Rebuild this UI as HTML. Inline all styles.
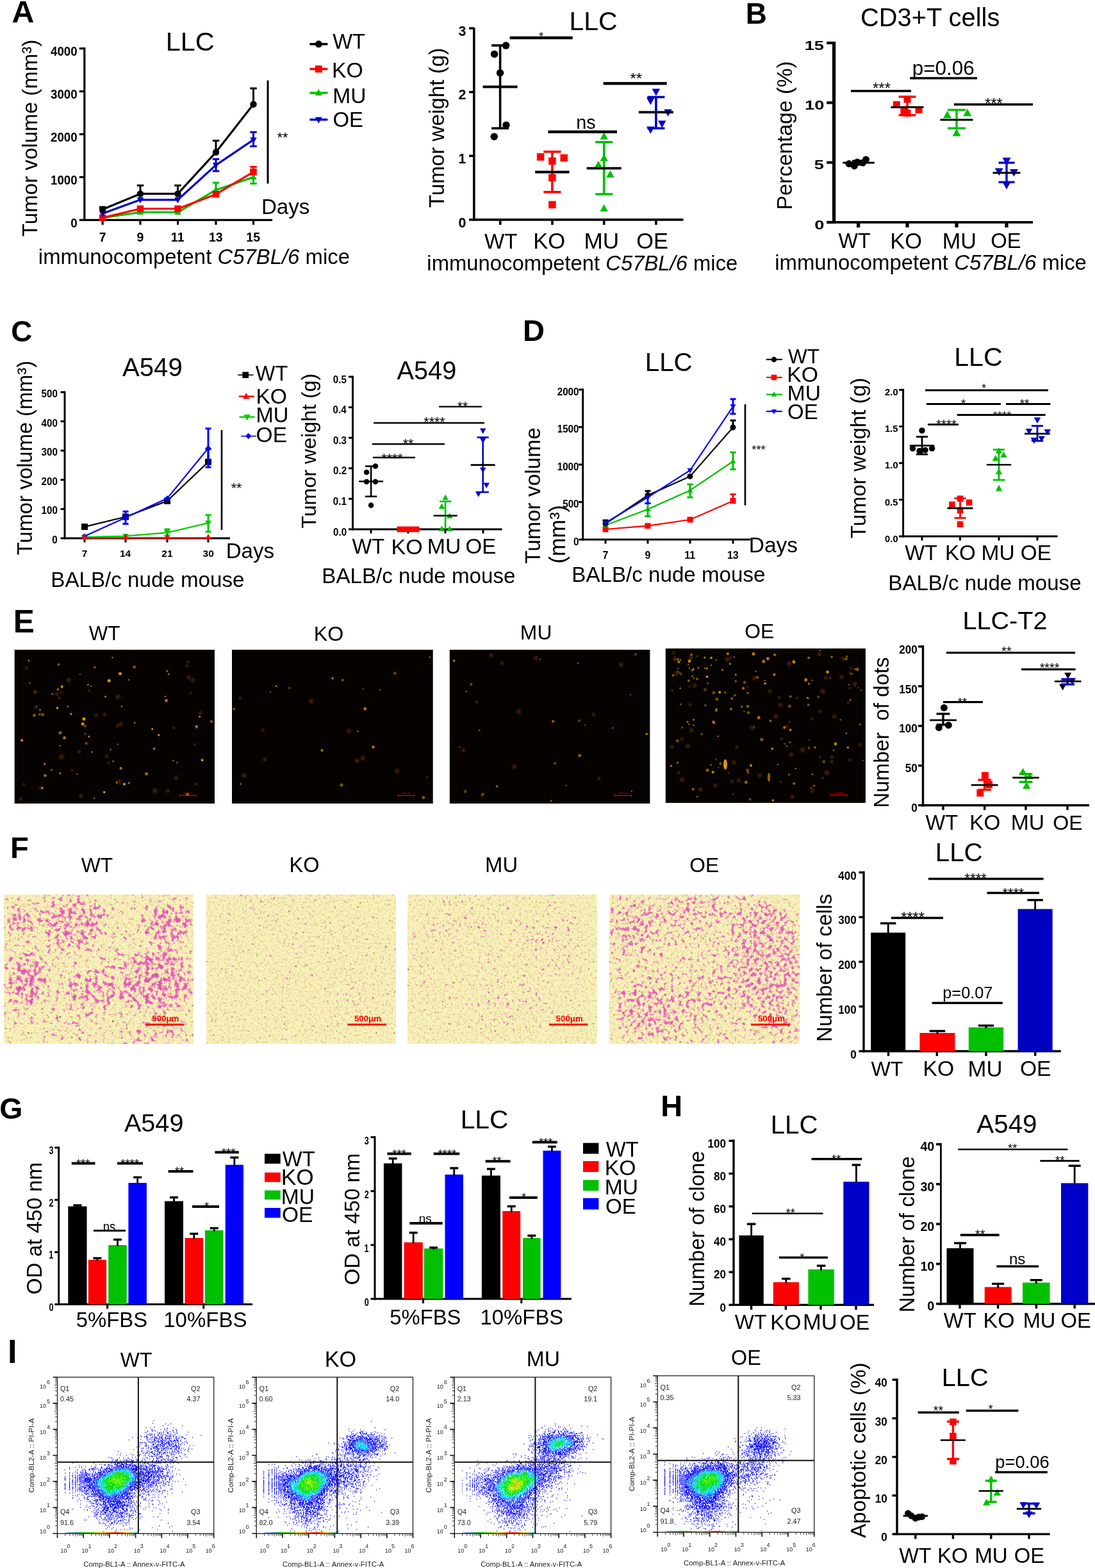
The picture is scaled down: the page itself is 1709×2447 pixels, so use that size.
<!DOCTYPE html>
<html><head><meta charset="utf-8"><title>Figure</title>
<style>html,body{margin:0;padding:0;background:#fff;}svg{display:block;}
text{font-family:"Liberation Sans",Arial,Helvetica,sans-serif;}</style></head>
<body><svg width="1709" height="2447" viewBox="0 0 1709 2447">
<rect width="1709" height="2447" fill="#fff"/>
<text transform="translate(18.39,34.58)" font-size="48.36" font-weight="bold">A</text>
<text transform="translate(258.69,79.03)" font-size="41.40">LLC</text>
<line x1="131.80" y1="74.10" x2="131.80" y2="344.90" stroke="#000" stroke-width="3.20"/>
<line x1="130.20" y1="343.30" x2="425.00" y2="343.30" stroke="#000" stroke-width="3.20"/>
<line x1="123.80" y1="343.30" x2="131.80" y2="343.30" stroke="#000" stroke-width="3.20"/>
<line x1="123.80" y1="276.40" x2="131.80" y2="276.40" stroke="#000" stroke-width="3.20"/>
<line x1="123.80" y1="209.50" x2="131.80" y2="209.50" stroke="#000" stroke-width="3.20"/>
<line x1="123.80" y1="142.60" x2="131.80" y2="142.60" stroke="#000" stroke-width="3.20"/>
<line x1="123.80" y1="75.70" x2="131.80" y2="75.70" stroke="#000" stroke-width="3.20"/>
<line x1="160.10" y1="343.30" x2="160.10" y2="350.80" stroke="#000" stroke-width="3.20"/>
<line x1="219.00" y1="343.30" x2="219.00" y2="350.80" stroke="#000" stroke-width="3.20"/>
<line x1="277.50" y1="343.30" x2="277.50" y2="350.80" stroke="#000" stroke-width="3.20"/>
<line x1="337.00" y1="343.30" x2="337.00" y2="350.80" stroke="#000" stroke-width="3.20"/>
<line x1="395.50" y1="343.30" x2="395.50" y2="350.80" stroke="#000" stroke-width="3.20"/>
<text transform="translate(110.26,354.53) scale(0.960,1)" font-size="19.50" font-weight="bold">0</text>
<text transform="translate(79.00,287.63) scale(0.960,1)" font-size="19.50" font-weight="bold">1000</text>
<text transform="translate(79.00,220.73) scale(0.960,1)" font-size="19.50" font-weight="bold">2000</text>
<text transform="translate(79.00,153.83) scale(0.960,1)" font-size="19.50" font-weight="bold">3000</text>
<text transform="translate(79.00,86.93) scale(0.960,1)" font-size="19.50" font-weight="bold">4000</text>
<text transform="translate(154.69,376.93)" font-size="19.50" font-weight="bold">7</text>
<text transform="translate(213.59,376.93)" font-size="19.50" font-weight="bold">9</text>
<text transform="translate(266.87,376.93)" font-size="19.50" font-weight="bold">11</text>
<text transform="translate(325.93,376.93)" font-size="19.50" font-weight="bold">13</text>
<text transform="translate(384.34,376.83)" font-size="19.50" font-weight="bold">15</text>
<polyline points="160.10,339.95 219.00,331.26 277.50,331.26 337.00,296.47 395.50,276.40" fill="none" stroke="#00c000" stroke-width="3.2" stroke-linejoin="round"/>
<path d="M160.10 334.28L165.35 343.73L154.85 343.73Z" fill="#00c000"/>
<path d="M219.00 325.59L224.25 335.04L213.75 335.04Z" fill="#00c000"/>
<path d="M277.50 325.59L282.75 335.04L272.25 335.04Z" fill="#00c000"/>
<line x1="337.00" y1="285.10" x2="337.00" y2="296.47" stroke="#00c000" stroke-width="3.00"/>
<line x1="331.70" y1="285.10" x2="342.30" y2="285.10" stroke="#00c000" stroke-width="3.00"/>
<path d="M337.00 290.80L342.25 300.25L331.75 300.25Z" fill="#00c000"/>
<line x1="395.50" y1="266.37" x2="395.50" y2="276.40" stroke="#00c000" stroke-width="3.00"/>
<line x1="390.20" y1="266.37" x2="400.80" y2="266.37" stroke="#00c000" stroke-width="3.00"/>
<line x1="395.50" y1="286.44" x2="395.50" y2="276.40" stroke="#00c000" stroke-width="3.00"/>
<line x1="390.20" y1="286.44" x2="400.80" y2="286.44" stroke="#00c000" stroke-width="3.00"/>
<path d="M395.50 270.73L400.75 280.18L390.25 280.18Z" fill="#00c000"/>
<polyline points="160.10,339.82 219.00,325.77 277.50,325.77 337.00,303.16 395.50,268.37" fill="none" stroke="#ff0000" stroke-width="3.2" stroke-linejoin="round"/>
<rect x="154.85" y="334.57" width="10.50" height="10.50" fill="#ff0000"/>
<rect x="213.75" y="320.52" width="10.50" height="10.50" fill="#ff0000"/>
<rect x="272.25" y="320.52" width="10.50" height="10.50" fill="#ff0000"/>
<rect x="331.75" y="297.91" width="10.50" height="10.50" fill="#ff0000"/>
<line x1="395.50" y1="260.34" x2="395.50" y2="268.37" stroke="#ff0000" stroke-width="3.00"/>
<line x1="390.20" y1="260.34" x2="400.80" y2="260.34" stroke="#ff0000" stroke-width="3.00"/>
<rect x="390.25" y="263.12" width="10.50" height="10.50" fill="#ff0000"/>
<polyline points="160.10,333.26 219.00,311.79 277.50,311.79 337.00,257.67 395.50,218.20" fill="none" stroke="#0000c8" stroke-width="3.2" stroke-linejoin="round"/>
<path d="M160.10 338.94L165.35 329.49L154.85 329.49Z" fill="#0000c8"/>
<path d="M219.00 317.46L224.25 308.01L213.75 308.01Z" fill="#0000c8"/>
<path d="M277.50 317.46L282.75 308.01L272.25 308.01Z" fill="#0000c8"/>
<line x1="337.00" y1="248.30" x2="337.00" y2="257.67" stroke="#0000c8" stroke-width="3.00"/>
<line x1="331.70" y1="248.30" x2="342.30" y2="248.30" stroke="#0000c8" stroke-width="3.00"/>
<line x1="337.00" y1="267.03" x2="337.00" y2="257.67" stroke="#0000c8" stroke-width="3.00"/>
<line x1="331.70" y1="267.03" x2="342.30" y2="267.03" stroke="#0000c8" stroke-width="3.00"/>
<path d="M337.00 263.34L342.25 253.89L331.75 253.89Z" fill="#0000c8"/>
<line x1="395.50" y1="206.16" x2="395.50" y2="218.20" stroke="#0000c8" stroke-width="3.00"/>
<line x1="390.20" y1="206.16" x2="400.80" y2="206.16" stroke="#0000c8" stroke-width="3.00"/>
<line x1="395.50" y1="228.23" x2="395.50" y2="218.20" stroke="#0000c8" stroke-width="3.00"/>
<line x1="390.20" y1="228.23" x2="400.80" y2="228.23" stroke="#0000c8" stroke-width="3.00"/>
<path d="M395.50 223.87L400.75 214.42L390.25 214.42Z" fill="#0000c8"/>
<polyline points="160.10,326.78 219.00,302.42 277.50,302.42 337.00,237.60 395.50,162.67" fill="none" stroke="#000000" stroke-width="3.2" stroke-linejoin="round"/>
<line x1="160.10" y1="323.23" x2="160.10" y2="326.78" stroke="#000000" stroke-width="3.00"/>
<line x1="154.80" y1="323.23" x2="165.40" y2="323.23" stroke="#000000" stroke-width="3.00"/>
<circle cx="160.10" cy="326.78" r="5.25" fill="#000000"/>
<line x1="219.00" y1="289.38" x2="219.00" y2="302.42" stroke="#000000" stroke-width="3.00"/>
<line x1="213.70" y1="289.38" x2="224.30" y2="289.38" stroke="#000000" stroke-width="3.00"/>
<circle cx="219.00" cy="302.42" r="5.25" fill="#000000"/>
<line x1="277.50" y1="289.38" x2="277.50" y2="302.42" stroke="#000000" stroke-width="3.00"/>
<line x1="272.20" y1="289.38" x2="282.80" y2="289.38" stroke="#000000" stroke-width="3.00"/>
<circle cx="277.50" cy="302.42" r="5.25" fill="#000000"/>
<line x1="337.00" y1="219.53" x2="337.00" y2="237.60" stroke="#000000" stroke-width="3.00"/>
<line x1="331.70" y1="219.53" x2="342.30" y2="219.53" stroke="#000000" stroke-width="3.00"/>
<circle cx="337.00" cy="237.60" r="5.25" fill="#000000"/>
<line x1="395.50" y1="137.92" x2="395.50" y2="162.67" stroke="#000000" stroke-width="3.00"/>
<line x1="390.20" y1="137.92" x2="400.80" y2="137.92" stroke="#000000" stroke-width="3.00"/>
<circle cx="395.50" cy="162.67" r="5.25" fill="#000000"/>
<line x1="483.40" y1="68.80" x2="511.30" y2="68.80" stroke="#000000" stroke-width="3.50"/>
<circle cx="497.30" cy="68.80" r="5.50" fill="#000000"/>
<text transform="translate(519.14,75.82)" font-size="32.68">WT</text>
<line x1="483.40" y1="107.70" x2="511.30" y2="107.70" stroke="#ff0000" stroke-width="3.50"/>
<rect x="491.80" y="102.20" width="11.00" height="11.00" fill="#ff0000"/>
<text transform="translate(517.90,120.70)" font-size="33.76">KO</text>
<line x1="483.40" y1="145.00" x2="511.30" y2="145.00" stroke="#00c000" stroke-width="3.50"/>
<path d="M497.30 139.06L502.80 148.96L491.80 148.96Z" fill="#00c000"/>
<text transform="translate(519.21,161.01)" font-size="33.57">MU</text>
<line x1="483.40" y1="186.70" x2="511.30" y2="186.70" stroke="#0000c8" stroke-width="3.50"/>
<path d="M497.30 192.64L502.80 182.74L491.80 182.74Z" fill="#0000c8"/>
<text transform="translate(519.42,198.19)" font-size="32.87">OE</text>
<line x1="418.00" y1="125.50" x2="418.00" y2="286.50" stroke="#000" stroke-width="3.00"/>
<text x="441.00" y="222.00" font-size="22.00" text-anchor="middle">**</text>
<text transform="translate(407.95,334.30)" font-size="33.12">Days</text>
<text transform="translate(59.86,412.47)" font-size="32.88"><tspan>immunocompetent </tspan><tspan font-style="italic">C57BL/6</tspan><tspan> mice</tspan></text>
<text transform="translate(57.52,369.16) rotate(-90)" font-size="33.09">Tumor volume (mm³)</text>
<line x1="739.80" y1="43.20" x2="739.80" y2="344.70" stroke="#000" stroke-width="3.60"/>
<line x1="738.00" y1="342.90" x2="1066.50" y2="342.90" stroke="#000" stroke-width="3.60"/>
<line x1="732.10" y1="342.90" x2="739.80" y2="342.90" stroke="#000" stroke-width="3.60"/>
<line x1="732.10" y1="243.30" x2="739.80" y2="243.30" stroke="#000" stroke-width="3.60"/>
<line x1="732.10" y1="143.70" x2="739.80" y2="143.70" stroke="#000" stroke-width="3.60"/>
<line x1="732.10" y1="44.10" x2="739.80" y2="44.10" stroke="#000" stroke-width="3.60"/>
<line x1="780.80" y1="342.90" x2="780.80" y2="350.90" stroke="#000" stroke-width="3.60"/>
<line x1="861.90" y1="342.90" x2="861.90" y2="350.90" stroke="#000" stroke-width="3.60"/>
<line x1="942.70" y1="342.90" x2="942.70" y2="350.90" stroke="#000" stroke-width="3.60"/>
<line x1="1023.90" y1="342.90" x2="1023.90" y2="350.90" stroke="#000" stroke-width="3.60"/>
<text transform="translate(715.53,354.52)" font-size="21.50" font-weight="bold">0</text>
<text transform="translate(715.21,254.92)" font-size="21.50" font-weight="bold">1</text>
<text transform="translate(715.53,155.43)" font-size="21.50" font-weight="bold">2</text>
<text transform="translate(715.42,55.72)" font-size="21.50" font-weight="bold">3</text>
<text transform="translate(888.52,46.89)" font-size="40.99">LLC</text>
<text transform="translate(693.30,324.26) rotate(-90)" font-size="33.19">Tumor weight (g)</text>
<text transform="translate(755.93,387.58)" font-size="33.14">WT</text>
<text transform="translate(832.23,388.11)" font-size="34.68">KO</text>
<text transform="translate(911.48,388.12)" font-size="35.21">MU</text>
<text transform="translate(993.15,388.02)" font-size="34.41">OE</text>
<text transform="translate(666.37,421.85)" font-size="32.81"><tspan>immunocompetent </tspan><tspan font-style="italic">C57BL/6</tspan><tspan> mice</tspan></text>
<line x1="780.60" y1="70.90" x2="780.60" y2="135.50" stroke="#000000" stroke-width="3.60"/><line x1="767.10" y1="70.90" x2="794.10" y2="70.90" stroke="#000000" stroke-width="3.60"/><line x1="780.60" y1="135.50" x2="780.60" y2="200.20" stroke="#000000" stroke-width="3.60"/><line x1="767.10" y1="200.20" x2="794.10" y2="200.20" stroke="#000000" stroke-width="3.60"/><circle cx="789.60" cy="71.10" r="5.75" fill="#000000"/><circle cx="771.60" cy="84.40" r="5.75" fill="#000000"/><circle cx="780.60" cy="113.80" r="5.75" fill="#000000"/><circle cx="790.00" cy="195.30" r="5.75" fill="#000000"/><circle cx="771.30" cy="213.20" r="5.75" fill="#000000"/><line x1="753.60" y1="135.50" x2="807.60" y2="135.50" stroke="#000" stroke-width="3.80"/>
<line x1="861.90" y1="236.80" x2="861.90" y2="268.50" stroke="#ff0000" stroke-width="3.60"/><line x1="848.40" y1="236.80" x2="875.40" y2="236.80" stroke="#ff0000" stroke-width="3.60"/><line x1="861.90" y1="268.50" x2="861.90" y2="299.70" stroke="#ff0000" stroke-width="3.60"/><line x1="848.40" y1="299.70" x2="875.40" y2="299.70" stroke="#ff0000" stroke-width="3.60"/><rect x="837.85" y="239.15" width="11.50" height="11.50" fill="#ff0000"/><rect x="856.15" y="245.65" width="11.50" height="11.50" fill="#ff0000"/><rect x="874.45" y="240.75" width="11.50" height="11.50" fill="#ff0000"/><rect x="856.15" y="271.75" width="11.50" height="11.50" fill="#ff0000"/><rect x="856.15" y="313.75" width="11.50" height="11.50" fill="#ff0000"/><line x1="835.20" y1="268.50" x2="888.60" y2="268.50" stroke="#000" stroke-width="3.80"/>
<line x1="942.70" y1="221.80" x2="942.70" y2="262.60" stroke="#00c000" stroke-width="3.60"/><line x1="929.20" y1="221.80" x2="956.20" y2="221.80" stroke="#00c000" stroke-width="3.60"/><line x1="942.70" y1="262.60" x2="942.70" y2="303.00" stroke="#00c000" stroke-width="3.60"/><line x1="929.20" y1="303.00" x2="956.20" y2="303.00" stroke="#00c000" stroke-width="3.60"/><path d="M942.70 206.45L948.95 217.70L936.45 217.70Z" fill="#00c000"/><path d="M934.00 250.65L940.25 261.90L927.75 261.90Z" fill="#00c000"/><path d="M942.70 240.15L948.95 251.40L936.45 251.40Z" fill="#00c000"/><path d="M952.40 265.65L958.65 276.90L946.15 276.90Z" fill="#00c000"/><path d="M942.70 318.75L948.95 330.00L936.45 330.00Z" fill="#00c000"/><line x1="915.70" y1="262.60" x2="969.70" y2="262.60" stroke="#000" stroke-width="3.80"/>
<line x1="1023.90" y1="151.50" x2="1023.90" y2="175.10" stroke="#0000c8" stroke-width="3.60"/><line x1="1010.40" y1="151.50" x2="1037.40" y2="151.50" stroke="#0000c8" stroke-width="3.60"/><line x1="1023.90" y1="175.10" x2="1023.90" y2="200.20" stroke="#0000c8" stroke-width="3.60"/><line x1="1010.40" y1="200.20" x2="1037.40" y2="200.20" stroke="#0000c8" stroke-width="3.60"/><path d="M1023.90 149.65L1030.15 138.40L1017.65 138.40Z" fill="#0000c8"/><path d="M1015.30 163.85L1021.55 152.60L1009.05 152.60Z" fill="#0000c8"/><path d="M1042.60 181.85L1048.85 170.60L1036.35 170.60Z" fill="#0000c8"/><path d="M1033.20 199.45L1039.45 188.20L1026.95 188.20Z" fill="#0000c8"/><path d="M1015.30 208.75L1021.55 197.50L1009.05 197.50Z" fill="#0000c8"/><line x1="996.90" y1="175.10" x2="1050.90" y2="175.10" stroke="#000" stroke-width="3.80"/>
<line x1="795.60" y1="59.10" x2="893.70" y2="59.10" stroke="#000" stroke-width="4.50"/>
<text transform="translate(840.98,63.31)" font-size="18.57">*</text>
<line x1="855.50" y1="205.80" x2="962.90" y2="205.80" stroke="#000" stroke-width="4.50"/>
<text transform="translate(899.23,200.53)" font-size="28.80">ns</text>
<line x1="941.60" y1="130.20" x2="1040.70" y2="130.20" stroke="#000" stroke-width="4.50"/>
<text transform="translate(983.44,131.11)" font-size="24.00">**</text>
<text transform="translate(1163.82,37.34)" font-size="45.90" font-weight="bold">B</text>
<text transform="translate(1343.01,41.25)" font-size="39.85">CD3+T cells</text>
<line x1="1301.60" y1="64.90" x2="1301.60" y2="348.85" stroke="#000" stroke-width="5.20"/>
<line x1="1299.00" y1="346.90" x2="1612.00" y2="346.90" stroke="#000" stroke-width="3.90"/>
<line x1="1290.20" y1="346.90" x2="1301.60" y2="346.90" stroke="#000" stroke-width="4.20"/>
<line x1="1290.20" y1="253.60" x2="1301.60" y2="253.60" stroke="#000" stroke-width="4.20"/>
<line x1="1290.20" y1="160.30" x2="1301.60" y2="160.30" stroke="#000" stroke-width="4.20"/>
<line x1="1290.20" y1="67.00" x2="1301.60" y2="67.00" stroke="#000" stroke-width="4.20"/>
<line x1="1339.60" y1="346.90" x2="1339.60" y2="354.90" stroke="#000" stroke-width="5.30"/>
<line x1="1416.00" y1="346.90" x2="1416.00" y2="354.90" stroke="#000" stroke-width="5.30"/>
<line x1="1493.00" y1="346.90" x2="1493.00" y2="354.90" stroke="#000" stroke-width="5.30"/>
<line x1="1571.00" y1="346.90" x2="1571.00" y2="354.90" stroke="#000" stroke-width="5.30"/>
<text transform="translate(1271.24,357.64) scale(1.300,1)" font-size="21.00" font-weight="bold">0</text>
<text transform="translate(1270.83,264.24) scale(1.300,1)" font-size="21.00" font-weight="bold">5</text>
<text transform="translate(1256.09,171.04) scale(1.300,1)" font-size="21.00" font-weight="bold">10</text>
<text transform="translate(1255.68,77.64) scale(1.300,1)" font-size="21.00" font-weight="bold">15</text>
<text transform="translate(1235.61,327.58) rotate(-90)" font-size="33.45">Percentage (%)</text>
<text transform="translate(1308.44,387.11)" font-size="32.35">WT</text>
<text transform="translate(1389.24,387.83)" font-size="34.45">KO</text>
<text transform="translate(1470.76,387.58)" font-size="34.21">MU</text>
<text transform="translate(1546.22,387.26)" font-size="32.79">OE</text>
<text transform="translate(1209.16,420.73)" font-size="32.93"><tspan>immunocompetent </tspan><tspan font-style="italic">C57BL/6</tspan><tspan> mice</tspan></text>
<line x1="1340.00" y1="251.00" x2="1340.00" y2="254.00" stroke="#000000" stroke-width="3.00"/><line x1="1330.00" y1="251.00" x2="1350.00" y2="251.00" stroke="#000000" stroke-width="3.00"/><line x1="1340.00" y1="254.00" x2="1340.00" y2="257.00" stroke="#000000" stroke-width="3.00"/><line x1="1330.00" y1="257.00" x2="1350.00" y2="257.00" stroke="#000000" stroke-width="3.00"/><circle cx="1325.10" cy="255.60" r="5.50" fill="#000000"/><circle cx="1333.40" cy="258.90" r="5.50" fill="#000000"/><circle cx="1346.60" cy="254.00" r="5.50" fill="#000000"/><circle cx="1351.50" cy="249.00" r="5.50" fill="#000000"/><circle cx="1338.00" cy="253.00" r="5.50" fill="#000000"/><line x1="1315.25" y1="254.00" x2="1364.75" y2="254.00" stroke="#000" stroke-width="3.00"/>
<line x1="1416.00" y1="151.00" x2="1416.00" y2="167.20" stroke="#ff0000" stroke-width="3.40"/><line x1="1402.50" y1="151.00" x2="1429.50" y2="151.00" stroke="#ff0000" stroke-width="3.40"/><line x1="1416.00" y1="167.20" x2="1416.00" y2="179.70" stroke="#ff0000" stroke-width="3.40"/><line x1="1402.50" y1="179.70" x2="1429.50" y2="179.70" stroke="#ff0000" stroke-width="3.40"/><rect x="1393.80" y="157.80" width="11.00" height="11.00" fill="#ff0000"/><rect x="1410.50" y="149.50" width="11.00" height="11.00" fill="#ff0000"/><rect x="1428.50" y="166.00" width="11.00" height="11.00" fill="#ff0000"/><rect x="1410.50" y="171.00" width="11.00" height="11.00" fill="#ff0000"/><rect x="1405.40" y="167.70" width="11.00" height="11.00" fill="#ff0000"/><line x1="1390.40" y1="167.20" x2="1441.60" y2="167.20" stroke="#000" stroke-width="3.00"/>
<line x1="1493.00" y1="171.50" x2="1493.00" y2="187.00" stroke="#00c000" stroke-width="3.40"/><line x1="1479.00" y1="171.50" x2="1507.00" y2="171.50" stroke="#00c000" stroke-width="3.40"/><line x1="1493.00" y1="187.00" x2="1493.00" y2="200.20" stroke="#00c000" stroke-width="3.40"/><line x1="1479.00" y1="200.20" x2="1507.00" y2="200.20" stroke="#00c000" stroke-width="3.40"/><path d="M1478.50 172.68L1485.00 184.38L1472.00 184.38Z" fill="#00c000"/><path d="M1509.80 169.48L1516.30 181.18L1503.30 181.18Z" fill="#00c000"/><path d="M1493.00 200.78L1499.50 212.48L1486.50 212.48Z" fill="#00c000"/><line x1="1467.45" y1="187.00" x2="1518.55" y2="187.00" stroke="#000" stroke-width="3.00"/>
<line x1="1571.00" y1="254.00" x2="1571.00" y2="269.80" stroke="#0000c8" stroke-width="3.40"/><line x1="1558.50" y1="254.00" x2="1583.50" y2="254.00" stroke="#0000c8" stroke-width="3.40"/><line x1="1571.00" y1="269.80" x2="1571.00" y2="284.30" stroke="#0000c8" stroke-width="3.40"/><line x1="1558.50" y1="284.30" x2="1583.50" y2="284.30" stroke="#0000c8" stroke-width="3.40"/><path d="M1571.00 257.72L1577.50 246.02L1564.50 246.02Z" fill="#0000c8"/><path d="M1559.30 274.22L1565.80 262.52L1552.80 262.52Z" fill="#0000c8"/><path d="M1582.40 275.82L1588.90 264.12L1575.90 264.12Z" fill="#0000c8"/><path d="M1571.00 295.62L1577.50 283.92L1564.50 283.92Z" fill="#0000c8"/><line x1="1549.55" y1="269.80" x2="1592.45" y2="269.80" stroke="#000" stroke-width="3.00"/>
<line x1="1328.00" y1="142.00" x2="1422.00" y2="142.00" stroke="#000" stroke-width="3.60"/>
<text transform="translate(1361.96,145.61)" font-size="24.00">***</text>
<line x1="1420.00" y1="122.00" x2="1525.00" y2="122.00" stroke="#000" stroke-width="3.60"/>
<text transform="translate(1423.65,117.16)" font-size="31.48">p=0.06</text>
<line x1="1489.00" y1="163.00" x2="1612.00" y2="163.00" stroke="#000" stroke-width="3.60"/>
<text transform="translate(1537.29,169.57)" font-size="23.43">***</text>
<text transform="translate(17.17,532.80)" font-size="45.80" font-weight="bold">C</text>
<text transform="translate(191.00,587.36)" font-size="40.17">A549</text>
<line x1="101.00" y1="610.50" x2="101.00" y2="841.50" stroke="#000" stroke-width="3.00"/>
<line x1="99.50" y1="840.00" x2="359.00" y2="840.00" stroke="#000" stroke-width="3.00"/>
<line x1="94.50" y1="840.00" x2="101.00" y2="840.00" stroke="#000" stroke-width="3.00"/>
<line x1="94.50" y1="794.40" x2="101.00" y2="794.40" stroke="#000" stroke-width="3.00"/>
<line x1="94.50" y1="748.80" x2="101.00" y2="748.80" stroke="#000" stroke-width="3.00"/>
<line x1="94.50" y1="703.20" x2="101.00" y2="703.20" stroke="#000" stroke-width="3.00"/>
<line x1="94.50" y1="657.60" x2="101.00" y2="657.60" stroke="#000" stroke-width="3.00"/>
<line x1="94.50" y1="612.00" x2="101.00" y2="612.00" stroke="#000" stroke-width="3.00"/>
<line x1="132.00" y1="840.00" x2="132.00" y2="846.50" stroke="#000" stroke-width="3.00"/>
<line x1="196.00" y1="840.00" x2="196.00" y2="846.50" stroke="#000" stroke-width="3.00"/>
<line x1="261.00" y1="840.00" x2="261.00" y2="846.50" stroke="#000" stroke-width="3.00"/>
<line x1="325.00" y1="840.00" x2="325.00" y2="846.50" stroke="#000" stroke-width="3.00"/>
<text transform="translate(81.37,848.02) scale(0.950,1)" font-size="16.00" font-weight="bold">0</text>
<text transform="translate(64.50,802.42) scale(0.950,1)" font-size="16.00" font-weight="bold">100</text>
<text transform="translate(64.50,756.82) scale(0.950,1)" font-size="16.00" font-weight="bold">200</text>
<text transform="translate(64.50,711.22) scale(0.950,1)" font-size="16.00" font-weight="bold">300</text>
<text transform="translate(64.50,665.62) scale(0.950,1)" font-size="16.00" font-weight="bold">400</text>
<text transform="translate(64.50,620.02) scale(0.950,1)" font-size="16.00" font-weight="bold">500</text>
<text transform="translate(127.70,869.15)" font-size="15.50" font-weight="bold">7</text>
<text transform="translate(186.97,869.15)" font-size="15.50" font-weight="bold">14</text>
<text transform="translate(252.32,869.22)" font-size="15.50" font-weight="bold">21</text>
<text transform="translate(316.51,869.15)" font-size="15.50" font-weight="bold">30</text>
<text transform="translate(352.65,871.30)" font-size="33.12">Days</text>
<text transform="translate(79.35,916.40)" font-size="33.15">BALB/c nude mouse</text>
<text transform="translate(50.20,866.15) rotate(-90)" font-size="32.61">Tumor volume (mm³)</text>
<polyline points="132,840 196,840 261,840 325,840" fill="none" stroke="#b00000" stroke-width="2.2"/>
<polyline points="132,838 196,836.7 261,831.2 325,816.1" fill="none" stroke="#00cc00" stroke-width="2.2"/>
<path d="M132.00 843.40L137.00 834.40L127.00 834.40Z" fill="#00cc00"/>
<path d="M196.00 842.10L201.00 833.10L191.00 833.10Z" fill="#00cc00"/>
<line x1="261.00" y1="826.00" x2="261.00" y2="831.20" stroke="#00cc00" stroke-width="3.00"/><line x1="256.50" y1="826.00" x2="265.50" y2="826.00" stroke="#00cc00" stroke-width="3.00"/>
<line x1="261.00" y1="831.20" x2="261.00" y2="836.00" stroke="#00cc00" stroke-width="3.00"/><line x1="256.50" y1="836.00" x2="265.50" y2="836.00" stroke="#00cc00" stroke-width="3.00"/>
<path d="M261.00 836.60L266.00 827.60L256.00 827.60Z" fill="#00cc00"/>
<line x1="325.00" y1="803.70" x2="325.00" y2="816.10" stroke="#00cc00" stroke-width="3.00"/><line x1="320.50" y1="803.70" x2="329.50" y2="803.70" stroke="#00cc00" stroke-width="3.00"/>
<line x1="325.00" y1="816.10" x2="325.00" y2="829.80" stroke="#00cc00" stroke-width="3.00"/><line x1="320.50" y1="829.80" x2="329.50" y2="829.80" stroke="#00cc00" stroke-width="3.00"/>
<path d="M325.00 821.50L330.00 812.50L320.00 812.50Z" fill="#00cc00"/>
<polyline points="132,822.1 196,806.5 261,781.8 325,720.9" fill="none" stroke="#000000" stroke-width="2.2"/>
<rect x="127.00" y="817.10" width="10.00" height="10.00" fill="#000000"/>
<rect x="191.00" y="801.50" width="10.00" height="10.00" fill="#000000"/>
<rect x="256.00" y="776.80" width="10.00" height="10.00" fill="#000000"/>
<line x1="325.00" y1="700.80" x2="325.00" y2="720.90" stroke="#000000" stroke-width="3.00"/><line x1="320.50" y1="700.80" x2="329.50" y2="700.80" stroke="#000000" stroke-width="3.00"/>
<rect x="320.00" y="715.90" width="10.00" height="10.00" fill="#000000"/>
<polyline points="132,836.7 196,807.8 261,777.7 325,699.5" fill="none" stroke="#0000ff" stroke-width="2.2"/>
<path d="M132.00 832.20L136.50 836.70L132.00 841.20L127.50 836.70Z" fill="#0000ff"/>
<line x1="196.00" y1="798.20" x2="196.00" y2="807.80" stroke="#0000ff" stroke-width="3.00"/><line x1="191.50" y1="798.20" x2="200.50" y2="798.20" stroke="#0000ff" stroke-width="3.00"/>
<line x1="196.00" y1="807.80" x2="196.00" y2="817.50" stroke="#0000ff" stroke-width="3.00"/><line x1="191.50" y1="817.50" x2="200.50" y2="817.50" stroke="#0000ff" stroke-width="3.00"/>
<path d="M196.00 803.30L200.50 807.80L196.00 812.30L191.50 807.80Z" fill="#0000ff"/>
<path d="M261.00 773.20L265.50 777.70L261.00 782.20L256.50 777.70Z" fill="#0000ff"/>
<line x1="325.00" y1="668.80" x2="325.00" y2="699.50" stroke="#0000ff" stroke-width="3.00"/><line x1="320.50" y1="668.80" x2="329.50" y2="668.80" stroke="#0000ff" stroke-width="3.00"/>
<line x1="325.00" y1="699.50" x2="325.00" y2="729.10" stroke="#0000ff" stroke-width="3.00"/><line x1="320.50" y1="729.10" x2="329.50" y2="729.10" stroke="#0000ff" stroke-width="3.00"/>
<path d="M325.00 695.00L329.50 699.50L325.00 704.00L320.50 699.50Z" fill="#0000ff"/>
<path d="M132.00 833.10L137.00 842.10L127.00 842.10Z" fill="#ff0000"/>
<path d="M196.00 833.10L201.00 842.10L191.00 842.10Z" fill="#ff0000"/>
<path d="M261.00 833.10L266.00 842.10L256.00 842.10Z" fill="#ff0000"/>
<path d="M325.00 833.10L330.00 842.10L320.00 842.10Z" fill="#ff0000"/>
<line x1="346.00" y1="671.00" x2="346.00" y2="827.00" stroke="#000" stroke-width="2.60"/>
<text transform="translate(360.64,769.29)" font-size="21.43">**</text>
<line x1="371.20" y1="585.20" x2="395.50" y2="585.20" stroke="#000000" stroke-width="1.60"/>
<rect x="378.35" y="580.35" width="9.70" height="9.70" fill="#000000"/>
<text transform="translate(398.84,594.28)" font-size="32.55">WT</text>
<line x1="372.80" y1="618.60" x2="396.80" y2="618.60" stroke="#ff0000" stroke-width="2.40"/>
<path d="M384.20 612.93L389.45 622.38L378.95 622.38Z" fill="#ff0000"/>
<text transform="translate(399.41,629.55)" font-size="33.61">KO</text>
<line x1="373.40" y1="650.70" x2="397.40" y2="650.70" stroke="#00cc00" stroke-width="2.40"/>
<path d="M385.70 656.37L390.95 646.92L380.45 646.92Z" fill="#00cc00"/>
<text transform="translate(399.48,659.07)" font-size="32.71">MU</text>
<line x1="375.90" y1="680.60" x2="399.90" y2="680.60" stroke="#0000ff" stroke-width="1.60"/>
<path d="M387.70 675.85L392.45 680.60L387.70 685.35L382.95 680.60Z" fill="#0000ff"/>
<text transform="translate(399.59,689.72)" font-size="33.53">OE</text>
<line x1="550.50" y1="586.50" x2="550.50" y2="827.50" stroke="#000" stroke-width="3.00"/>
<line x1="549.00" y1="826.00" x2="783.60" y2="826.00" stroke="#000" stroke-width="3.00"/>
<line x1="544.00" y1="826.00" x2="550.50" y2="826.00" stroke="#000" stroke-width="3.00"/>
<line x1="544.00" y1="778.40" x2="550.50" y2="778.40" stroke="#000" stroke-width="3.00"/>
<line x1="544.00" y1="730.80" x2="550.50" y2="730.80" stroke="#000" stroke-width="3.00"/>
<line x1="544.00" y1="683.20" x2="550.50" y2="683.20" stroke="#000" stroke-width="3.00"/>
<line x1="544.00" y1="635.60" x2="550.50" y2="635.60" stroke="#000" stroke-width="3.00"/>
<line x1="544.00" y1="588.00" x2="550.50" y2="588.00" stroke="#000" stroke-width="3.00"/>
<line x1="579.00" y1="826.00" x2="579.00" y2="832.50" stroke="#000" stroke-width="3.00"/>
<line x1="637.00" y1="826.00" x2="637.00" y2="832.50" stroke="#000" stroke-width="3.00"/>
<line x1="695.00" y1="826.00" x2="695.00" y2="832.50" stroke="#000" stroke-width="3.00"/>
<line x1="754.00" y1="826.00" x2="754.00" y2="832.50" stroke="#000" stroke-width="3.00"/>
<text transform="translate(520.09,835.60) scale(0.900,1)" font-size="16.80" font-weight="bold">0.0</text>
<text transform="translate(519.86,788.00) scale(0.900,1)" font-size="16.80" font-weight="bold">0.1</text>
<text transform="translate(520.09,740.40) scale(0.900,1)" font-size="16.80" font-weight="bold">0.2</text>
<text transform="translate(520.01,692.80) scale(0.900,1)" font-size="16.80" font-weight="bold">0.3</text>
<text transform="translate(519.56,645.20) scale(0.900,1)" font-size="16.80" font-weight="bold">0.4</text>
<text transform="translate(519.86,597.60) scale(0.900,1)" font-size="16.80" font-weight="bold">0.5</text>
<text transform="translate(619.50,591.71)" font-size="39.74">A549</text>
<text transform="translate(492.54,824.74) rotate(-90)" font-size="32.18">Tumor weight (g)</text>
<text transform="translate(549.54,864.05)" font-size="32.61">WT</text>
<text transform="translate(610.57,864.58)" font-size="34.14">KO</text>
<text transform="translate(666.69,864.31)" font-size="33.86">MU</text>
<text transform="translate(726.51,864.19)" font-size="33.01">OE</text>
<text transform="translate(502.35,909.55)" font-size="33.15">BALB/c nude mouse</text>
<line x1="579.10" y1="727.60" x2="579.10" y2="751.30" stroke="#000000" stroke-width="2.60"/><line x1="569.95" y1="727.60" x2="588.25" y2="727.60" stroke="#000000" stroke-width="2.60"/><line x1="579.10" y1="751.30" x2="579.10" y2="774.80" stroke="#000000" stroke-width="2.60"/><line x1="569.95" y1="774.80" x2="588.25" y2="774.80" stroke="#000000" stroke-width="2.60"/><circle cx="585.90" cy="727.60" r="4.25" fill="#000000"/><circle cx="572.10" cy="736.90" r="4.25" fill="#000000"/><circle cx="572.10" cy="751.80" r="4.25" fill="#000000"/><circle cx="585.90" cy="751.80" r="4.25" fill="#000000"/><circle cx="579.10" cy="788.50" r="4.25" fill="#000000"/><line x1="560.10" y1="751.30" x2="598.10" y2="751.30" stroke="#000" stroke-width="2.60"/>
<rect x="619.50" y="821.60" width="34.90" height="8.80" fill="#ff0000"/>
<line x1="695.10" y1="782.50" x2="695.10" y2="804.70" stroke="#00c000" stroke-width="2.60"/><line x1="686.10" y1="782.50" x2="704.10" y2="782.50" stroke="#00c000" stroke-width="2.60"/><path d="M695.10 771.67L699.85 780.22L690.35 780.22Z" fill="#00c000"/><path d="M689.40 785.37L694.15 793.92L684.65 793.92Z" fill="#00c000"/><path d="M701.80 800.27L706.55 808.82L697.05 808.82Z" fill="#00c000"/><path d="M689.40 820.47L694.15 829.02L684.65 829.02Z" fill="#00c000"/><path d="M701.80 820.47L706.55 829.02L697.05 829.02Z" fill="#00c000"/><line x1="676.60" y1="804.70" x2="713.60" y2="804.70" stroke="#000" stroke-width="2.60"/>
<line x1="695.10" y1="804.70" x2="695.10" y2="826.00" stroke="#00c000" stroke-width="2.60"/>
<line x1="753.70" y1="682.50" x2="753.70" y2="725.60" stroke="#0000c8" stroke-width="2.60"/><line x1="744.60" y1="682.50" x2="762.80" y2="682.50" stroke="#0000c8" stroke-width="2.60"/><line x1="753.70" y1="725.60" x2="753.70" y2="768.00" stroke="#0000c8" stroke-width="2.60"/><line x1="744.60" y1="768.00" x2="762.80" y2="768.00" stroke="#0000c8" stroke-width="2.60"/><path d="M753.70 677.13L758.45 668.58L748.95 668.58Z" fill="#0000c8"/><path d="M753.70 692.13L758.45 683.58L748.95 683.58Z" fill="#0000c8"/><path d="M753.70 738.23L758.45 729.68L748.95 729.68Z" fill="#0000c8"/><path d="M759.20 761.93L763.95 753.38L754.45 753.38Z" fill="#0000c8"/><path d="M746.70 775.63L751.45 767.08L741.95 767.08Z" fill="#0000c8"/><line x1="734.70" y1="725.60" x2="772.70" y2="725.60" stroke="#000" stroke-width="2.60"/>
<line x1="582.00" y1="714.00" x2="648.00" y2="714.00" stroke="#000" stroke-width="2.40"/>
<text transform="translate(595.34,722.99)" font-size="21.43">****</text>
<line x1="581.00" y1="693.00" x2="694.00" y2="693.00" stroke="#000" stroke-width="2.40"/>
<text transform="translate(628.64,700.49)" font-size="21.43">**</text>
<line x1="583.00" y1="660.00" x2="756.00" y2="660.00" stroke="#000" stroke-width="2.40"/>
<text transform="translate(661.34,665.59)" font-size="21.43">****</text>
<line x1="685.00" y1="634.60" x2="752.00" y2="634.60" stroke="#000" stroke-width="2.40"/>
<text transform="translate(713.64,641.89)" font-size="21.43">**</text>
<text transform="translate(815.93,531.77)" font-size="47.15" font-weight="bold">D</text>
<text transform="translate(1006.78,578.88)" font-size="40.23">LLC</text>
<line x1="909.70" y1="606.50" x2="909.70" y2="843.50" stroke="#000" stroke-width="3.00"/>
<line x1="908.20" y1="842.00" x2="1171.00" y2="842.00" stroke="#000" stroke-width="3.00"/>
<line x1="903.20" y1="842.00" x2="909.70" y2="842.00" stroke="#000" stroke-width="3.00"/>
<line x1="903.20" y1="783.50" x2="909.70" y2="783.50" stroke="#000" stroke-width="3.00"/>
<line x1="903.20" y1="725.00" x2="909.70" y2="725.00" stroke="#000" stroke-width="3.00"/>
<line x1="903.20" y1="666.50" x2="909.70" y2="666.50" stroke="#000" stroke-width="3.00"/>
<line x1="903.20" y1="608.00" x2="909.70" y2="608.00" stroke="#000" stroke-width="3.00"/>
<line x1="945.00" y1="842.00" x2="945.00" y2="848.50" stroke="#000" stroke-width="3.00"/>
<line x1="1011.00" y1="842.00" x2="1011.00" y2="848.50" stroke="#000" stroke-width="3.00"/>
<line x1="1077.00" y1="842.00" x2="1077.00" y2="848.50" stroke="#000" stroke-width="3.00"/>
<line x1="1144.00" y1="842.00" x2="1144.00" y2="848.50" stroke="#000" stroke-width="3.00"/>
<text transform="translate(895.08,850.69) scale(0.920,1)" font-size="16.50" font-weight="bold">0</text>
<text transform="translate(878.23,792.19) scale(0.920,1)" font-size="16.50" font-weight="bold">500</text>
<text transform="translate(869.73,733.69) scale(0.920,1)" font-size="16.50" font-weight="bold">1000</text>
<text transform="translate(869.73,675.19) scale(0.920,1)" font-size="16.50" font-weight="bold">1500</text>
<text transform="translate(869.73,616.69) scale(0.920,1)" font-size="16.50" font-weight="bold">2000</text>
<text transform="translate(940.56,871.72)" font-size="16.00" font-weight="bold">7</text>
<text transform="translate(1006.56,871.72)" font-size="16.00" font-weight="bold">9</text>
<text transform="translate(1068.28,871.72)" font-size="16.00" font-weight="bold">11</text>
<text transform="translate(1134.92,871.72)" font-size="16.00" font-weight="bold">13</text>
<text transform="translate(1168.82,862.09)" font-size="33.49">Days</text>
<text transform="translate(892.35,907.55)" font-size="33.15">BALB/c nude mouse</text>
<text transform="translate(843.16,879.67) rotate(-90)" font-size="33.45">Tumor volume</text>
<text transform="translate(882.09,879.46) rotate(-90)" font-size="34.33">(mm³)</text>
<polyline points="945,826 1011,820.7 1077,811 1144,781.7" fill="none" stroke="#ff0000" stroke-width="2.2"/>
<rect x="940.50" y="821.50" width="9.00" height="9.00" fill="#ff0000"/>
<rect x="1006.50" y="816.20" width="9.00" height="9.00" fill="#ff0000"/>
<rect x="1072.50" y="806.50" width="9.00" height="9.00" fill="#ff0000"/>
<line x1="1144.00" y1="771.50" x2="1144.00" y2="781.70" stroke="#ff0000" stroke-width="3.00"/><line x1="1139.50" y1="771.50" x2="1148.50" y2="771.50" stroke="#ff0000" stroke-width="3.00"/>
<rect x="1139.50" y="777.20" width="9.00" height="9.00" fill="#ff0000"/>
<polyline points="945,819.8 1011,794.8 1077,765.2 1144,720" fill="none" stroke="#00c000" stroke-width="2.2"/>
<path d="M945.00 814.94L949.50 823.04L940.50 823.04Z" fill="#00c000"/>
<line x1="1011.00" y1="785.50" x2="1011.00" y2="794.80" stroke="#00c000" stroke-width="3.00"/><line x1="1006.50" y1="785.50" x2="1015.50" y2="785.50" stroke="#00c000" stroke-width="3.00"/>
<line x1="1011.00" y1="794.80" x2="1011.00" y2="805.70" stroke="#00c000" stroke-width="3.00"/><line x1="1006.50" y1="805.70" x2="1015.50" y2="805.70" stroke="#00c000" stroke-width="3.00"/>
<path d="M1011.00 789.94L1015.50 798.04L1006.50 798.04Z" fill="#00c000"/>
<line x1="1077.00" y1="755.90" x2="1077.00" y2="765.20" stroke="#00c000" stroke-width="3.00"/><line x1="1072.50" y1="755.90" x2="1081.50" y2="755.90" stroke="#00c000" stroke-width="3.00"/>
<line x1="1077.00" y1="765.20" x2="1077.00" y2="776.10" stroke="#00c000" stroke-width="3.00"/><line x1="1072.50" y1="776.10" x2="1081.50" y2="776.10" stroke="#00c000" stroke-width="3.00"/>
<path d="M1077.00 760.34L1081.50 768.44L1072.50 768.44Z" fill="#00c000"/>
<line x1="1144.00" y1="706.00" x2="1144.00" y2="720.00" stroke="#00c000" stroke-width="3.00"/><line x1="1139.50" y1="706.00" x2="1148.50" y2="706.00" stroke="#00c000" stroke-width="3.00"/>
<line x1="1144.00" y1="720.00" x2="1144.00" y2="732.50" stroke="#00c000" stroke-width="3.00"/><line x1="1139.50" y1="732.50" x2="1148.50" y2="732.50" stroke="#00c000" stroke-width="3.00"/>
<path d="M1144.00 715.14L1148.50 723.24L1139.50 723.24Z" fill="#00c000"/>
<polyline points="945,817.3 1011,773 1077,743.4 1144,667" fill="none" stroke="#000000" stroke-width="2.2"/>
<line x1="945.00" y1="812.00" x2="945.00" y2="817.30" stroke="#000000" stroke-width="3.00"/><line x1="940.50" y1="812.00" x2="949.50" y2="812.00" stroke="#000000" stroke-width="3.00"/>
<circle cx="945.00" cy="817.30" r="4.50" fill="#000000"/>
<line x1="1011.00" y1="766.20" x2="1011.00" y2="773.00" stroke="#000000" stroke-width="3.00"/><line x1="1006.50" y1="766.20" x2="1015.50" y2="766.20" stroke="#000000" stroke-width="3.00"/>
<circle cx="1011.00" cy="773.00" r="4.50" fill="#000000"/>
<circle cx="1077.00" cy="743.40" r="4.50" fill="#000000"/>
<line x1="1144.00" y1="656.10" x2="1144.00" y2="667.00" stroke="#000000" stroke-width="3.00"/><line x1="1139.50" y1="656.10" x2="1148.50" y2="656.10" stroke="#000000" stroke-width="3.00"/>
<circle cx="1144.00" cy="667.00" r="4.50" fill="#000000"/>
<polyline points="945,816 1011,776.1 1077,734 1144,634.3" fill="none" stroke="#0000ff" stroke-width="2.2"/>
<path d="M945.00 820.86L949.50 812.76L940.50 812.76Z" fill="#0000ff"/>
<line x1="1011.00" y1="776.10" x2="1011.00" y2="785.50" stroke="#0000ff" stroke-width="3.00"/><line x1="1006.50" y1="785.50" x2="1015.50" y2="785.50" stroke="#0000ff" stroke-width="3.00"/>
<path d="M1011.00 780.96L1015.50 772.86L1006.50 772.86Z" fill="#0000ff"/>
<path d="M1077.00 738.86L1081.50 730.76L1072.50 730.76Z" fill="#0000ff"/>
<line x1="1144.00" y1="622.80" x2="1144.00" y2="634.30" stroke="#0000ff" stroke-width="3.00"/><line x1="1139.50" y1="622.80" x2="1148.50" y2="622.80" stroke="#0000ff" stroke-width="3.00"/>
<line x1="1144.00" y1="634.30" x2="1144.00" y2="645.80" stroke="#0000ff" stroke-width="3.00"/><line x1="1139.50" y1="645.80" x2="1148.50" y2="645.80" stroke="#0000ff" stroke-width="3.00"/>
<path d="M1144.00 639.16L1148.50 631.06L1139.50 631.06Z" fill="#0000ff"/>
<line x1="1163.00" y1="631.00" x2="1163.00" y2="788.60" stroke="#000" stroke-width="2.60"/>
<text transform="translate(1173.18,707.68)" font-size="18.50">***</text>
<line x1="1196.00" y1="561.00" x2="1221.00" y2="561.00" stroke="#000000" stroke-width="2.20"/>
<circle cx="1208.00" cy="561.00" r="4.25" fill="#000000"/>
<text transform="translate(1230.04,567.29)" font-size="31.57">WT</text>
<line x1="1196.00" y1="589.00" x2="1221.00" y2="589.00" stroke="#ff0000" stroke-width="2.20"/>
<rect x="1203.75" y="584.75" width="8.50" height="8.50" fill="#ff0000"/>
<text transform="translate(1228.30,596.40)" font-size="33.76">KO</text>
<line x1="1196.00" y1="615.60" x2="1221.00" y2="615.60" stroke="#00c000" stroke-width="2.20"/>
<path d="M1208.00 611.01L1212.25 618.66L1203.75 618.66Z" fill="#00c000"/>
<text transform="translate(1228.81,625.46)" font-size="33.57">MU</text>
<line x1="1196.00" y1="642.00" x2="1221.00" y2="642.00" stroke="#0000ff" stroke-width="2.20"/>
<path d="M1208.00 646.59L1212.25 638.94L1203.75 638.94Z" fill="#0000ff"/>
<text transform="translate(1229.12,654.26)" font-size="32.94">OE</text>
<line x1="1409.60" y1="606.90" x2="1409.60" y2="838.50" stroke="#000" stroke-width="3.00"/>
<line x1="1408.10" y1="837.00" x2="1650.50" y2="837.00" stroke="#000" stroke-width="3.00"/>
<line x1="1403.10" y1="837.00" x2="1409.60" y2="837.00" stroke="#000" stroke-width="3.00"/>
<line x1="1403.10" y1="779.85" x2="1409.60" y2="779.85" stroke="#000" stroke-width="3.00"/>
<line x1="1403.10" y1="722.70" x2="1409.60" y2="722.70" stroke="#000" stroke-width="3.00"/>
<line x1="1403.10" y1="665.55" x2="1409.60" y2="665.55" stroke="#000" stroke-width="3.00"/>
<line x1="1403.10" y1="608.40" x2="1409.60" y2="608.40" stroke="#000" stroke-width="3.00"/>
<line x1="1439.00" y1="837.00" x2="1439.00" y2="843.50" stroke="#000" stroke-width="3.00"/>
<line x1="1498.50" y1="837.00" x2="1498.50" y2="843.50" stroke="#000" stroke-width="3.00"/>
<line x1="1559.00" y1="837.00" x2="1559.00" y2="843.50" stroke="#000" stroke-width="3.00"/>
<line x1="1619.00" y1="837.00" x2="1619.00" y2="843.50" stroke="#000" stroke-width="3.00"/>
<text transform="translate(1381.12,845.65) scale(0.950,1)" font-size="15.50" font-weight="bold">0.0</text>
<text transform="translate(1380.90,788.50) scale(0.950,1)" font-size="15.50" font-weight="bold">0.5</text>
<text transform="translate(1381.12,731.35) scale(0.950,1)" font-size="15.50" font-weight="bold">1.0</text>
<text transform="translate(1380.90,674.12) scale(0.950,1)" font-size="15.50" font-weight="bold">1.5</text>
<text transform="translate(1381.12,617.05) scale(0.950,1)" font-size="15.50" font-weight="bold">2.0</text>
<text transform="translate(1489.21,570.68)" font-size="41.11">LLC</text>
<text transform="translate(1351.49,840.27) rotate(-90)" font-size="33.36">Tumor weight (g)</text>
<text transform="translate(1412.14,873.80)" font-size="32.75">WT</text>
<text transform="translate(1474.95,873.94)" font-size="33.16">KO</text>
<text transform="translate(1531.61,873.91)" font-size="33.57">MU</text>
<text transform="translate(1592.80,873.97)" font-size="33.24">OE</text>
<text transform="translate(1386.36,921.31)" font-size="33.04">BALB/c nude mouse</text>
<line x1="1439.00" y1="681.60" x2="1439.00" y2="695.40" stroke="#000000" stroke-width="2.80"/><line x1="1429.90" y1="681.60" x2="1448.10" y2="681.60" stroke="#000000" stroke-width="2.80"/><line x1="1439.00" y1="695.40" x2="1439.00" y2="709.00" stroke="#000000" stroke-width="2.80"/><line x1="1429.90" y1="709.00" x2="1448.10" y2="709.00" stroke="#000000" stroke-width="2.80"/><circle cx="1439.00" cy="671.90" r="4.75" fill="#000000"/><circle cx="1424.50" cy="699.80" r="4.75" fill="#000000"/><circle cx="1435.00" cy="703.80" r="4.75" fill="#000000"/><circle cx="1444.10" cy="702.50" r="4.75" fill="#000000"/><circle cx="1454.60" cy="699.80" r="4.75" fill="#000000"/><line x1="1419.80" y1="695.40" x2="1458.20" y2="695.40" stroke="#000" stroke-width="2.60"/>
<line x1="1498.50" y1="777.70" x2="1498.50" y2="793.10" stroke="#ff0000" stroke-width="2.80"/><line x1="1489.40" y1="777.70" x2="1507.60" y2="777.70" stroke="#ff0000" stroke-width="2.80"/><line x1="1498.50" y1="793.10" x2="1498.50" y2="808.30" stroke="#ff0000" stroke-width="2.80"/><line x1="1489.40" y1="808.30" x2="1507.60" y2="808.30" stroke="#ff0000" stroke-width="2.80"/><rect x="1481.15" y="782.65" width="9.50" height="9.50" fill="#ff0000"/><rect x="1493.75" y="773.45" width="9.50" height="9.50" fill="#ff0000"/><rect x="1507.85" y="779.45" width="9.50" height="9.50" fill="#ff0000"/><rect x="1493.75" y="791.75" width="9.50" height="9.50" fill="#ff0000"/><rect x="1493.75" y="813.45" width="9.50" height="9.50" fill="#ff0000"/><line x1="1478.50" y1="793.10" x2="1518.50" y2="793.10" stroke="#000" stroke-width="2.60"/>
<line x1="1559.00" y1="701.70" x2="1559.00" y2="725.20" stroke="#00c000" stroke-width="2.80"/><line x1="1549.90" y1="701.70" x2="1568.10" y2="701.70" stroke="#00c000" stroke-width="2.80"/><line x1="1559.00" y1="725.20" x2="1559.00" y2="749.00" stroke="#00c000" stroke-width="2.80"/><line x1="1549.90" y1="749.00" x2="1568.10" y2="749.00" stroke="#00c000" stroke-width="2.80"/><path d="M1559.00 698.13L1564.25 707.58L1553.75 707.58Z" fill="#00c000"/><path d="M1553.80 709.83L1559.05 719.28L1548.55 719.28Z" fill="#00c000"/><path d="M1566.40 704.63L1571.65 714.08L1561.15 714.08Z" fill="#00c000"/><path d="M1559.00 730.73L1564.25 740.18L1553.75 740.18Z" fill="#00c000"/><path d="M1559.00 756.83L1564.25 766.28L1553.75 766.28Z" fill="#00c000"/><line x1="1539.80" y1="725.20" x2="1578.20" y2="725.20" stroke="#000" stroke-width="2.60"/>
<line x1="1619.00" y1="664.60" x2="1619.00" y2="676.90" stroke="#0000c8" stroke-width="2.80"/><line x1="1609.90" y1="664.60" x2="1628.10" y2="664.60" stroke="#0000c8" stroke-width="2.80"/><line x1="1619.00" y1="676.90" x2="1619.00" y2="688.10" stroke="#0000c8" stroke-width="2.80"/><line x1="1609.90" y1="688.10" x2="1628.10" y2="688.10" stroke="#0000c8" stroke-width="2.80"/><path d="M1619.00 661.07L1624.25 651.62L1613.75 651.62Z" fill="#0000c8"/><path d="M1606.10 678.57L1611.35 669.12L1600.85 669.12Z" fill="#0000c8"/><path d="M1634.80 679.37L1640.05 669.92L1629.55 669.92Z" fill="#0000c8"/><path d="M1613.90 692.47L1619.15 683.02L1608.65 683.02Z" fill="#0000c8"/><path d="M1625.70 689.87L1630.95 680.42L1620.45 680.42Z" fill="#0000c8"/><line x1="1599.05" y1="676.90" x2="1638.95" y2="676.90" stroke="#000" stroke-width="2.60"/>
<line x1="1444.00" y1="609.00" x2="1636.00" y2="609.00" stroke="#000" stroke-width="3.00"/>
<text transform="translate(1531.99,612.33)" font-size="18.50">*</text>
<line x1="1446.00" y1="630.60" x2="1562.00" y2="630.60" stroke="#000" stroke-width="3.00"/>
<text transform="translate(1500.09,636.43)" font-size="18.50">*</text>
<line x1="1570.00" y1="630.60" x2="1639.50" y2="630.60" stroke="#000" stroke-width="3.00"/>
<text transform="translate(1591.79,636.43)" font-size="18.50">**</text>
<line x1="1493.80" y1="647.60" x2="1631.70" y2="647.60" stroke="#000" stroke-width="3.00"/>
<text transform="translate(1549.62,654.93)" font-size="18.50">****</text>
<line x1="1448.00" y1="662.50" x2="1496.00" y2="662.50" stroke="#000" stroke-width="3.00"/>
<text transform="translate(1461.23,668.90)" font-size="20.29">****</text>
<text transform="translate(20.78,987.10)" font-size="49.56" font-weight="bold">E</text>
<defs><radialGradient id="gdot"><stop offset="0" stop-color="#ffd000"/><stop offset="0.45" stop-color="#ffb000"/><stop offset="1" stop-color="#ff9000" stop-opacity="0"/></radialGradient><radialGradient id="gdim"><stop offset="0" stop-color="#a05000" stop-opacity="0.45"/><stop offset="1" stop-color="#a05000" stop-opacity="0"/></radialGradient></defs>
<text transform="translate(138.64,999.27)" font-size="31.37">WT</text>
<rect x="22.70" y="1014.00" width="312.30" height="240.00" fill="#050200"/><circle cx="124.9" cy="1052.3" r="1.6" fill="url(#gdot)" fill-opacity="0.44"/><circle cx="189.8" cy="1102.6" r="1.6" fill="url(#gdot)" fill-opacity="0.86"/><circle cx="91.5" cy="1037.1" r="2.8" fill="url(#gdot)" fill-opacity="0.44"/><circle cx="53.5" cy="1116.3" r="3.4" fill="url(#gdot)" fill-opacity="0.47"/><circle cx="94.1" cy="1163.8" r="1.6" fill="url(#gdot)" fill-opacity="0.69"/><circle cx="147.2" cy="1245.4" r="1.6" fill="url(#gdot)" fill-opacity="0.68"/><circle cx="66.5" cy="1115.1" r="3.4" fill="url(#gdot)" fill-opacity="0.46"/><circle cx="120.2" cy="1208.0" r="2.0" fill="url(#gdot)" fill-opacity="0.46"/><circle cx="200.7" cy="1061.0" r="1.6" fill="url(#gdot)" fill-opacity="0.68"/><circle cx="44.9" cy="1030.9" r="2.0" fill="url(#gdot)" fill-opacity="0.65"/><circle cx="188.6" cy="1198.9" r="2.8" fill="url(#gdot)" fill-opacity="0.69"/><circle cx="164.5" cy="1087.1" r="2.0" fill="url(#gdot)" fill-opacity="0.75"/><circle cx="100.5" cy="1151.4" r="3.4" fill="url(#gdot)" fill-opacity="0.65"/><circle cx="130.9" cy="1122.0" r="3.4" fill="url(#gdot)" fill-opacity="0.89"/><circle cx="61.9" cy="1114.8" r="2.4" fill="url(#gdot)" fill-opacity="0.48"/><circle cx="175.5" cy="1026.2" r="1.6" fill="url(#gdot)" fill-opacity="0.78"/><circle cx="201.2" cy="1221.9" r="2.4" fill="url(#gdot)" fill-opacity="0.57"/><circle cx="133.0" cy="1133.2" r="2.8" fill="url(#gdot)" fill-opacity="0.44"/><circle cx="54.4" cy="1080.2" r="1.6" fill="url(#gdot)" fill-opacity="0.44"/><circle cx="240.6" cy="1168.4" r="2.8" fill="url(#gdot)" fill-opacity="0.55"/><circle cx="143.9" cy="1173.5" r="1.6" fill="url(#gdot)" fill-opacity="0.87"/><circle cx="134.6" cy="1160.0" r="2.8" fill="url(#gdot)" fill-opacity="0.43"/><circle cx="261.0" cy="1047.3" r="2.0" fill="url(#gdot)" fill-opacity="0.60"/><circle cx="306.5" cy="1133.2" r="2.0" fill="url(#gdot)" fill-opacity="0.63"/><circle cx="194.0" cy="1223.7" r="2.8" fill="url(#gdot)" fill-opacity="0.83"/><circle cx="111.0" cy="1114.2" r="2.4" fill="url(#gdot)" fill-opacity="0.74"/><circle cx="142.2" cy="1071.0" r="1.6" fill="url(#gdot)" fill-opacity="0.49"/><circle cx="96.7" cy="1071.6" r="2.8" fill="url(#gdot)" fill-opacity="0.82"/><circle cx="81.6" cy="1083.0" r="2.0" fill="url(#gdot)" fill-opacity="0.61"/><circle cx="138.8" cy="1149.5" r="2.0" fill="url(#gdot)" fill-opacity="0.75"/><circle cx="183.6" cy="1161.5" r="1.6" fill="url(#gdot)" fill-opacity="0.63"/><circle cx="292.5" cy="1239.7" r="3.4" fill="url(#gdot)" fill-opacity="0.60"/><circle cx="147.9" cy="1041.2" r="2.8" fill="url(#gdot)" fill-opacity="0.44"/><circle cx="46.3" cy="1065.9" r="2.0" fill="url(#gdot)" fill-opacity="0.46"/><circle cx="209.7" cy="1041.0" r="3.4" fill="url(#gdot)" fill-opacity="0.48"/><circle cx="56.8" cy="1102.1" r="1.6" fill="url(#gdot)" fill-opacity="0.44"/><circle cx="89.4" cy="1105.0" r="2.4" fill="url(#gdot)" fill-opacity="0.88"/><circle cx="210.2" cy="1128.0" r="1.6" fill="url(#gdot)" fill-opacity="0.83"/><circle cx="329.9" cy="1126.0" r="2.8" fill="url(#gdot)" fill-opacity="0.56"/><circle cx="69.8" cy="1192.4" r="2.4" fill="url(#gdot)" fill-opacity="0.64"/><circle cx="237.7" cy="1137.8" r="2.0" fill="url(#gdot)" fill-opacity="0.88"/><circle cx="187.5" cy="1051.3" r="3.4" fill="url(#gdot)" fill-opacity="0.86"/><circle cx="257.9" cy="1086.8" r="1.6" fill="url(#gdot)" fill-opacity="0.75"/><circle cx="105.7" cy="1102.8" r="2.0" fill="url(#gdot)" fill-opacity="0.58"/><circle cx="93.9" cy="1143.7" r="3.4" fill="url(#gdot)" fill-opacity="0.57"/><circle cx="94.0" cy="1206.9" r="2.0" fill="url(#gdot)" fill-opacity="0.80"/><circle cx="276.4" cy="1190.1" r="2.0" fill="url(#gdot)" fill-opacity="0.50"/><circle cx="176.6" cy="1188.1" r="1.6" fill="url(#gdot)" fill-opacity="0.80"/><circle cx="170.3" cy="1062.3" r="3.4" fill="url(#gdot)" fill-opacity="0.88"/><circle cx="162.7" cy="1236.3" r="2.4" fill="url(#gdot)" fill-opacity="0.88"/><circle cx="137.4" cy="1068.6" r="2.0" fill="url(#gdot)" fill-opacity="0.64"/><circle cx="129.1" cy="1129.9" r="3.4" fill="url(#gdot)" fill-opacity="0.82"/><circle cx="172.6" cy="1169.8" r="1.6" fill="url(#gdot)" fill-opacity="0.82"/><circle cx="62.4" cy="1107.9" r="2.0" fill="url(#gdot)" fill-opacity="0.64"/><circle cx="80.4" cy="1201.7" r="2.4" fill="url(#gdot)" fill-opacity="0.45"/><circle cx="315.5" cy="1185.9" r="2.8" fill="url(#gdot)" fill-opacity="0.60"/><circle cx="315.7" cy="1186.6" r="2.0" fill="url(#gdot)" fill-opacity="0.90"/><circle cx="34.1" cy="1155.3" r="2.8" fill="url(#gdot)" fill-opacity="0.80"/><circle cx="70.5" cy="1210.4" r="2.8" fill="url(#gdot)" fill-opacity="0.73"/><circle cx="133.0" cy="1145.4" r="2.0" fill="url(#gdot)" fill-opacity="0.42"/><circle cx="270.5" cy="1187.0" r="1.6" fill="url(#gdot)" fill-opacity="0.67"/><circle cx="311.7" cy="1118.5" r="2.0" fill="url(#gdot)" fill-opacity="0.81"/><circle cx="90.3" cy="1075.9" r="2.4" fill="url(#gdot)" fill-opacity="0.65"/><circle cx="259.6" cy="1093.3" r="3.4" fill="url(#gdot)" fill-opacity="0.61"/><circle cx="65.8" cy="1229.9" r="2.4" fill="url(#gdot)" fill-opacity="0.85"/><circle cx="228.6" cy="1207.7" r="3.4" fill="url(#gdot)" fill-opacity="0.61"/><circle cx="306.8" cy="1134.4" r="3.4" fill="url(#gdot)" fill-opacity="0.48"/><circle cx="182.1" cy="1221.2" r="2.0" fill="url(#gdot)" fill-opacity="0.71"/><circle cx="263.4" cy="1052.1" r="2.0" fill="url(#gdot)" fill-opacity="0.64"/><circle cx="247.8" cy="1147.2" r="2.4" fill="url(#gdot)" fill-opacity="0.74"/><circle cx="188.1" cy="1130.0" r="5.3" fill="url(#gdim)"/><circle cx="293.9" cy="1033.0" r="3.6" fill="url(#gdim)"/><circle cx="41.4" cy="1042.3" r="4.4" fill="url(#gdim)"/><circle cx="37.1" cy="1223.8" r="3.2" fill="url(#gdim)"/><circle cx="126.5" cy="1241.9" r="4.8" fill="url(#gdim)"/><circle cx="88.6" cy="1083.2" r="4.5" fill="url(#gdim)"/><circle cx="271.2" cy="1135.8" r="3.7" fill="url(#gdim)"/><circle cx="185.8" cy="1219.7" r="5.8" fill="url(#gdim)"/><circle cx="305.8" cy="1223.5" r="3.6" fill="url(#gdim)"/><circle cx="163.1" cy="1115.0" r="4.2" fill="url(#gdim)"/><circle cx="123.6" cy="1173.0" r="4.3" fill="url(#gdim)"/><circle cx="92.6" cy="1089.0" r="3.4" fill="url(#gdim)"/><circle cx="262.0" cy="1234.2" r="4.9" fill="url(#gdim)"/><circle cx="138.7" cy="1077.7" r="3.4" fill="url(#gdim)"/><circle cx="169.2" cy="1190.2" r="3.3" fill="url(#gdim)"/><circle cx="294.4" cy="1057.1" r="5.0" fill="url(#gdim)"/><circle cx="95.9" cy="1181.0" r="6.0" fill="url(#gdim)"/><circle cx="150.0" cy="1116.1" r="4.1" fill="url(#gdim)"/><circle cx="56.4" cy="1103.4" r="4.0" fill="url(#gdim)"/><circle cx="166.4" cy="1180.3" r="4.2" fill="url(#gdim)"/><circle cx="184.1" cy="1087.4" r="5.9" fill="url(#gdim)"/><circle cx="62.6" cy="1229.4" r="3.7" fill="url(#gdim)"/><circle cx="291.9" cy="1039.2" r="3.8" fill="url(#gdim)"/><circle cx="300.7" cy="1061.4" r="5.3" fill="url(#gdim)"/><circle cx="274.9" cy="1213.7" r="5.0" fill="url(#gdim)"/><circle cx="312.8" cy="1112.6" r="4.6" fill="url(#gdim)"/><circle cx="183.3" cy="1132.8" r="4.0" fill="url(#gdim)"/><circle cx="112.5" cy="1202.3" r="3.6" fill="url(#gdim)"/><circle cx="297.6" cy="1081.3" r="3.1" fill="url(#gdim)"/><circle cx="55.3" cy="1079.4" r="4.8" fill="url(#gdim)"/><circle cx="95.5" cy="1080.3" r="3.4" fill="url(#gdim)"/><circle cx="32.2" cy="1246.7" r="4.3" fill="url(#gdim)"/><circle cx="303.6" cy="1161.7" r="3.1" fill="url(#gdim)"/><circle cx="241.8" cy="1233.9" r="5.9" fill="url(#gdim)"/><circle cx="107.3" cy="1061.3" r="5.8" fill="url(#gdim)"/><line x1="280.00" y1="1241.50" x2="306.00" y2="1241.50" stroke="#e00000" stroke-width="1.30"/><line x1="280.00" y1="1239.50" x2="280.00" y2="1243.50" stroke="#e00000" stroke-width="1.00"/><line x1="306.00" y1="1239.50" x2="306.00" y2="1243.50" stroke="#e00000" stroke-width="1.00"/><text x="293.0" y="1239.0" font-size="4" fill="#e00000" text-anchor="middle">100 μm</text>
<text transform="translate(489.83,999.55)" font-size="32.17">KO</text>
<rect x="362.00" y="1014.00" width="313.70" height="240.00" fill="#050200"/><circle cx="558.4" cy="1141.3" r="2.0" fill="url(#gdot)" fill-opacity="0.49"/><circle cx="518.9" cy="1058.6" r="2.4" fill="url(#gdot)" fill-opacity="0.71"/><circle cx="671.0" cy="1025.6" r="1.6" fill="url(#gdot)" fill-opacity="0.68"/><circle cx="534.6" cy="1061.3" r="2.8" fill="url(#gdot)" fill-opacity="0.47"/><circle cx="502.6" cy="1171.0" r="2.8" fill="url(#gdot)" fill-opacity="0.65"/><circle cx="533.0" cy="1225.0" r="3.4" fill="url(#gdot)" fill-opacity="0.50"/><circle cx="431.2" cy="1070.7" r="2.0" fill="url(#gdot)" fill-opacity="0.73"/><circle cx="582.5" cy="1165.8" r="2.8" fill="url(#gdot)" fill-opacity="0.80"/><circle cx="667.1" cy="1212.9" r="1.6" fill="url(#gdot)" fill-opacity="0.39"/><circle cx="593.0" cy="1076.8" r="2.0" fill="url(#gdot)" fill-opacity="0.38"/><circle cx="569.7" cy="1106.1" r="3.4" fill="url(#gdot)" fill-opacity="0.66"/><circle cx="451.8" cy="1073.7" r="2.4" fill="url(#gdot)" fill-opacity="0.38"/><circle cx="422.0" cy="1080.0" r="1.6" fill="url(#gdot)" fill-opacity="0.48"/><circle cx="660.9" cy="1244.6" r="3.4" fill="url(#gdot)" fill-opacity="0.50"/><circle cx="375.6" cy="1223.5" r="2.0" fill="url(#gdot)" fill-opacity="0.52"/><circle cx="365.3" cy="1106.3" r="2.8" fill="url(#gdot)" fill-opacity="0.48"/><circle cx="566.9" cy="1075.1" r="1.6" fill="url(#gdot)" fill-opacity="0.40"/><circle cx="616.4" cy="1050.7" r="3.4" fill="url(#gdot)" fill-opacity="0.38"/><circle cx="374.8" cy="1089.4" r="3.7" fill="url(#gdim)"/><circle cx="544.7" cy="1140.7" r="5.3" fill="url(#gdim)"/><circle cx="566.4" cy="1183.2" r="5.6" fill="url(#gdim)"/><circle cx="485.5" cy="1094.4" r="6.0" fill="url(#gdim)"/><circle cx="413.1" cy="1185.1" r="4.9" fill="url(#gdim)"/><circle cx="381.2" cy="1210.4" r="5.7" fill="url(#gdim)"/><circle cx="557.3" cy="1187.3" r="5.4" fill="url(#gdim)"/><circle cx="410.0" cy="1139.4" r="4.5" fill="url(#gdim)"/><circle cx="619.9" cy="1203.5" r="5.5" fill="url(#gdim)"/><line x1="620.70" y1="1241.50" x2="646.70" y2="1241.50" stroke="#e00000" stroke-width="1.30"/><line x1="620.70" y1="1239.50" x2="620.70" y2="1243.50" stroke="#e00000" stroke-width="1.00"/><line x1="646.70" y1="1239.50" x2="646.70" y2="1243.50" stroke="#e00000" stroke-width="1.00"/><text x="633.7" y="1239.0" font-size="4" fill="#e00000" text-anchor="middle">100 μm</text>
<text transform="translate(811.85,997.58)" font-size="31.86">MU</text>
<rect x="701.80" y="1014.00" width="312.60" height="240.00" fill="#050200"/><circle cx="883.9" cy="1225.9" r="2.0" fill="url(#gdot)" fill-opacity="0.35"/><circle cx="717.6" cy="1166.1" r="1.6" fill="url(#gdot)" fill-opacity="0.46"/><circle cx="843.2" cy="1028.9" r="1.6" fill="url(#gdot)" fill-opacity="0.56"/><circle cx="913.5" cy="1131.5" r="1.6" fill="url(#gdot)" fill-opacity="0.49"/><circle cx="726.3" cy="1235.2" r="3.4" fill="url(#gdot)" fill-opacity="0.35"/><circle cx="866.1" cy="1191.5" r="2.8" fill="url(#gdot)" fill-opacity="0.41"/><circle cx="727.6" cy="1079.1" r="2.0" fill="url(#gdot)" fill-opacity="0.40"/><circle cx="904.1" cy="1124.7" r="2.8" fill="url(#gdot)" fill-opacity="0.34"/><circle cx="983.9" cy="1084.2" r="1.6" fill="url(#gdot)" fill-opacity="0.55"/><circle cx="901.9" cy="1035.1" r="2.0" fill="url(#gdot)" fill-opacity="0.44"/><circle cx="904.6" cy="1179.1" r="3.4" fill="url(#gdot)" fill-opacity="0.53"/><circle cx="708.6" cy="1031.2" r="2.4" fill="url(#gdot)" fill-opacity="0.69"/><circle cx="735.3" cy="1067.9" r="2.8" fill="url(#gdot)" fill-opacity="0.43"/><circle cx="863.2" cy="1125.7" r="2.8" fill="url(#gdot)" fill-opacity="0.61"/><circle cx="1009.3" cy="1145.5" r="2.4" fill="url(#gdot)" fill-opacity="0.69"/><circle cx="991.9" cy="1021.1" r="2.8" fill="url(#gdot)" fill-opacity="0.34"/><circle cx="860.1" cy="1249.7" r="2.4" fill="url(#gdot)" fill-opacity="0.46"/><circle cx="985.8" cy="1234.7" r="1.6" fill="url(#gdot)" fill-opacity="0.54"/><circle cx="748.3" cy="1139.6" r="2.4" fill="url(#gdot)" fill-opacity="0.37"/><circle cx="956.3" cy="1136.0" r="1.6" fill="url(#gdot)" fill-opacity="0.59"/><circle cx="775.7" cy="1227.1" r="2.8" fill="url(#gdot)" fill-opacity="0.47"/><circle cx="753.6" cy="1239.3" r="2.8" fill="url(#gdot)" fill-opacity="0.47"/><circle cx="926.4" cy="1114.9" r="4.1" fill="url(#gdim)"/><circle cx="744.1" cy="1095.5" r="4.0" fill="url(#gdim)"/><circle cx="809.5" cy="1110.8" r="5.8" fill="url(#gdim)"/><circle cx="766.6" cy="1022.7" r="5.2" fill="url(#gdim)"/><circle cx="783.9" cy="1034.8" r="4.2" fill="url(#gdim)"/><circle cx="969.3" cy="1037.4" r="5.8" fill="url(#gdim)"/><circle cx="935.0" cy="1214.8" r="3.8" fill="url(#gdim)"/><circle cx="723.3" cy="1170.9" r="4.9" fill="url(#gdim)"/><circle cx="752.6" cy="1241.4" r="4.3" fill="url(#gdim)"/><circle cx="802.7" cy="1196.3" r="5.4" fill="url(#gdim)"/><circle cx="836.4" cy="1026.6" r="5.3" fill="url(#gdim)"/><line x1="959.40" y1="1241.50" x2="985.40" y2="1241.50" stroke="#e00000" stroke-width="1.30"/><line x1="959.40" y1="1239.50" x2="959.40" y2="1243.50" stroke="#e00000" stroke-width="1.00"/><line x1="985.40" y1="1239.50" x2="985.40" y2="1243.50" stroke="#e00000" stroke-width="1.00"/><text x="972.4" y="1239.0" font-size="4" fill="#e00000" text-anchor="middle">100 μm</text>
<text transform="translate(1162.17,995.78)" font-size="31.84">OE</text>
<rect x="1038.80" y="1012.00" width="312.10" height="241.00" fill="#050200"/><circle cx="1164.3" cy="1220.8" r="3.4" fill="url(#gdot)" fill-opacity="0.56"/><circle cx="1262.1" cy="1026.6" r="2.8" fill="url(#gdot)" fill-opacity="0.52"/><circle cx="1272.2" cy="1166.5" r="2.4" fill="url(#gdot)" fill-opacity="0.54"/><circle cx="1320.9" cy="1144.3" r="2.0" fill="url(#gdot)" fill-opacity="0.53"/><circle cx="1147.0" cy="1085.0" r="2.4" fill="url(#gdot)" fill-opacity="0.51"/><circle cx="1114.9" cy="1128.5" r="2.8" fill="url(#gdot)" fill-opacity="0.39"/><circle cx="1238.7" cy="1032.7" r="3.4" fill="url(#gdot)" fill-opacity="0.71"/><circle cx="1194.0" cy="1066.7" r="2.4" fill="url(#gdot)" fill-opacity="0.75"/><circle cx="1179.5" cy="1047.8" r="2.0" fill="url(#gdot)" fill-opacity="0.44"/><circle cx="1095.3" cy="1145.6" r="2.4" fill="url(#gdot)" fill-opacity="0.44"/><circle cx="1120.9" cy="1148.9" r="1.6" fill="url(#gdot)" fill-opacity="0.65"/><circle cx="1168.2" cy="1112.3" r="3.4" fill="url(#gdot)" fill-opacity="0.42"/><circle cx="1124.5" cy="1191.7" r="2.8" fill="url(#gdot)" fill-opacity="0.45"/><circle cx="1338.0" cy="1044.6" r="3.4" fill="url(#gdot)" fill-opacity="0.56"/><circle cx="1283.7" cy="1214.4" r="1.6" fill="url(#gdot)" fill-opacity="0.45"/><circle cx="1117.9" cy="1108.9" r="2.8" fill="url(#gdot)" fill-opacity="0.52"/><circle cx="1137.3" cy="1206.4" r="1.6" fill="url(#gdot)" fill-opacity="0.39"/><circle cx="1172.0" cy="1194.5" r="2.8" fill="url(#gdot)" fill-opacity="0.74"/><circle cx="1191.7" cy="1032.2" r="3.4" fill="url(#gdot)" fill-opacity="0.69"/><circle cx="1339.4" cy="1073.4" r="1.6" fill="url(#gdot)" fill-opacity="0.43"/><circle cx="1088.3" cy="1243.4" r="1.6" fill="url(#gdot)" fill-opacity="0.73"/><circle cx="1262.7" cy="1167.1" r="2.8" fill="url(#gdot)" fill-opacity="0.37"/><circle cx="1279.6" cy="1015.3" r="2.0" fill="url(#gdot)" fill-opacity="0.43"/><circle cx="1323.4" cy="1166.7" r="2.4" fill="url(#gdot)" fill-opacity="0.73"/><circle cx="1233.6" cy="1139.1" r="2.8" fill="url(#gdot)" fill-opacity="0.63"/><circle cx="1076.1" cy="1031.5" r="3.4" fill="url(#gdot)" fill-opacity="0.73"/><circle cx="1100.5" cy="1076.3" r="3.4" fill="url(#gdot)" fill-opacity="0.34"/><circle cx="1206.3" cy="1249.1" r="2.4" fill="url(#gdot)" fill-opacity="0.73"/><circle cx="1239.1" cy="1222.7" r="2.8" fill="url(#gdot)" fill-opacity="0.55"/><circle cx="1209.2" cy="1021.9" r="2.8" fill="url(#gdot)" fill-opacity="0.63"/><circle cx="1135.9" cy="1020.1" r="2.8" fill="url(#gdot)" fill-opacity="0.70"/><circle cx="1239.9" cy="1034.1" r="2.0" fill="url(#gdot)" fill-opacity="0.61"/><circle cx="1325.0" cy="1068.3" r="1.6" fill="url(#gdot)" fill-opacity="0.62"/><circle cx="1261.7" cy="1100.1" r="2.8" fill="url(#gdot)" fill-opacity="0.42"/><circle cx="1285.8" cy="1188.7" r="3.4" fill="url(#gdot)" fill-opacity="0.37"/><circle cx="1193.5" cy="1062.1" r="2.0" fill="url(#gdot)" fill-opacity="0.43"/><circle cx="1109.6" cy="1193.7" r="2.4" fill="url(#gdot)" fill-opacity="0.38"/><circle cx="1232.7" cy="1158.4" r="2.0" fill="url(#gdot)" fill-opacity="0.54"/><circle cx="1320.5" cy="1028.3" r="3.4" fill="url(#gdot)" fill-opacity="0.40"/><circle cx="1162.2" cy="1065.0" r="3.4" fill="url(#gdot)" fill-opacity="0.40"/><circle cx="1057.7" cy="1029.1" r="2.8" fill="url(#gdot)" fill-opacity="0.52"/><circle cx="1259.8" cy="1088.8" r="1.6" fill="url(#gdot)" fill-opacity="0.75"/><circle cx="1327.0" cy="1092.4" r="2.0" fill="url(#gdot)" fill-opacity="0.61"/><circle cx="1202.4" cy="1124.9" r="2.4" fill="url(#gdot)" fill-opacity="0.61"/><circle cx="1157.7" cy="1102.9" r="2.4" fill="url(#gdot)" fill-opacity="0.52"/><circle cx="1075.2" cy="1033.4" r="1.6" fill="url(#gdot)" fill-opacity="0.48"/><circle cx="1334.3" cy="1044.1" r="2.0" fill="url(#gdot)" fill-opacity="0.49"/><circle cx="1277.1" cy="1087.5" r="2.8" fill="url(#gdot)" fill-opacity="0.37"/><circle cx="1257.7" cy="1061.0" r="3.4" fill="url(#gdot)" fill-opacity="0.72"/><circle cx="1100.9" cy="1100.6" r="2.8" fill="url(#gdot)" fill-opacity="0.35"/><circle cx="1167.5" cy="1205.8" r="2.8" fill="url(#gdot)" fill-opacity="0.35"/><circle cx="1052.5" cy="1029.7" r="1.6" fill="url(#gdot)" fill-opacity="0.44"/><circle cx="1270.5" cy="1226.2" r="2.4" fill="url(#gdot)" fill-opacity="0.49"/><circle cx="1144.3" cy="1239.1" r="1.6" fill="url(#gdot)" fill-opacity="0.45"/><circle cx="1261.2" cy="1089.4" r="2.4" fill="url(#gdot)" fill-opacity="0.46"/><circle cx="1262.7" cy="1155.0" r="1.6" fill="url(#gdot)" fill-opacity="0.35"/><circle cx="1113.4" cy="1126.7" r="2.8" fill="url(#gdot)" fill-opacity="0.73"/><circle cx="1160.1" cy="1074.0" r="2.8" fill="url(#gdot)" fill-opacity="0.67"/><circle cx="1082.4" cy="1131.7" r="1.6" fill="url(#gdot)" fill-opacity="0.67"/><circle cx="1267.9" cy="1208.3" r="2.0" fill="url(#gdot)" fill-opacity="0.59"/><circle cx="1142.1" cy="1090.1" r="2.4" fill="url(#gdot)" fill-opacity="0.66"/><circle cx="1224.1" cy="1135.3" r="2.8" fill="url(#gdot)" fill-opacity="0.65"/><circle cx="1117.5" cy="1030.2" r="1.6" fill="url(#gdot)" fill-opacity="0.54"/><circle cx="1208.5" cy="1052.8" r="2.8" fill="url(#gdot)" fill-opacity="0.70"/><circle cx="1344.2" cy="1077.2" r="1.6" fill="url(#gdot)" fill-opacity="0.42"/><circle cx="1170.7" cy="1247.3" r="2.8" fill="url(#gdot)" fill-opacity="0.41"/><circle cx="1082.5" cy="1123.3" r="2.0" fill="url(#gdot)" fill-opacity="0.65"/><circle cx="1301.1" cy="1171.1" r="1.6" fill="url(#gdot)" fill-opacity="0.66"/><circle cx="1131.8" cy="1080.7" r="2.4" fill="url(#gdot)" fill-opacity="0.49"/><circle cx="1267.7" cy="1061.8" r="2.0" fill="url(#gdot)" fill-opacity="0.41"/><circle cx="1113.9" cy="1081.1" r="3.4" fill="url(#gdot)" fill-opacity="0.42"/><circle cx="1061.6" cy="1074.1" r="2.0" fill="url(#gdot)" fill-opacity="0.55"/><circle cx="1112.6" cy="1205.0" r="2.8" fill="url(#gdot)" fill-opacity="0.75"/><circle cx="1073.1" cy="1126.6" r="2.0" fill="url(#gdot)" fill-opacity="0.68"/><circle cx="1321.7" cy="1024.5" r="2.4" fill="url(#gdot)" fill-opacity="0.43"/><circle cx="1057.2" cy="1156.1" r="3.4" fill="url(#gdot)" fill-opacity="0.42"/><circle cx="1064.8" cy="1135.5" r="2.0" fill="url(#gdot)" fill-opacity="0.52"/><circle cx="1121.4" cy="1197.8" r="1.6" fill="url(#gdot)" fill-opacity="0.38"/><circle cx="1224.3" cy="1160.7" r="2.0" fill="url(#gdot)" fill-opacity="0.35"/><circle cx="1145.9" cy="1025.4" r="2.4" fill="url(#gdot)" fill-opacity="0.35"/><circle cx="1265.9" cy="1229.8" r="1.6" fill="url(#gdot)" fill-opacity="0.68"/><circle cx="1167.0" cy="1102.4" r="3.4" fill="url(#gdot)" fill-opacity="0.47"/><circle cx="1104.1" cy="1201.9" r="3.4" fill="url(#gdot)" fill-opacity="0.54"/><circle cx="1166.7" cy="1202.0" r="3.4" fill="url(#gdot)" fill-opacity="0.40"/><circle cx="1205.3" cy="1168.5" r="2.8" fill="url(#gdot)" fill-opacity="0.62"/><circle cx="1167.2" cy="1081.6" r="2.4" fill="url(#gdot)" fill-opacity="0.51"/><circle cx="1057.5" cy="1190.2" r="2.4" fill="url(#gdot)" fill-opacity="0.51"/><circle cx="1047.4" cy="1195.2" r="2.4" fill="url(#gdot)" fill-opacity="0.60"/><circle cx="1161.4" cy="1110.2" r="1.6" fill="url(#gdot)" fill-opacity="0.52"/><circle cx="1089.7" cy="1041.7" r="1.6" fill="url(#gdot)" fill-opacity="0.51"/><circle cx="1312.0" cy="1123.3" r="2.0" fill="url(#gdot)" fill-opacity="0.39"/><circle cx="1057.6" cy="1048.5" r="2.8" fill="url(#gdot)" fill-opacity="0.37"/><circle cx="1232.3" cy="1102.1" r="3.4" fill="url(#gdot)" fill-opacity="0.41"/><circle cx="1148.3" cy="1053.0" r="2.0" fill="url(#gdot)" fill-opacity="0.72"/><circle cx="1075.1" cy="1130.3" r="2.0" fill="url(#gdot)" fill-opacity="0.46"/><circle cx="1298.1" cy="1025.2" r="2.8" fill="url(#gdot)" fill-opacity="0.47"/><circle cx="1227.8" cy="1164.5" r="1.6" fill="url(#gdot)" fill-opacity="0.71"/><circle cx="1231.7" cy="1208.8" r="2.0" fill="url(#gdot)" fill-opacity="0.60"/><circle cx="1304.0" cy="1160.9" r="3.4" fill="url(#gdot)" fill-opacity="0.69"/><circle cx="1295.6" cy="1058.0" r="2.0" fill="url(#gdot)" fill-opacity="0.35"/><circle cx="1329.1" cy="1051.8" r="2.4" fill="url(#gdot)" fill-opacity="0.39"/><circle cx="1117.4" cy="1185.3" r="2.0" fill="url(#gdot)" fill-opacity="0.35"/><circle cx="1213.9" cy="1193.0" r="1.6" fill="url(#gdot)" fill-opacity="0.61"/><circle cx="1141.0" cy="1106.6" r="2.8" fill="url(#gdot)" fill-opacity="0.56"/><circle cx="1233.7" cy="1087.0" r="2.8" fill="url(#gdot)" fill-opacity="0.46"/><circle cx="1118.1" cy="1106.5" r="2.4" fill="url(#gdot)" fill-opacity="0.52"/><circle cx="1176.0" cy="1020.5" r="3.4" fill="url(#gdot)" fill-opacity="0.74"/><circle cx="1184.2" cy="1120.0" r="3.4" fill="url(#gdot)" fill-opacity="0.66"/><circle cx="1182.1" cy="1057.2" r="2.8" fill="url(#gdot)" fill-opacity="0.50"/><circle cx="1062.3" cy="1099.3" r="2.4" fill="url(#gdot)" fill-opacity="0.38"/><circle cx="1177.1" cy="1134.9" r="1.6" fill="url(#gdot)" fill-opacity="0.35"/><circle cx="1081.7" cy="1231.7" r="2.4" fill="url(#gdot)" fill-opacity="0.66"/><circle cx="1198.4" cy="1027.8" r="3.4" fill="url(#gdot)" fill-opacity="0.71"/><circle cx="1241.6" cy="1199.3" r="1.6" fill="url(#gdot)" fill-opacity="0.69"/><circle cx="1346.7" cy="1187.0" r="1.6" fill="url(#gdot)" fill-opacity="0.42"/><circle cx="1342.3" cy="1130.6" r="2.0" fill="url(#gdot)" fill-opacity="0.62"/><circle cx="1262.5" cy="1067.0" r="2.4" fill="url(#gdot)" fill-opacity="0.59"/><circle cx="1119.0" cy="1091.1" r="3.4" fill="url(#gdot)" fill-opacity="0.45"/><circle cx="1291.5" cy="1048.7" r="3.4" fill="url(#gdot)" fill-opacity="0.74"/><circle cx="1188.8" cy="1154.1" r="3.4" fill="url(#gdot)" fill-opacity="0.55"/><circle cx="1140.6" cy="1026.4" r="3.5" fill="url(#gdim)"/><circle cx="1093.2" cy="1232.4" r="5.0" fill="url(#gdim)"/><circle cx="1313.5" cy="1056.6" r="5.4" fill="url(#gdim)"/><circle cx="1079.3" cy="1139.5" r="4.9" fill="url(#gdim)"/><circle cx="1152.8" cy="1217.9" r="4.7" fill="url(#gdim)"/><circle cx="1218.9" cy="1220.1" r="3.3" fill="url(#gdim)"/><circle cx="1342.8" cy="1162.2" r="4.2" fill="url(#gdim)"/><circle cx="1284.2" cy="1078.6" r="6.0" fill="url(#gdim)"/><circle cx="1218.1" cy="1100.5" r="5.3" fill="url(#gdim)"/><circle cx="1177.5" cy="1058.5" r="5.2" fill="url(#gdim)"/><circle cx="1059.3" cy="1205.7" r="3.8" fill="url(#gdim)"/><circle cx="1236.6" cy="1243.3" r="4.8" fill="url(#gdim)"/><circle cx="1244.0" cy="1089.6" r="3.0" fill="url(#gdim)"/><circle cx="1054.9" cy="1052.2" r="4.8" fill="url(#gdim)"/><circle cx="1174.5" cy="1135.4" r="5.7" fill="url(#gdim)"/><circle cx="1084.4" cy="1070.0" r="5.0" fill="url(#gdim)"/><circle cx="1051.5" cy="1018.6" r="4.1" fill="url(#gdim)"/><circle cx="1076.7" cy="1099.8" r="3.7" fill="url(#gdim)"/><circle cx="1219.9" cy="1152.9" r="3.6" fill="url(#gdim)"/><circle cx="1232.0" cy="1126.8" r="3.4" fill="url(#gdim)"/><circle cx="1325.9" cy="1073.8" r="3.4" fill="url(#gdim)"/><circle cx="1073.6" cy="1164.2" r="5.6" fill="url(#gdim)"/><circle cx="1279.5" cy="1110.0" r="3.8" fill="url(#gdim)"/><circle cx="1048.2" cy="1165.7" r="4.7" fill="url(#gdim)"/><circle cx="1149.9" cy="1165.8" r="4.3" fill="url(#gdim)"/><circle cx="1326.0" cy="1186.0" r="3.7" fill="url(#gdim)"/><circle cx="1315.9" cy="1028.1" r="4.6" fill="url(#gdim)"/><circle cx="1166.6" cy="1072.4" r="3.2" fill="url(#gdim)"/><circle cx="1278.5" cy="1020.8" r="4.7" fill="url(#gdim)"/><circle cx="1327.2" cy="1050.6" r="3.6" fill="url(#gdim)"/><circle cx="1227.3" cy="1134.1" r="4.9" fill="url(#gdim)"/><circle cx="1288.9" cy="1058.0" r="3.9" fill="url(#gdim)"/><circle cx="1134.9" cy="1029.1" r="5.7" fill="url(#gdim)"/><circle cx="1279.8" cy="1181.8" r="3.0" fill="url(#gdim)"/><circle cx="1298.2" cy="1188.6" r="4.4" fill="url(#gdim)"/><circle cx="1267.4" cy="1121.6" r="3.7" fill="url(#gdim)"/><circle cx="1076.4" cy="1071.2" r="3.1" fill="url(#gdim)"/><circle cx="1145.5" cy="1189.7" r="5.1" fill="url(#gdim)"/><circle cx="1298.5" cy="1181.0" r="3.8" fill="url(#gdim)"/><circle cx="1211.0" cy="1117.9" r="5.4" fill="url(#gdim)"/><circle cx="1201.8" cy="1078.8" r="4.9" fill="url(#gdim)"/><circle cx="1334.4" cy="1067.7" r="5.6" fill="url(#gdim)"/><circle cx="1049.4" cy="1077.6" r="3.7" fill="url(#gdim)"/><circle cx="1268.0" cy="1234.3" r="5.2" fill="url(#gdim)"/><circle cx="1142.9" cy="1219.6" r="4.0" fill="url(#gdim)"/><circle cx="1116.6" cy="1225.8" r="4.9" fill="url(#gdim)"/><circle cx="1252.7" cy="1170.3" r="5.9" fill="url(#gdim)"/><circle cx="1185.7" cy="1210.3" r="5.1" fill="url(#gdim)"/><circle cx="1302.1" cy="1118.1" r="5.2" fill="url(#gdim)"/><circle cx="1216.0" cy="1088.5" r="3.6" fill="url(#gdim)"/><circle cx="1231.6" cy="1035.8" r="5.7" fill="url(#gdim)"/><circle cx="1088.2" cy="1024.2" r="3.3" fill="url(#gdim)"/><circle cx="1323.6" cy="1097.0" r="3.4" fill="url(#gdim)"/><circle cx="1053.4" cy="1027.5" r="5.1" fill="url(#gdim)"/><circle cx="1235.0" cy="1177.6" r="5.2" fill="url(#gdim)"/><circle cx="1064.5" cy="1153.2" r="4.1" fill="url(#gdim)"/><circle cx="1290.2" cy="1205.7" r="5.7" fill="url(#gdim)"/><circle cx="1064.6" cy="1216.7" r="5.7" fill="url(#gdim)"/><circle cx="1328.2" cy="1042.5" r="3.6" fill="url(#gdim)"/><circle cx="1078.4" cy="1025.9" r="5.5" fill="url(#gdim)"/><line x1="1295.90" y1="1240.50" x2="1321.90" y2="1240.50" stroke="#e00000" stroke-width="1.30"/><line x1="1295.90" y1="1238.50" x2="1295.90" y2="1242.50" stroke="#e00000" stroke-width="1.00"/><line x1="1321.90" y1="1238.50" x2="1321.90" y2="1242.50" stroke="#e00000" stroke-width="1.00"/><text x="1308.9" y="1238.0" font-size="4" fill="#e00000" text-anchor="middle">100 μm</text>
<ellipse cx="1132" cy="1193" rx="3" ry="8" fill="#ffb020" fill-opacity="0.85"/>
<ellipse cx="1200" cy="1213" rx="2.2" ry="7" fill="#ffa000" fill-opacity="0.6"/>
<circle cx="1110.1" cy="1026.6" r="2.6" fill="url(#gdot)" fill-opacity="0.72"/><circle cx="1080.2" cy="1046.1" r="2.6" fill="url(#gdot)" fill-opacity="0.50"/><circle cx="1082.6" cy="1058.3" r="1.6" fill="url(#gdot)" fill-opacity="0.58"/><circle cx="1103.0" cy="1043.1" r="2.0" fill="url(#gdot)" fill-opacity="0.86"/><circle cx="1099.6" cy="1026.1" r="2.0" fill="url(#gdot)" fill-opacity="0.83"/><circle cx="1089.8" cy="1042.6" r="2.0" fill="url(#gdot)" fill-opacity="0.42"/><circle cx="1082.3" cy="1044.3" r="2.0" fill="url(#gdot)" fill-opacity="0.75"/><circle cx="1076.0" cy="1042.7" r="1.6" fill="url(#gdot)" fill-opacity="0.69"/><circle cx="1088.1" cy="1059.6" r="2.6" fill="url(#gdot)" fill-opacity="0.50"/><circle cx="1127.5" cy="1045.4" r="2.0" fill="url(#gdot)" fill-opacity="0.75"/><circle cx="1058.4" cy="1043.3" r="1.6" fill="url(#gdot)" fill-opacity="0.54"/><circle cx="1104.5" cy="1066.2" r="2.0" fill="url(#gdot)" fill-opacity="0.48"/><circle cx="1139.3" cy="1036.0" r="2.0" fill="url(#gdot)" fill-opacity="0.79"/><circle cx="1079.0" cy="1021.7" r="2.6" fill="url(#gdot)" fill-opacity="0.56"/><circle cx="1148.2" cy="1063.1" r="2.6" fill="url(#gdot)" fill-opacity="0.44"/><circle cx="1099.8" cy="1043.0" r="1.6" fill="url(#gdot)" fill-opacity="0.55"/><circle cx="1063.4" cy="1052.7" r="1.6" fill="url(#gdot)" fill-opacity="0.59"/><circle cx="1110.2" cy="1038.2" r="2.0" fill="url(#gdot)" fill-opacity="0.46"/><circle cx="1059.5" cy="1033.1" r="2.6" fill="url(#gdot)" fill-opacity="0.72"/><circle cx="1080.6" cy="1055.1" r="1.6" fill="url(#gdot)" fill-opacity="0.83"/><circle cx="1061.2" cy="1050.5" r="2.0" fill="url(#gdot)" fill-opacity="0.48"/><circle cx="1050.3" cy="1054.1" r="2.6" fill="url(#gdot)" fill-opacity="0.52"/><circle cx="1074.8" cy="1062.3" r="2.6" fill="url(#gdot)" fill-opacity="0.52"/><circle cx="1103.5" cy="1056.1" r="2.6" fill="url(#gdot)" fill-opacity="0.81"/><circle cx="1061.8" cy="1029.9" r="1.6" fill="url(#gdot)" fill-opacity="0.76"/><circle cx="1074.3" cy="1037.2" r="1.6" fill="url(#gdot)" fill-opacity="0.56"/><circle cx="1123.3" cy="1080.3" r="2.6" fill="url(#gdot)" fill-opacity="0.90"/>
<line x1="1440.50" y1="1007.30" x2="1440.50" y2="1258.40" stroke="#000" stroke-width="3.40"/>
<line x1="1438.80" y1="1256.70" x2="1700.00" y2="1256.70" stroke="#000" stroke-width="3.40"/>
<line x1="1433.00" y1="1256.70" x2="1440.50" y2="1256.70" stroke="#000" stroke-width="3.40"/>
<line x1="1433.00" y1="1194.78" x2="1440.50" y2="1194.78" stroke="#000" stroke-width="3.40"/>
<line x1="1433.00" y1="1132.85" x2="1440.50" y2="1132.85" stroke="#000" stroke-width="3.40"/>
<line x1="1433.00" y1="1070.92" x2="1440.50" y2="1070.92" stroke="#000" stroke-width="3.40"/>
<line x1="1433.00" y1="1009.00" x2="1440.50" y2="1009.00" stroke="#000" stroke-width="3.40"/>
<line x1="1472.00" y1="1256.70" x2="1472.00" y2="1264.20" stroke="#000" stroke-width="3.40"/>
<line x1="1536.70" y1="1256.70" x2="1536.70" y2="1264.20" stroke="#000" stroke-width="3.40"/>
<line x1="1601.00" y1="1256.70" x2="1601.00" y2="1264.20" stroke="#000" stroke-width="3.40"/>
<line x1="1666.00" y1="1256.70" x2="1666.00" y2="1264.20" stroke="#000" stroke-width="3.40"/>
<text transform="translate(1422.19,1267.31) scale(0.950,1)" font-size="18.00" font-weight="bold">0</text>
<text transform="translate(1412.70,1205.39) scale(0.950,1)" font-size="18.00" font-weight="bold">50</text>
<text transform="translate(1403.21,1143.46) scale(0.950,1)" font-size="18.00" font-weight="bold">100</text>
<text transform="translate(1403.21,1081.54) scale(0.950,1)" font-size="18.00" font-weight="bold">150</text>
<text transform="translate(1403.21,1019.61) scale(0.950,1)" font-size="18.00" font-weight="bold">200</text>
<text transform="translate(1502.43,981.92)" font-size="39.63">LLC-T2</text>
<text transform="translate(1386.92,1260.64) rotate(-90)" font-size="33.06">Number  of dots</text>
<text transform="translate(1444.54,1294.95)" font-size="32.61">WT</text>
<text transform="translate(1513.34,1295.17)" font-size="33.23">KO</text>
<text transform="translate(1577.70,1295.16)" font-size="33.71">MU</text>
<text transform="translate(1643.35,1294.79)" font-size="32.13">OE</text>
<line x1="1472.00" y1="1114.00" x2="1472.00" y2="1123.90" stroke="#000000" stroke-width="3.40"/><line x1="1461.60" y1="1114.00" x2="1482.40" y2="1114.00" stroke="#000000" stroke-width="3.40"/><line x1="1472.00" y1="1123.90" x2="1472.00" y2="1131.00" stroke="#000000" stroke-width="3.40"/><line x1="1461.60" y1="1131.00" x2="1482.40" y2="1131.00" stroke="#000000" stroke-width="3.40"/><circle cx="1473.40" cy="1104.40" r="5.50" fill="#000000"/><circle cx="1465.40" cy="1135.40" r="5.50" fill="#000000"/><circle cx="1480.30" cy="1131.70" r="5.50" fill="#000000"/><line x1="1451.05" y1="1123.90" x2="1492.95" y2="1123.90" stroke="#000" stroke-width="2.60"/>
<line x1="1536.70" y1="1217.10" x2="1536.70" y2="1225.10" stroke="#ff0000" stroke-width="3.40"/><line x1="1526.35" y1="1217.10" x2="1547.05" y2="1217.10" stroke="#ff0000" stroke-width="3.40"/><line x1="1536.70" y1="1225.10" x2="1536.70" y2="1232.50" stroke="#ff0000" stroke-width="3.40"/><line x1="1526.35" y1="1232.50" x2="1547.05" y2="1232.50" stroke="#ff0000" stroke-width="3.40"/><rect x="1531.90" y="1204.70" width="11.00" height="11.00" fill="#ff0000"/><rect x="1538.10" y="1219.00" width="11.00" height="11.00" fill="#ff0000"/><rect x="1524.30" y="1232.10" width="11.00" height="11.00" fill="#ff0000"/><line x1="1515.75" y1="1225.10" x2="1557.65" y2="1225.10" stroke="#000" stroke-width="2.60"/>
<line x1="1601.00" y1="1207.90" x2="1601.00" y2="1213.60" stroke="#00c000" stroke-width="3.40"/><line x1="1590.65" y1="1207.90" x2="1611.35" y2="1207.90" stroke="#00c000" stroke-width="3.40"/><line x1="1601.00" y1="1213.60" x2="1601.00" y2="1220.30" stroke="#00c000" stroke-width="3.40"/><line x1="1590.65" y1="1220.30" x2="1611.35" y2="1220.30" stroke="#00c000" stroke-width="3.40"/><path d="M1596.50 1198.42L1602.50 1209.22L1590.50 1209.22Z" fill="#00c000"/><path d="M1606.90 1205.32L1612.90 1216.12L1600.90 1216.12Z" fill="#00c000"/><path d="M1602.20 1220.32L1608.20 1231.12L1596.20 1231.12Z" fill="#00c000"/><line x1="1580.25" y1="1213.60" x2="1621.75" y2="1213.60" stroke="#000" stroke-width="2.60"/>
<path d="M1666.70 1059.74L1672.20 1049.84L1661.20 1049.84Z" fill="#000000"/><path d="M1673.60 1068.24L1679.10 1058.34L1668.10 1058.34Z" fill="#000000"/><path d="M1658.60 1077.44L1664.10 1067.54L1653.10 1067.54Z" fill="#000000"/>
<line x1="1666.00" y1="1060.00" x2="1666.00" y2="1068.00" stroke="#0000c8" stroke-width="3.40"/><line x1="1656.30" y1="1060.00" x2="1677.00" y2="1060.00" stroke="#0000c8" stroke-width="3.40"/><line x1="1656.30" y1="1068.00" x2="1677.00" y2="1068.00" stroke="#0000c8" stroke-width="3.40"/>
<line x1="1646.00" y1="1063.40" x2="1687.40" y2="1063.40" stroke="#000" stroke-width="2.60"/>
<line x1="1477.00" y1="1018.60" x2="1678.00" y2="1018.60" stroke="#000" stroke-width="3.40"/>
<text transform="translate(1563.31,1023.00)" font-size="19.71">**</text>
<line x1="1594.00" y1="1044.60" x2="1678.60" y2="1044.60" stroke="#000" stroke-width="3.40"/>
<text transform="translate(1622.67,1049.40)" font-size="19.71">****</text>
<line x1="1472.00" y1="1095.60" x2="1534.00" y2="1095.60" stroke="#000" stroke-width="3.40"/>
<text transform="translate(1494.79,1102.08)" font-size="18.50">**</text>
<defs><filter id="fWT" filterUnits="userSpaceOnUse" x="6" y="1396.5" width="295.7" height="232.5" color-interpolation-filters="sRGB"><feGaussianBlur in="SourceGraphic" stdDeviation="10" result="dens"/><feTurbulence type="fractalNoise" baseFrequency="0.150" numOctaves="3" seed="3" result="h0"/><feColorMatrix in="h0" type="matrix" values="1 0 0 0 0 1 0 0 0 0 1 0 0 0 0 0 0 0 0 1" result="hf"/><feComposite in="hf" in2="dens" operator="arithmetic" k1="0" k2="1" k3="0.300" k4="0" result="sum"/><feColorMatrix in="sum" type="matrix" values="0 0 0 0 0.92 0 0 0 0 0.40 0 0 0 0 0.74 7.00 0 0 0 -4.900" result="pink"/><feColorMatrix in="sum" type="matrix" values="0 0 0 0 0.62 0 0 0 0 0.22 0 0 0 0 0.45 3.50 0 0 0 -3.150" result="dpink"/><feTurbulence type="fractalNoise" baseFrequency="0.28" numOctaves="2" seed="26" result="s0"/><feColorMatrix in="s0" type="matrix" values="0 0 0 0 0.82 0 0 0 0 0.74 0 0 0 0 0.40 2.0 0 0 0 -1.000" result="speck"/><feColorMatrix in="s0" type="matrix" values="0 0 0 0 0.45 0 0 0 0 0.33 0 0 0 0 0.10 12 0 0 0 -9.120" result="brown"/><feFlood flood-color="#f8f1bc" result="bg"/><feComposite in="speck" in2="bg" operator="over" result="b2"/><feComposite in="brown" in2="b2" operator="over" result="b3"/><feComposite in="pink" in2="b3" operator="over" result="b4"/><feComposite in="dpink" in2="b4" operator="over"/></filter><filter id="fKO" filterUnits="userSpaceOnUse" x="322" y="1396.5" width="295.3" height="232.5" color-interpolation-filters="sRGB"><feGaussianBlur in="SourceGraphic" stdDeviation="10" result="dens"/><feTurbulence type="fractalNoise" baseFrequency="0.200" numOctaves="3" seed="5" result="h0"/><feColorMatrix in="h0" type="matrix" values="1 0 0 0 0 1 0 0 0 0 1 0 0 0 0 0 0 0 0 1" result="hf"/><feComposite in="hf" in2="dens" operator="arithmetic" k1="0" k2="1" k3="0.300" k4="0" result="sum"/><feColorMatrix in="sum" type="matrix" values="0 0 0 0 0.92 0 0 0 0 0.40 0 0 0 0 0.74 7.00 0 0 0 -5.145" result="pink"/><feColorMatrix in="sum" type="matrix" values="0 0 0 0 0.62 0 0 0 0 0.22 0 0 0 0 0.45 3.50 0 0 0 -3.272" result="dpink"/><feTurbulence type="fractalNoise" baseFrequency="0.28" numOctaves="2" seed="28" result="s0"/><feColorMatrix in="s0" type="matrix" values="0 0 0 0 0.82 0 0 0 0 0.74 0 0 0 0 0.40 2.0 0 0 0 -1.000" result="speck"/><feColorMatrix in="s0" type="matrix" values="0 0 0 0 0.45 0 0 0 0 0.33 0 0 0 0 0.10 12 0 0 0 -9.600" result="brown"/><feFlood flood-color="#f8f1bc" result="bg"/><feComposite in="speck" in2="bg" operator="over" result="b2"/><feComposite in="brown" in2="b2" operator="over" result="b3"/><feComposite in="pink" in2="b3" operator="over" result="b4"/><feComposite in="dpink" in2="b4" operator="over"/></filter><filter id="fMU" filterUnits="userSpaceOnUse" x="636" y="1396.5" width="296" height="232.5" color-interpolation-filters="sRGB"><feGaussianBlur in="SourceGraphic" stdDeviation="10" result="dens"/><feTurbulence type="fractalNoise" baseFrequency="0.200" numOctaves="3" seed="7" result="h0"/><feColorMatrix in="h0" type="matrix" values="1 0 0 0 0 1 0 0 0 0 1 0 0 0 0 0 0 0 0 1" result="hf"/><feComposite in="hf" in2="dens" operator="arithmetic" k1="0" k2="1" k3="0.300" k4="0" result="sum"/><feColorMatrix in="sum" type="matrix" values="0 0 0 0 0.92 0 0 0 0 0.40 0 0 0 0 0.74 7.00 0 0 0 -5.040" result="pink"/><feColorMatrix in="sum" type="matrix" values="0 0 0 0 0.62 0 0 0 0 0.22 0 0 0 0 0.45 3.50 0 0 0 -3.220" result="dpink"/><feTurbulence type="fractalNoise" baseFrequency="0.28" numOctaves="2" seed="30" result="s0"/><feColorMatrix in="s0" type="matrix" values="0 0 0 0 0.82 0 0 0 0 0.74 0 0 0 0 0.40 2.0 0 0 0 -1.000" result="speck"/><feColorMatrix in="s0" type="matrix" values="0 0 0 0 0.45 0 0 0 0 0.33 0 0 0 0 0.10 12 0 0 0 -9.600" result="brown"/><feFlood flood-color="#f8f1bc" result="bg"/><feComposite in="speck" in2="bg" operator="over" result="b2"/><feComposite in="brown" in2="b2" operator="over" result="b3"/><feComposite in="pink" in2="b3" operator="over" result="b4"/><feComposite in="dpink" in2="b4" operator="over"/></filter><filter id="fOE" filterUnits="userSpaceOnUse" x="951" y="1396.5" width="296.3" height="232.5" color-interpolation-filters="sRGB"><feGaussianBlur in="SourceGraphic" stdDeviation="10" result="dens"/><feTurbulence type="fractalNoise" baseFrequency="0.170" numOctaves="3" seed="9" result="h0"/><feColorMatrix in="h0" type="matrix" values="1 0 0 0 0 1 0 0 0 0 1 0 0 0 0 0 0 0 0 1" result="hf"/><feComposite in="hf" in2="dens" operator="arithmetic" k1="0" k2="1" k3="0.280" k4="0" result="sum"/><feColorMatrix in="sum" type="matrix" values="0 0 0 0 0.92 0 0 0 0 0.40 0 0 0 0 0.74 7.00 0 0 0 -4.830" result="pink"/><feColorMatrix in="sum" type="matrix" values="0 0 0 0 0.62 0 0 0 0 0.22 0 0 0 0 0.45 3.50 0 0 0 -3.115" result="dpink"/><feTurbulence type="fractalNoise" baseFrequency="0.28" numOctaves="2" seed="32" result="s0"/><feColorMatrix in="s0" type="matrix" values="0 0 0 0 0.82 0 0 0 0 0.74 0 0 0 0 0.40 2.0 0 0 0 -1.000" result="speck"/><feColorMatrix in="s0" type="matrix" values="0 0 0 0 0.45 0 0 0 0 0.33 0 0 0 0 0.10 12 0 0 0 -9.360" result="brown"/><feFlood flood-color="#f8f1bc" result="bg"/><feComposite in="speck" in2="bg" operator="over" result="b2"/><feComposite in="brown" in2="b2" operator="over" result="b3"/><feComposite in="pink" in2="b3" operator="over" result="b4"/><feComposite in="dpink" in2="b4" operator="over"/></filter></defs>
<text transform="translate(15.94,1339.24)" font-size="47.06" font-weight="bold">F</text>
<text transform="translate(126.74,1361.23)" font-size="31.83">WT</text>
<g filter="url(#fWT)"><rect x="6.0" y="1396.5" width="295.7" height="232.5" fill="#000"/><ellipse cx="150" cy="1512" rx="170" ry="140" fill="#fff" fill-opacity="0.2"/><ellipse cx="30" cy="1435" rx="25" ry="22" fill="#fff" fill-opacity="0.8"/><ellipse cx="115" cy="1440" rx="50" ry="40" fill="#fff" fill-opacity="0.7"/><ellipse cx="265" cy="1440" rx="38" ry="32" fill="#fff" fill-opacity="0.8"/><ellipse cx="42" cy="1530" rx="30" ry="45" fill="#fff" fill-opacity="0.8"/><ellipse cx="145" cy="1545" rx="50" ry="30" fill="#fff" fill-opacity="0.65"/><ellipse cx="245" cy="1530" rx="55" ry="50" fill="#fff" fill-opacity="0.8"/><ellipse cx="255" cy="1615" rx="45" ry="15" fill="#fff" fill-opacity="0.6"/><ellipse cx="48" cy="1520" rx="12" ry="10" fill="#fff" fill-opacity="1"/><ellipse cx="110" cy="1600" rx="40" ry="15" fill="#fff" fill-opacity="0.3"/><ellipse cx="175" cy="1490" rx="25" ry="20" fill="#fff" fill-opacity="0.3"/></g>
<line x1="226.70" y1="1599.00" x2="287.20" y2="1599.00" stroke="#ff0000" stroke-width="3.20"/>
<text transform="translate(237.30,1594.04)" font-size="13.31" font-weight="bold" fill="#ff0000">500μm</text>
<text transform="translate(451.50,1361.45)" font-size="32.47">KO</text>
<g filter="url(#fKO)"><rect x="322.0" y="1396.5" width="295.3" height="232.5" fill="#000"/><ellipse cx="470" cy="1500" rx="150" ry="120" fill="#fff" fill-opacity="0.12"/><ellipse cx="390" cy="1420" rx="50" ry="25" fill="#fff" fill-opacity="0.15"/><ellipse cx="560" cy="1560" rx="40" ry="40" fill="#fff" fill-opacity="0.15"/></g>
<line x1="542.30" y1="1599.00" x2="602.80" y2="1599.00" stroke="#ff0000" stroke-width="3.20"/>
<text transform="translate(552.90,1594.04)" font-size="13.31" font-weight="bold" fill="#ff0000">500μm</text>
<text transform="translate(757.08,1361.40)" font-size="32.79">MU</text>
<g filter="url(#fMU)"><rect x="636.0" y="1396.5" width="296.0" height="232.5" fill="#000"/><ellipse cx="780" cy="1500" rx="150" ry="120" fill="#fff" fill-opacity="0.16"/><ellipse cx="700" cy="1440" rx="60" ry="20" fill="#fff" fill-opacity="0.2"/><ellipse cx="860" cy="1470" rx="50" ry="50" fill="#fff" fill-opacity="0.2"/><ellipse cx="800" cy="1560" rx="60" ry="40" fill="#fff" fill-opacity="0.2"/></g>
<line x1="857.00" y1="1599.00" x2="917.50" y2="1599.00" stroke="#ff0000" stroke-width="3.20"/>
<text transform="translate(867.60,1594.04)" font-size="13.31" font-weight="bold" fill="#ff0000">500μm</text>
<text transform="translate(1076.27,1361.18)" font-size="31.69">OE</text>
<g filter="url(#fOE)"><rect x="951.0" y="1396.5" width="296.3" height="232.5" fill="#000"/><ellipse cx="1100" cy="1512" rx="160" ry="130" fill="#fff" fill-opacity="0.35"/><ellipse cx="985" cy="1440" rx="40" ry="40" fill="#fff" fill-opacity="0.55"/><ellipse cx="1080" cy="1420" rx="60" ry="25" fill="#fff" fill-opacity="0.4"/><ellipse cx="1195" cy="1490" rx="55" ry="90" fill="#fff" fill-opacity="0.6"/><ellipse cx="1010" cy="1580" rx="55" ry="45" fill="#fff" fill-opacity="0.55"/><ellipse cx="1100" cy="1550" rx="40" ry="30" fill="#fff" fill-opacity="0.35"/><ellipse cx="1230" cy="1600" rx="25" ry="30" fill="#fff" fill-opacity="0.5"/></g>
<line x1="1172.30" y1="1599.00" x2="1232.80" y2="1599.00" stroke="#ff0000" stroke-width="3.20"/>
<text transform="translate(1182.90,1594.04)" font-size="13.31" font-weight="bold" fill="#ff0000">500μm</text>
<line x1="1348.00" y1="1359.80" x2="1348.00" y2="1642.20" stroke="#000" stroke-width="3.40"/>
<line x1="1346.30" y1="1640.50" x2="1655.80" y2="1640.50" stroke="#000" stroke-width="3.40"/>
<line x1="1340.50" y1="1640.50" x2="1348.00" y2="1640.50" stroke="#000" stroke-width="3.40"/>
<line x1="1340.50" y1="1570.75" x2="1348.00" y2="1570.75" stroke="#000" stroke-width="3.40"/>
<line x1="1340.50" y1="1501.00" x2="1348.00" y2="1501.00" stroke="#000" stroke-width="3.40"/>
<line x1="1340.50" y1="1431.25" x2="1348.00" y2="1431.25" stroke="#000" stroke-width="3.40"/>
<line x1="1340.50" y1="1361.50" x2="1348.00" y2="1361.50" stroke="#000" stroke-width="3.40"/>
<line x1="1386.50" y1="1640.50" x2="1386.50" y2="1648.00" stroke="#000" stroke-width="3.40"/>
<line x1="1462.30" y1="1640.50" x2="1462.30" y2="1648.00" stroke="#000" stroke-width="3.40"/>
<line x1="1539.00" y1="1640.50" x2="1539.00" y2="1648.00" stroke="#000" stroke-width="3.40"/>
<line x1="1615.70" y1="1640.50" x2="1615.70" y2="1648.00" stroke="#000" stroke-width="3.40"/>
<text transform="translate(1327.19,1651.71) scale(0.950,1)" font-size="18.00" font-weight="bold">0</text>
<text transform="translate(1308.21,1581.96) scale(0.950,1)" font-size="18.00" font-weight="bold">100</text>
<text transform="translate(1308.21,1512.21) scale(0.950,1)" font-size="18.00" font-weight="bold">200</text>
<text transform="translate(1308.21,1442.46) scale(0.950,1)" font-size="18.00" font-weight="bold">300</text>
<text transform="translate(1308.21,1372.71) scale(0.950,1)" font-size="18.00" font-weight="bold">400</text>
<text transform="translate(1459.78,1344.38)" font-size="40.23">LLC</text>
<text transform="translate(1298.05,1626.06) rotate(-90)" font-size="33.29">Number of cells</text>
<text transform="translate(1359.44,1678.84)" font-size="32.16">WT</text>
<text transform="translate(1440.50,1679.37)" font-size="33.69">KO</text>
<text transform="translate(1510.52,1679.55)" font-size="34.71">MU</text>
<text transform="translate(1591.88,1679.37)" font-size="33.68">OE</text>
<rect x="1359.20" y="1455.50" width="54.00" height="185.00" fill="#000000"/><line x1="1386.20" y1="1440.90" x2="1386.20" y2="1457.00" stroke="#000" stroke-width="2.80"/><line x1="1374.00" y1="1440.90" x2="1398.40" y2="1440.90" stroke="#000" stroke-width="3.40"/><rect x="1435.40" y="1612.00" width="55.00" height="28.50" fill="#ff0000"/><line x1="1462.90" y1="1609.00" x2="1462.90" y2="1613.50" stroke="#000" stroke-width="2.80"/><line x1="1450.70" y1="1609.00" x2="1475.10" y2="1609.00" stroke="#000" stroke-width="3.40"/><rect x="1511.80" y="1603.30" width="54.40" height="37.20" fill="#00c000"/><line x1="1539.00" y1="1600.50" x2="1539.00" y2="1604.80" stroke="#000" stroke-width="2.80"/><line x1="1526.80" y1="1600.50" x2="1551.20" y2="1600.50" stroke="#000" stroke-width="3.40"/><rect x="1588.60" y="1418.60" width="54.10" height="221.90" fill="#0000c0"/><line x1="1615.65" y1="1404.60" x2="1615.65" y2="1420.10" stroke="#000" stroke-width="2.80"/><line x1="1603.45" y1="1404.60" x2="1627.85" y2="1404.60" stroke="#000" stroke-width="3.40"/>
<line x1="1448.90" y1="1371.50" x2="1628.60" y2="1371.50" stroke="#000" stroke-width="3.50"/>
<text transform="translate(1505.60,1378.48)" font-size="22.00">****</text>
<line x1="1540.40" y1="1393.60" x2="1622.00" y2="1393.60" stroke="#000" stroke-width="3.50"/>
<text transform="translate(1564.52,1400.98)" font-size="21.71">****</text>
<line x1="1390.80" y1="1432.60" x2="1472.00" y2="1432.60" stroke="#000" stroke-width="3.50"/>
<text transform="translate(1406.16,1440.06)" font-size="23.71">****</text>
<line x1="1454.60" y1="1565.30" x2="1564.80" y2="1565.30" stroke="#000" stroke-width="3.50"/>
<text transform="translate(1471.32,1557.69)" font-size="25.27">p=0.07</text>
<text transform="translate(-0.86,1746.30)" font-size="46.52" font-weight="bold">G</text>
<line x1="91.70" y1="1789.50" x2="91.70" y2="2037.10" stroke="#000" stroke-width="3.00"/>
<line x1="90.20" y1="2035.60" x2="394.00" y2="2035.60" stroke="#000" stroke-width="3.00"/>
<line x1="85.20" y1="2035.60" x2="91.70" y2="2035.60" stroke="#000" stroke-width="3.00"/>
<line x1="85.20" y1="1954.07" x2="91.70" y2="1954.07" stroke="#000" stroke-width="3.00"/>
<line x1="85.20" y1="1872.53" x2="91.70" y2="1872.53" stroke="#000" stroke-width="3.00"/>
<line x1="85.20" y1="1791.00" x2="91.70" y2="1791.00" stroke="#000" stroke-width="3.00"/>
<line x1="167.60" y1="2035.60" x2="167.60" y2="2042.60" stroke="#000" stroke-width="3.00"/>
<line x1="317.70" y1="2035.60" x2="317.70" y2="2042.60" stroke="#000" stroke-width="3.00"/>
<text transform="translate(76.51,2046.00) scale(0.750,1)" font-size="16.80" font-weight="bold">0</text>
<text transform="translate(76.32,1964.46) scale(0.750,1)" font-size="16.80" font-weight="bold">1</text>
<text transform="translate(76.51,1883.01) scale(0.750,1)" font-size="16.80" font-weight="bold">2</text>
<text transform="translate(76.45,1801.40) scale(0.750,1)" font-size="16.80" font-weight="bold">3</text>
<text transform="translate(193.90,1765.66)" font-size="39.61">A549</text>
<text transform="translate(64.94,2020.29) rotate(-90)" font-size="33.16">OD at 450 nm</text>
<text transform="translate(118.69,2070.69)" font-size="32.86">5%FBS</text>
<text transform="translate(255.22,2070.74)" font-size="33.02">10%FBS</text>
<rect x="106.30" y="1882.60" width="29.20" height="153.00" fill="#000000"/><line x1="120.90" y1="1881.00" x2="120.90" y2="1884.10" stroke="#000" stroke-width="2.80"/><line x1="114.40" y1="1881.00" x2="127.40" y2="1881.00" stroke="#000" stroke-width="3.40"/><rect x="137.80" y="1966.00" width="28.20" height="69.60" fill="#ff0000"/><line x1="151.90" y1="1963.50" x2="151.90" y2="1967.50" stroke="#000" stroke-width="2.80"/><line x1="145.40" y1="1963.50" x2="158.40" y2="1963.50" stroke="#000" stroke-width="3.40"/><rect x="169.20" y="1943.00" width="28.60" height="92.60" fill="#00c000"/><line x1="183.50" y1="1934.50" x2="183.50" y2="1944.50" stroke="#000" stroke-width="2.80"/><line x1="177.00" y1="1934.50" x2="190.00" y2="1934.50" stroke="#000" stroke-width="3.40"/><rect x="200.40" y="1846.00" width="28.50" height="189.60" fill="#0000ff"/><line x1="214.65" y1="1837.30" x2="214.65" y2="1847.50" stroke="#000" stroke-width="2.80"/><line x1="208.15" y1="1837.30" x2="221.15" y2="1837.30" stroke="#000" stroke-width="3.40"/><rect x="257.00" y="1874.50" width="29.00" height="161.10" fill="#000000"/><line x1="271.50" y1="1868.70" x2="271.50" y2="1876.00" stroke="#000" stroke-width="2.80"/><line x1="265.00" y1="1868.70" x2="278.00" y2="1868.70" stroke="#000" stroke-width="3.40"/><rect x="288.50" y="1932.00" width="28.50" height="103.60" fill="#ff0000"/><line x1="302.75" y1="1925.40" x2="302.75" y2="1933.50" stroke="#000" stroke-width="2.80"/><line x1="296.25" y1="1925.40" x2="309.25" y2="1925.40" stroke="#000" stroke-width="3.40"/><rect x="320.00" y="1920.00" width="28.50" height="115.60" fill="#00c000"/><line x1="334.25" y1="1916.70" x2="334.25" y2="1921.50" stroke="#000" stroke-width="2.80"/><line x1="327.75" y1="1916.70" x2="340.75" y2="1916.70" stroke="#000" stroke-width="3.40"/><rect x="351.70" y="1817.80" width="28.30" height="217.80" fill="#0000ff"/><line x1="365.85" y1="1806.40" x2="365.85" y2="1819.30" stroke="#000" stroke-width="2.80"/><line x1="359.35" y1="1806.40" x2="372.35" y2="1806.40" stroke="#000" stroke-width="3.40"/>
<rect x="413.00" y="1800.60" width="24.70" height="15.40" fill="#000000"/>
<text transform="translate(440.84,1820.12)" font-size="32.68">WT</text>
<rect x="413.00" y="1829.80" width="24.70" height="14.90" fill="#ff0000"/>
<text transform="translate(438.67,1849.45)" font-size="35.36">KO</text>
<rect x="413.00" y="1857.70" width="24.70" height="14.30" fill="#00c000"/>
<text transform="translate(438.81,1878.66)" font-size="33.57">MU</text>
<rect x="413.00" y="1885.00" width="24.70" height="15.50" fill="#0000ff"/>
<text transform="translate(439.99,1907.14)" font-size="33.46">OE</text>
<line x1="111.80" y1="1815.50" x2="148.50" y2="1815.50" stroke="#000" stroke-width="4.00"/>
<text transform="translate(118.88,1821.78)" font-size="18.50">***</text>
<line x1="183.00" y1="1815.50" x2="223.00" y2="1815.50" stroke="#000" stroke-width="4.00"/>
<text transform="translate(188.22,1821.78)" font-size="18.50">****</text>
<line x1="146.00" y1="1920.50" x2="196.00" y2="1920.50" stroke="#000" stroke-width="3.00"/>
<text transform="translate(160.70,1922.49) scale(0.871,1)" font-size="21.27">ns</text>
<line x1="262.60" y1="1828.00" x2="301.50" y2="1828.00" stroke="#000" stroke-width="4.00"/>
<text transform="translate(272.79,1834.03)" font-size="18.50">**</text>
<line x1="300.00" y1="1883.00" x2="342.00" y2="1883.00" stroke="#000" stroke-width="4.00"/>
<text transform="translate(318.99,1889.03)" font-size="18.50">*</text>
<line x1="335.50" y1="1798.30" x2="372.80" y2="1798.30" stroke="#000" stroke-width="4.00"/>
<text transform="translate(345.78,1804.53)" font-size="18.50">***</text>
<line x1="585.00" y1="1773.20" x2="585.00" y2="2028.50" stroke="#000" stroke-width="3.00"/>
<line x1="583.50" y1="2027.00" x2="892.00" y2="2027.00" stroke="#000" stroke-width="3.00"/>
<line x1="578.50" y1="2027.00" x2="585.00" y2="2027.00" stroke="#000" stroke-width="3.00"/>
<line x1="578.50" y1="1942.90" x2="585.00" y2="1942.90" stroke="#000" stroke-width="3.00"/>
<line x1="578.50" y1="1858.80" x2="585.00" y2="1858.80" stroke="#000" stroke-width="3.00"/>
<line x1="578.50" y1="1774.70" x2="585.00" y2="1774.70" stroke="#000" stroke-width="3.00"/>
<line x1="660.50" y1="2027.00" x2="660.50" y2="2034.00" stroke="#000" stroke-width="3.00"/>
<line x1="813.80" y1="2027.00" x2="813.80" y2="2034.00" stroke="#000" stroke-width="3.00"/>
<text transform="translate(568.71,2037.80) scale(0.750,1)" font-size="16.80" font-weight="bold">0</text>
<text transform="translate(568.52,1953.70) scale(0.750,1)" font-size="16.80" font-weight="bold">1</text>
<text transform="translate(568.71,1869.68) scale(0.750,1)" font-size="16.80" font-weight="bold">2</text>
<text transform="translate(568.65,1785.50) scale(0.750,1)" font-size="16.80" font-weight="bold">3</text>
<text transform="translate(718.74,1761.29)" font-size="40.70">LLC</text>
<text transform="translate(560.87,2005.49) rotate(-90)" font-size="33.10">OD at 450 nm</text>
<text transform="translate(608.29,2067.36)" font-size="32.77">5%FBS</text>
<text transform="translate(749.54,2067.39)" font-size="32.86">10%FBS</text>
<rect x="598.90" y="1815.50" width="28.50" height="211.50" fill="#000000"/><line x1="613.15" y1="1808.00" x2="613.15" y2="1817.00" stroke="#000" stroke-width="2.80"/><line x1="606.65" y1="1808.00" x2="619.65" y2="1808.00" stroke="#000" stroke-width="3.40"/><rect x="630.60" y="1938.70" width="29.20" height="88.30" fill="#ff0000"/><line x1="645.20" y1="1923.80" x2="645.20" y2="1940.20" stroke="#000" stroke-width="2.80"/><line x1="638.70" y1="1923.80" x2="651.70" y2="1923.80" stroke="#000" stroke-width="3.40"/><rect x="662.00" y="1948.40" width="29.30" height="78.60" fill="#00c000"/><line x1="676.65" y1="1947.00" x2="676.65" y2="1949.90" stroke="#000" stroke-width="2.80"/><line x1="670.15" y1="1947.00" x2="683.15" y2="1947.00" stroke="#000" stroke-width="3.40"/><rect x="694.50" y="1833.00" width="28.50" height="194.00" fill="#0000ff"/><line x1="708.75" y1="1823.00" x2="708.75" y2="1834.50" stroke="#000" stroke-width="2.80"/><line x1="702.25" y1="1823.00" x2="715.25" y2="1823.00" stroke="#000" stroke-width="3.40"/><rect x="751.90" y="1834.60" width="29.10" height="192.40" fill="#000000"/><line x1="766.45" y1="1824.30" x2="766.45" y2="1836.10" stroke="#000" stroke-width="2.80"/><line x1="759.95" y1="1824.30" x2="772.95" y2="1824.30" stroke="#000" stroke-width="3.40"/><rect x="784.30" y="1890.00" width="27.90" height="137.00" fill="#ff0000"/><line x1="798.25" y1="1882.60" x2="798.25" y2="1891.50" stroke="#000" stroke-width="2.80"/><line x1="791.75" y1="1882.60" x2="804.75" y2="1882.60" stroke="#000" stroke-width="3.40"/><rect x="816.00" y="1932.00" width="27.60" height="95.00" fill="#00c000"/><line x1="829.80" y1="1928.30" x2="829.80" y2="1933.50" stroke="#000" stroke-width="2.80"/><line x1="823.30" y1="1928.30" x2="836.30" y2="1928.30" stroke="#000" stroke-width="3.40"/><rect x="847.50" y="1795.70" width="27.90" height="231.30" fill="#0000ff"/><line x1="861.45" y1="1789.50" x2="861.45" y2="1797.20" stroke="#000" stroke-width="2.80"/><line x1="854.95" y1="1789.50" x2="867.95" y2="1789.50" stroke="#000" stroke-width="3.40"/>
<rect x="910.00" y="1783.70" width="24.40" height="16.90" fill="#000000"/>
<text transform="translate(945.64,1805.22)" font-size="32.81">WT</text>
<rect x="910.00" y="1812.00" width="24.40" height="17.00" fill="#ff0000"/>
<text transform="translate(943.79,1834.37)" font-size="33.84">KO</text>
<rect x="910.00" y="1841.40" width="24.40" height="16.90" fill="#00c000"/>
<text transform="translate(943.81,1864.01)" font-size="33.57">MU</text>
<rect x="910.00" y="1869.70" width="24.40" height="17.80" fill="#0000ff"/>
<text transform="translate(945.01,1894.07)" font-size="33.09">OE</text>
<line x1="604.40" y1="1800.60" x2="641.70" y2="1800.60" stroke="#000" stroke-width="4.00"/>
<text transform="translate(612.18,1806.78)" font-size="18.50">***</text>
<line x1="676.70" y1="1800.60" x2="717.20" y2="1800.60" stroke="#000" stroke-width="4.00"/>
<text transform="translate(683.42,1806.78)" font-size="18.50">****</text>
<line x1="639.40" y1="1908.90" x2="690.60" y2="1908.90" stroke="#000" stroke-width="4.00"/>
<text transform="translate(653.77,1907.99)" font-size="18.85">ns</text>
<line x1="757.70" y1="1812.30" x2="796.60" y2="1812.30" stroke="#000" stroke-width="4.00"/>
<text transform="translate(768.38,1818.28)" font-size="18.50">**</text>
<line x1="795.00" y1="1869.00" x2="838.80" y2="1869.00" stroke="#000" stroke-width="4.00"/>
<text transform="translate(814.09,1875.03)" font-size="18.50">*</text>
<line x1="830.70" y1="1782.40" x2="869.60" y2="1782.40" stroke="#000" stroke-width="4.00"/>
<text transform="translate(840.88,1788.78)" font-size="18.50">***</text>
<text transform="translate(1031.15,1741.50)" font-size="46.95" font-weight="bold">H</text>
<line x1="1145.00" y1="1778.60" x2="1145.00" y2="2038.10" stroke="#000" stroke-width="3.40"/>
<line x1="1143.30" y1="2036.40" x2="1364.00" y2="2036.40" stroke="#000" stroke-width="3.40"/>
<line x1="1137.50" y1="2036.40" x2="1145.00" y2="2036.40" stroke="#000" stroke-width="3.40"/>
<line x1="1137.50" y1="1985.18" x2="1145.00" y2="1985.18" stroke="#000" stroke-width="3.40"/>
<line x1="1137.50" y1="1933.96" x2="1145.00" y2="1933.96" stroke="#000" stroke-width="3.40"/>
<line x1="1137.50" y1="1882.74" x2="1145.00" y2="1882.74" stroke="#000" stroke-width="3.40"/>
<line x1="1137.50" y1="1831.52" x2="1145.00" y2="1831.52" stroke="#000" stroke-width="3.40"/>
<line x1="1137.50" y1="1780.30" x2="1145.00" y2="1780.30" stroke="#000" stroke-width="3.40"/>
<line x1="1172.60" y1="2036.40" x2="1172.60" y2="2043.90" stroke="#000" stroke-width="3.40"/>
<line x1="1226.40" y1="2036.40" x2="1226.40" y2="2043.90" stroke="#000" stroke-width="3.40"/>
<line x1="1281.00" y1="2036.40" x2="1281.00" y2="2043.90" stroke="#000" stroke-width="3.40"/>
<line x1="1336.00" y1="2036.40" x2="1336.00" y2="2043.90" stroke="#000" stroke-width="3.40"/>
<text transform="translate(1123.49,2046.61) scale(0.950,1)" font-size="18.00" font-weight="bold">0</text>
<text transform="translate(1114.00,1995.39) scale(0.950,1)" font-size="18.00" font-weight="bold">20</text>
<text transform="translate(1114.00,1944.17) scale(0.950,1)" font-size="18.00" font-weight="bold">40</text>
<text transform="translate(1114.00,1892.95) scale(0.950,1)" font-size="18.00" font-weight="bold">60</text>
<text transform="translate(1114.00,1841.73) scale(0.950,1)" font-size="18.00" font-weight="bold">80</text>
<text transform="translate(1104.51,1790.51) scale(0.950,1)" font-size="18.00" font-weight="bold">100</text>
<text transform="translate(1202.79,1768.74)" font-size="40.12">LLC</text>
<text transform="translate(1098.54,2039.05) rotate(-90)" font-size="33.12">Number of clone</text>
<text transform="translate(1146.84,2074.38)" font-size="31.83">WT</text>
<text transform="translate(1202.34,2074.89)" font-size="33.31">KO</text>
<text transform="translate(1252.94,2075.13)" font-size="34.50">MU</text>
<text transform="translate(1310.54,2074.56)" font-size="32.35">OE</text>
<rect x="1153.50" y="1928.00" width="38.30" height="108.40" fill="#000000"/><line x1="1172.65" y1="1910.20" x2="1172.65" y2="1929.50" stroke="#000" stroke-width="2.80"/><line x1="1165.90" y1="1910.20" x2="1179.40" y2="1910.20" stroke="#000" stroke-width="3.40"/><rect x="1206.80" y="2001.00" width="40.10" height="35.40" fill="#ff0000"/><line x1="1226.85" y1="1995.60" x2="1226.85" y2="2002.50" stroke="#000" stroke-width="2.80"/><line x1="1220.10" y1="1995.60" x2="1233.60" y2="1995.60" stroke="#000" stroke-width="3.40"/><rect x="1261.40" y="1981.00" width="40.40" height="55.40" fill="#00c000"/><line x1="1281.60" y1="1975.30" x2="1281.60" y2="1982.50" stroke="#000" stroke-width="2.80"/><line x1="1274.85" y1="1975.30" x2="1288.35" y2="1975.30" stroke="#000" stroke-width="3.40"/><rect x="1316.30" y="1844.20" width="40.20" height="192.20" fill="#0000c8"/><line x1="1336.40" y1="1818.00" x2="1336.40" y2="1845.70" stroke="#000" stroke-width="2.80"/><line x1="1329.65" y1="1818.00" x2="1343.15" y2="1818.00" stroke="#000" stroke-width="3.40"/>
<line x1="1266.50" y1="1808.70" x2="1345.20" y2="1808.70" stroke="#000" stroke-width="3.50"/>
<text transform="translate(1298.09,1814.53)" font-size="18.50">**</text>
<line x1="1173.80" y1="1893.80" x2="1284.50" y2="1893.80" stroke="#000" stroke-width="2.60"/>
<text transform="translate(1226.59,1899.03)" font-size="18.50">**</text>
<line x1="1216.00" y1="1962.60" x2="1291.90" y2="1962.60" stroke="#000" stroke-width="3.50"/>
<text transform="translate(1248.19,1968.53)" font-size="18.50">*</text>
<line x1="1468.40" y1="1783.85" x2="1468.40" y2="2036.40" stroke="#000" stroke-width="2.80"/>
<line x1="1467.00" y1="2034.70" x2="1709.00" y2="2034.70" stroke="#000" stroke-width="3.40"/>
<line x1="1461.10" y1="2034.70" x2="1468.40" y2="2034.70" stroke="#000" stroke-width="3.70"/>
<line x1="1461.10" y1="1972.45" x2="1468.40" y2="1972.45" stroke="#000" stroke-width="3.70"/>
<line x1="1461.10" y1="1910.20" x2="1468.40" y2="1910.20" stroke="#000" stroke-width="3.70"/>
<line x1="1461.10" y1="1847.95" x2="1468.40" y2="1847.95" stroke="#000" stroke-width="3.70"/>
<line x1="1461.10" y1="1785.70" x2="1468.40" y2="1785.70" stroke="#000" stroke-width="3.70"/>
<line x1="1498.00" y1="2034.70" x2="1498.00" y2="2042.20" stroke="#000" stroke-width="3.40"/>
<line x1="1557.60" y1="2034.70" x2="1557.60" y2="2042.20" stroke="#000" stroke-width="3.40"/>
<line x1="1617.40" y1="2034.70" x2="1617.40" y2="2042.20" stroke="#000" stroke-width="3.40"/>
<line x1="1677.20" y1="2034.70" x2="1677.20" y2="2042.20" stroke="#000" stroke-width="3.40"/>
<text transform="translate(1447.35,2045.40)" font-size="19.70" font-weight="bold">0</text>
<text transform="translate(1436.42,1983.15)" font-size="19.70" font-weight="bold">10</text>
<text transform="translate(1436.42,1920.90)" font-size="19.70" font-weight="bold">20</text>
<text transform="translate(1436.42,1858.65)" font-size="19.70" font-weight="bold">30</text>
<text transform="translate(1436.42,1796.40)" font-size="19.70" font-weight="bold">40</text>
<text transform="translate(1524.30,1767.82)" font-size="40.35">A549</text>
<text transform="translate(1426.83,2048.16) rotate(-90)" font-size="33.22">Number of clone</text>
<text transform="translate(1472.84,2072.02)" font-size="32.68">WT</text>
<text transform="translate(1534.59,2072.45)" font-size="33.92">KO</text>
<text transform="translate(1596.69,2071.85)" font-size="32.64">MU</text>
<text transform="translate(1655.52,2072.06)" font-size="32.79">OE</text>
<rect x="1477.50" y="1948.00" width="42.00" height="86.70" fill="#000000"/><line x1="1498.50" y1="1940.00" x2="1498.50" y2="1949.50" stroke="#000" stroke-width="2.80"/><line x1="1489.00" y1="1940.00" x2="1508.00" y2="1940.00" stroke="#000" stroke-width="3.40"/><rect x="1536.70" y="2008.50" width="42.00" height="26.20" fill="#ff0000"/><line x1="1557.70" y1="2003.50" x2="1557.70" y2="2010.00" stroke="#000" stroke-width="2.80"/><line x1="1548.20" y1="2003.50" x2="1567.20" y2="2003.50" stroke="#000" stroke-width="3.40"/><rect x="1596.00" y="2001.60" width="42.50" height="33.10" fill="#00c000"/><line x1="1617.25" y1="1997.70" x2="1617.25" y2="2003.10" stroke="#000" stroke-width="2.80"/><line x1="1607.75" y1="1997.70" x2="1626.75" y2="1997.70" stroke="#000" stroke-width="3.40"/><rect x="1656.00" y="1846.40" width="42.30" height="188.30" fill="#0000c8"/><line x1="1677.15" y1="1819.30" x2="1677.15" y2="1847.90" stroke="#000" stroke-width="2.80"/><line x1="1667.65" y1="1819.30" x2="1686.65" y2="1819.30" stroke="#000" stroke-width="3.40"/>
<line x1="1495.30" y1="1793.80" x2="1666.40" y2="1793.80" stroke="#000" stroke-width="2.60"/>
<text transform="translate(1572.96,1798.31)" font-size="18.57">**</text>
<line x1="1623.30" y1="1811.60" x2="1684.60" y2="1811.60" stroke="#000" stroke-width="2.60"/>
<text transform="translate(1646.96,1816.81)" font-size="18.57">**</text>
<line x1="1498.80" y1="1927.40" x2="1559.70" y2="1927.40" stroke="#000" stroke-width="3.60"/>
<text transform="translate(1521.90,1933.30)" font-size="20.00">**</text>
<line x1="1555.40" y1="1976.30" x2="1621.10" y2="1976.30" stroke="#000" stroke-width="3.60"/>
<text transform="translate(1574.93,1973.38)" font-size="24.08">ns</text>
<text transform="translate(11.89,2126.68)" font-size="52.41" font-weight="bold">I</text>
<text transform="translate(187.84,2132.75)" font-size="31.90">WT</text>
<path d="M239 2217.0h1.2m-2.2 4h1.2m18.8 1h1.2m6.8 0h1.2m-5.2 2h1.2m-9.2 1h1.2m28.8 0h1.2m-45.2 2h1.2m-14.2 1h1.2m5.8 0h1.2m34.8 0h1.2m-11.2 1h1.2m-0.2 0h1.2m-6.2 1h1.2m16.8 0h1.2m-39.2 1h1.2m-0.2 0h1.2m11.8 0h1.2m5.8 0h1.2m-18.2 1h1.2m18.8 0h1.2m7.8 0h1.2m-0.2 0h1.2m3.8 0h1.2m-46.2 1h1.2m5.8 0h1.2m-0.2 0h1.2m2.8 0h1.2m31.8 0h1.2m-47.2 1h1.2m24.8 0h1.2m2.8 0h1.2m4.8 0h1.2m3.8 0h1.2m-45.2 1h1.2m17.8 0h1.2m4.8 0h1.2m1.8 0h1.2m5.8 0h1.2m13.8 0h1.2m15.8 0h1.2m-66.2 1h1.2m18.8 0h1.2m-0.2 0h1.2m10.8 0h1.2m-0.2 0h1.2m7.8 0h1.2m1.8 0h1.2m-42.2 1h1.2m13.8 0h1.2m2.8 0h1.2m1.8 0h1.2m3.8 0h1.2m4.8 0h1.2m8.8 0h1.2m-41.2 1h1.2m-0.2 0h1.2m2.8 0h1.2m3.8 0h1.2m2.8 0h1.2m11.8 0h1.2m-35.2 1h1.2m0.8 0h1.2m0.8 0h1.2m0.8 0h1.2m9.8 0h1.2m7.8 0h1.2m1.8 0h1.2m5.8 0h1.2m1.8 0h1.2m3.8 0h1.2m16.8 0h1.2m-58.2 1h1.2m4.8 0h1.2m5.8 0h1.2m3.8 0h1.2m-0.2 0h1.2m4.8 0h1.2m10.8 0h1.2m40.8 0h1.2m-95.2 1h1.2m7.8 0h1.2m10.8 0h1.2m3.8 0h1.2m3.8 0h1.2m8.8 0h1.2m-0.2 0h1.2m0.8 0h1.2m0.8 0h1.2m-0.2 0h1.2m2.8 0h1.2m7.8 0h1.2m-60.2 1h1.2m3.8 0h1.2m-0.2 0h1.2m0.8 0h1.2m-0.2 0h1.2m6.8 0h1.2m9.8 0h1.2m2.8 0h1.2m4.8 0h1.2m4.8 0h1.2m-0.2 0h1.2m3.8 0h1.2m2.8 0h1.2m-0.2 0h1.2m5.8 0h1.2m0.8 0h1.2m-79.2 1h1.2m22.8 0h1.2m6.8 0h1.2m1.8 0h1.2m-0.2 0h1.2m-0.2 0h1.2m3.8 0h1.2m1.8 0h1.2m-0.2 0h1.2m4.8 0h1.2m14.8 0h1.2m8.8 0h1.2m-0.2 0h1.2m13.8 0h1.2m-87.2 1h1.2m13.8 0h1.2m3.8 0h1.2m0.8 0h1.2m4.8 0h1.2m-0.2 0h1.2m0.8 0h1.2m2.8 0h1.2m0.8 0h1.2m0.8 0h1.2m2.8 0h1.2m-0.2 0h1.2m1.8 0h1.2m-0.2 0h1.2m0.8 0h1.2m11.8 0h1.2m0.8 0h1.2m-52.2 1h1.2m11.8 0h1.2m1.8 0h1.2m1.8 0h1.2m3.8 0h1.2m5.8 0h1.2m0.8 0h1.2m0.8 0h1.2m0.8 0h1.2m0.8 0h1.2m2.8 0h1.2m1.8 0h1.2m-0.2 0h1.2m2.8 0h1.2m1.8 0h1.2m3.8 0h1.2m-0.2 0h1.2m-0.2 0h1.2m-71.2 1h1.2m9.8 0h1.2m1.8 0h1.2m2.8 0h1.2m1.8 0h1.2m-0.2 0h1.2m5.8 0h1.2m3.8 0h1.2m3.8 0h1.2m15.8 0h1.2m-75.2 1h1.2m27.8 0h1.2m3.8 0h1.2m3.8 0h1.2m3.8 0h1.2m0.8 0h1.2m1.8 0h1.2m1.8 0h1.2m-0.2 0h1.2m0.8 0h1.2m2.8 0h1.2m1.8 0h1.2m-0.2 0h1.2m6.8 0h1.2m2.8 0h1.2m-0.2 0h1.2m-38.2 1h1.2m-0.2 0h1.2m-0.2 0h1.2m7.8 0h1.2m-0.2 0h1.2m1.8 0h1.2m1.8 0h1.2m5.8 0h1.2m-0.2 0h1.2m0.8 0h1.2m1.8 0h1.2m-0.2 0h1.2m-0.2 0h1.2m0.8 0h1.2m-0.2 0h1.2m3.8 0h1.2m-52.2 1h1.2m5.8 0h1.2m5.8 0h1.2m0.8 0h1.2m-0.2 0h1.2m1.8 0h1.2m1.8 0h1.2m2.8 0h1.2m3.8 0h1.2m2.8 0h1.2m2.8 0h1.2m1.8 0h1.2m2.8 0h1.2m-0.2 0h1.2m2.8 0h1.2m6.8 0h1.2m-59.2 1h1.2m0.8 0h1.2m1.8 0h1.2m0.8 0h1.2m-0.2 0h1.2m2.8 0h1.2m2.8 0h1.2m-0.2 0h1.2m1.8 0h1.2m-0.2 0h1.2m-0.2 0h1.2m3.8 0h1.2m0.8 0h1.2m0.8 0h1.2m-0.2 0h1.2m1.8 0h1.2m-0.2 0h1.2m0.8 0h1.2m15.8 0h1.2m-72.2 1h1.2m0.8 0h1.2m-0.2 0h1.2m1.8 0h1.2m1.8 0h1.2m-0.2 0h1.2m4.8 0h1.2m1.8 0h1.2m2.8 0h1.2m1.8 0h1.2m2.8 0h1.2m-0.2 0h1.2m2.8 0h1.2m1.8 0h1.2m0.8 0h1.2m1.8 0h1.2m0.8 0h1.2m0.8 0h1.2m7.8 0h1.2m0.8 0h1.2m1.8 0h1.2m5.8 0h1.2m5.8 0h1.2m-71.2 1h1.2m14.8 0h1.2m13.8 0h1.2m-0.2 0h1.2m4.8 0h1.2m0.8 0h1.2m-0.2 0h1.2m-0.2 0h1.2m3.8 0h1.2m4.8 0h1.2m2.8 0h1.2m12.8 0h1.2m-66.2 1h1.2m-0.2 0h1.2m10.8 0h1.2m0.8 0h1.2m7.8 0h1.2m0.8 0h1.2m1.8 0h1.2m-0.2 0h1.2m-0.2 0h1.2m3.8 0h1.2m-0.2 0h1.2m-0.2 0h1.2m1.8 0h1.2m0.8 0h1.2m6.8 0h1.2m3.8 0h1.2m-66.2 1h1.2m18.8 0h1.2m-0.2 0h1.2m4.8 0h1.2m0.8 0h1.2m-0.2 0h1.2m0.8 0h1.2m-0.2 0h1.2m1.8 0h1.2m0.8 0h1.2m1.8 0h1.2m2.8 0h1.2m1.8 0h1.2m0.8 0h1.2m0.8 0h1.2m1.8 0h1.2m6.8 0h1.2m4.8 0h1.2m-61.2 1h1.2m-0.2 0h1.2m8.8 0h1.2m-0.2 0h1.2m4.8 0h1.2m-0.2 0h1.2m2.8 0h1.2m1.8 0h1.2m0.8 0h1.2m-0.2 0h1.2m4.8 0h1.2m0.8 0h1.2m1.8 0h1.2m4.8 0h1.2m-0.2 0h1.2m-0.2 0h1.2m1.8 0h1.2m1.8 0h1.2m-55.2 1h1.2m2.8 0h1.2m10.8 0h1.2m-0.2 0h1.2m6.8 0h1.2m10.8 0h1.2m-0.2 0h1.2m5.8 0h1.2m0.8 0h1.2m20.8 0h1.2m3.8 0h1.2m-87.2 1h1.2m0.8 0h1.2m7.8 0h1.2m0.8 0h1.2m6.8 0h1.2m2.8 0h1.2m0.8 0h1.2m0.8 0h1.2m1.8 0h1.2m0.8 0h1.2m-0.2 0h1.2m1.8 0h1.2m-0.2 0h1.2m-0.2 0h1.2m-0.2 0h1.2m2.8 0h1.2m-0.2 0h1.2m3.8 0h1.2m1.8 0h1.2m-0.2 0h1.2m-0.2 0h1.2m-0.2 0h1.2m1.8 0h1.2m-0.2 0h1.2m0.8 0h1.2m-0.2 0h1.2m-67.2 1h1.2m16.8 0h1.2m5.8 0h1.2m3.8 0h1.2m-0.2 0h1.2m-0.2 0h1.2m7.8 0h1.2m7.8 0h1.2m2.8 0h1.2m0.8 0h1.2m-0.2 0h1.2m3.8 0h1.2m2.8 0h1.2m-48.2 1h1.2m5.8 0h1.2m0.8 0h1.2m-0.2 0h1.2m0.8 0h1.2m5.8 0h1.2m5.8 0h1.2m-0.2 0h1.2m0.8 0h1.2m10.8 0h1.2m0.8 0h1.2m-0.2 0h1.2m1.8 0h1.2m13.8 0h1.2m-75.2 1h1.2m0.8 0h1.2m-0.2 0h1.2m3.8 0h1.2m6.8 0h1.2m1.8 0h1.2m-0.2 0h1.2m-0.2 0h1.2m2.8 0h1.2m0.8 0h1.2m2.8 0h1.2m1.8 0h1.2m0.8 0h1.2m-0.2 0h1.2m1.8 0h1.2m0.8 0h1.2m2.8 0h1.2m10.8 0h1.2m-0.2 0h1.2m2.8 0h1.2m1.8 0h1.2m-56.2 1h1.2m1.8 0h1.2m-0.2 0h1.2m6.8 0h1.2m1.8 0h1.2m0.8 0h1.2m2.8 0h1.2m0.8 0h1.2m0.8 0h1.2m5.8 0h1.2m0.8 0h1.2m-0.2 0h1.2m-0.2 0h1.2m-0.2 0h1.2m2.8 0h1.2m-0.2 0h1.2m-0.2 0h1.2m-0.2 0h1.2m2.8 0h1.2m13.8 0h1.2m3.8 0h1.2m-92.2 1h1.2m26.8 0h1.2m6.8 0h1.2m-0.2 0h1.2m0.8 0h1.2m6.8 0h1.2m2.8 0h1.2m28.8 0h1.2m2.8 0h1.2m-73.2 1h1.2m18.8 0h1.2m3.8 0h1.2m3.8 0h1.2m-0.2 0h1.2m1.8 0h1.2m1.8 0h1.2m1.8 0h1.2m9.8 0h1.2m1.8 0h1.2m1.8 0h1.2m1.8 0h1.2m0.8 0h1.2m2.8 0h1.2m-59.2 1h1.2m1.8 0h1.2m8.8 0h1.2m2.8 0h1.2m5.8 0h1.2m12.8 0h1.2m0.8 0h1.2m1.8 0h1.2m2.8 0h1.2m14.8 0h1.2m-109.2 1h1.2m34.8 0h1.2m-0.2 0h1.2m9.8 0h1.2m3.8 0h1.2m5.8 0h1.2m-0.2 0h1.2m0.8 0h1.2m0.8 0h1.2m0.8 0h1.2m5.8 0h1.2m9.8 0h1.2m6.8 0h1.2m-0.2 0h1.2m14.8 0h1.2m-81.2 1h1.2m8.8 0h1.2m3.8 0h1.2m4.8 0h1.2m-0.2 0h1.2m-0.2 0h1.2m2.8 0h1.2m6.8 0h1.2m5.8 0h1.2m2.8 0h1.2m2.8 0h1.2m3.8 0h1.2m1.8 0h1.2m-0.2 0h1.2m4.8 0h1.2m-64.2 1h1.2m10.8 0h1.2m0.8 0h1.2m1.8 0h1.2m0.8 0h1.2m9.8 0h1.2m0.8 0h1.2m-0.2 0h1.2m0.8 0h1.2m1.8 0h1.2m0.8 0h1.2m-0.2 0h1.2m2.8 0h1.2m1.8 0h1.2m1.8 0h1.2m6.8 0h1.2m5.8 0h1.2m-0.2 0h1.2m-96.2 1h1.2m33.8 0h1.2m2.8 0h1.2m8.8 0h1.2m-0.2 0h1.2m5.8 0h1.2m1.8 0h1.2m4.8 0h1.2m1.8 0h1.2m11.8 0h1.2m6.8 0h1.2m-0.2 0h1.2m-76.2 1h1.2m20.8 0h1.2m4.8 0h1.2m5.8 0h1.2m0.8 0h1.2m-0.2 0h1.2m4.8 0h1.2m2.8 0h1.2m1.8 0h1.2m8.8 0h1.2m0.8 0h1.2m-0.2 0h1.2m18.8 0h1.2m-107.2 1h1.2m24.8 0h1.2m7.8 0h1.2m0.8 0h1.2m19.8 0h1.2m2.8 0h1.2m-0.2 0h1.2m-0.2 0h1.2m4.8 0h1.2m7.8 0h1.2m7.8 0h1.2m0.8 0h1.2m15.8 0h1.2m-103.2 1h1.2m8.8 0h1.2m15.8 0h1.2m1.8 0h1.2m7.8 0h1.2m3.8 0h1.2m8.8 0h1.2m17.8 0h1.2m5.8 0h1.2m-62.2 1h1.2m16.8 0h1.2m7.8 0h1.2m1.8 0h1.2m5.8 0h1.2m0.8 0h1.2m1.8 0h1.2m1.8 0h1.2m6.8 0h1.2m-0.2 0h1.2m0.8 0h1.2m-0.2 0h1.2m15.8 0h1.2m5.8 0h1.2m-72.2 1h1.2m15.8 0h1.2m1.8 0h1.2m-0.2 0h1.2m-0.2 0h1.2m1.8 0h1.2m6.8 0h1.2m-0.2 0h1.2m-0.2 0h1.2m0.8 0h1.2m15.8 0h1.2m9.8 0h1.2m-113.2 1h1.2m40.8 0h1.2m14.8 0h1.2m15.8 0h1.2m4.8 0h1.2m10.8 0h1.2m4.8 0h1.2m4.8 0h1.2m15.8 0h1.2m-120.2 1h1.2m0.8 0h1.2m10.8 0h1.2m4.8 0h1.2m5.8 0h1.2m5.8 0h1.2m21.8 0h1.2m13.8 0h1.2m1.8 0h1.2m-0.2 0h1.2m2.8 0h1.2m-0.2 0h1.2m19.8 0h1.2m-0.2 0h1.2m-0.2 0h1.2m-77.2 1h1.2m20.8 0h1.2m6.8 0h1.2m7.8 0h1.2m3.8 0h1.2m0.8 0h1.2m11.8 0h1.2m1.8 0h1.2m6.8 0h1.2m11.8 0h1.2m-108.2 1h1.2m5.8 0h1.2m27.8 0h1.2m11.8 0h1.2m6.8 0h1.2m10.8 0h1.2m8.8 0h1.2m13.8 0h1.2m-90.2 1h1.2m0.8 0h1.2m7.8 0h1.2m2.8 0h1.2m-0.2 0h1.2m3.8 0h1.2m0.8 0h1.2m8.8 0h1.2m23.8 0h1.2m10.8 0h1.2m0.8 0h1.2m1.8 0h1.2m-0.2 0h1.2m2.8 0h1.2m0.8 0h1.2m0.8 0h1.2m-0.2 0h1.2m0.8 0h1.2m6.8 0h1.2m-102.2 1h1.2m3.8 0h1.2m1.8 0h1.2m2.8 0h1.2m5.8 0h1.2m2.8 0h1.2m5.8 0h1.2m0.8 0h1.2m-0.2 0h1.2m3.8 0h1.2m-0.2 0h1.2m4.8 0h1.2m0.8 0h1.2m2.8 0h1.2m10.8 0h1.2m4.8 0h1.2m0.8 0h1.2m3.8 0h1.2m-0.2 0h1.2m8.8 0h1.2m4.8 0h1.2m-0.2 0h1.2m-91.2 1h1.2m1.8 0h1.2m9.8 0h1.2m2.8 0h1.2m-0.2 0h1.2m0.8 0h1.2m-0.2 0h1.2m2.8 0h1.2m-0.2 0h1.2m29.8 0h1.2m4.8 0h1.2m2.8 0h1.2m9.8 0h1.2m5.8 0h1.2m0.8 0h1.2m2.8 0h1.2m0.8 0h1.2m-127.2 1h1.2m5.8 0h1.2m5.8 0h1.2m5.8 0h1.2m4.8 0h1.2m6.8 0h1.2m4.8 0h1.2m-0.2 0h1.2m12.8 0h1.2m-0.2 0h1.2m0.8 0h1.2m-0.2 0h1.2m3.8 0h1.2m5.8 0h1.2m4.8 0h1.2m10.8 0h1.2m4.8 0h1.2m-0.2 0h1.2m2.8 0h1.2m0.8 0h1.2m6.8 0h1.2m0.8 0h1.2m4.8 0h1.2m-150.2 1h1.2m50.8 0h1.2m2.8 0h1.2m3.8 0h1.2m6.8 0h1.2m0.8 0h1.2m-0.2 0h1.2m-0.2 0h1.2m-0.2 0h1.2m-0.2 0h1.2m4.8 0h1.2m1.8 0h1.2m2.8 0h1.2m1.8 0h1.2m0.8 0h1.2m0.8 0h1.2m11.8 0h1.2m1.8 0h1.2m0.8 0h1.2m4.8 0h1.2m5.8 0h1.2m6.8 0h1.2m-0.2 0h1.2m2.8 0h1.2m6.8 0h1.2m-0.2 0h1.2m2.8 0h1.2m4.8 0h1.2m-163.2 1h1.2m31.8 0h1.2m28.8 0h1.2m2.8 0h1.2m1.8 0h1.2m-0.2 0h1.2m-0.2 0h1.2m2.8 0h1.2m3.8 0h1.2m0.8 0h1.2m5.8 0h1.2m1.8 0h1.2m-0.2 0h1.2m9.8 0h1.2m4.8 0h1.2m-0.2 0h1.2m3.8 0h1.2m6.8 0h1.2m1.8 0h1.2m2.8 0h1.2m0.8 0h1.2m-0.2 0h1.2m7.8 0h1.2m11.8 0h1.2m-98.2 1h1.2m4.8 0h1.2m-0.2 0h1.2m1.8 0h1.2m-0.2 0h1.2m0.8 0h1.2m-0.2 0h1.2m0.8 0h1.2m0.8 0h1.2m1.8 0h1.2m0.8 0h1.2m-0.2 0h1.2m6.8 0h1.2m15.8 0h1.2m2.8 0h1.2m1.8 0h1.2m1.8 0h1.2m9.8 0h1.2m5.8 0h1.2m13.8 0h1.2m11.8 0h1.2m-124.2 1h1.2m1.8 0h1.2m8.8 0h1.2m0.8 0h1.2m6.8 0h1.2m2.8 0h1.2m5.8 0h1.2m-0.2 0h1.2m-0.2 0h1.2m-0.2 0h1.2m0.8 0h1.2m0.8 0h1.2m-0.2 0h1.2m2.8 0h1.2m1.8 0h1.2m0.8 0h1.2m4.8 0h1.2m2.8 0h1.2m1.8 0h1.2m5.8 0h1.2m3.8 0h1.2m1.8 0h1.2m1.8 0h1.2m21.8 0h1.2m-112.2 1h1.2m11.8 0h1.2m-0.2 0h1.2m-0.2 0h1.2m3.8 0h1.2m8.8 0h1.2m-0.2 0h1.2m-0.2 0h1.2m-0.2 0h1.2m-0.2 0h1.2m2.8 0h1.2m0.8 0h1.2m0.8 0h1.2m-0.2 0h1.2m3.8 0h1.2m-0.2 0h1.2m-0.2 0h1.2m-0.2 0h1.2m0.8 0h1.2m-0.2 0h1.2m-0.2 0h1.2m2.8 0h1.2m-0.2 0h1.2m-0.2 0h1.2m7.8 0h1.2m2.8 0h1.2m11.8 0h1.2m0.8 0h1.2m1.8 0h1.2m18.8 0h1.2m-139.2 1h1.2m46.8 0h1.2m0.8 0h1.2m-0.2 0h1.2m7.8 0h1.2m-0.2 0h1.2m0.8 0h1.2m-0.2 0h1.2m-0.2 0h1.2m2.8 0h1.2m-0.2 0h1.2m1.8 0h1.2m4.8 0h1.2m-0.2 0h1.2m1.8 0h1.2m-0.2 0h1.2m0.8 0h1.2m-0.2 0h1.2m-0.2 0h1.2m2.8 0h1.2m3.8 0h1.2m1.8 0h1.2m1.8 0h1.2m5.8 0h1.2m-0.2 0h1.2m0.8 0h1.2m1.8 0h1.2m-0.2 0h1.2m-0.2 0h1.2m-0.2 0h1.2m0.8 0h1.2m15.8 0h1.2m-120.2 1h1.2m24.8 0h1.2m-0.2 0h1.2m4.8 0h1.2m5.8 0h1.2m0.8 0h1.2m0.8 0h1.2m-0.2 0h1.2m-0.2 0h1.2m-0.2 0h1.2m1.8 0h1.2m-0.2 0h1.2m0.8 0h1.2m-0.2 0h1.2m3.8 0h1.2m0.8 0h1.2m0.8 0h1.2m-0.2 0h1.2m-0.2 0h1.2m1.8 0h1.2m0.8 0h1.2m-0.2 0h1.2m1.8 0h1.2m0.8 0h1.2m0.8 0h1.2m-0.2 0h1.2m-0.2 0h1.2m1.8 0h1.2m0.8 0h1.2m-0.2 0h1.2m3.8 0h1.2m1.8 0h1.2m0.8 0h1.2m0.8 0h1.2m-0.2 0h1.2m3.8 0h1.2m10.8 0h1.2m8.8 0h1.2m-142.2 1h1.2m4.8 0h1.2m14.8 0h1.2m7.8 0h1.2m11.8 0h1.2m1.8 0h1.2m1.8 0h1.2m0.8 0h1.2m0.8 0h1.2m-0.2 0h1.2m-0.2 0h1.2m0.8 0h1.2m2.8 0h1.2m-0.2 0h1.2m0.8 0h1.2m-0.2 0h1.2m0.8 0h1.2m-0.2 0h1.2m-0.2 0h1.2m0.8 0h1.2m-0.2 0h1.2m-0.2 0h1.2m5.8 0h1.2m0.8 0h1.2m-0.2 0h1.2m-0.2 0h1.2m-0.2 0h1.2m2.8 0h1.2m0.8 0h1.2m8.8 0h1.2m-0.2 0h1.2m5.8 0h1.2m1.8 0h1.2m5.8 0h1.2m3.8 0h1.2m5.8 0h1.2m1.8 0h1.2m-155.2 1h1.2m7.8 0h1.2m4.8 0h1.2m22.8 0h1.2m-0.2 0h1.2m8.8 0h1.2m7.8 0h1.2m1.8 0h1.2m2.8 0h1.2m1.8 0h1.2m0.8 0h1.2m2.8 0h1.2m1.8 0h1.2m0.8 0h1.2m1.8 0h1.2m0.8 0h1.2m1.8 0h1.2m-0.2 0h1.2m-0.2 0h1.2m0.8 0h1.2m2.8 0h1.2m0.8 0h1.2m0.8 0h1.2m2.8 0h1.2m-0.2 0h1.2m-0.2 0h1.2m-0.2 0h1.2m2.8 0h1.2m3.8 0h1.2m1.8 0h1.2m-0.2 0h1.2m1.8 0h1.2m1.8 0h1.2m2.8 0h1.2m6.8 0h1.2m1.8 0h1.2m9.8 0h1.2m4.8 0h1.2m1.8 0h1.2m-162.2 1h1.2m17.8 0h1.2m16.8 0h1.2m11.8 0h1.2m-0.2 0h1.2m4.8 0h1.2m-0.2 0h1.2m-0.2 0h1.2m-0.2 0h1.2m0.8 0h1.2m2.8 0h1.2m1.8 0h1.2m0.8 0h1.2m0.8 0h1.2m-0.2 0h1.2m1.8 0h1.2m2.8 0h1.2m1.8 0h1.2m6.8 0h1.2m1.8 0h1.2m0.8 0h1.2m-0.2 0h1.2m0.8 0h1.2m1.8 0h1.2m-0.2 0h1.2m2.8 0h1.2m0.8 0h1.2m0.8 0h1.2m-0.2 0h1.2m0.8 0h1.2m3.8 0h1.2m-0.2 0h1.2m1.8 0h1.2m3.8 0h1.2m2.8 0h1.2m-0.2 0h1.2m1.8 0h1.2m-0.2 0h1.2m0.8 0h1.2m-0.2 0h1.2m0.8 0h1.2m1.8 0h1.2m-115.2 1h1.2m0.8 0h1.2m-0.2 0h1.2m-0.2 0h1.2m-0.2 0h1.2m1.8 0h1.2m0.8 0h1.2m0.8 0h1.2m2.8 0h1.2m4.8 0h1.2m2.8 0h1.2m1.8 0h1.2m0.8 0h1.2m-0.2 0h1.2m2.8 0h1.2m1.8 0h1.2m18.8 0h1.2m0.8 0h1.2m-0.2 0h1.2m0.8 0h1.2m0.8 0h1.2m0.8 0h1.2m-0.2 0h1.2m-0.2 0h1.2m-0.2 0h1.2m-0.2 0h1.2m-0.2 0h1.2m1.8 0h1.2m-0.2 0h1.2m-0.2 0h1.2m0.8 0h1.2m1.8 0h1.2m-0.2 0h1.2m-0.2 0h1.2m-0.2 0h1.2m1.8 0h1.2m2.8 0h1.2m-0.2 0h1.2m0.8 0h1.2m-0.2 0h1.2m1.8 0h1.2m5.8 0h1.2m3.8 0h1.2m0.8 0h1.2m2.8 0h1.2m-0.2 0h1.2m12.8 0h1.2m-166.2 1h1.2m10.8 0h1.2m9.8 0h1.2m6.8 0h1.2m3.8 0h1.2m0.8 0h1.2m-0.2 0h1.2m7.8 0h1.2m5.8 0h1.2m-0.2 0h1.2m-0.2 0h1.2m0.8 0h1.2m0.8 0h1.2m0.8 0h1.2m-0.2 0h1.2m-0.2 0h1.2m-0.2 0h1.2m-0.2 0h1.2m2.8 0h1.2m-0.2 0h1.2m17.8 0h1.2m0.8 0h1.2m2.8 0h1.2m-0.2 0h1.2m-0.2 0h1.2m-0.2 0h1.2m-0.2 0h1.2m-0.2 0h1.2m-0.2 0h1.2m-0.2 0h1.2m-0.2 0h1.2m-0.2 0h1.2m-0.2 0h1.2m2.8 0h1.2m0.8 0h1.2m0.8 0h1.2m0.8 0h1.2m0.8 0h1.2m0.8 0h1.2m2.8 0h1.2m0.8 0h1.2m0.8 0h1.2m2.8 0h1.2m3.8 0h1.2m0.8 0h1.2m-0.2 0h1.2m2.8 0h1.2m0.8 0h1.2m-0.2 0h1.2m5.8 0h1.2m-163.2 1h1.2m26.8 0h1.2m1.8 0h1.2m4.8 0h1.2m-0.2 0h1.2m2.8 0h1.2m8.8 0h1.2m2.8 0h1.2m1.8 0h1.2m0.8 0h1.2m0.8 0h1.2m0.8 0h1.2m3.8 0h1.2m0.8 0h1.2m-0.2 0h1.2m0.8 0h1.2m25.8 0h1.2m0.8 0h1.2m0.8 0h1.2m-0.2 0h1.2m0.8 0h1.2m0.8 0h1.2m-0.2 0h1.2m0.8 0h1.2m1.8 0h1.2m0.8 0h1.2m1.8 0h1.2m0.8 0h1.2m-0.2 0h1.2m-0.2 0h1.2m-0.2 0h1.2m-0.2 0h1.2m1.8 0h1.2m-0.2 0h1.2m-0.2 0h1.2m6.8 0h1.2m2.8 0h1.2m-0.2 0h1.2m1.8 0h1.2m7.8 0h1.2m2.8 0h1.2m14.8 0h1.2m-160.2 1h1.2m5.8 0h1.2m4.8 0h1.2m11.8 0h1.2m6.8 0h1.2m0.8 0h1.2m2.8 0h1.2m3.8 0h1.2m2.8 0h1.2m1.8 0h1.2m0.8 0h1.2m30.8 0h1.2m3.8 0h1.2m-0.2 0h1.2m-0.2 0h1.2m0.8 0h1.2m3.8 0h1.2m8.8 0h1.2m4.8 0h1.2m0.8 0h1.2m1.8 0h1.2m0.8 0h1.2m1.8 0h1.2m0.8 0h1.2m1.8 0h1.2m0.8 0h1.2m14.8 0h1.2m-141.2 1h1.2m2.8 0h1.2m10.8 0h1.2m11.8 0h1.2m1.8 0h1.2m-0.2 0h1.2m-0.2 0h1.2m0.8 0h1.2m-0.2 0h1.2m0.8 0h1.2m-0.2 0h1.2m-0.2 0h1.2m-0.2 0h1.2m35.8 0h1.2m-0.2 0h1.2m-0.2 0h1.2m-0.2 0h1.2m2.8 0h1.2m1.8 0h1.2m-0.2 0h1.2m0.8 0h1.2m-0.2 0h1.2m-0.2 0h1.2m2.8 0h1.2m-0.2 0h1.2m0.8 0h1.2m-0.2 0h1.2m-0.2 0h1.2m0.8 0h1.2m-0.2 0h1.2m0.8 0h1.2m-0.2 0h1.2m-0.2 0h1.2m0.8 0h1.2m-0.2 0h1.2m0.8 0h1.2m0.8 0h1.2m2.8 0h1.2m-0.2 0h1.2m-0.2 0h1.2m-0.2 0h1.2m-0.2 0h1.2m8.8 0h1.2m-148.2 1h1.2m6.8 0h1.2m6.8 0h1.2m5.8 0h1.2m6.8 0h1.2m3.8 0h1.2m1.8 0h1.2m-0.2 0h1.2m-0.2 0h1.2m0.8 0h1.2m0.8 0h1.2m3.8 0h1.2m1.8 0h1.2m35.8 0h1.2m-0.2 0h1.2m0.8 0h1.2m-0.2 0h1.2m2.8 0h1.2m1.8 0h1.2m-0.2 0h1.2m-0.2 0h1.2m5.8 0h1.2m-0.2 0h1.2m0.8 0h1.2m0.8 0h1.2m0.8 0h1.2m0.8 0h1.2m0.8 0h1.2m1.8 0h1.2m1.8 0h1.2m-0.2 0h1.2m-0.2 0h1.2m-0.2 0h1.2m0.8 0h1.2m1.8 0h1.2m7.8 0h1.2m5.8 0h1.2m-161.2 1h1.2m10.8 0h1.2m3.8 0h1.2m0.8 0h1.2m0.8 0h1.2m1.8 0h1.2m-0.2 0h1.2m0.8 0h1.2m8.8 0h1.2m2.8 0h1.2m2.8 0h1.2m-0.2 0h1.2m-0.2 0h1.2m-0.2 0h1.2m-0.2 0h1.2m2.8 0h1.2m-0.2 0h1.2m-0.2 0h1.2m-0.2 0h1.2m0.8 0h1.2m-0.2 0h1.2m38.8 0h1.2m3.8 0h1.2m2.8 0h1.2m-0.2 0h1.2m-0.2 0h1.2m1.8 0h1.2m-0.2 0h1.2m-0.2 0h1.2m-0.2 0h1.2m1.8 0h1.2m-0.2 0h1.2m0.8 0h1.2m-0.2 0h1.2m-0.2 0h1.2m-0.2 0h1.2m-0.2 0h1.2m0.8 0h1.2m0.8 0h1.2m-0.2 0h1.2m-0.2 0h1.2m-0.2 0h1.2m0.8 0h1.2m-0.2 0h1.2m4.8 0h1.2m8.8 0h1.2m-0.2 0h1.2m0.8 0h1.2m-163.2 1h1.2m5.8 0h1.2m3.8 0h1.2m5.8 0h1.2m5.8 0h1.2m0.8 0h1.2m2.8 0h1.2m13.8 0h1.2m2.8 0h1.2m0.8 0h1.2m0.8 0h1.2m2.8 0h1.2m49.8 0h1.2m0.8 0h1.2m-0.2 0h1.2m-0.2 0h1.2m-0.2 0h1.2m1.8 0h1.2m0.8 0h1.2m-0.2 0h1.2m0.8 0h1.2m0.8 0h1.2m1.8 0h1.2m0.8 0h1.2m0.8 0h1.2m3.8 0h1.2m2.8 0h1.2m2.8 0h1.2m4.8 0h1.2m0.8 0h1.2m-126.2 1h1.2m1.8 0h1.2m0.8 0h1.2m-0.2 0h1.2m-0.2 0h1.2m-0.2 0h1.2m0.8 0h1.2m-0.2 0h1.2m1.8 0h1.2m-0.2 0h1.2m4.8 0h1.2m-0.2 0h1.2m2.8 0h1.2m0.8 0h1.2m-0.2 0h1.2m-0.2 0h1.2m3.8 0h1.2m47.8 0h1.2m-0.2 0h1.2m-0.2 0h1.2m-0.2 0h1.2m-0.2 0h1.2m-0.2 0h1.2m-0.2 0h1.2m-0.2 0h1.2m1.8 0h1.2m-0.2 0h1.2m1.8 0h1.2m1.8 0h1.2m-0.2 0h1.2m-0.2 0h1.2m1.8 0h1.2m0.8 0h1.2m0.8 0h1.2m2.8 0h1.2m-0.2 0h1.2m3.8 0h1.2m2.8 0h1.2m6.8 0h1.2m3.8 0h1.2m7.8 0h1.2m-153.2 1h1.2m0.8 0h1.2m0.8 0h1.2m2.8 0h1.2m1.8 0h1.2m2.8 0h1.2m4.8 0h1.2m1.8 0h1.2m-0.2 0h1.2m1.8 0h1.2m-0.2 0h1.2m0.8 0h1.2m-0.2 0h1.2m-0.2 0h1.2m-0.2 0h1.2m-0.2 0h1.2m-0.2 0h1.2m-0.2 0h1.2m1.8 0h1.2m46.8 0h1.2m0.8 0h1.2m1.8 0h1.2m-0.2 0h1.2m-0.2 0h1.2m0.8 0h1.2m0.8 0h1.2m-0.2 0h1.2m0.8 0h1.2m0.8 0h1.2m3.8 0h1.2m1.8 0h1.2m0.8 0h1.2m0.8 0h1.2m1.8 0h1.2m3.8 0h1.2m-0.2 0h1.2m3.8 0h1.2m5.8 0h1.2m18.8 0h1.2m-173.2 1h1.2m3.8 0h1.2m2.8 0h1.2m1.8 0h1.2m1.8 0h1.2m0.8 0h1.2m0.8 0h1.2m0.8 0h1.2m0.8 0h1.2m0.8 0h1.2m-0.2 0h1.2m-0.2 0h1.2m1.8 0h1.2m3.8 0h1.2m1.8 0h1.2m-0.2 0h1.2m0.8 0h1.2m4.8 0h1.2m-0.2 0h1.2m2.8 0h1.2m49.8 0h1.2m2.8 0h1.2m2.8 0h1.2m-0.2 0h1.2m0.8 0h1.2m0.8 0h1.2m-0.2 0h1.2m0.8 0h1.2m-0.2 0h1.2m0.8 0h1.2m-0.2 0h1.2m2.8 0h1.2m-0.2 0h1.2m-0.2 0h1.2m1.8 0h1.2m1.8 0h1.2m0.8 0h1.2m1.8 0h1.2m0.8 0h1.2m4.8 0h1.2m2.8 0h1.2m7.8 0h1.2m-162.2 1h1.2m3.8 0h1.2m8.8 0h1.2m2.8 0h1.2m0.8 0h1.2m0.8 0h1.2m0.8 0h1.2m0.8 0h1.2m2.8 0h1.2m2.8 0h1.2m1.8 0h1.2m4.8 0h1.2m-0.2 0h1.2m0.8 0h1.2m-0.2 0h1.2m0.8 0h1.2m53.8 0h1.2m0.8 0h1.2m-0.2 0h1.2m-0.2 0h1.2m-0.2 0h1.2m1.8 0h1.2m2.8 0h1.2m-0.2 0h1.2m0.8 0h1.2m-0.2 0h1.2m0.8 0h1.2m1.8 0h1.2m-0.2 0h1.2m-0.2 0h1.2m-0.2 0h1.2m1.8 0h1.2m0.8 0h1.2m1.8 0h1.2m-0.2 0h1.2m1.8 0h1.2m-0.2 0h1.2m2.8 0h1.2m2.8 0h1.2m0.8 0h1.2m1.8 0h1.2m-163.2 1h1.2m10.8 0h1.2m2.8 0h1.2m1.8 0h1.2m3.8 0h1.2m0.8 0h1.2m2.8 0h1.2m2.8 0h1.2m-0.2 0h1.2m2.8 0h1.2m1.8 0h1.2m-0.2 0h1.2m0.8 0h1.2m2.8 0h1.2m-0.2 0h1.2m-0.2 0h1.2m1.8 0h1.2m1.8 0h1.2m52.8 0h1.2m1.8 0h1.2m0.8 0h1.2m-0.2 0h1.2m-0.2 0h1.2m2.8 0h1.2m-0.2 0h1.2m1.8 0h1.2m-0.2 0h1.2m-0.2 0h1.2m0.8 0h1.2m-0.2 0h1.2m0.8 0h1.2m0.8 0h1.2m1.8 0h1.2m-0.2 0h1.2m1.8 0h1.2m1.8 0h1.2m-0.2 0h1.2m2.8 0h1.2m-0.2 0h1.2m1.8 0h1.2m-0.2 0h1.2m1.8 0h1.2m0.8 0h1.2m-0.2 0h1.2m2.8 0h1.2m1.8 0h1.2m-153.2 1h1.2m4.8 0h1.2m0.8 0h1.2m0.8 0h1.2m0.8 0h1.2m0.8 0h1.2m4.8 0h1.2m1.8 0h1.2m2.8 0h1.2m1.8 0h1.2m2.8 0h1.2m-0.2 0h1.2m1.8 0h1.2m-0.2 0h1.2m54.8 0h1.2m-0.2 0h1.2m1.8 0h1.2m1.8 0h1.2m0.8 0h1.2m1.8 0h1.2m-0.2 0h1.2m2.8 0h1.2m1.8 0h1.2m-0.2 0h1.2m-0.2 0h1.2m0.8 0h1.2m1.8 0h1.2m-0.2 0h1.2m-0.2 0h1.2m1.8 0h1.2m0.8 0h1.2m1.8 0h1.2m1.8 0h1.2m1.8 0h1.2m11.8 0h1.2m-0.2 0h1.2m-169.2 1h1.2m5.8 0h1.2m3.8 0h1.2m2.8 0h1.2m1.8 0h1.2m1.8 0h1.2m0.8 0h1.2m0.8 0h1.2m0.8 0h1.2m0.8 0h1.2m0.8 0h1.2m0.8 0h1.2m0.8 0h1.2m-0.2 0h1.2m0.8 0h1.2m4.8 0h1.2m-0.2 0h1.2m-0.2 0h1.2m-0.2 0h1.2m-0.2 0h1.2m0.8 0h1.2m-0.2 0h1.2m0.8 0h1.2m59.8 0h1.2m0.8 0h1.2m1.8 0h1.2m0.8 0h1.2m-0.2 0h1.2m-0.2 0h1.2m4.8 0h1.2m-0.2 0h1.2m-0.2 0h1.2m2.8 0h1.2m1.8 0h1.2m5.8 0h1.2m-0.2 0h1.2m1.8 0h1.2m4.8 0h1.2m-0.2 0h1.2m4.8 0h1.2m0.8 0h1.2m-166.2 1h1.2m14.8 0h1.2m1.8 0h1.2m1.8 0h1.2m0.8 0h1.2m0.8 0h1.2m0.8 0h1.2m0.8 0h1.2m0.8 0h1.2m-0.2 0h1.2m-0.2 0h1.2m-0.2 0h1.2m0.8 0h1.2m0.8 0h1.2m-0.2 0h1.2m0.8 0h1.2m1.8 0h1.2m-0.2 0h1.2m5.8 0h1.2m58.8 0h1.2m-0.2 0h1.2m3.8 0h1.2m-0.2 0h1.2m0.8 0h1.2m1.8 0h1.2m0.8 0h1.2m0.8 0h1.2m-0.2 0h1.2m2.8 0h1.2m2.8 0h1.2m6.8 0h1.2m3.8 0h1.2m-0.2 0h1.2m-0.2 0h1.2m2.8 0h1.2m-158.2 1h1.2m5.8 0h1.2m10.8 0h1.2m1.8 0h1.2m0.8 0h1.2m5.8 0h1.2m-0.2 0h1.2m-0.2 0h1.2m0.8 0h1.2m-0.2 0h1.2m-0.2 0h1.2m-0.2 0h1.2m-0.2 0h1.2m-0.2 0h1.2m-0.2 0h1.2m1.8 0h1.2m0.8 0h1.2m-0.2 0h1.2m0.8 0h1.2m0.8 0h1.2m58.8 0h1.2m0.8 0h1.2m0.8 0h1.2m-0.2 0h1.2m-0.2 0h1.2m0.8 0h1.2m-0.2 0h1.2m1.8 0h1.2m0.8 0h1.2m2.8 0h1.2m-0.2 0h1.2m-0.2 0h1.2m1.8 0h1.2m2.8 0h1.2m0.8 0h1.2m1.8 0h1.2m2.8 0h1.2m14.8 0h1.2m-0.2 0h1.2m0.8 0h1.2m17.8 0h1.2m-186.2 1h1.2m5.8 0h1.2m3.8 0h1.2m2.8 0h1.2m1.8 0h1.2m1.8 0h1.2m0.8 0h1.2m0.8 0h1.2m2.8 0h1.2m-0.2 0h1.2m-0.2 0h1.2m0.8 0h1.2m-0.2 0h1.2m-0.2 0h1.2m-0.2 0h1.2m0.8 0h1.2m0.8 0h1.2m-0.2 0h1.2m2.8 0h1.2m0.8 0h1.2m0.8 0h1.2m58.8 0h1.2m2.8 0h1.2m1.8 0h1.2m-0.2 0h1.2m0.8 0h1.2m0.8 0h1.2m2.8 0h1.2m-0.2 0h1.2m-0.2 0h1.2m-0.2 0h1.2m1.8 0h1.2m0.8 0h1.2m1.8 0h1.2m2.8 0h1.2m1.8 0h1.2m-0.2 0h1.2m0.8 0h1.2m7.8 0h1.2m-0.2 0h1.2m4.8 0h1.2m-164.2 1h1.2m10.8 0h1.2m5.8 0h1.2m3.8 0h1.2m0.8 0h1.2m0.8 0h1.2m1.8 0h1.2m-0.2 0h1.2m-0.2 0h1.2m0.8 0h1.2m1.8 0h1.2m-0.2 0h1.2m-0.2 0h1.2m-0.2 0h1.2m1.8 0h1.2m0.8 0h1.2m62.8 0h1.2m1.8 0h1.2m0.8 0h1.2m-0.2 0h1.2m3.8 0h1.2m-0.2 0h1.2m-0.2 0h1.2m-0.2 0h1.2m0.8 0h1.2m0.8 0h1.2m0.8 0h1.2m-0.2 0h1.2m-0.2 0h1.2m-0.2 0h1.2m4.8 0h1.2m3.8 0h1.2m0.8 0h1.2m4.8 0h1.2m9.8 0h1.2m-157.2 1h1.2m3.8 0h1.2m2.8 0h1.2m1.8 0h1.2m1.8 0h1.2m0.8 0h1.2m2.8 0h1.2m0.8 0h1.2m-0.2 0h1.2m0.8 0h1.2m-0.2 0h1.2m-0.2 0h1.2m-0.2 0h1.2m-0.2 0h1.2m-0.2 0h1.2m-0.2 0h1.2m0.8 0h1.2m0.8 0h1.2m0.8 0h1.2m0.8 0h1.2m-0.2 0h1.2m65.8 0h1.2m0.8 0h1.2m0.8 0h1.2m-0.2 0h1.2m-0.2 0h1.2m-0.2 0h1.2m-0.2 0h1.2m0.8 0h1.2m-0.2 0h1.2m-0.2 0h1.2m0.8 0h1.2m6.8 0h1.2m0.8 0h1.2m0.8 0h1.2m0.8 0h1.2m-0.2 0h1.2m0.8 0h1.2m6.8 0h1.2m12.8 0h1.2m-162.2 1h1.2m3.8 0h1.2m2.8 0h1.2m1.8 0h1.2m3.8 0h1.2m0.8 0h1.2m0.8 0h1.2m0.8 0h1.2m0.8 0h1.2m-0.2 0h1.2m2.8 0h1.2m-0.2 0h1.2m-0.2 0h1.2m3.8 0h1.2m-0.2 0h1.2m1.8 0h1.2m58.8 0h1.2m-0.2 0h1.2m-0.2 0h1.2m-0.2 0h1.2m-0.2 0h1.2m2.8 0h1.2m-0.2 0h1.2m-0.2 0h1.2m3.8 0h1.2m0.8 0h1.2m-0.2 0h1.2m-0.2 0h1.2m0.8 0h1.2m-0.2 0h1.2m-0.2 0h1.2m4.8 0h1.2m3.8 0h1.2m4.8 0h1.2m3.8 0h1.2m4.8 0h1.2m-0.2 0h1.2m1.8 0h1.2m7.8 0h1.2m3.8 0h1.2m-166.2 1h1.2m2.8 0h1.2m1.8 0h1.2m1.8 0h1.2m0.8 0h1.2m0.8 0h1.2m0.8 0h1.2m0.8 0h1.2m0.8 0h1.2m-0.2 0h1.2m-0.2 0h1.2m-0.2 0h1.2m-0.2 0h1.2m-0.2 0h1.2m1.8 0h1.2m0.8 0h1.2m1.8 0h1.2m58.8 0h1.2m1.8 0h1.2m-0.2 0h1.2m1.8 0h1.2m-0.2 0h1.2m-0.2 0h1.2m-0.2 0h1.2m-0.2 0h1.2m-0.2 0h1.2m-0.2 0h1.2m-0.2 0h1.2m1.8 0h1.2m1.8 0h1.2m3.8 0h1.2m-0.2 0h1.2m-0.2 0h1.2m0.8 0h1.2m-0.2 0h1.2m-0.2 0h1.2m0.8 0h1.2m-0.2 0h1.2m1.8 0h1.2m0.8 0h1.2m4.8 0h1.2m-0.2 0h1.2m9.8 0h1.2m-156.2 1h1.2m3.8 0h1.2m2.8 0h1.2m8.8 0h1.2m0.8 0h1.2m0.8 0h1.2m3.8 0h1.2m0.8 0h1.2m-0.2 0h1.2m1.8 0h1.2m1.8 0h1.2m-0.2 0h1.2m0.8 0h1.2m56.8 0h1.2m3.8 0h1.2m-0.2 0h1.2m-0.2 0h1.2m-0.2 0h1.2m0.8 0h1.2m0.8 0h1.2m0.8 0h1.2m-0.2 0h1.2m3.8 0h1.2m0.8 0h1.2m-0.2 0h1.2m7.8 0h1.2m0.8 0h1.2m-0.2 0h1.2m4.8 0h1.2m6.8 0h1.2m1.8 0h1.2m3.8 0h1.2m-163.2 1h1.2m5.8 0h1.2m7.8 0h1.2m6.8 0h1.2m4.8 0h1.2m0.8 0h1.2m4.8 0h1.2m-0.2 0h1.2m-0.2 0h1.2m0.8 0h1.2m1.8 0h1.2m-0.2 0h1.2m58.8 0h1.2m2.8 0h1.2m4.8 0h1.2m3.8 0h1.2m-0.2 0h1.2m-0.2 0h1.2m-0.2 0h1.2m3.8 0h1.2m1.8 0h1.2m1.8 0h1.2m0.8 0h1.2m-0.2 0h1.2m3.8 0h1.2m1.8 0h1.2m-0.2 0h1.2m0.8 0h1.2m4.8 0h1.2m-156.2 1h1.2m5.8 0h1.2m3.8 0h1.2m2.8 0h1.2m1.8 0h1.2m1.8 0h1.2m0.8 0h1.2m0.8 0h1.2m0.8 0h1.2m4.8 0h1.2m6.8 0h1.2m5.8 0h1.2m-0.2 0h1.2m55.8 0h1.2m-0.2 0h1.2m-0.2 0h1.2m-0.2 0h1.2m-0.2 0h1.2m1.8 0h1.2m0.8 0h1.2m-0.2 0h1.2m1.8 0h1.2m2.8 0h1.2m1.8 0h1.2m5.8 0h1.2m0.8 0h1.2m1.8 0h1.2m1.8 0h1.2m9.8 0h1.2m2.8 0h1.2m7.8 0h1.2m-167.2 1h1.2m5.8 0h1.2m3.8 0h1.2m2.8 0h1.2m1.8 0h1.2m1.8 0h1.2m6.8 0h1.2m1.8 0h1.2m0.8 0h1.2m-0.2 0h1.2m0.8 0h1.2m-0.2 0h1.2m-0.2 0h1.2m-0.2 0h1.2m-0.2 0h1.2m-0.2 0h1.2m57.8 0h1.2m-0.2 0h1.2m0.8 0h1.2m1.8 0h1.2m0.8 0h1.2m-0.2 0h1.2m0.8 0h1.2m-0.2 0h1.2m-0.2 0h1.2m0.8 0h1.2m-0.2 0h1.2m1.8 0h1.2m7.8 0h1.2m-0.2 0h1.2m0.8 0h1.2m-0.2 0h1.2m6.8 0h1.2m12.8 0h1.2m3.8 0h1.2m25.8 0h1.2m-189.2 1h1.2m5.8 0h1.2m7.8 0h1.2m4.8 0h1.2m0.8 0h1.2m4.8 0h1.2m0.8 0h1.2m2.8 0h1.2m-0.2 0h1.2m0.8 0h1.2m-0.2 0h1.2m-0.2 0h1.2m4.8 0h1.2m1.8 0h1.2m54.8 0h1.2m1.8 0h1.2m0.8 0h1.2m-0.2 0h1.2m2.8 0h1.2m-0.2 0h1.2m0.8 0h1.2m-0.2 0h1.2m0.8 0h1.2m3.8 0h1.2m0.8 0h1.2m0.8 0h1.2m0.8 0h1.2m0.8 0h1.2m-0.2 0h1.2m0.8 0h1.2m2.8 0h1.2m-0.2 0h1.2m8.8 0h1.2m7.8 0h1.2m-163.2 1h1.2m5.8 0h1.2m17.8 0h1.2m0.8 0h1.2m3.8 0h1.2m-0.2 0h1.2m-0.2 0h1.2m-0.2 0h1.2m0.8 0h1.2m3.8 0h1.2m-0.2 0h1.2m-0.2 0h1.2m-0.2 0h1.2m1.8 0h1.2m51.8 0h1.2m-0.2 0h1.2m-0.2 0h1.2m-0.2 0h1.2m0.8 0h1.2m-0.2 0h1.2m-0.2 0h1.2m1.8 0h1.2m0.8 0h1.2m5.8 0h1.2m-0.2 0h1.2m0.8 0h1.2m7.8 0h1.2m6.8 0h1.2m5.8 0h1.2m-0.2 0h1.2m4.8 0h1.2m10.8 0h1.2m-161.2 1h1.2m3.8 0h1.2m2.8 0h1.2m1.8 0h1.2m3.8 0h1.2m0.8 0h1.2m0.8 0h1.2m0.8 0h1.2m0.8 0h1.2m2.8 0h1.2m0.8 0h1.2m-0.2 0h1.2m-0.2 0h1.2m0.8 0h1.2m0.8 0h1.2m1.8 0h1.2m51.8 0h1.2m-0.2 0h1.2m0.8 0h1.2m-0.2 0h1.2m-0.2 0h1.2m0.8 0h1.2m-0.2 0h1.2m0.8 0h1.2m1.8 0h1.2m2.8 0h1.2m-0.2 0h1.2m2.8 0h1.2m3.8 0h1.2m1.8 0h1.2m-0.2 0h1.2m1.8 0h1.2m0.8 0h1.2m0.8 0h1.2m4.8 0h1.2m-145.2 1h1.2m5.8 0h1.2m3.8 0h1.2m2.8 0h1.2m4.8 0h1.2m0.8 0h1.2m2.8 0h1.2m0.8 0h1.2m0.8 0h1.2m3.8 0h1.2m-0.2 0h1.2m-0.2 0h1.2m-0.2 0h1.2m1.8 0h1.2m-0.2 0h1.2m-0.2 0h1.2m0.8 0h1.2m52.8 0h1.2m-0.2 0h1.2m-0.2 0h1.2m3.8 0h1.2m0.8 0h1.2m-0.2 0h1.2m1.8 0h1.2m0.8 0h1.2m-0.2 0h1.2m-0.2 0h1.2m1.8 0h1.2m3.8 0h1.2m1.8 0h1.2m3.8 0h1.2m-135.2 1h1.2m5.8 0h1.2m3.8 0h1.2m8.8 0h1.2m2.8 0h1.2m2.8 0h1.2m-0.2 0h1.2m-0.2 0h1.2m-0.2 0h1.2m0.8 0h1.2m1.8 0h1.2m-0.2 0h1.2m0.8 0h1.2m0.8 0h1.2m1.8 0h1.2m-0.2 0h1.2m3.8 0h1.2m43.8 0h1.2m-0.2 0h1.2m-0.2 0h1.2m0.8 0h1.2m-0.2 0h1.2m-0.2 0h1.2m0.8 0h1.2m1.8 0h1.2m-0.2 0h1.2m-0.2 0h1.2m-0.2 0h1.2m-0.2 0h1.2m-0.2 0h1.2m-0.2 0h1.2m-0.2 0h1.2m6.8 0h1.2m-0.2 0h1.2m5.8 0h1.2m7.8 0h1.2m2.8 0h1.2m3.8 0h1.2m-0.2 0h1.2m-151.2 1h1.2m10.8 0h1.2m2.8 0h1.2m1.8 0h1.2m1.8 0h1.2m0.8 0h1.2m0.8 0h1.2m2.8 0h1.2m-0.2 0h1.2m3.8 0h1.2m0.8 0h1.2m0.8 0h1.2m-0.2 0h1.2m-0.2 0h1.2m0.8 0h1.2m-0.2 0h1.2m-0.2 0h1.2m2.8 0h1.2m44.8 0h1.2m2.8 0h1.2m-0.2 0h1.2m2.8 0h1.2m1.8 0h1.2m3.8 0h1.2m-0.2 0h1.2m0.8 0h1.2m5.8 0h1.2m5.8 0h1.2m34.8 0h1.2m-167.2 1h1.2m5.8 0h1.2m3.8 0h1.2m8.8 0h1.2m0.8 0h1.2m10.8 0h1.2m-0.2 0h1.2m4.8 0h1.2m0.8 0h1.2m0.8 0h1.2m-0.2 0h1.2m0.8 0h1.2m48.8 0h1.2m-0.2 0h1.2m0.8 0h1.2m0.8 0h1.2m-0.2 0h1.2m-0.2 0h1.2m-0.2 0h1.2m2.8 0h1.2m-0.2 0h1.2m-0.2 0h1.2m2.8 0h1.2m2.8 0h1.2m-0.2 0h1.2m2.8 0h1.2m-0.2 0h1.2m8.8 0h1.2m3.8 0h1.2m19.8 0h1.2m1.8 0h1.2m-161.2 1h1.2m10.8 0h1.2m1.8 0h1.2m0.8 0h1.2m0.8 0h1.2m0.8 0h1.2m3.8 0h1.2m-0.2 0h1.2m2.8 0h1.2m2.8 0h1.2m-0.2 0h1.2m1.8 0h1.2m1.8 0h1.2m0.8 0h1.2m3.8 0h1.2m37.8 0h1.2m0.8 0h1.2m0.8 0h1.2m1.8 0h1.2m-0.2 0h1.2m-0.2 0h1.2m-0.2 0h1.2m2.8 0h1.2m-0.2 0h1.2m2.8 0h1.2m1.8 0h1.2m2.8 0h1.2m-0.2 0h1.2m0.8 0h1.2m7.8 0h1.2m2.8 0h1.2m4.8 0h1.2m-128.2 1h1.2m1.8 0h1.2m3.8 0h1.2m4.8 0h1.2m-0.2 0h1.2m0.8 0h1.2m0.8 0h1.2m-0.2 0h1.2m2.8 0h1.2m1.8 0h1.2m-0.2 0h1.2m0.8 0h1.2m-0.2 0h1.2m1.8 0h1.2m-0.2 0h1.2m2.8 0h1.2m37.8 0h1.2m1.8 0h1.2m0.8 0h1.2m2.8 0h1.2m-0.2 0h1.2m-0.2 0h1.2m8.8 0h1.2m2.8 0h1.2m-0.2 0h1.2m3.8 0h1.2m4.8 0h1.2m11.8 0h1.2m2.8 0h1.2m4.8 0h1.2m-0.2 0h1.2m-0.2 0h1.2m-145.2 1h1.2m12.8 0h1.2m0.8 0h1.2m1.8 0h1.2m1.8 0h1.2m4.8 0h1.2m0.8 0h1.2m-0.2 0h1.2m-0.2 0h1.2m1.8 0h1.2m-0.2 0h1.2m-0.2 0h1.2m0.8 0h1.2m-0.2 0h1.2m-0.2 0h1.2m36.8 0h1.2m2.8 0h1.2m2.8 0h1.2m1.8 0h1.2m7.8 0h1.2m3.8 0h1.2m1.8 0h1.2m2.8 0h1.2m0.8 0h1.2m0.8 0h1.2m0.8 0h1.2m4.8 0h1.2m0.8 0h1.2m0.8 0h1.2m7.8 0h1.2m2.8 0h1.2m6.8 0h1.2m-145.2 1h1.2m4.8 0h1.2m2.8 0h1.2m0.8 0h1.2m3.8 0h1.2m-0.2 0h1.2m1.8 0h1.2m5.8 0h1.2m-0.2 0h1.2m1.8 0h1.2m1.8 0h1.2m-0.2 0h1.2m-0.2 0h1.2m36.8 0h1.2m2.8 0h1.2m-0.2 0h1.2m-0.2 0h1.2m-0.2 0h1.2m16.8 0h1.2m12.8 0h1.2m-0.2 0h1.2m2.8 0h1.2m9.8 0h1.2m-0.2 0h1.2m34.8 0h1.2m-184.2 1h1.2m28.8 0h1.2m7.8 0h1.2m0.8 0h1.2m1.8 0h1.2m2.8 0h1.2m1.8 0h1.2m1.8 0h1.2m2.8 0h1.2m32.8 0h1.2m-0.2 0h1.2m-0.2 0h1.2m-0.2 0h1.2m3.8 0h1.2m-0.2 0h1.2m1.8 0h1.2m0.8 0h1.2m7.8 0h1.2m9.8 0h1.2m1.8 0h1.2m11.8 0h1.2m8.8 0h1.2m-146.2 1h1.2m3.8 0h1.2m17.8 0h1.2m-0.2 0h1.2m-0.2 0h1.2m1.8 0h1.2m6.8 0h1.2m0.8 0h1.2m0.8 0h1.2m-0.2 0h1.2m1.8 0h1.2m-0.2 0h1.2m-0.2 0h1.2m-0.2 0h1.2m0.8 0h1.2m1.8 0h1.2m24.8 0h1.2m2.8 0h1.2m0.8 0h1.2m-0.2 0h1.2m0.8 0h1.2m-0.2 0h1.2m-0.2 0h1.2m-0.2 0h1.2m-0.2 0h1.2m0.8 0h1.2m0.8 0h1.2m3.8 0h1.2m-0.2 0h1.2m9.8 0h1.2m0.8 0h1.2m43.8 0h1.2m-133.2 1h1.2m-0.2 0h1.2m3.8 0h1.2m0.8 0h1.2m0.8 0h1.2m0.8 0h1.2m-0.2 0h1.2m0.8 0h1.2m-0.2 0h1.2m0.8 0h1.2m-0.2 0h1.2m0.8 0h1.2m0.8 0h1.2m0.8 0h1.2m28.8 0h1.2m-0.2 0h1.2m1.8 0h1.2m1.8 0h1.2m1.8 0h1.2m-0.2 0h1.2m-0.2 0h1.2m1.8 0h1.2m2.8 0h1.2m3.8 0h1.2m1.8 0h1.2m5.8 0h1.2m4.8 0h1.2m19.8 0h1.2m7.8 0h1.2m-139.2 1h1.2m8.8 0h1.2m-0.2 0h1.2m-0.2 0h1.2m1.8 0h1.2m2.8 0h1.2m-0.2 0h1.2m-0.2 0h1.2m0.8 0h1.2m-0.2 0h1.2m0.8 0h1.2m-0.2 0h1.2m0.8 0h1.2m2.8 0h1.2m-0.2 0h1.2m0.8 0h1.2m18.8 0h1.2m2.8 0h1.2m-0.2 0h1.2m-0.2 0h1.2m2.8 0h1.2m-0.2 0h1.2m-0.2 0h1.2m0.8 0h1.2m-0.2 0h1.2m0.8 0h1.2m-0.2 0h1.2m-0.2 0h1.2m-0.2 0h1.2m-0.2 0h1.2m0.8 0h1.2m4.8 0h1.2m6.8 0h1.2m5.8 0h1.2m6.8 0h1.2m5.8 0h1.2m-119.2 1h1.2m5.8 0h1.2m0.8 0h1.2m15.8 0h1.2m1.8 0h1.2m0.8 0h1.2m2.8 0h1.2m-0.2 0h1.2m0.8 0h1.2m-0.2 0h1.2m-0.2 0h1.2m-0.2 0h1.2m19.8 0h1.2m3.8 0h1.2m0.8 0h1.2m0.8 0h1.2m1.8 0h1.2m0.8 0h1.2m0.8 0h1.2m2.8 0h1.2m14.8 0h1.2m-0.2 0h1.2m7.8 0h1.2m1.8 0h1.2m0.8 0h1.2m6.8 0h1.2m4.8 0h1.2m-135.2 1h1.2m2.8 0h1.2m21.8 0h1.2m2.8 0h1.2m1.8 0h1.2m-0.2 0h1.2m2.8 0h1.2m-0.2 0h1.2m-0.2 0h1.2m1.8 0h1.2m-0.2 0h1.2m-0.2 0h1.2m5.8 0h1.2m7.8 0h1.2m0.8 0h1.2m-0.2 0h1.2m1.8 0h1.2m-0.2 0h1.2m0.8 0h1.2m-0.2 0h1.2m2.8 0h1.2m-0.2 0h1.2m-0.2 0h1.2m2.8 0h1.2m0.8 0h1.2m0.8 0h1.2m4.8 0h1.2m-0.2 0h1.2m3.8 0h1.2m4.8 0h1.2m-98.2 1h1.2m16.8 0h1.2m0.8 0h1.2m0.8 0h1.2m1.8 0h1.2m-0.2 0h1.2m-0.2 0h1.2m1.8 0h1.2m0.8 0h1.2m0.8 0h1.2m-0.2 0h1.2m-0.2 0h1.2m2.8 0h1.2m-0.2 0h1.2m-0.2 0h1.2m3.8 0h1.2m7.8 0h1.2m1.8 0h1.2m-0.2 0h1.2m-0.2 0h1.2m-0.2 0h1.2m1.8 0h1.2m0.8 0h1.2m-0.2 0h1.2m1.8 0h1.2m0.8 0h1.2m1.8 0h1.2m-0.2 0h1.2m0.8 0h1.2m0.8 0h1.2m0.8 0h1.2m-0.2 0h1.2m-0.2 0h1.2m1.8 0h1.2m12.8 0h1.2m-92.2 1h1.2m3.8 0h1.2m-0.2 0h1.2m4.8 0h1.2m4.8 0h1.2m4.8 0h1.2m-0.2 0h1.2m-0.2 0h1.2m0.8 0h1.2m-0.2 0h1.2m-0.2 0h1.2m0.8 0h1.2m-0.2 0h1.2m-0.2 0h1.2m-0.2 0h1.2m3.8 0h1.2m3.8 0h1.2m0.8 0h1.2m-0.2 0h1.2m-0.2 0h1.2m2.8 0h1.2m2.8 0h1.2m0.8 0h1.2m-0.2 0h1.2m-0.2 0h1.2m-0.2 0h1.2m-0.2 0h1.2m2.8 0h1.2m-0.2 0h1.2m-0.2 0h1.2m3.8 0h1.2m-0.2 0h1.2m2.8 0h1.2m1.8 0h1.2m6.8 0h1.2m-0.2 0h1.2m17.8 0h1.2m4.8 0h1.2m8.8 0h1.2m-0.2 0h1.2m-146.2 1h1.2m16.8 0h1.2m3.8 0h1.2m15.8 0h1.2m-0.2 0h1.2m0.8 0h1.2m-0.2 0h1.2m2.8 0h1.2m0.8 0h1.2m0.8 0h1.2m0.8 0h1.2m2.8 0h1.2m2.8 0h1.2m0.8 0h1.2m0.8 0h1.2m1.8 0h1.2m0.8 0h1.2m-0.2 0h1.2m-0.2 0h1.2m-0.2 0h1.2m0.8 0h1.2m-0.2 0h1.2m1.8 0h1.2m3.8 0h1.2m-0.2 0h1.2m-0.2 0h1.2m0.8 0h1.2m16.8 0h1.2m5.8 0h1.2m8.8 0h1.2m-125.2 1h1.2m32.8 0h1.2m6.8 0h1.2m0.8 0h1.2m-0.2 0h1.2m0.8 0h1.2m-0.2 0h1.2m-0.2 0h1.2m1.8 0h1.2m3.8 0h1.2m-0.2 0h1.2m-0.2 0h1.2m0.8 0h1.2m3.8 0h1.2m-0.2 0h1.2m-0.2 0h1.2m0.8 0h1.2m-0.2 0h1.2m1.8 0h1.2m2.8 0h1.2m-0.2 0h1.2m2.8 0h1.2m0.8 0h1.2m-0.2 0h1.2m-0.2 0h1.2m0.8 0h1.2m-0.2 0h1.2m1.8 0h1.2m-0.2 0h1.2m-85.2 1h1.2m6.8 0h1.2m1.8 0h1.2m0.8 0h1.2m21.8 0h1.2m-0.2 0h1.2m-0.2 0h1.2m3.8 0h1.2m-0.2 0h1.2m-0.2 0h1.2m-0.2 0h1.2m-0.2 0h1.2m-0.2 0h1.2m1.8 0h1.2m0.8 0h1.2m0.8 0h1.2m-0.2 0h1.2m0.8 0h1.2m3.8 0h1.2m0.8 0h1.2m-0.2 0h1.2m0.8 0h1.2m0.8 0h1.2m-0.2 0h1.2m-0.2 0h1.2m-0.2 0h1.2m-0.2 0h1.2m-0.2 0h1.2m2.8 0h1.2m-0.2 0h1.2m-0.2 0h1.2m17.8 0h1.2m1.8 0h1.2m5.8 0h1.2m-98.2 1h1.2m-0.2 0h1.2m-0.2 0h1.2m4.8 0h1.2m2.8 0h1.2m0.8 0h1.2m-0.2 0h1.2m-0.2 0h1.2m0.8 0h1.2m-0.2 0h1.2m-0.2 0h1.2m-0.2 0h1.2m0.8 0h1.2m-0.2 0h1.2m-0.2 0h1.2m0.8 0h1.2m-0.2 0h1.2m-0.2 0h1.2m-0.2 0h1.2m1.8 0h1.2m2.8 0h1.2m-0.2 0h1.2m0.8 0h1.2m0.8 0h1.2m-0.2 0h1.2m0.8 0h1.2m0.8 0h1.2m-0.2 0h1.2m0.8 0h1.2m2.8 0h1.2m1.8 0h1.2m1.8 0h1.2m2.8 0h1.2m0.8 0h1.2m21.8 0h1.2m0.8 0h1.2m-79.2 1h1.2m-0.2 0h1.2m0.8 0h1.2m1.8 0h1.2m-0.2 0h1.2m3.8 0h1.2m2.8 0h1.2m2.8 0h1.2m-0.2 0h1.2m-0.2 0h1.2m-0.2 0h1.2m3.8 0h1.2m1.8 0h1.2m-0.2 0h1.2m-0.2 0h1.2m0.8 0h1.2m0.8 0h1.2m1.8 0h1.2m9.8 0h1.2m-0.2 0h1.2m21.8 0h1.2m12.8 0h1.2m6.8 0h1.2m-127.2 1h1.2m3.8 0h1.2m13.8 0h1.2m4.8 0h1.2m-0.2 0h1.2m-0.2 0h1.2m2.8 0h1.2m3.8 0h1.2m-0.2 0h1.2m2.8 0h1.2m0.8 0h1.2m1.8 0h1.2m-0.2 0h1.2m-0.2 0h1.2m1.8 0h1.2m-0.2 0h1.2m0.8 0h1.2m-0.2 0h1.2m1.8 0h1.2m-0.2 0h1.2m1.8 0h1.2m-0.2 0h1.2m0.8 0h1.2m-0.2 0h1.2m6.8 0h1.2m0.8 0h1.2m1.8 0h1.2m2.8 0h1.2m-0.2 0h1.2m1.8 0h1.2m17.8 0h1.2m2.8 0h1.2m2.8 0h1.2m0.8 0h1.2m-103.2 1h1.2m1.8 0h1.2m1.8 0h1.2m7.8 0h1.2m-0.2 0h1.2m4.8 0h1.2m1.8 0h1.2m-0.2 0h1.2m-0.2 0h1.2m-0.2 0h1.2m3.8 0h1.2m0.8 0h1.2m0.8 0h1.2m-0.2 0h1.2m-0.2 0h1.2m-0.2 0h1.2m-0.2 0h1.2m-0.2 0h1.2m-0.2 0h1.2m-0.2 0h1.2m-0.2 0h1.2m0.8 0h1.2m-0.2 0h1.2m0.8 0h1.2m-0.2 0h1.2m-0.2 0h1.2m1.8 0h1.2m-0.2 0h1.2m-0.2 0h1.2m-0.2 0h1.2m1.8 0h1.2m5.8 0h1.2m0.8 0h1.2m6.8 0h1.2m0.8 0h1.2m31.8 0h1.2m-100.2 1h1.2m-0.2 0h1.2m2.8 0h1.2m4.8 0h1.2m1.8 0h1.2m-0.2 0h1.2m-0.2 0h1.2m0.8 0h1.2m-0.2 0h1.2m-0.2 0h1.2m1.8 0h1.2m2.8 0h1.2m0.8 0h1.2m1.8 0h1.2m-0.2 0h1.2m-0.2 0h1.2m-0.2 0h1.2m-0.2 0h1.2m0.8 0h1.2m-0.2 0h1.2m2.8 0h1.2m5.8 0h1.2m0.8 0h1.2m4.8 0h1.2m3.8 0h1.2m45.8 0h1.2m-120.2 1h1.2m1.8 0h1.2m16.8 0h1.2m-0.2 0h1.2m1.8 0h1.2m1.8 0h1.2m0.8 0h1.2m-0.2 0h1.2m0.8 0h1.2m4.8 0h1.2m0.8 0h1.2m0.8 0h1.2m-0.2 0h1.2m0.8 0h1.2m-0.2 0h1.2m-0.2 0h1.2m0.8 0h1.2m-0.2 0h1.2m0.8 0h1.2m-0.2 0h1.2m-0.2 0h1.2m0.8 0h1.2m1.8 0h1.2m-0.2 0h1.2m1.8 0h1.2m-0.2 0h1.2m2.8 0h1.2m8.8 0h1.2m-78.2 1h1.2m1.8 0h1.2m-0.2 0h1.2m1.8 0h1.2m2.8 0h1.2m6.8 0h1.2m1.8 0h1.2m-0.2 0h1.2m2.8 0h1.2m2.8 0h1.2m1.8 0h1.2m3.8 0h1.2m-0.2 0h1.2m-0.2 0h1.2m1.8 0h1.2m-0.2 0h1.2m-0.2 0h1.2m-0.2 0h1.2m-0.2 0h1.2m11.8 0h1.2m0.8 0h1.2m12.8 0h1.2m11.8 0h1.2m15.8 0h1.2m-125.2 1h1.2m17.8 0h1.2m3.8 0h1.2m0.8 0h1.2m-0.2 0h1.2m1.8 0h1.2m-0.2 0h1.2m2.8 0h1.2m-0.2 0h1.2m0.8 0h1.2m-0.2 0h1.2m4.8 0h1.2m-0.2 0h1.2m0.8 0h1.2m-0.2 0h1.2m-0.2 0h1.2m-0.2 0h1.2m0.8 0h1.2m0.8 0h1.2m-0.2 0h1.2m0.8 0h1.2m-0.2 0h1.2m-0.2 0h1.2m-0.2 0h1.2m-0.2 0h1.2m5.8 0h1.2m3.8 0h1.2m1.8 0h1.2m6.8 0h1.2m25.8 0h1.2m14.8 0h1.2m-103.2 1h1.2m4.8 0h1.2m1.8 0h1.2m0.8 0h1.2m0.8 0h1.2m0.8 0h1.2m0.8 0h1.2m1.8 0h1.2m-0.2 0h1.2m0.8 0h1.2m-0.2 0h1.2m-0.2 0h1.2m-0.2 0h1.2m0.8 0h1.2m0.8 0h1.2m0.8 0h1.2m4.8 0h1.2m-0.2 0h1.2m0.8 0h1.2m-0.2 0h1.2m-0.2 0h1.2m1.8 0h1.2m8.8 0h1.2m29.8 0h1.2m7.8 0h1.2m-113.2 1h1.2m5.8 0h1.2m8.8 0h1.2m1.8 0h1.2m0.8 0h1.2m-0.2 0h1.2m2.8 0h1.2m0.8 0h1.2m4.8 0h1.2m0.8 0h1.2m1.8 0h1.2m-0.2 0h1.2m-0.2 0h1.2m-0.2 0h1.2m0.8 0h1.2m1.8 0h1.2m-0.2 0h1.2m0.8 0h1.2m-0.2 0h1.2m-0.2 0h1.2m-0.2 0h1.2m0.8 0h1.2m0.8 0h1.2m-0.2 0h1.2m-0.2 0h1.2m-0.2 0h1.2m0.8 0h1.2m-0.2 0h1.2m-0.2 0h1.2m-0.2 0h1.2m0.8 0h1.2m6.8 0h1.2m4.8 0h1.2m13.8 0h1.2m-88.2 1h1.2m0.8 0h1.2m15.8 0h1.2m-0.2 0h1.2m-0.2 0h1.2m-0.2 0h1.2m2.8 0h1.2m-0.2 0h1.2m2.8 0h1.2m1.8 0h1.2m1.8 0h1.2m-0.2 0h1.2m-0.2 0h1.2m-0.2 0h1.2m1.8 0h1.2m0.8 0h1.2m0.8 0h1.2m-0.2 0h1.2m1.8 0h1.2m0.8 0h1.2m3.8 0h1.2m1.8 0h1.2m5.8 0h1.2m-74.2 1h1.2m3.8 0h1.2m4.8 0h1.2m7.8 0h1.2m0.8 0h1.2m0.8 0h1.2m-0.2 0h1.2m0.8 0h1.2m3.8 0h1.2m-0.2 0h1.2m-0.2 0h1.2m-0.2 0h1.2m2.8 0h1.2m-0.2 0h1.2m-0.2 0h1.2m1.8 0h1.2m-0.2 0h1.2m0.8 0h1.2m1.8 0h1.2m-0.2 0h1.2m4.8 0h1.2m-0.2 0h1.2m-0.2 0h1.2m6.8 0h1.2m6.8 0h1.2m2.8 0h1.2m-95.2 1h1.2m7.8 0h1.2m1.8 0h1.2m11.8 0h1.2m3.8 0h1.2m1.8 0h1.2m0.8 0h1.2m0.8 0h1.2m0.8 0h1.2m1.8 0h1.2m0.8 0h1.2m0.8 0h1.2m-0.2 0h1.2m1.8 0h1.2m1.8 0h1.2m-0.2 0h1.2m-0.2 0h1.2m0.8 0h1.2m1.8 0h1.2m0.8 0h1.2m-0.2 0h1.2m0.8 0h1.2m0.8 0h1.2m7.8 0h1.2m0.8 0h1.2m0.8 0h1.2m7.8 0h1.2m11.8 0h1.2m3.8 0h1.2m22.8 0h1.2m-108.2 1h1.2m11.8 0h1.2m-0.2 0h1.2m-0.2 0h1.2m0.8 0h1.2m-0.2 0h1.2m-0.2 0h1.2m-0.2 0h1.2m2.8 0h1.2m2.8 0h1.2m-0.2 0h1.2m-0.2 0h1.2m-0.2 0h1.2m-0.2 0h1.2m0.8 0h1.2m0.8 0h1.2m0.8 0h1.2m1.8 0h1.2m0.8 0h1.2m0.8 0h1.2m13.8 0h1.2m28.8 0h1.2m2.8 0h1.2m-104.2 1h1.2m5.8 0h1.2m4.8 0h1.2m2.8 0h1.2m1.8 0h1.2m0.8 0h1.2m0.8 0h1.2m0.8 0h1.2m-0.2 0h1.2m-0.2 0h1.2m-0.2 0h1.2m4.8 0h1.2m-0.2 0h1.2m0.8 0h1.2m-0.2 0h1.2m0.8 0h1.2m-0.2 0h1.2m-0.2 0h1.2m0.8 0h1.2m2.8 0h1.2m-0.2 0h1.2m-0.2 0h1.2m-0.2 0h1.2m3.8 0h1.2m4.8 0h1.2m-91.2 1h1.2m46.8 0h1.2m-0.2 0h1.2m-0.2 0h1.2m2.8 0h1.2m-0.2 0h1.2m2.8 0h1.2m3.8 0h1.2m-0.2 0h1.2m11.8 0h1.2m-0.2 0h1.2m2.8 0h1.2m-0.2 0h1.2m-0.2 0h1.2m5.8 0h1.2m2.8 0h1.2m2.8 0h1.2m8.8 0h1.2m1.8 0h1.2m21.8 0h1.2m12.8 0h1.2m-133.2 1h1.2m3.8 0h1.2m13.8 0h1.2m0.8 0h1.2m6.8 0h1.2m0.8 0h1.2m1.8 0h1.2m1.8 0h1.2m4.8 0h1.2m-0.2 0h1.2m-0.2 0h1.2m5.8 0h1.2m5.8 0h1.2m-0.2 0h1.2m4.8 0h1.2m-63.2 1h1.2m8.8 0h1.2m1.8 0h1.2m3.8 0h1.2m3.8 0h1.2m-0.2 0h1.2m-0.2 0h1.2m1.8 0h1.2m-0.2 0h1.2m-0.2 0h1.2m-0.2 0h1.2m-0.2 0h1.2m3.8 0h1.2m-0.2 0h1.2m0.8 0h1.2m-0.2 0h1.2m0.8 0h1.2m0.8 0h1.2m2.8 0h1.2m0.8 0h1.2m4.8 0h1.2m-0.2 0h1.2m1.8 0h1.2m-0.2 0h1.2m4.8 0h1.2m-0.2 0h1.2m0.8 0h1.2m1.8 0h1.2m39.8 0h1.2m9.8 0h1.2m-113.2 1h1.2m5.8 0h1.2m0.8 0h1.2m-0.2 0h1.2m-0.2 0h1.2m2.8 0h1.2m-0.2 0h1.2m-0.2 0h1.2m1.8 0h1.2m4.8 0h1.2m-0.2 0h1.2m-0.2 0h1.2m0.8 0h1.2m6.8 0h1.2m4.8 0h1.2m-0.2 0h1.2m-0.2 0h1.2m0.8 0h1.2m2.8 0h1.2m7.8 0h1.2m24.8 0h1.2m-95.2 1h1.2m12.8 0h1.2m4.8 0h1.2m5.8 0h1.2m-0.2 0h1.2m-0.2 0h1.2m3.8 0h1.2m-0.2 0h1.2m-0.2 0h1.2m0.8 0h1.2m0.8 0h1.2m6.8 0h1.2m1.8 0h1.2m8.8 0h1.2m1.8 0h1.2m2.8 0h1.2m-66.2 1h1.2m0.8 0h1.2m0.8 0h1.2m0.8 0h1.2m-0.2 0h1.2m2.8 0h1.2m3.8 0h1.2m-0.2 0h1.2m-0.2 0h1.2m0.8 0h1.2m4.8 0h1.2m2.8 0h1.2m3.8 0h1.2m-0.2 0h1.2m-0.2 0h1.2m-0.2 0h1.2m1.8 0h1.2m0.8 0h1.2m1.8 0h1.2m2.8 0h1.2m14.8 0h1.2m-55.2 1h1.2m0.8 0h1.2m1.8 0h1.2m-0.2 0h1.2m-0.2 0h1.2m1.8 0h1.2m1.8 0h1.2m1.8 0h1.2m-0.2 0h1.2m-0.2 0h1.2m1.8 0h1.2m0.8 0h1.2m4.8 0h1.2m-0.2 0h1.2m-0.2 0h1.2m-0.2 0h1.2m-0.2 0h1.2m0.8 0h1.2m4.8 0h1.2m6.8 0h1.2m53.8 0h1.2m-116.2 1h1.2m3.8 0h1.2m2.8 0h1.2m6.8 0h1.2m5.8 0h1.2m1.8 0h1.2m9.8 0h1.2m-0.2 0h1.2m2.8 0h1.2m2.8 0h1.2m0.8 0h1.2m0.8 0h1.2m7.8 0h1.2m8.8 0h1.2m0.8 0h1.2m28.8 0h1.2m-103.2 1h1.2m0.8 0h1.2m-0.2 0h1.2m-0.2 0h1.2m3.8 0h1.2m2.8 0h1.2m-0.2 0h1.2m-0.2 0h1.2m4.8 0h1.2m3.8 0h1.2m6.8 0h1.2m0.8 0h1.2m2.8 0h1.2m0.8 0h1.2m-0.2 0h1.2m5.8 0h1.2m2.8 0h1.2m-0.2 0h1.2m12.8 0h1.2m0.8 0h1.2m-67.2 1h1.2m4.8 0h1.2m4.8 0h1.2m0.8 0h1.2m1.8 0h1.2m-0.2 0h1.2m0.8 0h1.2m-0.2 0h1.2m1.8 0h1.2m1.8 0h1.2m4.8 0h1.2m1.8 0h1.2m3.8 0h1.2m10.8 0h1.2m4.8 0h1.2m-63.2 1h1.2m5.8 0h1.2m8.8 0h1.2m-0.2 0h1.2m5.8 0h1.2m0.8 0h1.2m4.8 0h1.2m-0.2 0h1.2m4.8 0h1.2m7.8 0h1.2m0.8 0h1.2m0.8 0h1.2m0.8 0h1.2m0.8 0h1.2m0.8 0h1.2m-63.2 1h1.2m0.8 0h1.2m0.8 0h1.2m14.8 0h1.2m1.8 0h1.2m1.8 0h1.2m2.8 0h1.2m2.8 0h1.2m2.8 0h1.2m2.8 0h1.2m-0.2 0h1.2m0.8 0h1.2m0.8 0h1.2m7.8 0h1.2m-0.2 0h1.2m-66.2 1h1.2m15.8 0h1.2m-0.2 0h1.2m10.8 0h1.2m1.8 0h1.2m7.8 0h1.2m0.8 0h1.2m1.8 0h1.2m-0.2 0h1.2m1.8 0h1.2m-0.2 0h1.2m-0.2 0h1.2m4.8 0h1.2m2.8 0h1.2m15.8 0h1.2m1.8 0h1.2m16.8 0h1.2m5.8 0h1.2m-84.2 1h1.2m-0.2 0h1.2m2.8 0h1.2m3.8 0h1.2m0.8 0h1.2m8.8 0h1.2m2.8 0h1.2m3.8 0h1.2m5.8 0h1.2m3.8 0h1.2m5.8 0h1.2m-64.2 1h1.2m6.8 0h1.2m3.8 0h1.2m5.8 0h1.2m-0.2 0h1.2m4.8 0h1.2m-0.2 0h1.2m3.8 0h1.2m2.8 0h1.2m3.8 0h1.2m11.8 0h1.2m-55.2 1h1.2m14.8 0h1.2m0.8 0h1.2m3.8 0h1.2m5.8 0h1.2m0.8 0h1.2m6.8 0h1.2m8.8 0h1.2m8.8 0h1.2m5.8 0h1.2m-58.2 1h1.2m0.8 0h1.2m0.8 0h1.2m2.8 0h1.2m0.8 0h1.2m0.8 0h1.2m-0.2 0h1.2m1.8 0h1.2m15.8 0h1.2m12.8 0h1.2m-78.2 1h1.2m1.8 0h1.2m18.8 0h1.2m4.8 0h1.2m1.8 0h1.2m1.8 0h1.2m3.8 0h1.2m8.8 0h1.2m5.8 0h1.2m1.8 0h1.2m0.8 0h1.2m1.8 0h1.2m2.8 0h1.2m-0.2 0h1.2m48.8 0h1.2m-86.2 1h1.2m10.8 0h1.2m-0.2 0h1.2m4.8 0h1.2m0.8 0h1.2m0.8 0h1.2m-22.2 1h1.2m-0.2 0h1.2m1.8 0h1.2m10.8 0h1.2m-0.2 0h1.2m1.8 0h1.2m1.8 0h1.2m8.8 0h1.2m-47.2 1h1.2m10.8 0h1.2m8.8 0h1.2m0.8 0h1.2m19.8 0h1.2m-40.2 1h1.2m11.8 0h1.2m-0.2 0h1.2m1.8 0h1.2m3.8 0h1.2m8.8 0h1.2m3.8 0h1.2m-45.2 1h1.2m0.8 0h1.2m15.8 0h1.2m-0.2 0h1.2m-0.2 0h1.2m5.8 0h1.2m6.8 0h1.2m4.8 0h1.2m64.8 0h1.2m-103.2 1h1.2m1.8 0h1.2m5.8 0h1.2m1.8 0h1.2m6.8 0h1.2m4.8 0h1.2m6.8 0h1.2m4.8 0h1.2m-38.2 1h1.2m11.8 0h1.2m-6.2 1h1.2m18.8 0h1.2m3.8 0h1.2m-33.2 1h1.2m1.8 0h1.2m78.8 0h1.2m-57.2 1h1.2m74.8 0h1.2m-99.2 1h1.2m92.8 0h1.2m-98.2 1h1.2m7.8 0h1.2m24.8 0h1.2m33.8 0h1.2m-32.2 1h1.2m-42.2 1h1.2m7.8 0h1.2m27.8 0h1.2m-23.2 1h1.2m5.8 0h1.2m4.8 0h1.2m3.8 0h1.2m17.8 0h1.2m25.8 0h1.2m-66.2 2h1.2m-20.2 1h1.2m106.8 0h1.2m-124.2 1h1.2m31.8 0h1.2" stroke="#0000ff" stroke-width="1.25"/>
<path d="M185 2290.0h1.2m2.8 0h1.2m-0.2 0h1.2m-7.2 1h1.2m1.8 0h1.2m1.8 0h1.2m-0.2 0h1.2m1.8 0h1.2m2.8 0h1.2m-19.2 1h1.2m0.8 0h1.2m0.8 0h1.2m0.8 0h1.2m-0.2 0h1.2m-0.2 0h1.2m-0.2 0h1.2m-0.2 0h1.2m-0.2 0h1.2m-0.2 0h1.2m0.8 0h1.2m-0.2 0h1.2m-0.2 0h1.2m-0.2 0h1.2m-17.2 1h1.2m0.8 0h1.2m-0.2 0h1.2m0.8 0h1.2m-0.2 0h1.2m1.8 0h1.2m0.8 0h1.2m-0.2 0h1.2m0.8 0h1.2m-0.2 0h1.2m0.8 0h1.2m-21.2 1h1.2m-0.2 0h1.2m-0.2 0h1.2m-0.2 0h1.2m2.8 0h1.2m-0.2 0h1.2m8.8 0h1.2m3.8 0h1.2m-0.2 0h1.2m0.8 0h1.2m-30.2 1h1.2m4.8 0h1.2m0.8 0h1.2m0.8 0h1.2m-0.2 0h1.2m-0.2 0h1.2m4.8 0h1.2m4.8 0h1.2m0.8 0h1.2m1.8 0h1.2m-32.2 1h1.2m0.8 0h1.2m-0.2 0h1.2m0.8 0h1.2m2.8 0h1.2m18.8 0h1.2m1.8 0h1.2m-0.2 0h1.2m-39.2 1h1.2m-0.2 0h1.2m1.8 0h1.2m-0.2 0h1.2m-0.2 0h1.2m27.8 0h1.2m0.8 0h1.2m-0.2 0h1.2m-36.2 1h1.2m2.8 0h1.2m26.8 0h1.2m0.8 0h1.2m1.8 0h1.2m-0.2 0h1.2m-0.2 0h1.2m-0.2 0h1.2m-44.2 1h1.2m-0.2 0h1.2m5.8 0h1.2m26.8 0h1.2m0.8 0h1.2m-0.2 0h1.2m0.8 0h1.2m-0.2 0h1.2m0.8 0h1.2m-48.2 1h1.2m-0.2 0h1.2m2.8 0h1.2m-0.2 0h1.2m35.8 0h1.2m-0.2 0h1.2m1.8 0h1.2m-51.2 1h1.2m1.8 0h1.2m1.8 0h1.2m-0.2 0h1.2m0.8 0h1.2m30.8 0h1.2m0.8 0h1.2m1.8 0h1.2m-0.2 0h1.2m-52.2 1h1.2m1.8 0h1.2m-0.2 0h1.2m-0.2 0h1.2m-0.2 0h1.2m-0.2 0h1.2m1.8 0h1.2m33.8 0h1.2m2.8 0h1.2m-0.2 0h1.2m-0.2 0h1.2m-0.2 0h1.2m0.8 0h1.2m-0.2 0h1.2m-52.2 1h1.2m-0.2 0h1.2m-0.2 0h1.2m38.8 0h1.2m4.8 0h1.2m-0.2 0h1.2m-53.2 1h1.2m-0.2 0h1.2m-0.2 0h1.2m0.8 0h1.2m-0.2 0h1.2m44.8 0h1.2m2.8 0h1.2m-58.2 1h1.2m-0.2 0h1.2m1.8 0h1.2m0.8 0h1.2m42.8 0h1.2m-0.2 0h1.2m0.8 0h1.2m-0.2 0h1.2m1.8 0h1.2m-56.2 1h1.2m-0.2 0h1.2m-0.2 0h1.2m40.8 0h1.2m1.8 0h1.2m2.8 0h1.2m-0.2 0h1.2m-0.2 0h1.2m0.8 0h1.2m-63.2 1h1.2m-0.2 0h1.2m1.8 0h1.2m1.8 0h1.2m45.8 0h1.2m0.8 0h1.2m-0.2 0h1.2m-0.2 0h1.2m-0.2 0h1.2m-0.2 0h1.2m-60.2 1h1.2m-0.2 0h1.2m47.8 0h1.2m-0.2 0h1.2m-0.2 0h1.2m-0.2 0h1.2m0.8 0h1.2m1.8 0h1.2m-62.2 1h1.2m1.8 0h1.2m2.8 0h1.2m48.8 0h1.2m-0.2 0h1.2m0.8 0h1.2m-61.2 1h1.2m-0.2 0h1.2m-0.2 0h1.2m-0.2 0h1.2m-0.2 0h1.2m49.8 0h1.2m0.8 0h1.2m1.8 0h1.2m-61.2 1h1.2m3.8 0h1.2m48.8 0h1.2m0.8 0h1.2m-0.2 0h1.2m-0.2 0h1.2m0.8 0h1.2m-68.2 1h1.2m4.8 0h1.2m-0.2 0h1.2m-0.2 0h1.2m49.8 0h1.2m1.8 0h1.2m0.8 0h1.2m-62.2 1h1.2m1.8 0h1.2m-0.2 0h1.2m0.8 0h1.2m47.8 0h1.2m0.8 0h1.2m1.8 0h1.2m-0.2 0h1.2m1.8 0h1.2m-69.2 1h1.2m2.8 0h1.2m1.8 0h1.2m-0.2 0h1.2m-0.2 0h1.2m45.8 0h1.2m0.8 0h1.2m-0.2 0h1.2m-0.2 0h1.2m-0.2 0h1.2m1.8 0h1.2m-0.2 0h1.2m-0.2 0h1.2m-66.2 1h1.2m3.8 0h1.2m-0.2 0h1.2m-0.2 0h1.2m-0.2 0h1.2m1.8 0h1.2m45.8 0h1.2m-0.2 0h1.2m-0.2 0h1.2m-0.2 0h1.2m-0.2 0h1.2m-65.2 1h1.2m3.8 0h1.2m-0.2 0h1.2m5.8 0h1.2m44.8 0h1.2m-0.2 0h1.2m-0.2 0h1.2m1.8 0h1.2m-60.2 1h1.2m0.8 0h1.2m-0.2 0h1.2m45.8 0h1.2m0.8 0h1.2m-0.2 0h1.2m3.8 0h1.2m0.8 0h1.2m-63.2 1h1.2m-0.2 0h1.2m-0.2 0h1.2m3.8 0h1.2m0.8 0h1.2m1.8 0h1.2m38.8 0h1.2m3.8 0h1.2m-0.2 0h1.2m-0.2 0h1.2m0.8 0h1.2m-64.2 1h1.2m4.8 0h1.2m0.8 0h1.2m-0.2 0h1.2m-0.2 0h1.2m0.8 0h1.2m41.8 0h1.2m-0.2 0h1.2m-56.2 1h1.2m0.8 0h1.2m-0.2 0h1.2m1.8 0h1.2m-0.2 0h1.2m1.8 0h1.2m-0.2 0h1.2m39.8 0h1.2m-0.2 0h1.2m-0.2 0h1.2m-0.2 0h1.2m-0.2 0h1.2m1.8 0h1.2m-54.2 1h1.2m-0.2 0h1.2m-0.2 0h1.2m-0.2 0h1.2m-0.2 0h1.2m-0.2 0h1.2m0.8 0h1.2m42.8 0h1.2m-53.2 1h1.2m0.8 0h1.2m1.8 0h1.2m1.8 0h1.2m0.8 0h1.2m36.8 0h1.2m-40.2 1h1.2m31.8 0h1.2m2.8 0h1.2m-0.2 0h1.2m0.8 0h1.2m-49.2 1h1.2m1.8 0h1.2m-0.2 0h1.2m-0.2 0h1.2m36.8 0h1.2m-0.2 0h1.2m-0.2 0h1.2m-0.2 0h1.2m1.8 0h1.2m-47.2 1h1.2m-0.2 0h1.2m-0.2 0h1.2m-0.2 0h1.2m0.8 0h1.2m29.8 0h1.2m0.8 0h1.2m-0.2 0h1.2m-0.2 0h1.2m4.8 0h1.2m-47.2 1h1.2m-0.2 0h1.2m1.8 0h1.2m-0.2 0h1.2m-0.2 0h1.2m-0.2 0h1.2m-0.2 0h1.2m24.8 0h1.2m3.8 0h1.2m0.8 0h1.2m1.8 0h1.2m-43.2 1h1.2m-0.2 0h1.2m0.8 0h1.2m-0.2 0h1.2m-0.2 0h1.2m-0.2 0h1.2m14.8 0h1.2m2.8 0h1.2m4.8 0h1.2m2.8 0h1.2m0.8 0h1.2m-37.2 1h1.2m0.8 0h1.2m-0.2 0h1.2m1.8 0h1.2m-0.2 0h1.2m10.8 0h1.2m1.8 0h1.2m0.8 0h1.2m1.8 0h1.2m1.8 0h1.2m-0.2 0h1.2m-0.2 0h1.2m2.8 0h1.2m-0.2 0h1.2m-0.2 0h1.2m-35.2 1h1.2m0.8 0h1.2m-0.2 0h1.2m12.8 0h1.2m2.8 0h1.2m1.8 0h1.2m1.8 0h1.2m-0.2 0h1.2m-0.2 0h1.2m-0.2 0h1.2m-35.2 1h1.2m0.8 0h1.2m-0.2 0h1.2m0.8 0h1.2m0.8 0h1.2m10.8 0h1.2m0.8 0h1.2m-0.2 0h1.2m-0.2 0h1.2m-0.2 0h1.2m1.8 0h1.2m-0.2 0h1.2m1.8 0h1.2m-27.2 1h1.2m-0.2 0h1.2m-0.2 0h1.2m-0.2 0h1.2m6.8 0h1.2m0.8 0h1.2m0.8 0h1.2m-0.2 0h1.2m-0.2 0h1.2m2.8 0h1.2m1.8 0h1.2m0.8 0h1.2m-0.2 0h1.2m-25.2 1h1.2m0.8 0h1.2m0.8 0h1.2m3.8 0h1.2m-0.2 0h1.2m0.8 0h1.2m1.8 0h1.2m-0.2 0h1.2m-0.2 0h1.2m3.8 0h1.2m-25.2 1h1.2m0.8 0h1.2m1.8 0h1.2m0.8 0h1.2m0.8 0h1.2m-0.2 0h1.2m0.8 0h1.2m-0.2 0h1.2m-0.2 0h1.2m0.8 0h1.2m0.8 0h1.2m3.8 0h1.2m2.8 0h1.2m-29.2 1h1.2m1.8 0h1.2m1.8 0h1.2m3.8 0h1.2m-0.2 0h1.2m3.8 0h1.2m-0.2 0h1.2m4.8 0h1.2m-24.2 1h1.2m-0.2 0h1.2m2.8 0h1.2m-0.2 0h1.2m-0.2 0h1.2m-0.2 0h1.2m-0.2 0h1.2m1.8 0h1.2m7.8 0h1.2m-18.2 1h1.2m-0.2 0h1.2m-0.2 0h1.2m-0.2 0h1.2m0.8 0h1.2m-0.2 0h1.2m-8.2 1h1.2m0.8 0h1.2m3.8 0h1.2m-0.2 0h1.2m0.8 0h1.2m0.8 0h1.2m-12.2 1h1.2m-0.2 0h1.2m-0.2 0h1.2m4.8 1h1.2m0.8 1h1.2m-0.2 2h1.2m-2.2 2h1.2m-0.2 1h1.2" stroke="#2060ff" stroke-width="1.25"/>
<path d="M185 2293.0h1.2m1.8 0h1.2m-0.2 0h1.2m0.8 0h1.2m1.8 0h1.2m-13.2 1h1.2m-0.2 0h1.2m-0.2 0h1.2m2.8 0h1.2m-0.2 0h1.2m-0.2 0h1.2m-0.2 0h1.2m-0.2 0h1.2m-0.2 0h1.2m0.8 0h1.2m0.8 0h1.2m0.8 0h1.2m-20.2 1h1.2m0.8 0h1.2m0.8 0h1.2m2.8 0h1.2m-0.2 0h1.2m0.8 0h1.2m-0.2 0h1.2m0.8 0h1.2m-0.2 0h1.2m-0.2 0h1.2m-0.2 0h1.2m1.8 0h1.2m0.8 0h1.2m-24.2 1h1.2m0.8 0h1.2m0.8 0h1.2m0.8 0h1.2m0.8 0h1.2m-0.2 0h1.2m-0.2 0h1.2m0.8 0h1.2m-0.2 0h1.2m-0.2 0h1.2m-0.2 0h1.2m0.8 0h1.2m0.8 0h1.2m-0.2 0h1.2m2.8 0h1.2m-29.2 1h1.2m-0.2 0h1.2m-0.2 0h1.2m0.8 0h1.2m-0.2 0h1.2m2.8 0h1.2m3.8 0h1.2m2.8 0h1.2m1.8 0h1.2m-0.2 0h1.2m1.8 0h1.2m-0.2 0h1.2m-0.2 0h1.2m-30.2 1h1.2m2.8 0h1.2m0.8 0h1.2m0.8 0h1.2m0.8 0h1.2m0.8 0h1.2m2.8 0h1.2m0.8 0h1.2m0.8 0h1.2m1.8 0h1.2m-0.2 0h1.2m1.8 0h1.2m-0.2 0h1.2m-0.2 0h1.2m-32.2 1h1.2m-0.2 0h1.2m-0.2 0h1.2m-0.2 0h1.2m2.8 0h1.2m11.8 0h1.2m0.8 0h1.2m2.8 0h1.2m2.8 0h1.2m0.8 0h1.2m-36.2 1h1.2m2.8 0h1.2m-0.2 0h1.2m0.8 0h1.2m-0.2 0h1.2m-0.2 0h1.2m2.8 0h1.2m15.8 0h1.2m1.8 0h1.2m0.8 0h1.2m-0.2 0h1.2m1.8 0h1.2m-41.2 1h1.2m3.8 0h1.2m1.8 0h1.2m-0.2 0h1.2m2.8 0h1.2m10.8 0h1.2m1.8 0h1.2m-0.2 0h1.2m-0.2 0h1.2m2.8 0h1.2m-0.2 0h1.2m3.8 0h1.2m-41.2 1h1.2m0.8 0h1.2m-0.2 0h1.2m-0.2 0h1.2m-0.2 0h1.2m1.8 0h1.2m-0.2 0h1.2m-0.2 0h1.2m14.8 0h1.2m3.8 0h1.2m0.8 0h1.2m0.8 0h1.2m1.8 0h1.2m-40.2 1h1.2m-0.2 0h1.2m-0.2 0h1.2m1.8 0h1.2m1.8 0h1.2m23.8 0h1.2m2.8 0h1.2m-42.2 1h1.2m1.8 0h1.2m-0.2 0h1.2m-0.2 0h1.2m-0.2 0h1.2m-0.2 0h1.2m30.8 0h1.2m1.8 0h1.2m-0.2 0h1.2m-0.2 0h1.2m-0.2 0h1.2m-0.2 0h1.2m-0.2 0h1.2m-51.2 1h1.2m1.8 0h1.2m1.8 0h1.2m1.8 0h1.2m0.8 0h1.2m1.8 0h1.2m24.8 0h1.2m0.8 0h1.2m-0.2 0h1.2m0.8 0h1.2m0.8 0h1.2m-45.2 1h1.2m-0.2 0h1.2m1.8 0h1.2m-0.2 0h1.2m29.8 0h1.2m1.8 0h1.2m-0.2 0h1.2m1.8 0h1.2m0.8 0h1.2m-0.2 0h1.2m-0.2 0h1.2m-53.2 1h1.2m-0.2 0h1.2m0.8 0h1.2m-0.2 0h1.2m-0.2 0h1.2m38.8 0h1.2m-0.2 0h1.2m0.8 0h1.2m0.8 0h1.2m-53.2 1h1.2m-0.2 0h1.2m-0.2 0h1.2m-0.2 0h1.2m2.8 0h1.2m-0.2 0h1.2m-0.2 0h1.2m41.8 0h1.2m-54.2 1h1.2m0.8 0h1.2m1.8 0h1.2m-0.2 0h1.2m0.8 0h1.2m0.8 0h1.2m38.8 0h1.2m-0.2 0h1.2m-0.2 0h1.2m-51.2 1h1.2m-0.2 0h1.2m0.8 0h1.2m-0.2 0h1.2m0.8 0h1.2m31.8 0h1.2m4.8 0h1.2m-0.2 0h1.2m-0.2 0h1.2m-0.2 0h1.2m0.8 0h1.2m0.8 0h1.2m-57.2 1h1.2m-0.2 0h1.2m-0.2 0h1.2m0.8 0h1.2m-0.2 0h1.2m1.8 0h1.2m38.8 0h1.2m-0.2 0h1.2m-0.2 0h1.2m-0.2 0h1.2m-50.2 1h1.2m0.8 0h1.2m0.8 0h1.2m-0.2 0h1.2m-0.2 0h1.2m1.8 0h1.2m-0.2 0h1.2m29.8 0h1.2m4.8 0h1.2m-0.2 0h1.2m1.8 0h1.2m0.8 0h1.2m-54.2 1h1.2m-0.2 0h1.2m-0.2 0h1.2m-0.2 0h1.2m-0.2 0h1.2m1.8 0h1.2m-0.2 0h1.2m-0.2 0h1.2m31.8 0h1.2m-0.2 0h1.2m-0.2 0h1.2m-0.2 0h1.2m-0.2 0h1.2m-0.2 0h1.2m-47.2 1h1.2m-0.2 0h1.2m-0.2 0h1.2m-0.2 0h1.2m0.8 0h1.2m-0.2 0h1.2m2.8 0h1.2m28.8 0h1.2m0.8 0h1.2m-45.2 1h1.2m2.8 0h1.2m0.8 0h1.2m-0.2 0h1.2m-0.2 0h1.2m0.8 0h1.2m-0.2 0h1.2m-0.2 0h1.2m0.8 0h1.2m27.8 0h1.2m-0.2 0h1.2m-0.2 0h1.2m-0.2 0h1.2m-42.2 1h1.2m-0.2 0h1.2m0.8 0h1.2m0.8 0h1.2m31.8 0h1.2m-0.2 0h1.2m-0.2 0h1.2m-46.2 1h1.2m-0.2 0h1.2m1.8 0h1.2m0.8 0h1.2m-0.2 0h1.2m1.8 0h1.2m-0.2 0h1.2m-0.2 0h1.2m-0.2 0h1.2m4.8 0h1.2m18.8 0h1.2m-38.2 1h1.2m-0.2 0h1.2m0.8 0h1.2m-0.2 0h1.2m-0.2 0h1.2m1.8 0h1.2m26.8 0h1.2m3.8 0h1.2m0.8 0h1.2m-0.2 0h1.2m-0.2 0h1.2m-47.2 1h1.2m0.8 0h1.2m0.8 0h1.2m1.8 0h1.2m-0.2 0h1.2m-0.2 0h1.2m2.8 0h1.2m-0.2 0h1.2m5.8 0h1.2m12.8 0h1.2m2.8 0h1.2m-0.2 0h1.2m-0.2 0h1.2m-0.2 0h1.2m-41.2 1h1.2m-0.2 0h1.2m-0.2 0h1.2m-0.2 0h1.2m-0.2 0h1.2m0.8 0h1.2m-0.2 0h1.2m0.8 0h1.2m24.8 0h1.2m1.8 0h1.2m-0.2 0h1.2m-38.2 1h1.2m-0.2 0h1.2m-0.2 0h1.2m2.8 0h1.2m7.8 0h1.2m2.8 0h1.2m-0.2 0h1.2m9.8 0h1.2m0.8 0h1.2m-0.2 0h1.2m-0.2 0h1.2m-0.2 0h1.2m-0.2 0h1.2m-0.2 0h1.2m-42.2 1h1.2m3.8 0h1.2m-0.2 0h1.2m-0.2 0h1.2m-0.2 0h1.2m0.8 0h1.2m5.8 0h1.2m3.8 0h1.2m-0.2 0h1.2m-0.2 0h1.2m-0.2 0h1.2m2.8 0h1.2m-0.2 0h1.2m0.8 0h1.2m1.8 0h1.2m-0.2 0h1.2m-0.2 0h1.2m0.8 0h1.2m-0.2 0h1.2m-39.2 1h1.2m2.8 0h1.2m-0.2 0h1.2m-0.2 0h1.2m1.8 0h1.2m-0.2 0h1.2m7.8 0h1.2m-0.2 0h1.2m4.8 0h1.2m1.8 0h1.2m0.8 0h1.2m3.8 0h1.2m-38.2 1h1.2m1.8 0h1.2m-0.2 0h1.2m-0.2 0h1.2m0.8 0h1.2m0.8 0h1.2m1.8 0h1.2m9.8 0h1.2m-0.2 0h1.2m-0.2 0h1.2m5.8 0h1.2m0.8 0h1.2m-32.2 1h1.2m-0.2 0h1.2m-0.2 0h1.2m-0.2 0h1.2m-0.2 0h1.2m-0.2 0h1.2m1.8 0h1.2m-0.2 0h1.2m0.8 0h1.2m4.8 0h1.2m0.8 0h1.2m-0.2 0h1.2m-0.2 0h1.2m-0.2 0h1.2m2.8 0h1.2m-0.2 0h1.2m-0.2 0h1.2m-26.2 1h1.2m-0.2 0h1.2m-0.2 0h1.2m-0.2 0h1.2m1.8 0h1.2m2.8 0h1.2m-0.2 0h1.2m0.8 0h1.2m0.8 0h1.2m-0.2 0h1.2m-0.2 0h1.2m0.8 0h1.2m-0.2 0h1.2m-0.2 0h1.2m-0.2 0h1.2m-0.2 0h1.2m-0.2 0h1.2m0.8 0h1.2m-0.2 0h1.2m-24.2 1h1.2m-0.2 0h1.2m-0.2 0h1.2m-0.2 0h1.2m0.8 0h1.2m0.8 0h1.2m3.8 0h1.2m-0.2 0h1.2m-0.2 0h1.2m0.8 0h1.2m-0.2 0h1.2m0.8 0h1.2m-0.2 0h1.2m0.8 0h1.2m-0.2 0h1.2m-0.2 0h1.2m-29.2 1h1.2m1.8 0h1.2m-0.2 0h1.2m1.8 0h1.2m0.8 0h1.2m-0.2 0h1.2m-0.2 0h1.2m-0.2 0h1.2m1.8 0h1.2m3.8 0h1.2m-0.2 0h1.2m0.8 0h1.2m-20.2 1h1.2m-0.2 0h1.2m-0.2 0h1.2m4.8 0h1.2m-0.2 0h1.2m0.8 0h1.2m0.8 0h1.2m0.8 0h1.2m1.8 0h1.2m0.8 0h1.2m-22.2 1h1.2m-0.2 0h1.2m0.8 0h1.2m-0.2 0h1.2m-0.2 0h1.2m0.8 0h1.2m-0.2 0h1.2m-0.2 0h1.2m-0.2 0h1.2m5.8 0h1.2m-16.2 1h1.2m0.8 0h1.2m-0.2 0h1.2m2.8 0h1.2m-9.2 1h1.2m0.8 0h1.2m0.8 0h1.2m-0.2 0h1.2m-0.2 0h1.2m2.8 0h1.2m-6.2 1h1.2m1.8 0h1.2m-8.2 1h1.2m1.8 0h1.2m0.8 0h1.2" stroke="#00e0ff" stroke-width="1.25"/>
<path d="M186 2296.0h1.2m7.8 0h1.2m-15.2 1h1.2m-0.2 0h1.2m3.8 0h1.2m1.8 0h1.2m0.8 0h1.2m0.8 0h1.2m2.8 0h1.2m-21.2 1h1.2m2.8 0h1.2m0.8 0h1.2m0.8 0h1.2m-0.2 0h1.2m1.8 0h1.2m0.8 0h1.2m1.8 0h1.2m1.8 0h1.2m-0.2 0h1.2m-23.2 1h1.2m0.8 0h1.2m-0.2 0h1.2m-0.2 0h1.2m-0.2 0h1.2m-0.2 0h1.2m-0.2 0h1.2m-0.2 0h1.2m-0.2 0h1.2m-0.2 0h1.2m-0.2 0h1.2m-0.2 0h1.2m-0.2 0h1.2m0.8 0h1.2m0.8 0h1.2m0.8 0h1.2m0.8 0h1.2m0.8 0h1.2m-27.2 1h1.2m3.8 0h1.2m-0.2 0h1.2m0.8 0h1.2m-0.2 0h1.2m-0.2 0h1.2m-0.2 0h1.2m-0.2 0h1.2m-0.2 0h1.2m-0.2 0h1.2m-0.2 0h1.2m-0.2 0h1.2m-0.2 0h1.2m-0.2 0h1.2m-0.2 0h1.2m-0.2 0h1.2m0.8 0h1.2m-0.2 0h1.2m0.8 0h1.2m-23.2 1h1.2m-0.2 0h1.2m-0.2 0h1.2m2.8 0h1.2m0.8 0h1.2m0.8 0h1.2m0.8 0h1.2m-0.2 0h1.2m-0.2 0h1.2m1.8 0h1.2m3.8 0h1.2m-0.2 0h1.2m-28.2 1h1.2m3.8 0h1.2m-0.2 0h1.2m-0.2 0h1.2m-0.2 0h1.2m-0.2 0h1.2m-0.2 0h1.2m1.8 0h1.2m-0.2 0h1.2m1.8 0h1.2m-0.2 0h1.2m1.8 0h1.2m-0.2 0h1.2m-0.2 0h1.2m-0.2 0h1.2m0.8 0h1.2m0.8 0h1.2m-30.2 1h1.2m-0.2 0h1.2m0.8 0h1.2m1.8 0h1.2m0.8 0h1.2m-0.2 0h1.2m-0.2 0h1.2m-0.2 0h1.2m-0.2 0h1.2m-0.2 0h1.2m-0.2 0h1.2m-0.2 0h1.2m-0.2 0h1.2m-0.2 0h1.2m-0.2 0h1.2m-0.2 0h1.2m-0.2 0h1.2m-0.2 0h1.2m-0.2 0h1.2m-0.2 0h1.2m-0.2 0h1.2m-0.2 0h1.2m-0.2 0h1.2m-29.2 1h1.2m0.8 0h1.2m-0.2 0h1.2m-0.2 0h1.2m-0.2 0h1.2m0.8 0h1.2m-0.2 0h1.2m-0.2 0h1.2m1.8 0h1.2m-0.2 0h1.2m0.8 0h1.2m-0.2 0h1.2m-0.2 0h1.2m0.8 0h1.2m0.8 0h1.2m-0.2 0h1.2m-0.2 0h1.2m0.8 0h1.2m-0.2 0h1.2m0.8 0h1.2m-0.2 0h1.2m-0.2 0h1.2m-35.2 1h1.2m1.8 0h1.2m0.8 0h1.2m-0.2 0h1.2m0.8 0h1.2m-0.2 0h1.2m2.8 0h1.2m0.8 0h1.2m0.8 0h1.2m-0.2 0h1.2m0.8 0h1.2m-0.2 0h1.2m2.8 0h1.2m-0.2 0h1.2m-0.2 0h1.2m-0.2 0h1.2m-0.2 0h1.2m-0.2 0h1.2m-0.2 0h1.2m-0.2 0h1.2m0.8 0h1.2m-33.2 1h1.2m-0.2 0h1.2m-0.2 0h1.2m0.8 0h1.2m-0.2 0h1.2m0.8 0h1.2m-0.2 0h1.2m1.8 0h1.2m-0.2 0h1.2m-0.2 0h1.2m-0.2 0h1.2m1.8 0h1.2m-0.2 0h1.2m-0.2 0h1.2m2.8 0h1.2m-0.2 0h1.2m1.8 0h1.2m-0.2 0h1.2m-0.2 0h1.2m0.8 0h1.2m-0.2 0h1.2m-38.2 1h1.2m0.8 0h1.2m-0.2 0h1.2m-0.2 0h1.2m-0.2 0h1.2m-0.2 0h1.2m-0.2 0h1.2m0.8 0h1.2m-0.2 0h1.2m-0.2 0h1.2m3.8 0h1.2m-0.2 0h1.2m-0.2 0h1.2m-0.2 0h1.2m0.8 0h1.2m0.8 0h1.2m-0.2 0h1.2m-0.2 0h1.2m-0.2 0h1.2m0.8 0h1.2m1.8 0h1.2m-0.2 0h1.2m0.8 0h1.2m-0.2 0h1.2m-0.2 0h1.2m-0.2 0h1.2m-0.2 0h1.2m-41.2 1h1.2m2.8 0h1.2m-0.2 0h1.2m-0.2 0h1.2m-0.2 0h1.2m-0.2 0h1.2m0.8 0h1.2m-0.2 0h1.2m-0.2 0h1.2m0.8 0h1.2m1.8 0h1.2m4.8 0h1.2m-0.2 0h1.2m-0.2 0h1.2m2.8 0h1.2m-0.2 0h1.2m-0.2 0h1.2m-0.2 0h1.2m0.8 0h1.2m0.8 0h1.2m-0.2 0h1.2m-0.2 0h1.2m-0.2 0h1.2m-0.2 0h1.2m-0.2 0h1.2m-42.2 1h1.2m2.8 0h1.2m-0.2 0h1.2m-0.2 0h1.2m-0.2 0h1.2m-0.2 0h1.2m-0.2 0h1.2m-0.2 0h1.2m-0.2 0h1.2m-0.2 0h1.2m5.8 0h1.2m-0.2 0h1.2m-0.2 0h1.2m-0.2 0h1.2m-0.2 0h1.2m1.8 0h1.2m1.8 0h1.2m-0.2 0h1.2m-0.2 0h1.2m-0.2 0h1.2m-0.2 0h1.2m-0.2 0h1.2m-0.2 0h1.2m-0.2 0h1.2m-0.2 0h1.2m0.8 0h1.2m-0.2 0h1.2m-41.2 1h1.2m0.8 0h1.2m-0.2 0h1.2m-0.2 0h1.2m-0.2 0h1.2m-0.2 0h1.2m-0.2 0h1.2m1.8 0h1.2m-0.2 0h1.2m1.8 0h1.2m-0.2 0h1.2m3.8 0h1.2m2.8 0h1.2m1.8 0h1.2m1.8 0h1.2m0.8 0h1.2m-0.2 0h1.2m1.8 0h1.2m-0.2 0h1.2m-0.2 0h1.2m-0.2 0h1.2m-42.2 1h1.2m1.8 0h1.2m-0.2 0h1.2m-0.2 0h1.2m-0.2 0h1.2m0.8 0h1.2m0.8 0h1.2m-0.2 0h1.2m-0.2 0h1.2m1.8 0h1.2m1.8 0h1.2m1.8 0h1.2m0.8 0h1.2m4.8 0h1.2m3.8 0h1.2m-0.2 0h1.2m0.8 0h1.2m-0.2 0h1.2m-0.2 0h1.2m-0.2 0h1.2m-39.2 1h1.2m-0.2 0h1.2m1.8 0h1.2m0.8 0h1.2m0.8 0h1.2m-0.2 0h1.2m1.8 0h1.2m-0.2 0h1.2m1.8 0h1.2m0.8 0h1.2m2.8 0h1.2m-0.2 0h1.2m-0.2 0h1.2m-0.2 0h1.2m-0.2 0h1.2m0.8 0h1.2m-0.2 0h1.2m6.8 0h1.2m-0.2 0h1.2m-41.2 1h1.2m-0.2 0h1.2m2.8 0h1.2m-0.2 0h1.2m-0.2 0h1.2m-0.2 0h1.2m-0.2 0h1.2m2.8 0h1.2m-0.2 0h1.2m-0.2 0h1.2m0.8 0h1.2m2.8 0h1.2m0.8 0h1.2m-0.2 0h1.2m-0.2 0h1.2m1.8 0h1.2m-0.2 0h1.2m1.8 0h1.2m0.8 0h1.2m-0.2 0h1.2m-0.2 0h1.2m-34.2 1h1.2m-0.2 0h1.2m-0.2 0h1.2m0.8 0h1.2m-0.2 0h1.2m-0.2 0h1.2m-0.2 0h1.2m-0.2 0h1.2m-0.2 0h1.2m-0.2 0h1.2m-0.2 0h1.2m-0.2 0h1.2m-0.2 0h1.2m0.8 0h1.2m-0.2 0h1.2m2.8 0h1.2m0.8 0h1.2m-0.2 0h1.2m2.8 0h1.2m-0.2 0h1.2m-0.2 0h1.2m-0.2 0h1.2m0.8 0h1.2m0.8 0h1.2m0.8 0h1.2m-41.2 1h1.2m6.8 0h1.2m0.8 0h1.2m0.8 0h1.2m-0.2 0h1.2m-0.2 0h1.2m-0.2 0h1.2m-0.2 0h1.2m-0.2 0h1.2m-0.2 0h1.2m-0.2 0h1.2m1.8 0h1.2m1.8 0h1.2m0.8 0h1.2m0.8 0h1.2m-0.2 0h1.2m-0.2 0h1.2m-0.2 0h1.2m-0.2 0h1.2m-0.2 0h1.2m-0.2 0h1.2m-0.2 0h1.2m-0.2 0h1.2m-36.2 1h1.2m3.8 0h1.2m-0.2 0h1.2m-0.2 0h1.2m1.8 0h1.2m-0.2 0h1.2m0.8 0h1.2m0.8 0h1.2m-0.2 0h1.2m-0.2 0h1.2m-0.2 0h1.2m-0.2 0h1.2m0.8 0h1.2m1.8 0h1.2m-0.2 0h1.2m-0.2 0h1.2m1.8 0h1.2m2.8 0h1.2m-0.2 0h1.2m-37.2 1h1.2m1.8 0h1.2m-0.2 0h1.2m3.8 0h1.2m-0.2 0h1.2m0.8 0h1.2m-0.2 0h1.2m1.8 0h1.2m-0.2 0h1.2m-0.2 0h1.2m-0.2 0h1.2m-0.2 0h1.2m-0.2 0h1.2m0.8 0h1.2m-0.2 0h1.2m-0.2 0h1.2m0.8 0h1.2m1.8 0h1.2m-0.2 0h1.2m0.8 0h1.2m2.8 0h1.2m-34.2 1h1.2m1.8 0h1.2m-0.2 0h1.2m0.8 0h1.2m-0.2 0h1.2m-0.2 0h1.2m-0.2 0h1.2m-0.2 0h1.2m0.8 0h1.2m-0.2 0h1.2m-0.2 0h1.2m-0.2 0h1.2m-0.2 0h1.2m-0.2 0h1.2m-0.2 0h1.2m-0.2 0h1.2m-0.2 0h1.2m0.8 0h1.2m3.8 0h1.2m-0.2 0h1.2m0.8 0h1.2m-0.2 0h1.2m-0.2 0h1.2m-0.2 0h1.2m-36.2 1h1.2m3.8 0h1.2m-0.2 0h1.2m1.8 0h1.2m-0.2 0h1.2m-0.2 0h1.2m-0.2 0h1.2m-0.2 0h1.2m-0.2 0h1.2m0.8 0h1.2m-0.2 0h1.2m-0.2 0h1.2m-0.2 0h1.2m3.8 0h1.2m-0.2 0h1.2m-0.2 0h1.2m-0.2 0h1.2m-0.2 0h1.2m0.8 0h1.2m-0.2 0h1.2m-0.2 0h1.2m-32.2 1h1.2m1.8 0h1.2m0.8 0h1.2m-0.2 0h1.2m-0.2 0h1.2m-0.2 0h1.2m-0.2 0h1.2m-0.2 0h1.2m-0.2 0h1.2m-0.2 0h1.2m-0.2 0h1.2m-0.2 0h1.2m-0.2 0h1.2m3.8 0h1.2m-0.2 0h1.2m-0.2 0h1.2m-0.2 0h1.2m-0.2 0h1.2m-0.2 0h1.2m-0.2 0h1.2m-0.2 0h1.2m-0.2 0h1.2m-0.2 0h1.2m0.8 0h1.2m-0.2 0h1.2m-32.2 1h1.2m-0.2 0h1.2m0.8 0h1.2m-0.2 0h1.2m-0.2 0h1.2m-0.2 0h1.2m-0.2 0h1.2m-0.2 0h1.2m0.8 0h1.2m0.8 0h1.2m-0.2 0h1.2m-0.2 0h1.2m1.8 0h1.2m-0.2 0h1.2m-0.2 0h1.2m-0.2 0h1.2m-0.2 0h1.2m0.8 0h1.2m-0.2 0h1.2m-0.2 0h1.2m-0.2 0h1.2m0.8 0h1.2m-27.2 1h1.2m0.8 0h1.2m-0.2 0h1.2m-0.2 0h1.2m0.8 0h1.2m-0.2 0h1.2m0.8 0h1.2m-0.2 0h1.2m-0.2 0h1.2m-0.2 0h1.2m3.8 0h1.2m-0.2 0h1.2m-0.2 0h1.2m1.8 0h1.2m-22.2 1h1.2m1.8 0h1.2m-0.2 0h1.2m-0.2 0h1.2m-0.2 0h1.2m-0.2 0h1.2m-0.2 0h1.2m-0.2 0h1.2m-0.2 0h1.2m1.8 0h1.2m0.8 0h1.2m0.8 0h1.2m0.8 0h1.2m-0.2 0h1.2m0.8 0h1.2m0.8 0h1.2m-26.2 1h1.2m0.8 0h1.2m-0.2 0h1.2m0.8 0h1.2m0.8 0h1.2m-0.2 0h1.2m-0.2 0h1.2m0.8 0h1.2m-0.2 0h1.2m-0.2 0h1.2m-0.2 0h1.2m2.8 0h1.2m-0.2 0h1.2m-0.2 0h1.2m-0.2 0h1.2m-0.2 0h1.2m-0.2 0h1.2m-22.2 1h1.2m1.8 0h1.2m0.8 0h1.2m-0.2 0h1.2m-0.2 0h1.2m-0.2 0h1.2m-0.2 0h1.2m5.8 0h1.2m-17.2 1h1.2m-0.2 0h1.2m0.8 0h1.2m-0.2 0h1.2m-0.2 0h1.2m3.8 0h1.2m-7.2 1h1.2m3.8 0h1.2m-0.2 0h1.2m-10.2 1h1.2m-0.2 0h1.2m0.8 0h1.2m3.8 0h1.2m-7.2 1h1.2m-0.2 0h1.2m-0.2 0h1.2m0.8 0h1.2m-3.2 1h1.2" stroke="#00e000" stroke-width="1.25"/>
<path d="M181 2301.0h1.2m-0.2 0h1.2m0.8 0h1.2m0.8 0h1.2m0.8 0h1.2m-5.2 1h1.2m-0.2 0h1.2m1.8 0h1.2m-13.2 1h1.2m-1.2 1h1.2m2.8 0h1.2m-0.2 0h1.2m1.8 0h1.2m2.8 0h1.2m4.8 0h1.2m-19.2 1h1.2m-0.2 0h1.2m1.8 0h1.2m0.8 0h1.2m1.8 0h1.2m1.8 0h1.2m-15.2 1h1.2m1.8 0h1.2m-0.2 0h1.2m3.8 0h1.2m-0.2 0h1.2m2.8 0h1.2m-0.2 0h1.2m-0.2 0h1.2m2.8 0h1.2m-20.2 1h1.2m-0.2 0h1.2m-0.2 0h1.2m-0.2 0h1.2m5.8 0h1.2m5.8 0h1.2m2.8 0h1.2m-27.2 1h1.2m2.8 0h1.2m0.8 0h1.2m1.8 0h1.2m0.8 0h1.2m-0.2 0h1.2m-0.2 0h1.2m2.8 0h1.2m-0.2 0h1.2m-0.2 0h1.2m-16.2 1h1.2m-0.2 0h1.2m-0.2 0h1.2m-0.2 0h1.2m6.8 0h1.2m1.8 0h1.2m-0.2 0h1.2m-21.2 1h1.2m-0.2 0h1.2m1.8 0h1.2m-0.2 0h1.2m1.8 0h1.2m-0.2 0h1.2m-0.2 0h1.2m-0.2 0h1.2m0.8 0h1.2m-0.2 0h1.2m-0.2 0h1.2m0.8 0h1.2m-0.2 0h1.2m0.8 0h1.2m-0.2 0h1.2m4.8 0h1.2m-29.2 1h1.2m2.8 0h1.2m1.8 0h1.2m-0.2 0h1.2m0.8 0h1.2m-0.2 0h1.2m3.8 0h1.2m-0.2 0h1.2m-0.2 0h1.2m-0.2 0h1.2m0.8 0h1.2m-0.2 0h1.2m-0.2 0h1.2m-0.2 0h1.2m1.8 0h1.2m-30.2 1h1.2m3.8 0h1.2m-0.2 0h1.2m1.8 0h1.2m-0.2 0h1.2m0.8 0h1.2m0.8 0h1.2m-0.2 0h1.2m5.8 0h1.2m1.8 0h1.2m-0.2 0h1.2m-0.2 0h1.2m-25.2 1h1.2m-0.2 0h1.2m-0.2 0h1.2m2.8 0h1.2m0.8 0h1.2m-0.2 0h1.2m1.8 0h1.2m3.8 0h1.2m1.8 0h1.2m-0.2 0h1.2m0.8 0h1.2m-17.2 1h1.2m1.8 0h1.2m-0.2 0h1.2m-0.2 0h1.2m0.8 0h1.2m2.8 0h1.2m-0.2 0h1.2m-20.2 1h1.2m7.8 0h1.2m-0.2 0h1.2m0.8 0h1.2m-0.2 0h1.2m2.8 0h1.2m-18.2 1h1.2m1.8 0h1.2m6.8 0h1.2m0.8 0h1.2m-0.2 0h1.2m3.8 0h1.2m1.8 0h1.2m-23.2 1h1.2m9.8 0h1.2m4.8 0h1.2m-0.2 0h1.2m1.8 0h1.2m-6.2 1h1.2m-0.2 0h1.2m-0.2 0h1.2m-0.2 0h1.2m-9.2 1h1.2m-0.2 0h1.2m-0.2 0h1.2m-0.2 0h1.2m-5.2 1h1.2m-0.2 0h1.2" stroke="#60f000" stroke-width="1.25"/>
<path d="M180 2308.0h1.2m-2.2 1h1.2m2.8 2h1.2m-2.2 1h1.2m-4.2 1h1.2m4.8 0h1.2m-0.2 1h1.2m-3.2 1h1.2" stroke="#f0f000" stroke-width="1.25"/>
<defs><linearGradient id="bl1" x1="0" x2="1"><stop offset="0" stop-color="#0000ff" stop-opacity="0.3"/><stop offset="0.25" stop-color="#00d000"/><stop offset="0.5" stop-color="#ffd000"/><stop offset="0.7" stop-color="#ff2000"/><stop offset="0.85" stop-color="#ffd000"/><stop offset="1" stop-color="#00c0ff"/></linearGradient></defs>
<rect x="101.7" y="2391.1" width="114.8" height="2" fill="url(#bl1)"/>
<rect x="89.50" y="2149.20" width="244.20" height="244.10" fill="none" stroke="#222" stroke-width="1.3"/>
<line x1="215.90" y1="2149.20" x2="215.90" y2="2393.30" stroke="#111" stroke-width="2.00"/>
<line x1="89.50" y1="2281.70" x2="333.70" y2="2281.70" stroke="#111" stroke-width="2.00"/>
<path d="M89.5 2393.3h-7M89.5 2393.3v7M89.5 2352.6h-7M130.2 2393.3v7M89.5 2311.9h-7M170.9 2393.3v7M89.5 2271.2h-7M211.6 2393.3v7M89.5 2230.6h-7M252.3 2393.3v7M89.5 2189.9h-7M293.0 2393.3v7M89.5 2149.2h-7M333.7 2393.3v7" stroke="#111" stroke-width="1.6" fill="none"/>
<path d="M89.5 2381.1h-3.5M101.8 2393.3v3.5M89.5 2373.9h-3.5M108.9 2393.3v3.5M89.5 2368.8h-3.5M114.0 2393.3v3.5M89.5 2364.9h-4.5M117.9 2393.3v4.5M89.5 2361.6h-3.5M121.2 2393.3v3.5M89.5 2358.9h-3.5M123.9 2393.3v3.5M89.5 2356.6h-3.5M126.3 2393.3v3.5M89.5 2354.5h-3.5M128.3 2393.3v3.5M89.5 2340.4h-3.5M142.5 2393.3v3.5M89.5 2333.2h-3.5M149.6 2393.3v3.5M89.5 2328.1h-3.5M154.7 2393.3v3.5M89.5 2324.2h-4.5M158.6 2393.3v4.5M89.5 2321.0h-3.5M161.9 2393.3v3.5M89.5 2318.2h-3.5M164.6 2393.3v3.5M89.5 2315.9h-3.5M167.0 2393.3v3.5M89.5 2313.8h-3.5M169.0 2393.3v3.5M89.5 2299.7h-3.5M183.2 2393.3v3.5M89.5 2292.5h-3.5M190.3 2393.3v3.5M89.5 2287.4h-3.5M195.4 2393.3v3.5M89.5 2283.5h-4.5M199.3 2393.3v4.5M89.5 2280.3h-3.5M202.6 2393.3v3.5M89.5 2277.6h-3.5M205.3 2393.3v3.5M89.5 2275.2h-3.5M207.7 2393.3v3.5M89.5 2273.1h-3.5M209.7 2393.3v3.5M89.5 2259.0h-3.5M223.9 2393.3v3.5M89.5 2251.8h-3.5M231.0 2393.3v3.5M89.5 2246.8h-3.5M236.1 2393.3v3.5M89.5 2242.8h-4.5M240.0 2393.3v4.5M89.5 2239.6h-3.5M243.3 2393.3v3.5M89.5 2236.9h-3.5M246.0 2393.3v3.5M89.5 2234.5h-3.5M248.4 2393.3v3.5M89.5 2232.4h-3.5M250.4 2393.3v3.5M89.5 2218.3h-3.5M264.6 2393.3v3.5M89.5 2211.2h-3.5M271.7 2393.3v3.5M89.5 2206.1h-3.5M276.8 2393.3v3.5M89.5 2202.1h-4.5M280.7 2393.3v4.5M89.5 2198.9h-3.5M284.0 2393.3v3.5M89.5 2196.2h-3.5M286.7 2393.3v3.5M89.5 2193.8h-3.5M289.1 2393.3v3.5M89.5 2191.7h-3.5M291.1 2393.3v3.5M89.5 2177.6h-3.5M305.3 2393.3v3.5M89.5 2170.5h-3.5M312.4 2393.3v3.5M89.5 2165.4h-3.5M317.5 2393.3v3.5M89.5 2161.4h-4.5M321.4 2393.3v4.5M89.5 2158.2h-3.5M324.7 2393.3v3.5M89.5 2155.5h-3.5M327.4 2393.3v3.5M89.5 2153.1h-3.5M329.8 2393.3v3.5M89.5 2151.1h-3.5M331.8 2393.3v3.5" stroke="#333" stroke-width="1" fill="none"/>
<text x="62.00" y="2393.30" font-size="9.00" fill="#222">10</text>
<text x="72.90" y="2385.80" font-size="9.00" fill="#222">0</text>
<text x="94.50" y="2423.30" font-size="9.00" fill="#222">10</text>
<text x="104.50" y="2415.80" font-size="9.00" fill="#222">0</text>
<text x="62.00" y="2359.82" font-size="9.00" fill="#222">10</text>
<text x="72.90" y="2352.32" font-size="9.00" fill="#222">1</text>
<text x="127.40" y="2423.30" font-size="9.00" fill="#222">10</text>
<text x="137.40" y="2415.80" font-size="9.00" fill="#222">1</text>
<text x="62.00" y="2319.13" font-size="9.00" fill="#222">10</text>
<text x="72.90" y="2311.63" font-size="9.00" fill="#222">2</text>
<text x="168.10" y="2423.30" font-size="9.00" fill="#222">10</text>
<text x="178.10" y="2415.80" font-size="9.00" fill="#222">2</text>
<text x="62.00" y="2278.45" font-size="9.00" fill="#222">10</text>
<text x="72.90" y="2270.95" font-size="9.00" fill="#222">3</text>
<text x="208.80" y="2423.30" font-size="9.00" fill="#222">10</text>
<text x="218.80" y="2415.80" font-size="9.00" fill="#222">3</text>
<text x="62.00" y="2237.77" font-size="9.00" fill="#222">10</text>
<text x="72.90" y="2230.27" font-size="9.00" fill="#222">4</text>
<text x="249.50" y="2423.30" font-size="9.00" fill="#222">10</text>
<text x="259.50" y="2415.80" font-size="9.00" fill="#222">4</text>
<text x="62.00" y="2197.08" font-size="9.00" fill="#222">10</text>
<text x="72.90" y="2189.58" font-size="9.00" fill="#222">5</text>
<text x="290.20" y="2423.30" font-size="9.00" fill="#222">10</text>
<text x="300.20" y="2415.80" font-size="9.00" fill="#222">5</text>
<text x="62.00" y="2167.20" font-size="9.00" fill="#222">10</text>
<text x="72.90" y="2159.70" font-size="9.00" fill="#222">6</text>
<text x="320.70" y="2423.30" font-size="9.00" fill="#222">10</text>
<text x="330.70" y="2415.80" font-size="9.00" fill="#222">6</text>
<text transform="translate(52.83,2329.38) rotate(-90)" font-size="11.55" fill="#222">Comp-BL2-A :: PI-PI-A</text>
<text transform="translate(130.34,2444.62)" font-size="11.30" fill="#222">Comp-BL1-A :: Annex-v-FITC-A</text>
<text x="93.90" y="2170.70" font-size="10.80" fill="#222">Q1</text>
<text x="93.90" y="2187.00" font-size="10.80" fill="#222">0.45</text>
<text x="312.40" y="2170.70" font-size="10.80" text-anchor="end" fill="#222">Q2</text>
<text x="312.40" y="2187.00" font-size="10.80" text-anchor="end" fill="#222">4.37</text>
<text x="93.90" y="2363.30" font-size="10.80" fill="#222">Q4</text>
<text x="93.90" y="2380.30" font-size="10.80" fill="#222">91.6</text>
<text x="312.40" y="2363.30" font-size="10.80" text-anchor="end" fill="#222">Q3</text>
<text x="312.40" y="2380.30" font-size="10.80" text-anchor="end" fill="#222">3.54</text>
<text transform="translate(506.76,2132.81)" font-size="34.22">KO</text>
<path d="M579 2218.0h1.2m4.8 10h1.2m-42.2 2h1.2m16.8 1h1.2m36.8 0h1.2m-49.2 1h1.2m13.8 1h1.2m-23.2 1h1.2m2.8 0h1.2m12.8 0h1.2m-0.2 0h1.2m-0.2 0h1.2m17.8 0h1.2m-24.2 1h1.2m-0.2 0h1.2m7.8 0h1.2m13.8 0h1.2m-39.2 1h1.2m7.8 0h1.2m2.8 0h1.2m2.8 0h1.2m-0.2 0h1.2m10.8 0h1.2m0.8 0h1.2m7.8 0h1.2m-39.2 1h1.2m9.8 0h1.2m-0.2 0h1.2m3.8 0h1.2m1.8 0h1.2m-0.2 0h1.2m20.8 0h1.2m-46.2 1h1.2m4.8 0h1.2m6.8 0h1.2m1.8 0h1.2m-0.2 0h1.2m0.8 0h1.2m-0.2 0h1.2m-0.2 0h1.2m6.8 0h1.2m2.8 0h1.2m-0.2 0h1.2m13.8 0h1.2m-52.2 1h1.2m2.8 0h1.2m0.8 0h1.2m18.8 0h1.2m0.8 0h1.2m0.8 0h1.2m-0.2 0h1.2m0.8 0h1.2m-40.2 1h1.2m2.8 0h1.2m4.8 0h1.2m-0.2 0h1.2m9.8 0h1.2m-0.2 0h1.2m6.8 0h1.2m7.8 0h1.2m7.8 0h1.2m-0.2 0h1.2m-53.2 1h1.2m-0.2 0h1.2m0.8 0h1.2m1.8 0h1.2m1.8 0h1.2m0.8 0h1.2m1.8 0h1.2m1.8 0h1.2m-0.2 0h1.2m-0.2 0h1.2m1.8 0h1.2m0.8 0h1.2m-0.2 0h1.2m7.8 0h1.2m-0.2 0h1.2m3.8 0h1.2m1.8 0h1.2m3.8 0h1.2m5.8 0h1.2m-0.2 0h1.2m-52.2 1h1.2m-0.2 0h1.2m1.8 0h1.2m-0.2 0h1.2m0.8 0h1.2m6.8 0h1.2m-0.2 0h1.2m3.8 0h1.2m0.8 0h1.2m1.8 0h1.2m2.8 0h1.2m0.8 0h1.2m-0.2 0h1.2m0.8 0h1.2m4.8 0h1.2m-0.2 0h1.2m2.8 0h1.2m7.8 0h1.2m-60.2 1h1.2m-0.2 0h1.2m2.8 0h1.2m-0.2 0h1.2m0.8 0h1.2m6.8 0h1.2m0.8 0h1.2m0.8 0h1.2m-0.2 0h1.2m-0.2 0h1.2m-0.2 0h1.2m-0.2 0h1.2m-0.2 0h1.2m-0.2 0h1.2m1.8 0h1.2m-0.2 0h1.2m11.8 0h1.2m0.8 0h1.2m0.8 0h1.2m2.8 0h1.2m3.8 0h1.2m2.8 0h1.2m-72.2 1h1.2m3.8 0h1.2m3.8 0h1.2m5.8 0h1.2m2.8 0h1.2m-0.2 0h1.2m1.8 0h1.2m-0.2 0h1.2m0.8 0h1.2m3.8 0h1.2m3.8 0h1.2m1.8 0h1.2m-0.2 0h1.2m2.8 0h1.2m-0.2 0h1.2m-0.2 0h1.2m0.8 0h1.2m-0.2 0h1.2m0.8 0h1.2m15.8 0h1.2m9.8 0h1.2m-78.2 1h1.2m12.8 0h1.2m-0.2 0h1.2m-0.2 0h1.2m-0.2 0h1.2m6.8 0h1.2m0.8 0h1.2m-0.2 0h1.2m-0.2 0h1.2m0.8 0h1.2m-0.2 0h1.2m0.8 0h1.2m-0.2 0h1.2m-0.2 0h1.2m-0.2 0h1.2m-0.2 0h1.2m-0.2 0h1.2m1.8 0h1.2m0.8 0h1.2m0.8 0h1.2m4.8 0h1.2m-0.2 0h1.2m0.8 0h1.2m-0.2 0h1.2m-0.2 0h1.2m2.8 0h1.2m5.8 0h1.2m-67.2 1h1.2m4.8 0h1.2m-0.2 0h1.2m-0.2 0h1.2m3.8 0h1.2m4.8 0h1.2m-0.2 0h1.2m-0.2 0h1.2m1.8 0h1.2m-0.2 0h1.2m-0.2 0h1.2m7.8 0h1.2m-0.2 0h1.2m0.8 0h1.2m-0.2 0h1.2m-0.2 0h1.2m-0.2 0h1.2m-0.2 0h1.2m-0.2 0h1.2m-0.2 0h1.2m1.8 0h1.2m-0.2 0h1.2m-0.2 0h1.2m-0.2 0h1.2m-0.2 0h1.2m0.8 0h1.2m6.8 0h1.2m0.8 0h1.2m-57.2 1h1.2m-0.2 0h1.2m-0.2 0h1.2m-0.2 0h1.2m-0.2 0h1.2m3.8 0h1.2m-0.2 0h1.2m1.8 0h1.2m-0.2 0h1.2m-0.2 0h1.2m3.8 0h1.2m4.8 0h1.2m2.8 0h1.2m-0.2 0h1.2m1.8 0h1.2m-0.2 0h1.2m1.8 0h1.2m2.8 0h1.2m1.8 0h1.2m2.8 0h1.2m-48.2 1h1.2m-0.2 0h1.2m-0.2 0h1.2m-0.2 0h1.2m0.8 0h1.2m-0.2 0h1.2m-0.2 0h1.2m-0.2 0h1.2m-0.2 0h1.2m-0.2 0h1.2m0.8 0h1.2m11.8 0h1.2m0.8 0h1.2m-0.2 0h1.2m5.8 0h1.2m-0.2 0h1.2m1.8 0h1.2m2.8 0h1.2m0.8 0h1.2m-0.2 0h1.2m2.8 0h1.2m-0.2 0h1.2m2.8 0h1.2m-59.2 1h1.2m2.8 0h1.2m1.8 0h1.2m-0.2 0h1.2m-0.2 0h1.2m-0.2 0h1.2m-0.2 0h1.2m0.8 0h1.2m9.8 0h1.2m1.8 0h1.2m2.8 0h1.2m2.8 0h1.2m1.8 0h1.2m-0.2 0h1.2m0.8 0h1.2m0.8 0h1.2m1.8 0h1.2m-0.2 0h1.2m0.8 0h1.2m4.8 0h1.2m4.8 0h1.2m-69.2 1h1.2m-0.2 0h1.2m1.8 0h1.2m1.8 0h1.2m0.8 0h1.2m-0.2 0h1.2m4.8 0h1.2m1.8 0h1.2m18.8 0h1.2m0.8 0h1.2m0.8 0h1.2m0.8 0h1.2m0.8 0h1.2m1.8 0h1.2m0.8 0h1.2m-0.2 0h1.2m2.8 0h1.2m1.8 0h1.2m2.8 0h1.2m1.8 0h1.2m-66.2 1h1.2m6.8 0h1.2m0.8 0h1.2m0.8 0h1.2m-0.2 0h1.2m0.8 0h1.2m19.8 0h1.2m-0.2 0h1.2m-0.2 0h1.2m0.8 0h1.2m-0.2 0h1.2m-0.2 0h1.2m1.8 0h1.2m-0.2 0h1.2m1.8 0h1.2m4.8 0h1.2m-0.2 0h1.2m-0.2 0h1.2m3.8 0h1.2m-88.2 1h1.2m7.8 0h1.2m19.8 0h1.2m0.8 0h1.2m-0.2 0h1.2m0.8 0h1.2m-0.2 0h1.2m-0.2 0h1.2m-0.2 0h1.2m0.8 0h1.2m-0.2 0h1.2m15.8 0h1.2m-0.2 0h1.2m0.8 0h1.2m0.8 0h1.2m1.8 0h1.2m2.8 0h1.2m0.8 0h1.2m-0.2 0h1.2m0.8 0h1.2m3.8 0h1.2m8.8 0h1.2m-82.2 1h1.2m10.8 0h1.2m3.8 0h1.2m-0.2 0h1.2m-0.2 0h1.2m3.8 0h1.2m1.8 0h1.2m1.8 0h1.2m23.8 0h1.2m0.8 0h1.2m-0.2 0h1.2m-0.2 0h1.2m0.8 0h1.2m-0.2 0h1.2m-0.2 0h1.2m-0.2 0h1.2m-0.2 0h1.2m2.8 0h1.2m1.8 0h1.2m1.8 0h1.2m1.8 0h1.2m0.8 0h1.2m-74.2 1h1.2m7.8 0h1.2m-0.2 0h1.2m3.8 0h1.2m0.8 0h1.2m0.8 0h1.2m-0.2 0h1.2m-0.2 0h1.2m-0.2 0h1.2m-0.2 0h1.2m20.8 0h1.2m-0.2 0h1.2m2.8 0h1.2m-0.2 0h1.2m2.8 0h1.2m-0.2 0h1.2m0.8 0h1.2m0.8 0h1.2m-0.2 0h1.2m-0.2 0h1.2m0.8 0h1.2m0.8 0h1.2m1.8 0h1.2m-0.2 0h1.2m2.8 0h1.2m-63.2 1h1.2m2.8 0h1.2m-0.2 0h1.2m-0.2 0h1.2m-0.2 0h1.2m-0.2 0h1.2m0.8 0h1.2m23.8 0h1.2m2.8 0h1.2m-0.2 0h1.2m-0.2 0h1.2m-0.2 0h1.2m0.8 0h1.2m0.8 0h1.2m7.8 0h1.2m0.8 0h1.2m0.8 0h1.2m7.8 0h1.2m-72.2 1h1.2m-0.2 0h1.2m1.8 0h1.2m2.8 0h1.2m1.8 0h1.2m0.8 0h1.2m-0.2 0h1.2m21.8 0h1.2m1.8 0h1.2m5.8 0h1.2m-0.2 0h1.2m-0.2 0h1.2m4.8 0h1.2m0.8 0h1.2m-0.2 0h1.2m4.8 0h1.2m-73.2 1h1.2m3.8 0h1.2m1.8 0h1.2m2.8 0h1.2m1.8 0h1.2m0.8 0h1.2m-0.2 0h1.2m1.8 0h1.2m-0.2 0h1.2m25.8 0h1.2m0.8 0h1.2m-0.2 0h1.2m-0.2 0h1.2m3.8 0h1.2m-0.2 0h1.2m-0.2 0h1.2m1.8 0h1.2m-0.2 0h1.2m-0.2 0h1.2m0.8 0h1.2m-0.2 0h1.2m-0.2 0h1.2m3.8 0h1.2m-0.2 0h1.2m-73.2 1h1.2m0.8 0h1.2m3.8 0h1.2m-0.2 0h1.2m3.8 0h1.2m4.8 0h1.2m-0.2 0h1.2m20.8 0h1.2m4.8 0h1.2m2.8 0h1.2m-0.2 0h1.2m0.8 0h1.2m6.8 0h1.2m5.8 0h1.2m0.8 0h1.2m-71.2 1h1.2m-0.2 0h1.2m3.8 0h1.2m1.8 0h1.2m-0.2 0h1.2m-0.2 0h1.2m-0.2 0h1.2m-0.2 0h1.2m-0.2 0h1.2m0.8 0h1.2m-0.2 0h1.2m0.8 0h1.2m23.8 0h1.2m1.8 0h1.2m-0.2 0h1.2m-0.2 0h1.2m0.8 0h1.2m-0.2 0h1.2m1.8 0h1.2m-0.2 0h1.2m-0.2 0h1.2m-0.2 0h1.2m-0.2 0h1.2m1.8 0h1.2m-60.2 1h1.2m1.8 0h1.2m1.8 0h1.2m0.8 0h1.2m-0.2 0h1.2m-0.2 0h1.2m-0.2 0h1.2m-0.2 0h1.2m1.8 0h1.2m-0.2 0h1.2m21.8 0h1.2m1.8 0h1.2m-0.2 0h1.2m0.8 0h1.2m1.8 0h1.2m-0.2 0h1.2m1.8 0h1.2m6.8 0h1.2m0.8 0h1.2m-0.2 0h1.2m2.8 0h1.2m-77.2 1h1.2m9.8 0h1.2m-0.2 0h1.2m-0.2 0h1.2m3.8 0h1.2m-0.2 0h1.2m-0.2 0h1.2m31.8 0h1.2m-0.2 0h1.2m-0.2 0h1.2m-0.2 0h1.2m0.8 0h1.2m5.8 0h1.2m6.8 0h1.2m-78.2 1h1.2m0.8 0h1.2m0.8 0h1.2m3.8 0h1.2m4.8 0h1.2m-0.2 0h1.2m0.8 0h1.2m0.8 0h1.2m0.8 0h1.2m1.8 0h1.2m2.8 0h1.2m-0.2 0h1.2m5.8 0h1.2m1.8 0h1.2m9.8 0h1.2m1.8 0h1.2m-0.2 0h1.2m2.8 0h1.2m-0.2 0h1.2m1.8 0h1.2m-0.2 0h1.2m0.8 0h1.2m8.8 0h1.2m0.8 0h1.2m-75.2 1h1.2m6.8 0h1.2m3.8 0h1.2m1.8 0h1.2m0.8 0h1.2m1.8 0h1.2m-0.2 0h1.2m1.8 0h1.2m-0.2 0h1.2m0.8 0h1.2m1.8 0h1.2m3.8 0h1.2m-0.2 0h1.2m0.8 0h1.2m4.8 0h1.2m2.8 0h1.2m0.8 0h1.2m0.8 0h1.2m3.8 0h1.2m-0.2 0h1.2m1.8 0h1.2m7.8 0h1.2m-67.2 1h1.2m5.8 0h1.2m7.8 0h1.2m-0.2 0h1.2m0.8 0h1.2m0.8 0h1.2m0.8 0h1.2m0.8 0h1.2m-0.2 0h1.2m2.8 0h1.2m0.8 0h1.2m-0.2 0h1.2m-0.2 0h1.2m-0.2 0h1.2m8.8 0h1.2m-0.2 0h1.2m0.8 0h1.2m-0.2 0h1.2m0.8 0h1.2m-0.2 0h1.2m-0.2 0h1.2m12.8 0h1.2m-78.2 1h1.2m20.8 0h1.2m2.8 0h1.2m1.8 0h1.2m1.8 0h1.2m-0.2 0h1.2m2.8 0h1.2m3.8 0h1.2m3.8 0h1.2m-0.2 0h1.2m0.8 0h1.2m-0.2 0h1.2m-0.2 0h1.2m1.8 0h1.2m-0.2 0h1.2m0.8 0h1.2m9.8 0h1.2m2.8 0h1.2m-62.2 1h1.2m2.8 0h1.2m3.8 0h1.2m1.8 0h1.2m1.8 0h1.2m-0.2 0h1.2m1.8 0h1.2m0.8 0h1.2m0.8 0h1.2m-0.2 0h1.2m-0.2 0h1.2m0.8 0h1.2m-0.2 0h1.2m3.8 0h1.2m-0.2 0h1.2m1.8 0h1.2m0.8 0h1.2m0.8 0h1.2m3.8 0h1.2m-0.2 0h1.2m0.8 0h1.2m-67.2 1h1.2m19.8 0h1.2m1.8 0h1.2m-0.2 0h1.2m4.8 0h1.2m8.8 0h1.2m-0.2 0h1.2m1.8 0h1.2m0.8 0h1.2m0.8 0h1.2m1.8 0h1.2m1.8 0h1.2m-0.2 0h1.2m6.8 0h1.2m32.8 0h1.2m-98.2 1h1.2m18.8 0h1.2m1.8 0h1.2m-0.2 0h1.2m0.8 0h1.2m4.8 0h1.2m3.8 0h1.2m-0.2 0h1.2m-0.2 0h1.2m1.8 0h1.2m0.8 0h1.2m7.8 0h1.2m0.8 0h1.2m1.8 0h1.2m5.8 0h1.2m4.8 0h1.2m9.8 0h1.2m-108.2 1h1.2m33.8 0h1.2m10.8 0h1.2m2.8 0h1.2m-0.2 0h1.2m0.8 0h1.2m0.8 0h1.2m-0.2 0h1.2m5.8 0h1.2m4.8 0h1.2m0.8 0h1.2m-0.2 0h1.2m2.8 0h1.2m2.8 0h1.2m-0.2 0h1.2m6.8 0h1.2m0.8 0h1.2m0.8 0h1.2m-0.2 0h1.2m5.8 0h1.2m2.8 0h1.2m-107.2 1h1.2m35.8 0h1.2m3.8 0h1.2m0.8 0h1.2m-0.2 0h1.2m2.8 0h1.2m7.8 0h1.2m3.8 0h1.2m0.8 0h1.2m0.8 0h1.2m1.8 0h1.2m2.8 0h1.2m-0.2 0h1.2m-0.2 0h1.2m7.8 0h1.2m0.8 0h1.2m1.8 0h1.2m1.8 0h1.2m-0.2 0h1.2m-61.2 1h1.2m2.8 0h1.2m17.8 0h1.2m8.8 0h1.2m-0.2 0h1.2m2.8 0h1.2m-0.2 0h1.2m-0.2 0h1.2m4.8 0h1.2m1.8 0h1.2m0.8 0h1.2m8.8 0h1.2m-103.2 1h1.2m45.8 0h1.2m1.8 0h1.2m-0.2 0h1.2m9.8 0h1.2m0.8 0h1.2m7.8 0h1.2m0.8 0h1.2m4.8 0h1.2m0.8 0h1.2m0.8 0h1.2m0.8 0h1.2m18.8 0h1.2m-133.2 1h1.2m45.8 0h1.2m27.8 0h1.2m16.8 0h1.2m2.8 0h1.2m4.8 0h1.2m-0.2 0h1.2m9.8 0h1.2m-67.2 1h1.2m4.8 0h1.2m-0.2 0h1.2m25.8 0h1.2m3.8 0h1.2m1.8 0h1.2m2.8 0h1.2m1.8 0h1.2m14.8 0h1.2m2.8 0h1.2m3.8 0h1.2m-90.2 1h1.2m23.8 0h1.2m6.8 0h1.2m5.8 0h1.2m2.8 0h1.2m8.8 0h1.2m0.8 0h1.2m-0.2 0h1.2m2.8 0h1.2m-0.2 0h1.2m-0.2 0h1.2m9.8 0h1.2m7.8 0h1.2m-90.2 1h1.2m33.8 0h1.2m0.8 0h1.2m0.8 0h1.2m5.8 0h1.2m3.8 0h1.2m2.8 0h1.2m0.8 0h1.2m5.8 0h1.2m0.8 0h1.2m9.8 0h1.2m-0.2 0h1.2m1.8 0h1.2m-66.2 1h1.2m0.8 0h1.2m6.8 0h1.2m2.8 0h1.2m1.8 0h1.2m1.8 0h1.2m11.8 0h1.2m6.8 0h1.2m12.8 0h1.2m3.8 0h1.2m4.8 0h1.2m17.8 0h1.2m-126.2 1h1.2m11.8 0h1.2m2.8 0h1.2m11.8 0h1.2m10.8 0h1.2m7.8 0h1.2m2.8 0h1.2m6.8 0h1.2m2.8 0h1.2m6.8 0h1.2m6.8 0h1.2m-0.2 0h1.2m7.8 0h1.2m-0.2 0h1.2m3.8 0h1.2m-0.2 0h1.2m-0.2 0h1.2m0.8 0h1.2m-101.2 1h1.2m5.8 0h1.2m3.8 0h1.2m16.8 0h1.2m22.8 0h1.2m-0.2 0h1.2m3.8 0h1.2m6.8 0h1.2m1.8 0h1.2m0.8 0h1.2m15.8 0h1.2m0.8 0h1.2m1.8 0h1.2m0.8 0h1.2m5.8 0h1.2m0.8 0h1.2m-88.2 1h1.2m-0.2 0h1.2m7.8 0h1.2m0.8 0h1.2m1.8 0h1.2m25.8 0h1.2m1.8 0h1.2m12.8 0h1.2m0.8 0h1.2m1.8 0h1.2m0.8 0h1.2m-73.2 1h1.2m1.8 0h1.2m4.8 0h1.2m5.8 0h1.2m1.8 0h1.2m4.8 0h1.2m15.8 0h1.2m4.8 0h1.2m-0.2 0h1.2m9.8 0h1.2m0.8 0h1.2m3.8 0h1.2m1.8 0h1.2m1.8 0h1.2m3.8 0h1.2m-0.2 0h1.2m0.8 0h1.2m5.8 0h1.2m-88.2 1h1.2m9.8 0h1.2m0.8 0h1.2m5.8 0h1.2m15.8 0h1.2m-0.2 0h1.2m8.8 0h1.2m14.8 0h1.2m8.8 0h1.2m0.8 0h1.2m8.8 0h1.2m-100.2 1h1.2m0.8 0h1.2m2.8 0h1.2m5.8 0h1.2m2.8 0h1.2m11.8 0h1.2m0.8 0h1.2m0.8 0h1.2m8.8 0h1.2m2.8 0h1.2m2.8 0h1.2m-0.2 0h1.2m4.8 0h1.2m11.8 0h1.2m17.8 0h1.2m-0.2 0h1.2m6.8 0h1.2m3.8 0h1.2m6.8 0h1.2m-127.2 1h1.2m24.8 0h1.2m-0.2 0h1.2m2.8 0h1.2m9.8 0h1.2m7.8 0h1.2m7.8 0h1.2m3.8 0h1.2m0.8 0h1.2m-0.2 0h1.2m4.8 0h1.2m1.8 0h1.2m7.8 0h1.2m4.8 0h1.2m4.8 0h1.2m12.8 0h1.2m-152.2 1h1.2m3.8 0h1.2m2.8 0h1.2m36.8 0h1.2m8.8 0h1.2m2.8 0h1.2m1.8 0h1.2m13.8 0h1.2m3.8 0h1.2m7.8 0h1.2m-0.2 0h1.2m9.8 0h1.2m0.8 0h1.2m4.8 0h1.2m-0.2 0h1.2m5.8 0h1.2m-0.2 0h1.2m5.8 0h1.2m1.8 0h1.2m-0.2 0h1.2m1.8 0h1.2m3.8 0h1.2m0.8 0h1.2m4.8 0h1.2m1.8 0h1.2m-111.2 1h1.2m4.8 0h1.2m16.8 0h1.2m9.8 0h1.2m1.8 0h1.2m0.8 0h1.2m2.8 0h1.2m0.8 0h1.2m6.8 0h1.2m2.8 0h1.2m0.8 0h1.2m4.8 0h1.2m1.8 0h1.2m1.8 0h1.2m1.8 0h1.2m4.8 0h1.2m-0.2 0h1.2m1.8 0h1.2m14.8 0h1.2m-118.2 1h1.2m7.8 0h1.2m14.8 0h1.2m3.8 0h1.2m3.8 0h1.2m1.8 0h1.2m0.8 0h1.2m4.8 0h1.2m0.8 0h1.2m-0.2 0h1.2m-0.2 0h1.2m1.8 0h1.2m-0.2 0h1.2m10.8 0h1.2m-0.2 0h1.2m2.8 0h1.2m1.8 0h1.2m6.8 0h1.2m1.8 0h1.2m-0.2 0h1.2m-0.2 0h1.2m2.8 0h1.2m4.8 0h1.2m3.8 0h1.2m0.8 0h1.2m2.8 0h1.2m0.8 0h1.2m0.8 0h1.2m2.8 0h1.2m0.8 0h1.2m17.8 0h1.2m-149.2 1h1.2m20.8 0h1.2m7.8 0h1.2m0.8 0h1.2m7.8 0h1.2m0.8 0h1.2m2.8 0h1.2m-0.2 0h1.2m-0.2 0h1.2m3.8 0h1.2m-0.2 0h1.2m-0.2 0h1.2m-0.2 0h1.2m0.8 0h1.2m-0.2 0h1.2m0.8 0h1.2m0.8 0h1.2m1.8 0h1.2m4.8 0h1.2m4.8 0h1.2m-0.2 0h1.2m1.8 0h1.2m0.8 0h1.2m0.8 0h1.2m4.8 0h1.2m1.8 0h1.2m0.8 0h1.2m1.8 0h1.2m3.8 0h1.2m0.8 0h1.2m-0.2 0h1.2m0.8 0h1.2m-0.2 0h1.2m0.8 0h1.2m2.8 0h1.2m0.8 0h1.2m2.8 0h1.2m1.8 0h1.2m0.8 0h1.2m4.8 0h1.2m-0.2 0h1.2m4.8 0h1.2m-98.2 1h1.2m0.8 0h1.2m-0.2 0h1.2m-0.2 0h1.2m-0.2 0h1.2m-0.2 0h1.2m3.8 0h1.2m-0.2 0h1.2m0.8 0h1.2m1.8 0h1.2m-0.2 0h1.2m6.8 0h1.2m-0.2 0h1.2m-0.2 0h1.2m5.8 0h1.2m5.8 0h1.2m0.8 0h1.2m6.8 0h1.2m3.8 0h1.2m5.8 0h1.2m8.8 0h1.2m-0.2 0h1.2m4.8 0h1.2m-0.2 0h1.2m1.8 0h1.2m0.8 0h1.2m0.8 0h1.2m4.8 0h1.2m12.8 0h1.2m-162.2 1h1.2m4.8 0h1.2m12.8 0h1.2m21.8 0h1.2m-0.2 0h1.2m-0.2 0h1.2m6.8 0h1.2m-0.2 0h1.2m-0.2 0h1.2m0.8 0h1.2m1.8 0h1.2m-0.2 0h1.2m-0.2 0h1.2m0.8 0h1.2m-0.2 0h1.2m1.8 0h1.2m-0.2 0h1.2m2.8 0h1.2m-0.2 0h1.2m2.8 0h1.2m0.8 0h1.2m5.8 0h1.2m0.8 0h1.2m1.8 0h1.2m4.8 0h1.2m3.8 0h1.2m2.8 0h1.2m-0.2 0h1.2m-0.2 0h1.2m-0.2 0h1.2m-0.2 0h1.2m15.8 0h1.2m0.8 0h1.2m3.8 0h1.2m1.8 0h1.2m7.8 0h1.2m-145.2 1h1.2m14.8 0h1.2m-0.2 0h1.2m11.8 0h1.2m4.8 0h1.2m4.8 0h1.2m2.8 0h1.2m-0.2 0h1.2m5.8 0h1.2m-0.2 0h1.2m-0.2 0h1.2m-0.2 0h1.2m-0.2 0h1.2m-0.2 0h1.2m-0.2 0h1.2m0.8 0h1.2m-0.2 0h1.2m4.8 0h1.2m0.8 0h1.2m-0.2 0h1.2m0.8 0h1.2m4.8 0h1.2m2.8 0h1.2m0.8 0h1.2m-0.2 0h1.2m-0.2 0h1.2m3.8 0h1.2m-0.2 0h1.2m1.8 0h1.2m5.8 0h1.2m-0.2 0h1.2m3.8 0h1.2m8.8 0h1.2m14.8 0h1.2m0.8 0h1.2m6.8 0h1.2m12.8 0h1.2m-150.2 1h1.2m14.8 0h1.2m5.8 0h1.2m-0.2 0h1.2m-0.2 0h1.2m3.8 0h1.2m2.8 0h1.2m-0.2 0h1.2m2.8 0h1.2m-0.2 0h1.2m-0.2 0h1.2m-0.2 0h1.2m-0.2 0h1.2m1.8 0h1.2m0.8 0h1.2m0.8 0h1.2m-0.2 0h1.2m-0.2 0h1.2m-0.2 0h1.2m-0.2 0h1.2m0.8 0h1.2m1.8 0h1.2m-0.2 0h1.2m3.8 0h1.2m0.8 0h1.2m-0.2 0h1.2m0.8 0h1.2m0.8 0h1.2m-0.2 0h1.2m0.8 0h1.2m0.8 0h1.2m0.8 0h1.2m-0.2 0h1.2m-0.2 0h1.2m2.8 0h1.2m10.8 0h1.2m6.8 0h1.2m-0.2 0h1.2m3.8 0h1.2m-0.2 0h1.2m-0.2 0h1.2m-0.2 0h1.2m1.8 0h1.2m7.8 0h1.2m-145.2 1h1.2m2.8 0h1.2m1.8 0h1.2m25.8 0h1.2m2.8 0h1.2m1.8 0h1.2m2.8 0h1.2m-0.2 0h1.2m0.8 0h1.2m0.8 0h1.2m0.8 0h1.2m1.8 0h1.2m0.8 0h1.2m-0.2 0h1.2m6.8 0h1.2m-0.2 0h1.2m-0.2 0h1.2m2.8 0h1.2m-0.2 0h1.2m-0.2 0h1.2m2.8 0h1.2m0.8 0h1.2m-0.2 0h1.2m-0.2 0h1.2m-0.2 0h1.2m-0.2 0h1.2m4.8 0h1.2m-0.2 0h1.2m-0.2 0h1.2m0.8 0h1.2m0.8 0h1.2m1.8 0h1.2m1.8 0h1.2m-0.2 0h1.2m-0.2 0h1.2m1.8 0h1.2m1.8 0h1.2m-0.2 0h1.2m0.8 0h1.2m-0.2 0h1.2m2.8 0h1.2m0.8 0h1.2m4.8 0h1.2m0.8 0h1.2m0.8 0h1.2m-0.2 0h1.2m1.8 0h1.2m7.8 0h1.2m5.8 0h1.2m10.8 0h1.2m-168.2 1h1.2m3.8 0h1.2m26.8 0h1.2m-0.2 0h1.2m6.8 0h1.2m1.8 0h1.2m0.8 0h1.2m0.8 0h1.2m-0.2 0h1.2m3.8 0h1.2m-0.2 0h1.2m-0.2 0h1.2m0.8 0h1.2m0.8 0h1.2m5.8 0h1.2m-0.2 0h1.2m0.8 0h1.2m4.8 0h1.2m-0.2 0h1.2m-0.2 0h1.2m1.8 0h1.2m2.8 0h1.2m1.8 0h1.2m-0.2 0h1.2m0.8 0h1.2m-0.2 0h1.2m-0.2 0h1.2m2.8 0h1.2m-0.2 0h1.2m6.8 0h1.2m-0.2 0h1.2m-0.2 0h1.2m1.8 0h1.2m-0.2 0h1.2m9.8 0h1.2m3.8 0h1.2m-0.2 0h1.2m3.8 0h1.2m-0.2 0h1.2m-0.2 0h1.2m-0.2 0h1.2m-0.2 0h1.2m8.8 0h1.2m4.8 0h1.2m12.8 0h1.2m-170.2 1h1.2m7.8 0h1.2m1.8 0h1.2m3.8 0h1.2m12.8 0h1.2m3.8 0h1.2m1.8 0h1.2m3.8 0h1.2m7.8 0h1.2m0.8 0h1.2m0.8 0h1.2m0.8 0h1.2m-0.2 0h1.2m0.8 0h1.2m0.8 0h1.2m3.8 0h1.2m-0.2 0h1.2m-0.2 0h1.2m5.8 0h1.2m0.8 0h1.2m0.8 0h1.2m-0.2 0h1.2m0.8 0h1.2m1.8 0h1.2m-0.2 0h1.2m-0.2 0h1.2m0.8 0h1.2m-0.2 0h1.2m-0.2 0h1.2m-0.2 0h1.2m-0.2 0h1.2m0.8 0h1.2m1.8 0h1.2m2.8 0h1.2m1.8 0h1.2m-0.2 0h1.2m1.8 0h1.2m4.8 0h1.2m-0.2 0h1.2m6.8 0h1.2m6.8 0h1.2m0.8 0h1.2m0.8 0h1.2m4.8 0h1.2m14.8 0h1.2m4.8 0h1.2m-176.2 1h1.2m11.8 0h1.2m20.8 0h1.2m2.8 0h1.2m2.8 0h1.2m7.8 0h1.2m0.8 0h1.2m0.8 0h1.2m0.8 0h1.2m-0.2 0h1.2m0.8 0h1.2m1.8 0h1.2m-0.2 0h1.2m23.8 0h1.2m-0.2 0h1.2m0.8 0h1.2m1.8 0h1.2m1.8 0h1.2m0.8 0h1.2m2.8 0h1.2m4.8 0h1.2m1.8 0h1.2m0.8 0h1.2m1.8 0h1.2m4.8 0h1.2m-0.2 0h1.2m-0.2 0h1.2m3.8 0h1.2m-0.2 0h1.2m1.8 0h1.2m3.8 0h1.2m1.8 0h1.2m-0.2 0h1.2m-0.2 0h1.2m-0.2 0h1.2m9.8 0h1.2m-0.2 0h1.2m0.8 0h1.2m-145.2 1h1.2m1.8 0h1.2m5.8 0h1.2m0.8 0h1.2m8.8 0h1.2m5.8 0h1.2m-0.2 0h1.2m3.8 0h1.2m1.8 0h1.2m0.8 0h1.2m-0.2 0h1.2m0.8 0h1.2m-0.2 0h1.2m0.8 0h1.2m-0.2 0h1.2m1.8 0h1.2m19.8 0h1.2m-0.2 0h1.2m2.8 0h1.2m-0.2 0h1.2m4.8 0h1.2m4.8 0h1.2m0.8 0h1.2m0.8 0h1.2m-0.2 0h1.2m-0.2 0h1.2m0.8 0h1.2m-0.2 0h1.2m1.8 0h1.2m13.8 0h1.2m4.8 0h1.2m4.8 0h1.2m0.8 0h1.2m0.8 0h1.2m0.8 0h1.2m-0.2 0h1.2m2.8 0h1.2m5.8 0h1.2m2.8 0h1.2m-168.2 1h1.2m6.8 0h1.2m3.8 0h1.2m10.8 0h1.2m5.8 0h1.2m0.8 0h1.2m7.8 0h1.2m3.8 0h1.2m1.8 0h1.2m4.8 0h1.2m-0.2 0h1.2m1.8 0h1.2m27.8 0h1.2m12.8 0h1.2m-0.2 0h1.2m-0.2 0h1.2m2.8 0h1.2m3.8 0h1.2m0.8 0h1.2m-0.2 0h1.2m1.8 0h1.2m0.8 0h1.2m-0.2 0h1.2m-0.2 0h1.2m0.8 0h1.2m-0.2 0h1.2m-0.2 0h1.2m-0.2 0h1.2m-0.2 0h1.2m-0.2 0h1.2m5.8 0h1.2m0.8 0h1.2m4.8 0h1.2m6.8 0h1.2m-143.2 1h1.2m2.8 0h1.2m1.8 0h1.2m1.8 0h1.2m7.8 0h1.2m1.8 0h1.2m4.8 0h1.2m1.8 0h1.2m11.8 0h1.2m0.8 0h1.2m-0.2 0h1.2m36.8 0h1.2m2.8 0h1.2m1.8 0h1.2m6.8 0h1.2m-0.2 0h1.2m-0.2 0h1.2m2.8 0h1.2m-0.2 0h1.2m-0.2 0h1.2m4.8 0h1.2m-0.2 0h1.2m1.8 0h1.2m0.8 0h1.2m-0.2 0h1.2m4.8 0h1.2m4.8 0h1.2m-147.2 1h1.2m6.8 0h1.2m7.8 0h1.2m1.8 0h1.2m1.8 0h1.2m2.8 0h1.2m0.8 0h1.2m0.8 0h1.2m2.8 0h1.2m1.8 0h1.2m6.8 0h1.2m0.8 0h1.2m0.8 0h1.2m3.8 0h1.2m0.8 0h1.2m-0.2 0h1.2m-0.2 0h1.2m-0.2 0h1.2m33.8 0h1.2m6.8 0h1.2m-0.2 0h1.2m-0.2 0h1.2m-0.2 0h1.2m0.8 0h1.2m-0.2 0h1.2m0.8 0h1.2m12.8 0h1.2m0.8 0h1.2m3.8 0h1.2m0.8 0h1.2m-0.2 0h1.2m0.8 0h1.2m0.8 0h1.2m1.8 0h1.2m14.8 0h1.2m20.8 0h1.2m-173.2 1h1.2m19.8 0h1.2m4.8 0h1.2m-0.2 0h1.2m2.8 0h1.2m0.8 0h1.2m3.8 0h1.2m1.8 0h1.2m-0.2 0h1.2m3.8 0h1.2m0.8 0h1.2m44.8 0h1.2m-0.2 0h1.2m4.8 0h1.2m-0.2 0h1.2m-0.2 0h1.2m2.8 0h1.2m-0.2 0h1.2m3.8 0h1.2m0.8 0h1.2m3.8 0h1.2m1.8 0h1.2m1.8 0h1.2m-0.2 0h1.2m4.8 0h1.2m3.8 0h1.2m4.8 0h1.2m6.8 0h1.2m3.8 0h1.2m-168.2 1h1.2m6.8 0h1.2m3.8 0h1.2m2.8 0h1.2m1.8 0h1.2m7.8 0h1.2m0.8 0h1.2m2.8 0h1.2m-0.2 0h1.2m0.8 0h1.2m2.8 0h1.2m-0.2 0h1.2m2.8 0h1.2m1.8 0h1.2m1.8 0h1.2m0.8 0h1.2m-0.2 0h1.2m-0.2 0h1.2m39.8 0h1.2m2.8 0h1.2m-0.2 0h1.2m0.8 0h1.2m-0.2 0h1.2m0.8 0h1.2m1.8 0h1.2m0.8 0h1.2m-0.2 0h1.2m0.8 0h1.2m1.8 0h1.2m0.8 0h1.2m-0.2 0h1.2m0.8 0h1.2m-0.2 0h1.2m2.8 0h1.2m7.8 0h1.2m5.8 0h1.2m-0.2 0h1.2m7.8 0h1.2m5.8 0h1.2m2.8 0h1.2m-159.2 1h1.2m7.8 0h1.2m1.8 0h1.2m1.8 0h1.2m0.8 0h1.2m2.8 0h1.2m0.8 0h1.2m-0.2 0h1.2m-0.2 0h1.2m1.8 0h1.2m2.8 0h1.2m-0.2 0h1.2m-0.2 0h1.2m-0.2 0h1.2m-0.2 0h1.2m-0.2 0h1.2m-0.2 0h1.2m0.8 0h1.2m1.8 0h1.2m-0.2 0h1.2m-0.2 0h1.2m-0.2 0h1.2m-0.2 0h1.2m0.8 0h1.2m39.8 0h1.2m2.8 0h1.2m1.8 0h1.2m-0.2 0h1.2m4.8 0h1.2m-0.2 0h1.2m4.8 0h1.2m-0.2 0h1.2m-0.2 0h1.2m-0.2 0h1.2m0.8 0h1.2m0.8 0h1.2m5.8 0h1.2m0.8 0h1.2m1.8 0h1.2m-0.2 0h1.2m-0.2 0h1.2m2.8 0h1.2m2.8 0h1.2m10.8 0h1.2m15.8 0h1.2m-170.2 1h1.2m7.8 0h1.2m1.8 0h1.2m1.8 0h1.2m0.8 0h1.2m0.8 0h1.2m0.8 0h1.2m3.8 0h1.2m1.8 0h1.2m-0.2 0h1.2m-0.2 0h1.2m0.8 0h1.2m-0.2 0h1.2m-0.2 0h1.2m0.8 0h1.2m1.8 0h1.2m5.8 0h1.2m-0.2 0h1.2m42.8 0h1.2m0.8 0h1.2m2.8 0h1.2m0.8 0h1.2m-0.2 0h1.2m-0.2 0h1.2m-0.2 0h1.2m-0.2 0h1.2m0.8 0h1.2m1.8 0h1.2m-0.2 0h1.2m-0.2 0h1.2m0.8 0h1.2m1.8 0h1.2m-0.2 0h1.2m2.8 0h1.2m2.8 0h1.2m-0.2 0h1.2m1.8 0h1.2m3.8 0h1.2m0.8 0h1.2m-0.2 0h1.2m7.8 0h1.2m-0.2 0h1.2m-0.2 0h1.2m14.8 0h1.2m-173.2 1h1.2m15.8 0h1.2m1.8 0h1.2m1.8 0h1.2m0.8 0h1.2m0.8 0h1.2m0.8 0h1.2m0.8 0h1.2m2.8 0h1.2m-0.2 0h1.2m-0.2 0h1.2m3.8 0h1.2m-0.2 0h1.2m-0.2 0h1.2m0.8 0h1.2m-0.2 0h1.2m-0.2 0h1.2m-0.2 0h1.2m0.8 0h1.2m0.8 0h1.2m-0.2 0h1.2m47.8 0h1.2m0.8 0h1.2m0.8 0h1.2m0.8 0h1.2m1.8 0h1.2m-0.2 0h1.2m3.8 0h1.2m-0.2 0h1.2m-0.2 0h1.2m0.8 0h1.2m0.8 0h1.2m2.8 0h1.2m2.8 0h1.2m3.8 0h1.2m7.8 0h1.2m0.8 0h1.2m14.8 0h1.2m-165.2 1h1.2m6.8 0h1.2m7.8 0h1.2m1.8 0h1.2m1.8 0h1.2m2.8 0h1.2m0.8 0h1.2m0.8 0h1.2m0.8 0h1.2m2.8 0h1.2m-0.2 0h1.2m0.8 0h1.2m4.8 0h1.2m2.8 0h1.2m48.8 0h1.2m2.8 0h1.2m0.8 0h1.2m0.8 0h1.2m0.8 0h1.2m0.8 0h1.2m10.8 0h1.2m0.8 0h1.2m-0.2 0h1.2m0.8 0h1.2m0.8 0h1.2m-0.2 0h1.2m1.8 0h1.2m1.8 0h1.2m-0.2 0h1.2m1.8 0h1.2m1.8 0h1.2m-0.2 0h1.2m-0.2 0h1.2m-148.2 1h1.2m11.8 0h1.2m2.8 0h1.2m1.8 0h1.2m1.8 0h1.2m0.8 0h1.2m2.8 0h1.2m4.8 0h1.2m1.8 0h1.2m-0.2 0h1.2m-0.2 0h1.2m-0.2 0h1.2m-0.2 0h1.2m0.8 0h1.2m1.8 0h1.2m-0.2 0h1.2m50.8 0h1.2m1.8 0h1.2m-0.2 0h1.2m0.8 0h1.2m0.8 0h1.2m-0.2 0h1.2m0.8 0h1.2m-0.2 0h1.2m0.8 0h1.2m3.8 0h1.2m6.8 0h1.2m-0.2 0h1.2m0.8 0h1.2m4.8 0h1.2m-0.2 0h1.2m3.8 0h1.2m14.8 0h1.2m-151.2 1h1.2m3.8 0h1.2m2.8 0h1.2m1.8 0h1.2m1.8 0h1.2m2.8 0h1.2m0.8 0h1.2m0.8 0h1.2m-0.2 0h1.2m0.8 0h1.2m1.8 0h1.2m0.8 0h1.2m-0.2 0h1.2m-0.2 0h1.2m-0.2 0h1.2m4.8 0h1.2m1.8 0h1.2m48.8 0h1.2m-0.2 0h1.2m1.8 0h1.2m0.8 0h1.2m-0.2 0h1.2m-0.2 0h1.2m-0.2 0h1.2m-0.2 0h1.2m1.8 0h1.2m0.8 0h1.2m-0.2 0h1.2m6.8 0h1.2m0.8 0h1.2m2.8 0h1.2m1.8 0h1.2m8.8 0h1.2m17.8 0h1.2m-151.2 1h1.2m2.8 0h1.2m4.8 0h1.2m0.8 0h1.2m0.8 0h1.2m0.8 0h1.2m0.8 0h1.2m-0.2 0h1.2m-0.2 0h1.2m0.8 0h1.2m-0.2 0h1.2m-0.2 0h1.2m2.8 0h1.2m1.8 0h1.2m54.8 0h1.2m4.8 0h1.2m-0.2 0h1.2m-0.2 0h1.2m-0.2 0h1.2m0.8 0h1.2m-0.2 0h1.2m-0.2 0h1.2m0.8 0h1.2m0.8 0h1.2m0.8 0h1.2m-0.2 0h1.2m5.8 0h1.2m-0.2 0h1.2m5.8 0h1.2m-0.2 0h1.2m-0.2 0h1.2m-0.2 0h1.2m2.8 0h1.2m4.8 0h1.2m-0.2 0h1.2m-0.2 0h1.2m1.8 0h1.2m22.8 0h1.2m-178.2 1h1.2m6.8 0h1.2m3.8 0h1.2m10.8 0h1.2m0.8 0h1.2m0.8 0h1.2m0.8 0h1.2m-0.2 0h1.2m-0.2 0h1.2m-0.2 0h1.2m1.8 0h1.2m0.8 0h1.2m-0.2 0h1.2m7.8 0h1.2m49.8 0h1.2m0.8 0h1.2m-0.2 0h1.2m1.8 0h1.2m-0.2 0h1.2m1.8 0h1.2m-0.2 0h1.2m0.8 0h1.2m1.8 0h1.2m0.8 0h1.2m0.8 0h1.2m-0.2 0h1.2m8.8 0h1.2m9.8 0h1.2m-0.2 0h1.2m2.8 0h1.2m-148.2 1h1.2m11.8 0h1.2m2.8 0h1.2m1.8 0h1.2m1.8 0h1.2m2.8 0h1.2m0.8 0h1.2m0.8 0h1.2m-0.2 0h1.2m-0.2 0h1.2m2.8 0h1.2m-0.2 0h1.2m-0.2 0h1.2m-0.2 0h1.2m8.8 0h1.2m51.8 0h1.2m0.8 0h1.2m0.8 0h1.2m-0.2 0h1.2m3.8 0h1.2m-0.2 0h1.2m-0.2 0h1.2m0.8 0h1.2m6.8 0h1.2m-0.2 0h1.2m2.8 0h1.2m-0.2 0h1.2m8.8 0h1.2m-0.2 0h1.2m0.8 0h1.2m11.8 0h1.2m5.8 0h1.2m-165.2 1h1.2m6.8 0h1.2m10.8 0h1.2m1.8 0h1.2m0.8 0h1.2m2.8 0h1.2m1.8 0h1.2m1.8 0h1.2m66.8 0h1.2m-0.2 0h1.2m-0.2 0h1.2m0.8 0h1.2m0.8 0h1.2m0.8 0h1.2m5.8 0h1.2m1.8 0h1.2m-0.2 0h1.2m-0.2 0h1.2m-0.2 0h1.2m-0.2 0h1.2m-0.2 0h1.2m0.8 0h1.2m1.8 0h1.2m0.8 0h1.2m2.8 0h1.2m1.8 0h1.2m8.8 0h1.2m4.8 0h1.2m-0.2 0h1.2m-158.2 1h1.2m6.8 0h1.2m3.8 0h1.2m2.8 0h1.2m1.8 0h1.2m1.8 0h1.2m4.8 0h1.2m0.8 0h1.2m1.8 0h1.2m-0.2 0h1.2m1.8 0h1.2m-0.2 0h1.2m61.8 0h1.2m0.8 0h1.2m1.8 0h1.2m-0.2 0h1.2m-0.2 0h1.2m2.8 0h1.2m-0.2 0h1.2m-0.2 0h1.2m1.8 0h1.2m0.8 0h1.2m3.8 0h1.2m0.8 0h1.2m4.8 0h1.2m10.8 0h1.2m0.8 0h1.2m1.8 0h1.2m3.8 0h1.2m-156.2 1h1.2m6.8 0h1.2m3.8 0h1.2m2.8 0h1.2m1.8 0h1.2m1.8 0h1.2m0.8 0h1.2m2.8 0h1.2m2.8 0h1.2m-0.2 0h1.2m-0.2 0h1.2m0.8 0h1.2m-0.2 0h1.2m60.8 0h1.2m0.8 0h1.2m-0.2 0h1.2m4.8 0h1.2m0.8 0h1.2m3.8 0h1.2m-0.2 0h1.2m-0.2 0h1.2m1.8 0h1.2m1.8 0h1.2m0.8 0h1.2m3.8 0h1.2m1.8 0h1.2m-0.2 0h1.2m2.8 0h1.2m7.8 0h1.2m6.8 0h1.2m-157.2 1h1.2m6.8 0h1.2m3.8 0h1.2m2.8 0h1.2m1.8 0h1.2m1.8 0h1.2m0.8 0h1.2m0.8 0h1.2m0.8 0h1.2m0.8 0h1.2m-0.2 0h1.2m0.8 0h1.2m-0.2 0h1.2m-0.2 0h1.2m59.8 0h1.2m4.8 0h1.2m-0.2 0h1.2m-0.2 0h1.2m0.8 0h1.2m1.8 0h1.2m-0.2 0h1.2m0.8 0h1.2m0.8 0h1.2m-0.2 0h1.2m0.8 0h1.2m1.8 0h1.2m3.8 0h1.2m9.8 0h1.2m5.8 0h1.2m-145.2 1h1.2m6.8 0h1.2m3.8 0h1.2m2.8 0h1.2m1.8 0h1.2m1.8 0h1.2m0.8 0h1.2m0.8 0h1.2m0.8 0h1.2m0.8 0h1.2m-0.2 0h1.2m0.8 0h1.2m1.8 0h1.2m-0.2 0h1.2m58.8 0h1.2m2.8 0h1.2m-0.2 0h1.2m0.8 0h1.2m-0.2 0h1.2m-0.2 0h1.2m1.8 0h1.2m0.8 0h1.2m3.8 0h1.2m-0.2 0h1.2m4.8 0h1.2m6.8 0h1.2m1.8 0h1.2m0.8 0h1.2m0.8 0h1.2m-0.2 0h1.2m1.8 0h1.2m6.8 0h1.2m3.8 0h1.2m2.8 0h1.2m-161.2 1h1.2m6.8 0h1.2m3.8 0h1.2m2.8 0h1.2m1.8 0h1.2m1.8 0h1.2m0.8 0h1.2m0.8 0h1.2m0.8 0h1.2m0.8 0h1.2m-0.2 0h1.2m-0.2 0h1.2m-0.2 0h1.2m2.8 0h1.2m56.8 0h1.2m2.8 0h1.2m-0.2 0h1.2m-0.2 0h1.2m-0.2 0h1.2m0.8 0h1.2m0.8 0h1.2m2.8 0h1.2m-0.2 0h1.2m2.8 0h1.2m0.8 0h1.2m5.8 0h1.2m-0.2 0h1.2m1.8 0h1.2m-0.2 0h1.2m1.8 0h1.2m3.8 0h1.2m4.8 0h1.2m10.8 0h1.2m-157.2 1h1.2m6.8 0h1.2m3.8 0h1.2m2.8 0h1.2m1.8 0h1.2m1.8 0h1.2m0.8 0h1.2m0.8 0h1.2m2.8 0h1.2m-0.2 0h1.2m-0.2 0h1.2m1.8 0h1.2m2.8 0h1.2m55.8 0h1.2m2.8 0h1.2m0.8 0h1.2m1.8 0h1.2m-0.2 0h1.2m2.8 0h1.2m-0.2 0h1.2m0.8 0h1.2m0.8 0h1.2m9.8 0h1.2m1.8 0h1.2m16.8 0h1.2m-0.2 0h1.2m18.8 0h1.2m-157.2 1h1.2m2.8 0h1.2m1.8 0h1.2m1.8 0h1.2m0.8 0h1.2m2.8 0h1.2m0.8 0h1.2m-0.2 0h1.2m0.8 0h1.2m-0.2 0h1.2m0.8 0h1.2m-0.2 0h1.2m0.8 0h1.2m54.8 0h1.2m1.8 0h1.2m0.8 0h1.2m-0.2 0h1.2m0.8 0h1.2m-0.2 0h1.2m0.8 0h1.2m5.8 0h1.2m-0.2 0h1.2m1.8 0h1.2m6.8 0h1.2m0.8 0h1.2m-0.2 0h1.2m-0.2 0h1.2m6.8 0h1.2m5.8 0h1.2m4.8 0h1.2m2.8 0h1.2m-156.2 1h1.2m6.8 0h1.2m3.8 0h1.2m5.8 0h1.2m3.8 0h1.2m0.8 0h1.2m0.8 0h1.2m0.8 0h1.2m3.8 0h1.2m-0.2 0h1.2m-0.2 0h1.2m0.8 0h1.2m50.8 0h1.2m0.8 0h1.2m1.8 0h1.2m-0.2 0h1.2m-0.2 0h1.2m2.8 0h1.2m5.8 0h1.2m-0.2 0h1.2m2.8 0h1.2m0.8 0h1.2m0.8 0h1.2m8.8 0h1.2m6.8 0h1.2m-0.2 0h1.2m1.8 0h1.2m15.8 0h1.2m-159.2 1h1.2m6.8 0h1.2m3.8 0h1.2m8.8 0h1.2m0.8 0h1.2m0.8 0h1.2m0.8 0h1.2m1.8 0h1.2m-0.2 0h1.2m-0.2 0h1.2m-0.2 0h1.2m0.8 0h1.2m-0.2 0h1.2m-0.2 0h1.2m54.8 0h1.2m1.8 0h1.2m-0.2 0h1.2m-0.2 0h1.2m1.8 0h1.2m1.8 0h1.2m-0.2 0h1.2m2.8 0h1.2m4.8 0h1.2m1.8 0h1.2m0.8 0h1.2m1.8 0h1.2m0.8 0h1.2m11.8 0h1.2m-0.2 0h1.2m-129.2 1h1.2m2.8 0h1.2m1.8 0h1.2m1.8 0h1.2m0.8 0h1.2m5.8 0h1.2m3.8 0h1.2m-0.2 0h1.2m54.8 0h1.2m0.8 0h1.2m5.8 0h1.2m24.8 0h1.2m14.8 0h1.2m7.8 0h1.2m-155.2 1h1.2m6.8 0h1.2m3.8 0h1.2m2.8 0h1.2m1.8 0h1.2m1.8 0h1.2m0.8 0h1.2m0.8 0h1.2m0.8 0h1.2m1.8 0h1.2m0.8 0h1.2m6.8 0h1.2m50.8 0h1.2m-0.2 0h1.2m-0.2 0h1.2m0.8 0h1.2m-0.2 0h1.2m-0.2 0h1.2m-0.2 0h1.2m5.8 0h1.2m-0.2 0h1.2m5.8 0h1.2m4.8 0h1.2m2.8 0h1.2m7.8 0h1.2m7.8 0h1.2m0.8 0h1.2m-0.2 0h1.2m-0.2 0h1.2m31.8 0h1.2m-182.2 1h1.2m6.8 0h1.2m7.8 0h1.2m1.8 0h1.2m1.8 0h1.2m0.8 0h1.2m0.8 0h1.2m0.8 0h1.2m0.8 0h1.2m-0.2 0h1.2m-0.2 0h1.2m0.8 0h1.2m1.8 0h1.2m-0.2 0h1.2m0.8 0h1.2m47.8 0h1.2m-0.2 0h1.2m0.8 0h1.2m-0.2 0h1.2m0.8 0h1.2m-0.2 0h1.2m0.8 0h1.2m0.8 0h1.2m1.8 0h1.2m0.8 0h1.2m6.8 0h1.2m0.8 0h1.2m1.8 0h1.2m5.8 0h1.2m-127.2 1h1.2m6.8 0h1.2m3.8 0h1.2m2.8 0h1.2m6.8 0h1.2m0.8 0h1.2m0.8 0h1.2m0.8 0h1.2m0.8 0h1.2m-0.2 0h1.2m1.8 0h1.2m53.8 0h1.2m0.8 0h1.2m-0.2 0h1.2m1.8 0h1.2m-0.2 0h1.2m0.8 0h1.2m3.8 0h1.2m4.8 0h1.2m7.8 0h1.2m9.8 0h1.2m11.8 0h1.2m4.8 0h1.2m23.8 0h1.2m-177.2 1h1.2m6.8 0h1.2m7.8 0h1.2m6.8 0h1.2m0.8 0h1.2m2.8 0h1.2m-0.2 0h1.2m0.8 0h1.2m1.8 0h1.2m-0.2 0h1.2m50.8 0h1.2m-0.2 0h1.2m0.8 0h1.2m-0.2 0h1.2m-0.2 0h1.2m2.8 0h1.2m2.8 0h1.2m0.8 0h1.2m-0.2 0h1.2m-0.2 0h1.2m1.8 0h1.2m-0.2 0h1.2m-0.2 0h1.2m-0.2 0h1.2m1.8 0h1.2m5.8 0h1.2m18.8 0h1.2m-144.2 1h1.2m11.8 0h1.2m5.8 0h1.2m1.8 0h1.2m0.8 0h1.2m0.8 0h1.2m2.8 0h1.2m0.8 0h1.2m3.8 0h1.2m0.8 0h1.2m49.8 0h1.2m0.8 0h1.2m-0.2 0h1.2m0.8 0h1.2m0.8 0h1.2m-0.2 0h1.2m-0.2 0h1.2m1.8 0h1.2m0.8 0h1.2m5.8 0h1.2m3.8 0h1.2m-0.2 0h1.2m15.8 0h1.2m1.8 0h1.2m1.8 0h1.2m0.8 0h1.2m7.8 0h1.2m-153.2 1h1.2m6.8 0h1.2m3.8 0h1.2m2.8 0h1.2m1.8 0h1.2m1.8 0h1.2m2.8 0h1.2m0.8 0h1.2m1.8 0h1.2m-0.2 0h1.2m0.8 0h1.2m-0.2 0h1.2m-0.2 0h1.2m-0.2 0h1.2m-0.2 0h1.2m1.8 0h1.2m-0.2 0h1.2m0.8 0h1.2m43.8 0h1.2m1.8 0h1.2m-0.2 0h1.2m-0.2 0h1.2m7.8 0h1.2m1.8 0h1.2m0.8 0h1.2m0.8 0h1.2m-0.2 0h1.2m6.8 0h1.2m23.8 0h1.2m-146.2 1h1.2m15.8 0h1.2m1.8 0h1.2m5.8 0h1.2m2.8 0h1.2m-0.2 0h1.2m1.8 0h1.2m0.8 0h1.2m-0.2 0h1.2m-0.2 0h1.2m-0.2 0h1.2m47.8 0h1.2m-0.2 0h1.2m-0.2 0h1.2m1.8 0h1.2m-0.2 0h1.2m12.8 0h1.2m1.8 0h1.2m8.8 0h1.2m18.8 0h1.2m0.8 0h1.2m6.8 0h1.2m-145.2 1h1.2m7.8 0h1.2m1.8 0h1.2m1.8 0h1.2m0.8 0h1.2m0.8 0h1.2m11.8 0h1.2m0.8 0h1.2m-0.2 0h1.2m-0.2 0h1.2m1.8 0h1.2m39.8 0h1.2m0.8 0h1.2m-0.2 0h1.2m-0.2 0h1.2m-0.2 0h1.2m0.8 0h1.2m1.8 0h1.2m3.8 0h1.2m4.8 0h1.2m-0.2 0h1.2m1.8 0h1.2m-0.2 0h1.2m1.8 0h1.2m8.8 0h1.2m10.8 0h1.2m10.8 0h1.2m-144.2 1h1.2m10.8 0h1.2m5.8 0h1.2m0.8 0h1.2m0.8 0h1.2m0.8 0h1.2m0.8 0h1.2m0.8 0h1.2m-0.2 0h1.2m0.8 0h1.2m1.8 0h1.2m0.8 0h1.2m-0.2 0h1.2m0.8 0h1.2m-0.2 0h1.2m35.8 0h1.2m0.8 0h1.2m0.8 0h1.2m-0.2 0h1.2m1.8 0h1.2m2.8 0h1.2m0.8 0h1.2m6.8 0h1.2m4.8 0h1.2m6.8 0h1.2m-123.2 1h1.2m6.8 0h1.2m7.8 0h1.2m1.8 0h1.2m1.8 0h1.2m8.8 0h1.2m0.8 0h1.2m2.8 0h1.2m-0.2 0h1.2m0.8 0h1.2m0.8 0h1.2m-0.2 0h1.2m-0.2 0h1.2m0.8 0h1.2m32.8 0h1.2m1.8 0h1.2m-0.2 0h1.2m0.8 0h1.2m-0.2 0h1.2m-0.2 0h1.2m-0.2 0h1.2m-0.2 0h1.2m9.8 0h1.2m1.8 0h1.2m7.8 0h1.2m0.8 0h1.2m5.8 0h1.2m-112.2 1h1.2m12.8 0h1.2m3.8 0h1.2m0.8 0h1.2m-0.2 0h1.2m-0.2 0h1.2m3.8 0h1.2m0.8 0h1.2m-0.2 0h1.2m-0.2 0h1.2m-0.2 0h1.2m2.8 0h1.2m31.8 0h1.2m1.8 0h1.2m0.8 0h1.2m0.8 0h1.2m-0.2 0h1.2m-0.2 0h1.2m-0.2 0h1.2m0.8 0h1.2m0.8 0h1.2m-0.2 0h1.2m-0.2 0h1.2m4.8 0h1.2m20.8 0h1.2m-99.2 1h1.2m2.8 0h1.2m3.8 0h1.2m-0.2 0h1.2m3.8 0h1.2m-0.2 0h1.2m6.8 0h1.2m0.8 0h1.2m20.8 0h1.2m2.8 0h1.2m2.8 0h1.2m-0.2 0h1.2m-0.2 0h1.2m-0.2 0h1.2m0.8 0h1.2m5.8 0h1.2m4.8 0h1.2m5.8 0h1.2m1.8 0h1.2m17.8 0h1.2m-116.2 1h1.2m4.8 0h1.2m0.8 0h1.2m0.8 0h1.2m3.8 0h1.2m-0.2 0h1.2m0.8 0h1.2m1.8 0h1.2m-0.2 0h1.2m-0.2 0h1.2m-0.2 0h1.2m0.8 0h1.2m-0.2 0h1.2m1.8 0h1.2m-0.2 0h1.2m26.8 0h1.2m1.8 0h1.2m0.8 0h1.2m0.8 0h1.2m-0.2 0h1.2m-0.2 0h1.2m1.8 0h1.2m1.8 0h1.2m2.8 0h1.2m9.8 0h1.2m33.8 0h1.2m-142.2 1h1.2m11.8 0h1.2m2.8 0h1.2m12.8 0h1.2m6.8 0h1.2m-0.2 0h1.2m2.8 0h1.2m0.8 0h1.2m0.8 0h1.2m2.8 0h1.2m20.8 0h1.2m-0.2 0h1.2m1.8 0h1.2m2.8 0h1.2m0.8 0h1.2m1.8 0h1.2m5.8 0h1.2m-0.2 0h1.2m-0.2 0h1.2m2.8 0h1.2m10.8 0h1.2m0.8 0h1.2m9.8 0h1.2m3.8 0h1.2m35.8 0h1.2m-151.2 1h1.2m10.8 0h1.2m0.8 0h1.2m1.8 0h1.2m-0.2 0h1.2m-0.2 0h1.2m0.8 0h1.2m-0.2 0h1.2m0.8 0h1.2m-0.2 0h1.2m-0.2 0h1.2m0.8 0h1.2m2.8 0h1.2m2.8 0h1.2m3.8 0h1.2m16.8 0h1.2m-0.2 0h1.2m-0.2 0h1.2m1.8 0h1.2m-0.2 0h1.2m-0.2 0h1.2m-0.2 0h1.2m1.8 0h1.2m-0.2 0h1.2m0.8 0h1.2m-0.2 0h1.2m0.8 0h1.2m-0.2 0h1.2m17.8 0h1.2m10.8 0h1.2m4.8 0h1.2m19.8 0h1.2m-133.2 1h1.2m1.8 0h1.2m2.8 0h1.2m6.8 0h1.2m2.8 0h1.2m2.8 0h1.2m1.8 0h1.2m-0.2 0h1.2m-0.2 0h1.2m-0.2 0h1.2m-0.2 0h1.2m-0.2 0h1.2m27.8 0h1.2m-0.2 0h1.2m0.8 0h1.2m-0.2 0h1.2m-0.2 0h1.2m0.8 0h1.2m-0.2 0h1.2m9.8 0h1.2m6.8 0h1.2m5.8 0h1.2m16.8 0h1.2m-125.2 1h1.2m22.8 0h1.2m8.8 0h1.2m0.8 0h1.2m-0.2 0h1.2m-0.2 0h1.2m0.8 0h1.2m-0.2 0h1.2m0.8 0h1.2m-0.2 0h1.2m0.8 0h1.2m0.8 0h1.2m3.8 0h1.2m15.8 0h1.2m-0.2 0h1.2m-0.2 0h1.2m3.8 0h1.2m-0.2 0h1.2m-0.2 0h1.2m-0.2 0h1.2m-0.2 0h1.2m0.8 0h1.2m-0.2 0h1.2m-0.2 0h1.2m2.8 0h1.2m4.8 0h1.2m20.8 0h1.2m-95.2 1h1.2m1.8 0h1.2m6.8 0h1.2m-0.2 0h1.2m1.8 0h1.2m0.8 0h1.2m1.8 0h1.2m4.8 0h1.2m16.8 0h1.2m1.8 0h1.2m3.8 0h1.2m-0.2 0h1.2m-0.2 0h1.2m1.8 0h1.2m0.8 0h1.2m0.8 0h1.2m9.8 0h1.2m0.8 0h1.2m7.8 0h1.2m36.8 0h1.2m-136.2 1h1.2m1.8 0h1.2m21.8 0h1.2m0.8 0h1.2m0.8 0h1.2m-0.2 0h1.2m0.8 0h1.2m0.8 0h1.2m-0.2 0h1.2m-0.2 0h1.2m-0.2 0h1.2m-0.2 0h1.2m0.8 0h1.2m-0.2 0h1.2m0.8 0h1.2m-0.2 0h1.2m0.8 0h1.2m7.8 0h1.2m0.8 0h1.2m-0.2 0h1.2m1.8 0h1.2m-0.2 0h1.2m-0.2 0h1.2m-0.2 0h1.2m-0.2 0h1.2m0.8 0h1.2m2.8 0h1.2m0.8 0h1.2m-0.2 0h1.2m1.8 0h1.2m5.8 0h1.2m-0.2 0h1.2m3.8 0h1.2m-96.2 1h1.2m5.8 0h1.2m5.8 0h1.2m3.8 0h1.2m2.8 0h1.2m3.8 0h1.2m1.8 0h1.2m-0.2 0h1.2m6.8 0h1.2m1.8 0h1.2m-0.2 0h1.2m3.8 0h1.2m7.8 0h1.2m4.8 0h1.2m-0.2 0h1.2m2.8 0h1.2m-0.2 0h1.2m4.8 0h1.2m-0.2 0h1.2m1.8 0h1.2m-0.2 0h1.2m9.8 0h1.2m42.8 0h1.2m-116.2 1h1.2m2.8 0h1.2m2.8 0h1.2m-0.2 0h1.2m3.8 0h1.2m-0.2 0h1.2m2.8 0h1.2m2.8 0h1.2m0.8 0h1.2m0.8 0h1.2m3.8 0h1.2m-0.2 0h1.2m3.8 0h1.2m0.8 0h1.2m-0.2 0h1.2m0.8 0h1.2m0.8 0h1.2m-0.2 0h1.2m0.8 0h1.2m0.8 0h1.2m-0.2 0h1.2m1.8 0h1.2m2.8 0h1.2m9.8 0h1.2m34.8 0h1.2m32.8 0h1.2m-166.2 1h1.2m13.8 0h1.2m2.8 0h1.2m12.8 0h1.2m0.8 0h1.2m5.8 0h1.2m4.8 0h1.2m-0.2 0h1.2m1.8 0h1.2m-0.2 0h1.2m0.8 0h1.2m0.8 0h1.2m-0.2 0h1.2m3.8 0h1.2m-0.2 0h1.2m0.8 0h1.2m-0.2 0h1.2m3.8 0h1.2m0.8 0h1.2m-0.2 0h1.2m-0.2 0h1.2m-0.2 0h1.2m3.8 0h1.2m2.8 0h1.2m47.8 0h1.2m-124.2 1h1.2m1.8 0h1.2m2.8 0h1.2m12.8 0h1.2m0.8 0h1.2m2.8 0h1.2m1.8 0h1.2m3.8 0h1.2m-0.2 0h1.2m-0.2 0h1.2m-0.2 0h1.2m-0.2 0h1.2m0.8 0h1.2m-0.2 0h1.2m5.8 0h1.2m0.8 0h1.2m-0.2 0h1.2m-0.2 0h1.2m-0.2 0h1.2m-0.2 0h1.2m-0.2 0h1.2m-0.2 0h1.2m1.8 0h1.2m1.8 0h1.2m0.8 0h1.2m-0.2 0h1.2m1.8 0h1.2m2.8 0h1.2m-0.2 0h1.2m-0.2 0h1.2m2.8 0h1.2m1.8 0h1.2m0.8 0h1.2m12.8 0h1.2m-83.2 1h1.2m4.8 0h1.2m-0.2 0h1.2m-0.2 0h1.2m-0.2 0h1.2m0.8 0h1.2m-0.2 0h1.2m3.8 0h1.2m0.8 0h1.2m0.8 0h1.2m-0.2 0h1.2m0.8 0h1.2m-0.2 0h1.2m-0.2 0h1.2m1.8 0h1.2m-0.2 0h1.2m-0.2 0h1.2m-0.2 0h1.2m-0.2 0h1.2m-0.2 0h1.2m0.8 0h1.2m-0.2 0h1.2m-0.2 0h1.2m-0.2 0h1.2m0.8 0h1.2m1.8 0h1.2m0.8 0h1.2m1.8 0h1.2m-0.2 0h1.2m-0.2 0h1.2m-0.2 0h1.2m-0.2 0h1.2m0.8 0h1.2m-0.2 0h1.2m7.8 0h1.2m21.8 0h1.2m-108.2 1h1.2m10.8 0h1.2m3.8 0h1.2m-0.2 0h1.2m-0.2 0h1.2m6.8 0h1.2m1.8 0h1.2m0.8 0h1.2m-0.2 0h1.2m3.8 0h1.2m-0.2 0h1.2m0.8 0h1.2m1.8 0h1.2m-0.2 0h1.2m1.8 0h1.2m0.8 0h1.2m-0.2 0h1.2m-0.2 0h1.2m0.8 0h1.2m2.8 0h1.2m-0.2 0h1.2m2.8 0h1.2m1.8 0h1.2m3.8 0h1.2m-0.2 0h1.2m0.8 0h1.2m-0.2 0h1.2m26.8 0h1.2m4.8 0h1.2m6.8 0h1.2m13.8 0h1.2m-121.2 1h1.2m1.8 0h1.2m-0.2 0h1.2m5.8 0h1.2m2.8 0h1.2m1.8 0h1.2m-0.2 0h1.2m2.8 0h1.2m2.8 0h1.2m-0.2 0h1.2m0.8 0h1.2m-0.2 0h1.2m-0.2 0h1.2m1.8 0h1.2m-0.2 0h1.2m0.8 0h1.2m0.8 0h1.2m-0.2 0h1.2m0.8 0h1.2m-0.2 0h1.2m-0.2 0h1.2m0.8 0h1.2m3.8 0h1.2m2.8 0h1.2m-0.2 0h1.2m2.8 0h1.2m2.8 0h1.2m6.8 0h1.2m10.8 0h1.2m1.8 0h1.2m3.8 0h1.2m1.8 0h1.2m-101.2 1h1.2m4.8 0h1.2m0.8 0h1.2m5.8 0h1.2m0.8 0h1.2m4.8 0h1.2m4.8 0h1.2m1.8 0h1.2m-0.2 0h1.2m0.8 0h1.2m2.8 0h1.2m3.8 0h1.2m0.8 0h1.2m-0.2 0h1.2m1.8 0h1.2m0.8 0h1.2m1.8 0h1.2m0.8 0h1.2m1.8 0h1.2m0.8 0h1.2m30.8 0h1.2m12.8 0h1.2m-96.2 1h1.2m3.8 0h1.2m-0.2 0h1.2m6.8 0h1.2m2.8 0h1.2m-0.2 0h1.2m3.8 0h1.2m-0.2 0h1.2m2.8 0h1.2m5.8 0h1.2m2.8 0h1.2m0.8 0h1.2m0.8 0h1.2m3.8 0h1.2m2.8 0h1.2m0.8 0h1.2m17.8 0h1.2m25.8 0h1.2m-113.2 1h1.2m15.8 0h1.2m1.8 0h1.2m5.8 0h1.2m4.8 0h1.2m-0.2 0h1.2m-0.2 0h1.2m-0.2 0h1.2m2.8 0h1.2m-0.2 0h1.2m1.8 0h1.2m1.8 0h1.2m1.8 0h1.2m0.8 0h1.2m0.8 0h1.2m0.8 0h1.2m0.8 0h1.2m-0.2 0h1.2m-0.2 0h1.2m-0.2 0h1.2m1.8 0h1.2m3.8 0h1.2m1.8 0h1.2m-0.2 0h1.2m11.8 0h1.2m-71.2 1h1.2m3.8 0h1.2m-0.2 0h1.2m1.8 0h1.2m0.8 0h1.2m0.8 0h1.2m0.8 0h1.2m-0.2 0h1.2m2.8 0h1.2m-0.2 0h1.2m1.8 0h1.2m-0.2 0h1.2m-0.2 0h1.2m-0.2 0h1.2m1.8 0h1.2m-0.2 0h1.2m-0.2 0h1.2m0.8 0h1.2m0.8 0h1.2m4.8 0h1.2m0.8 0h1.2m1.8 0h1.2m-0.2 0h1.2m-0.2 0h1.2m11.8 0h1.2m12.8 0h1.2m40.8 0h1.2m-123.2 1h1.2m1.8 0h1.2m0.8 0h1.2m2.8 0h1.2m0.8 0h1.2m0.8 0h1.2m0.8 0h1.2m6.8 0h1.2m-0.2 0h1.2m1.8 0h1.2m1.8 0h1.2m-0.2 0h1.2m-0.2 0h1.2m1.8 0h1.2m-0.2 0h1.2m0.8 0h1.2m0.8 0h1.2m4.8 0h1.2m-0.2 0h1.2m-0.2 0h1.2m2.8 0h1.2m1.8 0h1.2m-63.2 1h1.2m8.8 0h1.2m3.8 0h1.2m-0.2 0h1.2m12.8 0h1.2m1.8 0h1.2m0.8 0h1.2m2.8 0h1.2m1.8 0h1.2m2.8 0h1.2m-0.2 0h1.2m-0.2 0h1.2m0.8 0h1.2m-0.2 0h1.2m0.8 0h1.2m1.8 0h1.2m-0.2 0h1.2m-0.2 0h1.2m22.8 0h1.2m3.8 0h1.2m8.8 0h1.2m-93.2 1h1.2m5.8 0h1.2m-0.2 0h1.2m-0.2 0h1.2m1.8 0h1.2m14.8 0h1.2m1.8 0h1.2m-0.2 0h1.2m-0.2 0h1.2m-0.2 0h1.2m-0.2 0h1.2m4.8 0h1.2m1.8 0h1.2m0.8 0h1.2m0.8 0h1.2m0.8 0h1.2m-0.2 0h1.2m0.8 0h1.2m-0.2 0h1.2m1.8 0h1.2m0.8 0h1.2m42.8 0h1.2m4.8 0h1.2m-124.2 1h1.2m7.8 0h1.2m9.8 0h1.2m3.8 0h1.2m6.8 0h1.2m-0.2 0h1.2m-0.2 0h1.2m1.8 0h1.2m1.8 0h1.2m0.8 0h1.2m-0.2 0h1.2m0.8 0h1.2m13.8 0h1.2m-0.2 0h1.2m-0.2 0h1.2m7.8 0h1.2m10.8 0h1.2m-60.2 1h1.2m1.8 0h1.2m-0.2 0h1.2m0.8 0h1.2m4.8 0h1.2m0.8 0h1.2m3.8 0h1.2m-0.2 0h1.2m-0.2 0h1.2m2.8 0h1.2m-0.2 0h1.2m0.8 0h1.2m-0.2 0h1.2m1.8 0h1.2m1.8 0h1.2m-0.2 0h1.2m2.8 0h1.2m2.8 0h1.2m4.8 0h1.2m0.8 0h1.2m49.8 0h1.2m12.8 0h1.2m-125.2 1h1.2m7.8 0h1.2m1.8 0h1.2m2.8 0h1.2m8.8 0h1.2m-0.2 0h1.2m2.8 0h1.2m2.8 0h1.2m-0.2 0h1.2m6.8 0h1.2m7.8 0h1.2m2.8 0h1.2m-74.2 1h1.2m6.8 0h1.2m11.8 0h1.2m-0.2 0h1.2m0.8 0h1.2m11.8 0h1.2m1.8 0h1.2m-0.2 0h1.2m-0.2 0h1.2m0.8 0h1.2m-0.2 0h1.2m-0.2 0h1.2m-0.2 0h1.2m-0.2 0h1.2m1.8 0h1.2m0.8 0h1.2m0.8 0h1.2m-0.2 0h1.2m-0.2 0h1.2m43.8 0h1.2m3.8 0h1.2m-113.2 1h1.2m23.8 0h1.2m-0.2 0h1.2m0.8 0h1.2m3.8 0h1.2m-0.2 0h1.2m6.8 0h1.2m8.8 0h1.2m-0.2 0h1.2m-0.2 0h1.2m3.8 0h1.2m-0.2 0h1.2m-0.2 0h1.2m1.8 0h1.2m1.8 0h1.2m24.8 0h1.2m7.8 0h1.2m21.8 0h1.2m37.8 0h1.2m-145.2 1h1.2m0.8 0h1.2m4.8 0h1.2m1.8 0h1.2m1.8 0h1.2m1.8 0h1.2m-0.2 0h1.2m-0.2 0h1.2m2.8 0h1.2m1.8 0h1.2m-0.2 0h1.2m-0.2 0h1.2m4.8 0h1.2m1.8 0h1.2m-0.2 0h1.2m-0.2 0h1.2m2.8 0h1.2m13.8 0h1.2m26.8 0h1.2m-96.2 1h1.2m2.8 0h1.2m18.8 0h1.2m5.8 0h1.2m1.8 0h1.2m-0.2 0h1.2m0.8 0h1.2m-0.2 0h1.2m1.8 0h1.2m-0.2 0h1.2m2.8 0h1.2m-0.2 0h1.2m4.8 0h1.2m-0.2 0h1.2m-0.2 0h1.2m7.8 0h1.2m-45.2 1h1.2m-0.2 0h1.2m1.8 0h1.2m2.8 0h1.2m1.8 0h1.2m3.8 0h1.2m6.8 0h1.2m0.8 0h1.2m4.8 0h1.2m-0.2 0h1.2m0.8 0h1.2m-0.2 0h1.2m7.8 0h1.2m42.8 0h1.2m2.8 0h1.2m-83.2 1h1.2m2.8 0h1.2m1.8 0h1.2m-0.2 0h1.2m0.8 0h1.2m-0.2 0h1.2m1.8 0h1.2m1.8 0h1.2m0.8 0h1.2m1.8 0h1.2m2.8 0h1.2m0.8 0h1.2m6.8 0h1.2m-50.2 1h1.2m3.8 0h1.2m0.8 0h1.2m2.8 0h1.2m3.8 0h1.2m0.8 0h1.2m5.8 0h1.2m3.8 0h1.2m0.8 0h1.2m1.8 0h1.2m4.8 0h1.2m0.8 0h1.2m10.8 0h1.2m-53.2 1h1.2m0.8 0h1.2m2.8 0h1.2m0.8 0h1.2m0.8 0h1.2m1.8 0h1.2m0.8 0h1.2m7.8 0h1.2m2.8 0h1.2m-0.2 0h1.2m0.8 0h1.2m25.8 0h1.2m6.8 0h1.2m-83.2 1h1.2m2.8 0h1.2m7.8 0h1.2m-0.2 0h1.2m7.8 0h1.2m-0.2 0h1.2m0.8 0h1.2m6.8 0h1.2m1.8 0h1.2m-0.2 0h1.2m3.8 0h1.2m18.8 0h1.2m-92.2 1h1.2m13.8 0h1.2m27.8 0h1.2m0.8 0h1.2m3.8 0h1.2m1.8 0h1.2m0.8 0h1.2m-0.2 0h1.2m1.8 0h1.2m6.8 0h1.2m6.8 0h1.2m3.8 0h1.2m1.8 0h1.2m-44.2 1h1.2m8.8 0h1.2m2.8 0h1.2m1.8 0h1.2m-0.2 0h1.2m5.8 0h1.2m2.8 0h1.2m8.8 0h1.2m-0.2 0h1.2m2.8 0h1.2m34.8 0h1.2m-88.2 1h1.2m3.8 0h1.2m0.8 0h1.2m3.8 0h1.2m7.8 0h1.2m2.8 0h1.2m5.8 0h1.2m7.8 0h1.2m0.8 0h1.2m-0.2 0h1.2m-0.2 0h1.2m15.8 0h1.2m-60.2 1h1.2m12.8 0h1.2m-0.2 0h1.2m5.8 0h1.2m-0.2 0h1.2m-0.2 0h1.2m1.8 0h1.2m-0.2 0h1.2m22.8 0h1.2m-0.2 0h1.2m-49.2 1h1.2m20.8 0h1.2m-0.2 0h1.2m4.8 0h1.2m1.8 0h1.2m17.8 0h1.2m0.8 0h1.2m-53.2 1h1.2m3.8 0h1.2m4.8 0h1.2m1.8 0h1.2m-0.2 0h1.2m-0.2 0h1.2m-0.2 0h1.2m2.8 0h1.2m19.8 0h1.2m-40.2 1h1.2m3.8 0h1.2m4.8 0h1.2m0.8 0h1.2m-0.2 0h1.2m0.8 0h1.2m-0.2 0h1.2m4.8 0h1.2m6.8 0h1.2m6.8 0h1.2m-0.2 0h1.2m-62.2 1h1.2m12.8 0h1.2m10.8 0h1.2m-0.2 0h1.2m12.8 0h1.2m10.8 0h1.2m0.8 0h1.2m9.8 0h1.2m44.8 0h1.2m-111.2 1h1.2m9.8 0h1.2m4.8 0h1.2m1.8 0h1.2m8.8 0h1.2m3.8 0h1.2m-31.2 1h1.2m9.8 0h1.2m9.8 0h1.2m0.8 0h1.2m0.8 0h1.2m5.8 0h1.2m0.8 0h1.2m2.8 0h1.2m3.8 0h1.2m-19.2 1h1.2m-20.2 1h1.2m1.8 0h1.2m9.8 0h1.2m4.8 0h1.2m14.8 0h1.2m0.8 0h1.2m44.8 0h1.2m-95.2 1h1.2m14.8 0h1.2m9.8 0h1.2m3.8 0h1.2m38.8 0h1.2m26.8 0h1.2m-70.2 1h1.2m15.8 0h1.2m-27.2 1h1.2m32.8 0h1.2m9.8 0h1.2m-41.2 1h1.2m1.8 0h1.2m11.8 0h1.2m2.8 0h1.2m7.8 0h1.2m68.8 0h1.2m-85.2 1h1.2m15.8 0h1.2m-30.2 1h1.2m3.8 0h1.2m58.8 0h1.2m-89.2 1h1.2m33.8 0h1.2m0.8 0h1.2m-5.2 1h1.2m8.8 0h1.2m14.8 0h1.2m40.8 0h1.2m-75.2 1h1.2m-30.2 1h1.2m22.8 0h1.2m6.8 0h1.2m6.8 0h1.2m6.8 0h1.2m-43.2 1h1.2m41.8 0h1.2m24.8 0h1.2m-51.2 1h1.2m16.8 0h1.2m26.8 0h1.2" stroke="#0000ff" stroke-width="1.25"/>
<path d="M564 2246.0h1.2m0.8 0h1.2m-8.2 1h1.2m1.8 0h1.2m0.8 0h1.2m-0.2 0h1.2m-0.2 0h1.2m2.8 0h1.2m4.8 0h1.2m-21.2 1h1.2m2.8 0h1.2m-0.2 0h1.2m-0.2 0h1.2m0.8 0h1.2m0.8 0h1.2m-0.2 0h1.2m0.8 0h1.2m4.8 0h1.2m-0.2 0h1.2m-20.2 1h1.2m-0.2 0h1.2m-0.2 0h1.2m0.8 0h1.2m-0.2 0h1.2m-0.2 0h1.2m-0.2 0h1.2m1.8 0h1.2m2.8 0h1.2m-0.2 0h1.2m0.8 0h1.2m0.8 0h1.2m-24.2 1h1.2m0.8 0h1.2m-0.2 0h1.2m0.8 0h1.2m-0.2 0h1.2m0.8 0h1.2m0.8 0h1.2m-0.2 0h1.2m-0.2 0h1.2m-0.2 0h1.2m-0.2 0h1.2m-0.2 0h1.2m-0.2 0h1.2m1.8 0h1.2m3.8 0h1.2m-14.2 1h1.2m2.8 0h1.2m-0.2 0h1.2m-0.2 0h1.2m-0.2 0h1.2m3.8 0h1.2m-23.2 1h1.2m-0.2 0h1.2m1.8 0h1.2m2.8 0h1.2m2.8 0h1.2m1.8 0h1.2m8.8 0h1.2m-28.2 1h1.2m-0.2 0h1.2m-0.2 0h1.2m-0.2 0h1.2m1.8 0h1.2m-0.2 0h1.2m0.8 0h1.2m3.8 0h1.2m0.8 0h1.2m2.8 0h1.2m0.8 0h1.2m-22.2 1h1.2m-0.2 0h1.2m1.8 0h1.2m0.8 0h1.2m6.8 0h1.2m0.8 0h1.2m-0.2 0h1.2m-0.2 0h1.2m8.8 0h1.2m-29.2 1h1.2m0.8 0h1.2m0.8 0h1.2m4.8 0h1.2m0.8 0h1.2m4.8 0h1.2m0.8 0h1.2m1.8 0h1.2m0.8 0h1.2m-30.2 1h1.2m1.8 0h1.2m0.8 0h1.2m0.8 0h1.2m4.8 0h1.2m3.8 0h1.2m0.8 0h1.2m-0.2 0h1.2m1.8 0h1.2m1.8 0h1.2m4.8 0h1.2m-31.2 1h1.2m0.8 0h1.2m0.8 0h1.2m4.8 0h1.2m2.8 0h1.2m4.8 0h1.2m1.8 0h1.2m-0.2 0h1.2m-24.2 1h1.2m1.8 0h1.2m5.8 0h1.2m10.8 0h1.2m-0.2 0h1.2m3.8 0h1.2m-0.2 0h1.2m-31.2 1h1.2m0.8 0h1.2m-0.2 0h1.2m2.8 0h1.2m-0.2 0h1.2m-0.2 0h1.2m1.8 0h1.2m4.8 0h1.2m0.8 0h1.2m-0.2 0h1.2m-0.2 0h1.2m-0.2 0h1.2m-0.2 0h1.2m-23.2 1h1.2m-0.2 0h1.2m1.8 0h1.2m0.8 0h1.2m-0.2 0h1.2m-0.2 0h1.2m0.8 0h1.2m3.8 0h1.2m1.8 0h1.2m4.8 0h1.2m-26.2 1h1.2m1.8 0h1.2m-0.2 0h1.2m0.8 0h1.2m0.8 0h1.2m1.8 0h1.2m0.8 0h1.2m2.8 0h1.2m-0.2 0h1.2m0.8 0h1.2m0.8 0h1.2m0.8 0h1.2m-0.2 0h1.2m-0.2 0h1.2m-25.2 1h1.2m-0.2 0h1.2m-0.2 0h1.2m0.8 0h1.2m-0.2 0h1.2m1.8 0h1.2m0.8 0h1.2m-0.2 0h1.2m3.8 0h1.2m-0.2 0h1.2m-0.2 0h1.2m-0.2 0h1.2m-20.2 1h1.2m1.8 0h1.2m1.8 0h1.2m-0.2 0h1.2m-0.2 0h1.2m3.8 0h1.2m0.8 0h1.2m-0.2 0h1.2m1.8 0h1.2m0.8 0h1.2m-20.2 1h1.2m1.8 0h1.2m-0.2 0h1.2m1.8 0h1.2m3.8 0h1.2m-0.2 0h1.2m-0.2 0h1.2m-0.2 0h1.2m-0.2 0h1.2m-0.2 0h1.2m-82.2 29h1.2m-0.2 0h1.2m-13.2 1h1.2m7.8 0h1.2m0.8 0h1.2m5.8 0h1.2m-21.2 1h1.2m0.8 0h1.2m10.8 0h1.2m0.8 0h1.2m-20.2 1h1.2m-0.2 0h1.2m0.8 0h1.2m-0.2 0h1.2m-0.2 0h1.2m0.8 0h1.2m-0.2 0h1.2m-0.2 0h1.2m0.8 0h1.2m0.8 0h1.2m-0.2 0h1.2m-0.2 0h1.2m2.8 0h1.2m0.8 0h1.2m0.8 0h1.2m-25.2 1h1.2m-0.2 0h1.2m2.8 0h1.2m-0.2 0h1.2m-0.2 0h1.2m1.8 0h1.2m-0.2 0h1.2m2.8 0h1.2m8.8 0h1.2m-0.2 0h1.2m-0.2 0h1.2m2.8 0h1.2m1.8 0h1.2m-35.2 1h1.2m3.8 0h1.2m14.8 0h1.2m-0.2 0h1.2m2.8 0h1.2m-0.2 0h1.2m-0.2 0h1.2m1.8 0h1.2m-0.2 0h1.2m-0.2 0h1.2m-0.2 0h1.2m-0.2 0h1.2m0.8 0h1.2m-0.2 0h1.2m-42.2 1h1.2m-0.2 0h1.2m-0.2 0h1.2m13.8 0h1.2m-0.2 0h1.2m9.8 0h1.2m-0.2 0h1.2m-0.2 0h1.2m-0.2 0h1.2m-0.2 0h1.2m-0.2 0h1.2m1.8 0h1.2m-0.2 0h1.2m-0.2 0h1.2m0.8 0h1.2m-42.2 1h1.2m-0.2 0h1.2m-0.2 0h1.2m3.8 0h1.2m18.8 0h1.2m1.8 0h1.2m0.8 0h1.2m0.8 0h1.2m0.8 0h1.2m-0.2 0h1.2m-0.2 0h1.2m0.8 0h1.2m-43.2 1h1.2m-0.2 0h1.2m2.8 0h1.2m2.8 0h1.2m18.8 0h1.2m3.8 0h1.2m1.8 0h1.2m-0.2 0h1.2m0.8 0h1.2m-0.2 0h1.2m-0.2 0h1.2m-0.2 0h1.2m-45.2 1h1.2m0.8 0h1.2m29.8 0h1.2m1.8 0h1.2m-0.2 0h1.2m1.8 0h1.2m-0.2 0h1.2m-0.2 0h1.2m-11.2 1h1.2m1.8 0h1.2m1.8 0h1.2m0.8 0h1.2m-0.2 0h1.2m-0.2 0h1.2m-50.2 1h1.2m4.8 0h1.2m32.8 0h1.2m0.8 0h1.2m1.8 0h1.2m0.8 0h1.2m0.8 0h1.2m-47.2 1h1.2m34.8 0h1.2m1.8 0h1.2m1.8 0h1.2m0.8 0h1.2m0.8 0h1.2m1.8 0h1.2m-61.2 1h1.2m6.8 0h1.2m-0.2 0h1.2m-0.2 0h1.2m-0.2 0h1.2m1.8 0h1.2m35.8 0h1.2m0.8 0h1.2m-49.2 1h1.2m-0.2 0h1.2m44.8 0h1.2m0.8 0h1.2m1.8 0h1.2m-0.2 0h1.2m-60.2 1h1.2m0.8 0h1.2m0.8 0h1.2m0.8 0h1.2m-0.2 0h1.2m0.8 0h1.2m-0.2 0h1.2m-0.2 0h1.2m44.8 0h1.2m-62.2 1h1.2m1.8 0h1.2m2.8 0h1.2m-0.2 0h1.2m-0.2 0h1.2m2.8 0h1.2m-0.2 0h1.2m-0.2 0h1.2m41.8 0h1.2m-0.2 0h1.2m-0.2 0h1.2m1.8 0h1.2m-65.2 1h1.2m2.8 0h1.2m-0.2 0h1.2m0.8 0h1.2m-0.2 0h1.2m-0.2 0h1.2m1.8 0h1.2m3.8 0h1.2m41.8 0h1.2m-0.2 0h1.2m-59.2 1h1.2m-0.2 0h1.2m-0.2 0h1.2m-0.2 0h1.2m0.8 0h1.2m-0.2 0h1.2m-0.2 0h1.2m3.8 0h1.2m43.8 0h1.2m-0.2 0h1.2m-0.2 0h1.2m-0.2 0h1.2m-66.2 1h1.2m-0.2 0h1.2m5.8 0h1.2m-0.2 0h1.2m2.8 0h1.2m-0.2 0h1.2m0.8 0h1.2m-0.2 0h1.2m-0.2 0h1.2m43.8 0h1.2m-0.2 0h1.2m-65.2 1h1.2m2.8 0h1.2m0.8 0h1.2m-0.2 0h1.2m0.8 0h1.2m-0.2 0h1.2m1.8 0h1.2m-0.2 0h1.2m-0.2 0h1.2m1.8 0h1.2m37.8 0h1.2m0.8 0h1.2m-0.2 0h1.2m0.8 0h1.2m1.8 0h1.2m-61.2 1h1.2m-0.2 0h1.2m5.8 0h1.2m-9.2 1h1.2m8.8 0h1.2m43.8 0h1.2m0.8 0h1.2m-0.2 0h1.2m0.8 0h1.2m-0.2 0h1.2m-67.2 1h1.2m2.8 0h1.2m-0.2 0h1.2m0.8 0h1.2m5.8 0h1.2m45.8 0h1.2m1.8 0h1.2m-0.2 0h1.2m-62.2 1h1.2m-0.2 0h1.2m5.8 0h1.2m43.8 0h1.2m-0.2 0h1.2m-0.2 0h1.2m0.8 0h1.2m-69.2 1h1.2m10.8 0h1.2m-0.2 0h1.2m46.8 0h1.2m1.8 0h1.2m0.8 0h1.2m-0.2 0h1.2m0.8 0h1.2m-58.2 1h1.2m-0.2 0h1.2m49.8 0h1.2m0.8 0h1.2m-57.2 1h1.2m0.8 0h1.2m-0.2 0h1.2m-0.2 0h1.2m45.8 0h1.2m1.8 0h1.2m-52.2 1h1.2m47.8 0h1.2m-0.2 0h1.2m-64.2 1h1.2m12.8 0h1.2m2.8 0h1.2m-0.2 0h1.2m-0.2 0h1.2m38.8 0h1.2m-50.2 1h1.2m-0.2 0h1.2m0.8 0h1.2m5.8 0h1.2m36.8 0h1.2m-0.2 0h1.2m-0.2 0h1.2m-0.2 0h1.2m-0.2 0h1.2m-0.2 0h1.2m-52.2 1h1.2m-0.2 0h1.2m42.8 0h1.2m-48.2 1h1.2m1.8 0h1.2m-0.2 0h1.2m-0.2 0h1.2m2.8 0h1.2m36.8 0h1.2m-47.2 1h1.2m-0.2 0h1.2m-0.2 0h1.2m0.8 0h1.2m-0.2 0h1.2m-0.2 0h1.2m36.8 0h1.2m0.8 0h1.2m0.8 0h1.2m-47.2 1h1.2m-0.2 0h1.2m-0.2 0h1.2m-0.2 0h1.2m1.8 0h1.2m1.8 0h1.2m32.8 0h1.2m1.8 0h1.2m-0.2 0h1.2m-50.2 1h1.2m1.8 0h1.2m2.8 0h1.2m0.8 0h1.2m34.8 0h1.2m-0.2 0h1.2m-0.2 0h1.2m-45.2 1h1.2m0.8 0h1.2m1.8 0h1.2m-0.2 0h1.2m-0.2 0h1.2m2.8 0h1.2m-10.2 1h1.2m1.8 0h1.2m-0.2 0h1.2m-0.2 0h1.2m0.8 0h1.2m0.8 0h1.2m21.8 0h1.2m-0.2 0h1.2m1.8 0h1.2m0.8 0h1.2m-0.2 0h1.2m0.8 0h1.2m-41.2 1h1.2m1.8 0h1.2m22.8 0h1.2m5.8 0h1.2m-0.2 0h1.2m0.8 0h1.2m1.8 0h1.2m-39.2 1h1.2m-0.2 0h1.2m-0.2 0h1.2m-0.2 0h1.2m2.8 0h1.2m-0.2 0h1.2m-0.2 0h1.2m-0.2 0h1.2m1.8 0h1.2m9.8 0h1.2m-0.2 0h1.2m0.8 0h1.2m5.8 0h1.2m-0.2 0h1.2m-34.2 1h1.2m-0.2 0h1.2m-0.2 0h1.2m0.8 0h1.2m-0.2 0h1.2m4.8 0h1.2m5.8 0h1.2m5.8 0h1.2m1.8 0h1.2m-0.2 0h1.2m-0.2 0h1.2m-31.2 1h1.2m-0.2 0h1.2m0.8 0h1.2m0.8 0h1.2m-0.2 0h1.2m-0.2 0h1.2m-0.2 0h1.2m-0.2 0h1.2m-0.2 0h1.2m0.8 0h1.2m5.8 0h1.2m2.8 0h1.2m-0.2 0h1.2m-0.2 0h1.2m0.8 0h1.2m-0.2 0h1.2m-30.2 1h1.2m-0.2 0h1.2m0.8 0h1.2m0.8 0h1.2m0.8 0h1.2m-0.2 0h1.2m1.8 0h1.2m1.8 0h1.2m1.8 0h1.2m2.8 0h1.2m1.8 0h1.2m-0.2 0h1.2m-25.2 1h1.2m0.8 0h1.2m-0.2 0h1.2m0.8 0h1.2m0.8 0h1.2m-0.2 0h1.2m-0.2 0h1.2m-0.2 0h1.2m7.8 0h1.2m1.8 0h1.2m-24.2 1h1.2m-0.2 0h1.2m2.8 0h1.2m-0.2 0h1.2m-0.2 0h1.2m1.8 0h1.2m7.8 0h1.2m-0.2 0h1.2m-0.2 0h1.2m0.8 0h1.2m-0.2 0h1.2m-0.2 0h1.2m-24.2 1h1.2m-0.2 0h1.2m-0.2 0h1.2m-0.2 0h1.2m-0.2 0h1.2m1.8 0h1.2m0.8 0h1.2m0.8 0h1.2m-0.2 0h1.2m0.8 0h1.2m0.8 0h1.2m2.8 0h1.2m1.8 0h1.2m-0.2 0h1.2m-24.2 1h1.2m3.8 0h1.2m-0.2 0h1.2m-0.2 0h1.2m1.8 0h1.2m-0.2 0h1.2m0.8 0h1.2m0.8 0h1.2m1.8 0h1.2m-0.2 0h1.2m-0.2 0h1.2m0.8 0h1.2m-0.2 0h1.2m-0.2 0h1.2m-19.2 1h1.2m3.8 0h1.2m3.8 0h1.2m0.8 0h1.2m1.8 0h1.2m0.8 0h1.2m-0.2 0h1.2m-21.2 1h1.2m1.8 0h1.2m1.8 0h1.2m3.8 0h1.2m-0.2 0h1.2m-0.2 0h1.2m-0.2 0h1.2m-0.2 0h1.2m-8.2 1h1.2m-0.2 0h1.2m-0.2 0h1.2m-0.2 0h1.2m0.8 0h1.2m0.8 0h1.2m-11.2 1h1.2m-0.2 0h1.2m0.8 0h1.2m3.8 0h1.2m-0.2 0h1.2m0.8 0h1.2m-12.2 1h1.2m6.8 0h1.2" stroke="#2060ff" stroke-width="1.25"/>
<path d="M563 2248.0h1.2m0.8 0h1.2m-1.2 1h1.2m-6.2 1h1.2m0.8 0h1.2m-6.2 1h1.2m0.8 0h1.2m-0.2 0h1.2m-0.2 0h1.2m0.8 0h1.2m2.8 0h1.2m-7.2 1h1.2m0.8 0h1.2m-0.2 0h1.2m1.8 0h1.2m-12.2 1h1.2m-0.2 0h1.2m3.8 0h1.2m-0.2 0h1.2m-0.2 0h1.2m-0.2 0h1.2m2.8 0h1.2m-15.2 1h1.2m3.8 0h1.2m-0.2 0h1.2m-0.2 0h1.2m2.8 0h1.2m0.8 0h1.2m-15.2 1h1.2m2.8 0h1.2m-0.2 0h1.2m1.8 0h1.2m0.8 0h1.2m1.8 0h1.2m-0.2 0h1.2m-0.2 0h1.2m-0.2 0h1.2m-14.2 1h1.2m-0.2 0h1.2m0.8 0h1.2m-0.2 0h1.2m0.8 0h1.2m-0.2 0h1.2m-0.2 0h1.2m-0.2 0h1.2m0.8 0h1.2m-11.2 1h1.2m-0.2 0h1.2m-0.2 0h1.2m-0.2 0h1.2m0.8 0h1.2m-0.2 0h1.2m-0.2 0h1.2m0.8 0h1.2m0.8 0h1.2m0.8 0h1.2m-15.2 1h1.2m0.8 0h1.2m1.8 0h1.2m0.8 0h1.2m-0.2 0h1.2m0.8 0h1.2m-0.2 0h1.2m-0.2 0h1.2m-0.2 0h1.2m-0.2 0h1.2m0.8 0h1.2m-17.2 1h1.2m-0.2 0h1.2m3.8 0h1.2m0.8 0h1.2m0.8 0h1.2m-0.2 0h1.2m-0.2 0h1.2m-13.2 1h1.2m6.8 0h1.2m-0.2 0h1.2m-0.2 0h1.2m-0.2 0h1.2m1.8 0h1.2m0.8 0h1.2m-16.2 1h1.2m3.8 0h1.2m3.8 0h1.2m-0.2 0h1.2m1.8 0h1.2m-15.2 1h1.2m2.8 0h1.2m4.8 0h1.2m-0.2 0h1.2m-75.2 33h1.2m-13.2 1h1.2m10.8 0h1.2m-16.2 1h1.2m3.8 0h1.2m5.8 0h1.2m-0.2 0h1.2m-0.2 0h1.2m-0.2 0h1.2m-0.2 0h1.2m-0.2 0h1.2m-21.2 1h1.2m-0.2 0h1.2m0.8 0h1.2m0.8 0h1.2m0.8 0h1.2m0.8 0h1.2m-0.2 0h1.2m-0.2 0h1.2m-0.2 0h1.2m-0.2 0h1.2m-0.2 0h1.2m-0.2 0h1.2m-0.2 0h1.2m-0.2 0h1.2m0.8 0h1.2m1.8 0h1.2m-22.2 1h1.2m-0.2 0h1.2m0.8 0h1.2m-0.2 0h1.2m-0.2 0h1.2m-0.2 0h1.2m-0.2 0h1.2m-0.2 0h1.2m0.8 0h1.2m-0.2 0h1.2m1.8 0h1.2m-0.2 0h1.2m0.8 0h1.2m-0.2 0h1.2m-0.2 0h1.2m1.8 0h1.2m-23.2 1h1.2m-0.2 0h1.2m2.8 0h1.2m-0.2 0h1.2m0.8 0h1.2m-0.2 0h1.2m1.8 0h1.2m-0.2 0h1.2m-0.2 0h1.2m-0.2 0h1.2m-0.2 0h1.2m0.8 0h1.2m-0.2 0h1.2m-0.2 0h1.2m1.8 0h1.2m-0.2 0h1.2m-30.2 1h1.2m-0.2 0h1.2m-0.2 0h1.2m0.8 0h1.2m0.8 0h1.2m1.8 0h1.2m0.8 0h1.2m1.8 0h1.2m-0.2 0h1.2m0.8 0h1.2m0.8 0h1.2m-0.2 0h1.2m-0.2 0h1.2m-0.2 0h1.2m0.8 0h1.2m-0.2 0h1.2m-0.2 0h1.2m1.8 0h1.2m-0.2 0h1.2m2.8 0h1.2m-35.2 1h1.2m0.8 0h1.2m0.8 0h1.2m-0.2 0h1.2m1.8 0h1.2m-0.2 0h1.2m0.8 0h1.2m-0.2 0h1.2m-0.2 0h1.2m10.8 0h1.2m-0.2 0h1.2m-0.2 0h1.2m0.8 0h1.2m-32.2 1h1.2m-0.2 0h1.2m-0.2 0h1.2m-0.2 0h1.2m-0.2 0h1.2m0.8 0h1.2m2.8 0h1.2m-0.2 0h1.2m2.8 0h1.2m5.8 0h1.2m-0.2 0h1.2m-0.2 0h1.2m0.8 0h1.2m-0.2 0h1.2m-0.2 0h1.2m0.8 0h1.2m3.8 0h1.2m-0.2 0h1.2m-38.2 1h1.2m2.8 0h1.2m1.8 0h1.2m0.8 0h1.2m1.8 0h1.2m-0.2 0h1.2m10.8 0h1.2m0.8 0h1.2m0.8 0h1.2m-0.2 0h1.2m-0.2 0h1.2m-0.2 0h1.2m0.8 0h1.2m1.8 0h1.2m-41.2 1h1.2m-0.2 0h1.2m-0.2 0h1.2m-0.2 0h1.2m-0.2 0h1.2m0.8 0h1.2m-0.2 0h1.2m7.8 0h1.2m-0.2 0h1.2m0.8 0h1.2m8.8 0h1.2m2.8 0h1.2m-0.2 0h1.2m0.8 0h1.2m-0.2 0h1.2m0.8 0h1.2m-0.2 0h1.2m-41.2 1h1.2m2.8 0h1.2m-0.2 0h1.2m22.8 0h1.2m0.8 0h1.2m2.8 0h1.2m-0.2 0h1.2m-0.2 0h1.2m-0.2 0h1.2m0.8 0h1.2m-42.2 1h1.2m-0.2 0h1.2m-0.2 0h1.2m-0.2 0h1.2m-0.2 0h1.2m-0.2 0h1.2m-0.2 0h1.2m-0.2 0h1.2m21.8 0h1.2m-0.2 0h1.2m2.8 0h1.2m-0.2 0h1.2m0.8 0h1.2m-0.2 0h1.2m-0.2 0h1.2m-40.2 1h1.2m-0.2 0h1.2m-0.2 0h1.2m-0.2 0h1.2m21.8 0h1.2m-0.2 0h1.2m-0.2 0h1.2m-0.2 0h1.2m0.8 0h1.2m0.8 0h1.2m1.8 0h1.2m-0.2 0h1.2m-0.2 0h1.2m-0.2 0h1.2m-0.2 0h1.2m-41.2 1h1.2m1.8 0h1.2m19.8 0h1.2m4.8 0h1.2m0.8 0h1.2m1.8 0h1.2m1.8 0h1.2m-0.2 0h1.2m-48.2 1h1.2m4.8 0h1.2m0.8 0h1.2m-0.2 0h1.2m0.8 0h1.2m26.8 0h1.2m0.8 0h1.2m-0.2 0h1.2m-0.2 0h1.2m0.8 0h1.2m-0.2 0h1.2m-0.2 0h1.2m-0.2 0h1.2m-0.2 0h1.2m-53.2 1h1.2m5.8 0h1.2m0.8 0h1.2m0.8 0h1.2m28.8 0h1.2m0.8 0h1.2m-0.2 0h1.2m-0.2 0h1.2m1.8 0h1.2m-0.2 0h1.2m-0.2 0h1.2m0.8 0h1.2m-55.2 1h1.2m1.8 0h1.2m7.8 0h1.2m1.8 0h1.2m35.8 0h1.2m-0.2 0h1.2m-56.2 1h1.2m1.8 0h1.2m1.8 0h1.2m4.8 0h1.2m4.8 0h1.2m25.8 0h1.2m1.8 0h1.2m1.8 0h1.2m0.8 0h1.2m1.8 0h1.2m-55.2 1h1.2m0.8 0h1.2m-0.2 0h1.2m2.8 0h1.2m-0.2 0h1.2m0.8 0h1.2m-0.2 0h1.2m0.8 0h1.2m-0.2 0h1.2m27.8 0h1.2m6.8 0h1.2m-0.2 0h1.2m-0.2 0h1.2m-0.2 0h1.2m-0.2 0h1.2m-57.2 1h1.2m0.8 0h1.2m0.8 0h1.2m-0.2 0h1.2m0.8 0h1.2m-0.2 0h1.2m0.8 0h1.2m-0.2 0h1.2m30.8 0h1.2m1.8 0h1.2m-0.2 0h1.2m1.8 0h1.2m0.8 0h1.2m-51.2 1h1.2m-0.2 0h1.2m-0.2 0h1.2m-0.2 0h1.2m-0.2 0h1.2m-0.2 0h1.2m0.8 0h1.2m-0.2 0h1.2m-0.2 0h1.2m34.8 0h1.2m-0.2 0h1.2m-0.2 0h1.2m-0.2 0h1.2m-0.2 0h1.2m-0.2 0h1.2m0.8 0h1.2m-55.2 1h1.2m0.8 0h1.2m-0.2 0h1.2m3.8 0h1.2m-0.2 0h1.2m-0.2 0h1.2m0.8 0h1.2m-0.2 0h1.2m29.8 0h1.2m3.8 0h1.2m-0.2 0h1.2m-50.2 1h1.2m1.8 0h1.2m-0.2 0h1.2m-0.2 0h1.2m-0.2 0h1.2m-0.2 0h1.2m0.8 0h1.2m-0.2 0h1.2m-0.2 0h1.2m32.8 0h1.2m-0.2 0h1.2m0.8 0h1.2m-0.2 0h1.2m-50.2 1h1.2m-0.2 0h1.2m0.8 0h1.2m0.8 0h1.2m0.8 0h1.2m-0.2 0h1.2m1.8 0h1.2m-0.2 0h1.2m-0.2 0h1.2m29.8 0h1.2m-0.2 0h1.2m-0.2 0h1.2m-46.2 1h1.2m1.8 0h1.2m-0.2 0h1.2m-0.2 0h1.2m-0.2 0h1.2m-0.2 0h1.2m-0.2 0h1.2m34.8 0h1.2m-0.2 0h1.2m0.8 0h1.2m-48.2 1h1.2m-0.2 0h1.2m0.8 0h1.2m-0.2 0h1.2m0.8 0h1.2m0.8 0h1.2m32.8 0h1.2m-0.2 0h1.2m-0.2 0h1.2m-0.2 0h1.2m-46.2 1h1.2m0.8 0h1.2m2.8 0h1.2m-0.2 0h1.2m-0.2 0h1.2m-0.2 0h1.2m-0.2 0h1.2m29.8 0h1.2m0.8 0h1.2m-43.2 1h1.2m0.8 0h1.2m-0.2 0h1.2m1.8 0h1.2m1.8 0h1.2m1.8 0h1.2m26.8 0h1.2m0.8 0h1.2m-44.2 1h1.2m-0.2 0h1.2m1.8 0h1.2m-0.2 0h1.2m0.8 0h1.2m-0.2 0h1.2m2.8 0h1.2m3.8 0h1.2m-0.2 0h1.2m22.8 0h1.2m0.8 0h1.2m-43.2 1h1.2m0.8 0h1.2m0.8 0h1.2m-0.2 0h1.2m0.8 0h1.2m-0.2 0h1.2m-0.2 0h1.2m-0.2 0h1.2m2.8 0h1.2m20.8 0h1.2m0.8 0h1.2m-0.2 0h1.2m-0.2 0h1.2m1.8 0h1.2m-46.2 1h1.2m2.8 0h1.2m-0.2 0h1.2m-0.2 0h1.2m-0.2 0h1.2m-0.2 0h1.2m1.8 0h1.2m0.8 0h1.2m5.8 0h1.2m-0.2 0h1.2m3.8 0h1.2m3.8 0h1.2m0.8 0h1.2m1.8 0h1.2m-0.2 0h1.2m0.8 0h1.2m3.8 0h1.2m-42.2 1h1.2m2.8 0h1.2m0.8 0h1.2m0.8 0h1.2m0.8 0h1.2m-0.2 0h1.2m-0.2 0h1.2m-0.2 0h1.2m5.8 0h1.2m0.8 0h1.2m1.8 0h1.2m0.8 0h1.2m-0.2 0h1.2m-0.2 0h1.2m3.8 0h1.2m1.8 0h1.2m-0.2 0h1.2m0.8 0h1.2m-0.2 0h1.2m-37.2 1h1.2m-0.2 0h1.2m0.8 0h1.2m-0.2 0h1.2m0.8 0h1.2m-0.2 0h1.2m-0.2 0h1.2m2.8 0h1.2m3.8 0h1.2m2.8 0h1.2m1.8 0h1.2m0.8 0h1.2m0.8 0h1.2m-0.2 0h1.2m-0.2 0h1.2m-0.2 0h1.2m-0.2 0h1.2m-0.2 0h1.2m-34.2 1h1.2m-0.2 0h1.2m-0.2 0h1.2m0.8 0h1.2m0.8 0h1.2m-0.2 0h1.2m-0.2 0h1.2m0.8 0h1.2m-0.2 0h1.2m0.8 0h1.2m0.8 0h1.2m3.8 0h1.2m1.8 0h1.2m-0.2 0h1.2m-0.2 0h1.2m-0.2 0h1.2m-0.2 0h1.2m-0.2 0h1.2m-0.2 0h1.2m-0.2 0h1.2m0.8 0h1.2m-0.2 0h1.2m-32.2 1h1.2m0.8 0h1.2m-0.2 0h1.2m-0.2 0h1.2m-0.2 0h1.2m-0.2 0h1.2m0.8 0h1.2m-0.2 0h1.2m1.8 0h1.2m3.8 0h1.2m-0.2 0h1.2m-0.2 0h1.2m-0.2 0h1.2m0.8 0h1.2m2.8 0h1.2m-0.2 0h1.2m-28.2 1h1.2m0.8 0h1.2m-0.2 0h1.2m0.8 0h1.2m-0.2 0h1.2m-0.2 0h1.2m0.8 0h1.2m-0.2 0h1.2m-0.2 0h1.2m-0.2 0h1.2m2.8 0h1.2m-0.2 0h1.2m-0.2 0h1.2m-0.2 0h1.2m0.8 0h1.2m0.8 0h1.2m0.8 0h1.2m-26.2 1h1.2m-0.2 0h1.2m3.8 0h1.2m-0.2 0h1.2m0.8 0h1.2m2.8 0h1.2m1.8 0h1.2m-0.2 0h1.2m-0.2 0h1.2m5.8 0h1.2m0.8 0h1.2m-25.2 1h1.2m2.8 0h1.2m0.8 0h1.2m-0.2 0h1.2m-0.2 0h1.2m-0.2 0h1.2m2.8 0h1.2m0.8 0h1.2m-9.2 1h1.2m1.8 0h1.2m-0.2 0h1.2m-0.2 0h1.2m0.8 0h1.2m-0.2 0h1.2m-11.2 1h1.2m-0.2 0h1.2m0.8 0h1.2m-0.2 0h1.2m0.8 0h1.2m2.8 0h1.2m-10.2 1h1.2m-0.2 0h1.2m-0.2 0h1.2m-0.2 0h1.2m-0.2 0h1.2m-0.2 0h1.2m-0.2 0h1.2m1.8 0h1.2m-14.2 1h1.2m2.8 0h1.2m0.8 0h1.2m0.8 0h1.2m-1.2 1h1.2m1.8 0h1.2m-0.2 0h1.2m-7.2 1h1.2m0.8 0h1.2m1.8 0h1.2m-6.2 1h1.2" stroke="#00e0ff" stroke-width="1.25"/>
<path d="M495 2298.0h1.2m-2.2 1h1.2m-14.2 1h1.2m2.8 0h1.2m2.8 0h1.2m4.8 0h1.2m-11.2 1h1.2m2.8 0h1.2m0.8 0h1.2m-16.2 1h1.2m1.8 0h1.2m-0.2 0h1.2m1.8 0h1.2m2.8 0h1.2m-0.2 0h1.2m-0.2 0h1.2m-0.2 0h1.2m-0.2 0h1.2m0.8 0h1.2m-0.2 0h1.2m-0.2 0h1.2m-0.2 0h1.2m-0.2 0h1.2m-22.2 1h1.2m0.8 0h1.2m-0.2 0h1.2m2.8 0h1.2m-0.2 0h1.2m-0.2 0h1.2m0.8 0h1.2m-0.2 0h1.2m-0.2 0h1.2m-0.2 0h1.2m-0.2 0h1.2m-0.2 0h1.2m2.8 0h1.2m-21.2 1h1.2m0.8 0h1.2m0.8 0h1.2m-0.2 0h1.2m1.8 0h1.2m-0.2 0h1.2m-0.2 0h1.2m-0.2 0h1.2m0.8 0h1.2m-0.2 0h1.2m-0.2 0h1.2m-0.2 0h1.2m-0.2 0h1.2m-22.2 1h1.2m1.8 0h1.2m-0.2 0h1.2m-0.2 0h1.2m-0.2 0h1.2m-0.2 0h1.2m-0.2 0h1.2m-0.2 0h1.2m2.8 0h1.2m0.8 0h1.2m0.8 0h1.2m-0.2 0h1.2m0.8 0h1.2m-0.2 0h1.2m-0.2 0h1.2m-0.2 0h1.2m0.8 0h1.2m0.8 0h1.2m-26.2 1h1.2m-0.2 0h1.2m2.8 0h1.2m-0.2 0h1.2m-0.2 0h1.2m-0.2 0h1.2m0.8 0h1.2m-0.2 0h1.2m-0.2 0h1.2m-0.2 0h1.2m-0.2 0h1.2m-0.2 0h1.2m1.8 0h1.2m-0.2 0h1.2m0.8 0h1.2m0.8 0h1.2m0.8 0h1.2m0.8 0h1.2m-28.2 1h1.2m-0.2 0h1.2m0.8 0h1.2m-0.2 0h1.2m-0.2 0h1.2m4.8 0h1.2m-0.2 0h1.2m-0.2 0h1.2m-0.2 0h1.2m-0.2 0h1.2m-0.2 0h1.2m-0.2 0h1.2m0.8 0h1.2m-0.2 0h1.2m-0.2 0h1.2m1.8 0h1.2m0.8 0h1.2m1.8 0h1.2m-32.2 1h1.2m0.8 0h1.2m0.8 0h1.2m4.8 0h1.2m-0.2 0h1.2m-0.2 0h1.2m-0.2 0h1.2m-0.2 0h1.2m-0.2 0h1.2m-0.2 0h1.2m-0.2 0h1.2m-0.2 0h1.2m0.8 0h1.2m3.8 0h1.2m2.8 0h1.2m-0.2 0h1.2m-34.2 1h1.2m0.8 0h1.2m-0.2 0h1.2m1.8 0h1.2m-0.2 0h1.2m1.8 0h1.2m2.8 0h1.2m1.8 0h1.2m-0.2 0h1.2m-0.2 0h1.2m-0.2 0h1.2m1.8 0h1.2m-0.2 0h1.2m-0.2 0h1.2m-0.2 0h1.2m-0.2 0h1.2m0.8 0h1.2m0.8 0h1.2m-0.2 0h1.2m-31.2 1h1.2m-0.2 0h1.2m-0.2 0h1.2m0.8 0h1.2m0.8 0h1.2m-0.2 0h1.2m-0.2 0h1.2m1.8 0h1.2m-0.2 0h1.2m3.8 0h1.2m-0.2 0h1.2m-0.2 0h1.2m0.8 0h1.2m0.8 0h1.2m-0.2 0h1.2m-0.2 0h1.2m-28.2 1h1.2m-0.2 0h1.2m0.8 0h1.2m-0.2 0h1.2m-0.2 0h1.2m1.8 0h1.2m-0.2 0h1.2m1.8 0h1.2m2.8 0h1.2m1.8 0h1.2m-0.2 0h1.2m-0.2 0h1.2m-0.2 0h1.2m-0.2 0h1.2m-0.2 0h1.2m0.8 0h1.2m-0.2 0h1.2m0.8 0h1.2m2.8 0h1.2m-35.2 1h1.2m0.8 0h1.2m-0.2 0h1.2m0.8 0h1.2m-0.2 0h1.2m-0.2 0h1.2m0.8 0h1.2m6.8 0h1.2m-0.2 0h1.2m0.8 0h1.2m-0.2 0h1.2m1.8 0h1.2m-0.2 0h1.2m-0.2 0h1.2m-0.2 0h1.2m-0.2 0h1.2m0.8 0h1.2m-0.2 0h1.2m0.8 0h1.2m-0.2 0h1.2m-0.2 0h1.2m-0.2 0h1.2m-39.2 1h1.2m0.8 0h1.2m-0.2 0h1.2m0.8 0h1.2m-0.2 0h1.2m-0.2 0h1.2m-0.2 0h1.2m0.8 0h1.2m8.8 0h1.2m1.8 0h1.2m1.8 0h1.2m0.8 0h1.2m-0.2 0h1.2m-0.2 0h1.2m0.8 0h1.2m2.8 0h1.2m-34.2 1h1.2m1.8 0h1.2m-0.2 0h1.2m-0.2 0h1.2m-0.2 0h1.2m7.8 0h1.2m4.8 0h1.2m-0.2 0h1.2m-0.2 0h1.2m-0.2 0h1.2m0.8 0h1.2m-0.2 0h1.2m1.8 0h1.2m-0.2 0h1.2m-0.2 0h1.2m-0.2 0h1.2m-0.2 0h1.2m-39.2 1h1.2m0.8 0h1.2m0.8 0h1.2m1.8 0h1.2m0.8 0h1.2m0.8 0h1.2m-0.2 0h1.2m-0.2 0h1.2m0.8 0h1.2m4.8 0h1.2m0.8 0h1.2m-0.2 0h1.2m6.8 0h1.2m-0.2 0h1.2m1.8 0h1.2m-36.2 1h1.2m-0.2 0h1.2m-0.2 0h1.2m-0.2 0h1.2m-0.2 0h1.2m0.8 0h1.2m-0.2 0h1.2m-0.2 0h1.2m-0.2 0h1.2m0.8 0h1.2m-0.2 0h1.2m2.8 0h1.2m0.8 0h1.2m2.8 0h1.2m-0.2 0h1.2m-0.2 0h1.2m-0.2 0h1.2m-0.2 0h1.2m-0.2 0h1.2m-0.2 0h1.2m1.8 0h1.2m-0.2 0h1.2m-32.2 1h1.2m-0.2 0h1.2m-0.2 0h1.2m1.8 0h1.2m-0.2 0h1.2m-0.2 0h1.2m0.8 0h1.2m-0.2 0h1.2m-0.2 0h1.2m1.8 0h1.2m4.8 0h1.2m-0.2 0h1.2m0.8 0h1.2m-0.2 0h1.2m-0.2 0h1.2m-0.2 0h1.2m-0.2 0h1.2m-0.2 0h1.2m3.8 0h1.2m-0.2 0h1.2m-36.2 1h1.2m-0.2 0h1.2m-0.2 0h1.2m-0.2 0h1.2m-0.2 0h1.2m2.8 0h1.2m-0.2 0h1.2m-0.2 0h1.2m1.8 0h1.2m0.8 0h1.2m0.8 0h1.2m-0.2 0h1.2m4.8 0h1.2m1.8 0h1.2m0.8 0h1.2m-0.2 0h1.2m-0.2 0h1.2m-35.2 1h1.2m-0.2 0h1.2m2.8 0h1.2m-0.2 0h1.2m-0.2 0h1.2m1.8 0h1.2m1.8 0h1.2m-0.2 0h1.2m1.8 0h1.2m-0.2 0h1.2m-0.2 0h1.2m-0.2 0h1.2m-0.2 0h1.2m4.8 0h1.2m3.8 0h1.2m-0.2 0h1.2m-0.2 0h1.2m-34.2 1h1.2m-0.2 0h1.2m0.8 0h1.2m-0.2 0h1.2m-0.2 0h1.2m-0.2 0h1.2m1.8 0h1.2m0.8 0h1.2m-0.2 0h1.2m-0.2 0h1.2m0.8 0h1.2m-0.2 0h1.2m-0.2 0h1.2m3.8 0h1.2m-0.2 0h1.2m0.8 0h1.2m0.8 0h1.2m-0.2 0h1.2m-0.2 0h1.2m0.8 0h1.2m-0.2 0h1.2m0.8 0h1.2m-39.2 1h1.2m0.8 0h1.2m1.8 0h1.2m-0.2 0h1.2m-0.2 0h1.2m-0.2 0h1.2m-0.2 0h1.2m-0.2 0h1.2m0.8 0h1.2m-0.2 0h1.2m-0.2 0h1.2m-0.2 0h1.2m3.8 0h1.2m-0.2 0h1.2m0.8 0h1.2m-0.2 0h1.2m-0.2 0h1.2m2.8 0h1.2m-0.2 0h1.2m-0.2 0h1.2m-0.2 0h1.2m0.8 0h1.2m0.8 0h1.2m-31.2 1h1.2m-0.2 0h1.2m-0.2 0h1.2m0.8 0h1.2m-0.2 0h1.2m-0.2 0h1.2m-0.2 0h1.2m-0.2 0h1.2m0.8 0h1.2m0.8 0h1.2m1.8 0h1.2m1.8 0h1.2m-0.2 0h1.2m-0.2 0h1.2m-0.2 0h1.2m0.8 0h1.2m3.8 0h1.2m-0.2 0h1.2m0.8 0h1.2m-35.2 1h1.2m1.8 0h1.2m-0.2 0h1.2m0.8 0h1.2m-0.2 0h1.2m-0.2 0h1.2m-0.2 0h1.2m-0.2 0h1.2m0.8 0h1.2m0.8 0h1.2m5.8 0h1.2m-0.2 0h1.2m1.8 0h1.2m-0.2 0h1.2m-0.2 0h1.2m-0.2 0h1.2m-0.2 0h1.2m-0.2 0h1.2m-0.2 0h1.2m-0.2 0h1.2m0.8 0h1.2m-37.2 1h1.2m1.8 0h1.2m-0.2 0h1.2m2.8 0h1.2m-0.2 0h1.2m2.8 0h1.2m-0.2 0h1.2m1.8 0h1.2m0.8 0h1.2m-0.2 0h1.2m0.8 0h1.2m-0.2 0h1.2m-0.2 0h1.2m-0.2 0h1.2m1.8 0h1.2m-0.2 0h1.2m-0.2 0h1.2m-0.2 0h1.2m-0.2 0h1.2m-0.2 0h1.2m-0.2 0h1.2m-28.2 1h1.2m-0.2 0h1.2m-0.2 0h1.2m0.8 0h1.2m-0.2 0h1.2m-0.2 0h1.2m-0.2 0h1.2m0.8 0h1.2m-0.2 0h1.2m1.8 0h1.2m-0.2 0h1.2m-0.2 0h1.2m0.8 0h1.2m-0.2 0h1.2m0.8 0h1.2m0.8 0h1.2m2.8 0h1.2m-28.2 1h1.2m1.8 0h1.2m-0.2 0h1.2m-0.2 0h1.2m-0.2 0h1.2m2.8 0h1.2m0.8 0h1.2m-0.2 0h1.2m1.8 0h1.2m0.8 0h1.2m0.8 0h1.2m0.8 0h1.2m-0.2 0h1.2m1.8 0h1.2m-27.2 1h1.2m3.8 0h1.2m-0.2 0h1.2m-0.2 0h1.2m-0.2 0h1.2m-0.2 0h1.2m-0.2 0h1.2m0.8 0h1.2m0.8 0h1.2m-0.2 0h1.2m0.8 0h1.2m3.8 0h1.2m-0.2 0h1.2m1.8 0h1.2m-0.2 0h1.2m-23.2 1h1.2m-0.2 0h1.2m-0.2 0h1.2m0.8 0h1.2m-0.2 0h1.2m-0.2 0h1.2m-0.2 0h1.2m0.8 0h1.2m-0.2 0h1.2m2.8 0h1.2m0.8 0h1.2m0.8 0h1.2m-19.2 1h1.2m1.8 0h1.2m0.8 0h1.2m0.8 0h1.2m-0.2 0h1.2m-0.2 0h1.2m-0.2 0h1.2m0.8 0h1.2m-10.2 1h1.2m-0.2 0h1.2m0.8 0h1.2m0.8 0h1.2m-0.2 0h1.2m-4.2 1h1.2m-0.2 0h1.2m-0.2 0h1.2m-5.2 1h1.2m-0.2 0h1.2m-2.2 2h1.2m-0.2 0h1.2" stroke="#00e000" stroke-width="1.25"/>
<path d="M488 2304.0h1.2m1.8 1h1.2m-16.2 1h1.2m-0.2 0h1.2m-0.2 0h1.2m11.8 0h1.2m-16.2 1h1.2m2.8 0h1.2m-0.2 0h1.2m0.8 0h1.2m7.8 0h1.2m-18.2 1h1.2m1.8 0h1.2m0.8 0h1.2m-0.2 0h1.2m8.8 0h1.2m-15.2 1h1.2m1.8 0h1.2m3.8 0h1.2m3.8 0h1.2m-15.2 1h1.2m2.8 0h1.2m-0.2 0h1.2m1.8 0h1.2m-0.2 0h1.2m-0.2 0h1.2m-0.2 0h1.2m-13.2 1h1.2m-0.2 0h1.2m1.8 0h1.2m-0.2 0h1.2m1.8 0h1.2m2.8 0h1.2m-16.2 1h1.2m4.8 0h1.2m-0.2 0h1.2m0.8 0h1.2m0.8 0h1.2m2.8 0h1.2m-13.2 1h1.2m0.8 0h1.2m-0.2 0h1.2m1.8 0h1.2m-0.2 0h1.2m1.8 0h1.2m0.8 0h1.2m-0.2 0h1.2m0.8 0h1.2m1.8 0h1.2m-24.2 1h1.2m-0.2 0h1.2m3.8 0h1.2m0.8 0h1.2m-0.2 0h1.2m-0.2 0h1.2m1.8 0h1.2m0.8 0h1.2m-0.2 0h1.2m-0.2 0h1.2m-0.2 0h1.2m-0.2 0h1.2m3.8 0h1.2m-25.2 1h1.2m1.8 0h1.2m7.8 0h1.2m-0.2 0h1.2m-0.2 0h1.2m-0.2 0h1.2m3.8 0h1.2m-0.2 0h1.2m-0.2 0h1.2m0.8 0h1.2m-0.2 0h1.2m-25.2 1h1.2m6.8 0h1.2m-0.2 0h1.2m-0.2 0h1.2m0.8 0h1.2m1.8 0h1.2m-0.2 0h1.2m6.8 0h1.2m-0.2 0h1.2m-26.2 1h1.2m2.8 0h1.2m3.8 0h1.2m0.8 0h1.2m-0.2 0h1.2m0.8 0h1.2m-0.2 0h1.2m1.8 0h1.2m5.8 0h1.2m-26.2 1h1.2m-0.2 0h1.2m-0.2 0h1.2m2.8 0h1.2m-0.2 0h1.2m0.8 0h1.2m0.8 0h1.2m1.8 0h1.2m-0.2 0h1.2m-0.2 0h1.2m0.8 0h1.2m0.8 0h1.2m-0.2 0h1.2m0.8 0h1.2m-24.2 1h1.2m-0.2 0h1.2m0.8 0h1.2m-0.2 0h1.2m1.8 0h1.2m-0.2 0h1.2m4.8 0h1.2m0.8 0h1.2m-0.2 0h1.2m-0.2 0h1.2m0.8 0h1.2m-0.2 0h1.2m-0.2 0h1.2m-0.2 0h1.2m-23.2 1h1.2m4.8 0h1.2m2.8 0h1.2m-0.2 0h1.2m-0.2 0h1.2m2.8 0h1.2m0.8 0h1.2m-20.2 1h1.2m3.8 0h1.2m-0.2 0h1.2m0.8 0h1.2m1.8 0h1.2m2.8 0h1.2m-0.2 0h1.2m-0.2 0h1.2m3.8 0h1.2m-19.2 1h1.2m0.8 0h1.2m0.8 0h1.2m-0.2 0h1.2m0.8 0h1.2m4.8 0h1.2m0.8 0h1.2m-0.2 0h1.2m-0.2 0h1.2m-0.2 0h1.2m-18.2 1h1.2m0.8 0h1.2m-0.2 0h1.2m-0.2 0h1.2m-0.2 0h1.2m-0.2 0h1.2m-0.2 0h1.2m1.8 0h1.2m-0.2 0h1.2m-12.2 1h1.2m-0.2 0h1.2m0.8 0h1.2m1.8 0h1.2m3.8 0h1.2m-0.2 0h1.2m-10.2 1h1.2m-0.2 0h1.2m5.8 0h1.2m0.8 0h1.2" stroke="#60f000" stroke-width="1.25"/>
<path d="M479 2308.0h1.2m-2.2 1h1.2m1.8 0h1.2m-0.2 0h1.2m-1.2 2h1.2m-7.2 1h1.2m4.8 0h1.2m0.8 0h1.2m-6.2 1h1.2m3.8 0h1.2m-4.2 1h1.2m-0.2 0h1.2m-4.2 1h1.2m0.8 0h1.2m2.8 1h1.2m-2.2 1h1.2m2.8 1h1.2m-4.2 2h1.2" stroke="#f0f000" stroke-width="1.25"/>
<defs><linearGradient id="bl2" x1="0" x2="1"><stop offset="0" stop-color="#0000ff" stop-opacity="0.3"/><stop offset="0.25" stop-color="#00d000"/><stop offset="0.5" stop-color="#ffd000"/><stop offset="0.7" stop-color="#ff2000"/><stop offset="0.85" stop-color="#ffd000"/><stop offset="1" stop-color="#00c0ff"/></linearGradient></defs>
<rect x="412.4" y="2391.1" width="114.8" height="2" fill="url(#bl2)"/>
<rect x="400.20" y="2149.20" width="244.30" height="244.10" fill="none" stroke="#222" stroke-width="1.3"/>
<line x1="526.30" y1="2149.20" x2="526.30" y2="2393.30" stroke="#111" stroke-width="2.00"/>
<line x1="400.20" y1="2281.80" x2="644.50" y2="2281.80" stroke="#111" stroke-width="2.00"/>
<path d="M400.2 2393.3h-7M400.2 2393.3v7M400.2 2352.6h-7M440.9 2393.3v7M400.2 2311.9h-7M481.6 2393.3v7M400.2 2271.2h-7M522.4 2393.3v7M400.2 2230.6h-7M563.1 2393.3v7M400.2 2189.9h-7M603.8 2393.3v7M400.2 2149.2h-7M644.5 2393.3v7" stroke="#111" stroke-width="1.6" fill="none"/>
<path d="M400.2 2381.1h-3.5M412.5 2393.3v3.5M400.2 2373.9h-3.5M419.6 2393.3v3.5M400.2 2368.8h-3.5M424.7 2393.3v3.5M400.2 2364.9h-4.5M428.7 2393.3v4.5M400.2 2361.6h-3.5M431.9 2393.3v3.5M400.2 2358.9h-3.5M434.6 2393.3v3.5M400.2 2356.6h-3.5M437.0 2393.3v3.5M400.2 2354.5h-3.5M439.1 2393.3v3.5M400.2 2340.4h-3.5M453.2 2393.3v3.5M400.2 2333.2h-3.5M460.3 2393.3v3.5M400.2 2328.1h-3.5M465.4 2393.3v3.5M400.2 2324.2h-4.5M469.4 2393.3v4.5M400.2 2321.0h-3.5M472.6 2393.3v3.5M400.2 2318.2h-3.5M475.3 2393.3v3.5M400.2 2315.9h-3.5M477.7 2393.3v3.5M400.2 2313.8h-3.5M479.8 2393.3v3.5M400.2 2299.7h-3.5M493.9 2393.3v3.5M400.2 2292.5h-3.5M501.1 2393.3v3.5M400.2 2287.4h-3.5M506.1 2393.3v3.5M400.2 2283.5h-4.5M510.1 2393.3v4.5M400.2 2280.3h-3.5M513.3 2393.3v3.5M400.2 2277.6h-3.5M516.0 2393.3v3.5M400.2 2275.2h-3.5M518.4 2393.3v3.5M400.2 2273.1h-3.5M520.5 2393.3v3.5M400.2 2259.0h-3.5M534.6 2393.3v3.5M400.2 2251.8h-3.5M541.8 2393.3v3.5M400.2 2246.8h-3.5M546.9 2393.3v3.5M400.2 2242.8h-4.5M550.8 2393.3v4.5M400.2 2239.6h-3.5M554.0 2393.3v3.5M400.2 2236.9h-3.5M556.8 2393.3v3.5M400.2 2234.5h-3.5M559.1 2393.3v3.5M400.2 2232.4h-3.5M561.2 2393.3v3.5M400.2 2218.3h-3.5M575.3 2393.3v3.5M400.2 2211.2h-3.5M582.5 2393.3v3.5M400.2 2206.1h-3.5M587.6 2393.3v3.5M400.2 2202.1h-4.5M591.5 2393.3v4.5M400.2 2198.9h-3.5M594.8 2393.3v3.5M400.2 2196.2h-3.5M597.5 2393.3v3.5M400.2 2193.8h-3.5M599.8 2393.3v3.5M400.2 2191.7h-3.5M601.9 2393.3v3.5M400.2 2177.6h-3.5M616.0 2393.3v3.5M400.2 2170.5h-3.5M623.2 2393.3v3.5M400.2 2165.4h-3.5M628.3 2393.3v3.5M400.2 2161.4h-4.5M632.2 2393.3v4.5M400.2 2158.2h-3.5M635.5 2393.3v3.5M400.2 2155.5h-3.5M638.2 2393.3v3.5M400.2 2153.1h-3.5M640.6 2393.3v3.5M400.2 2151.1h-3.5M642.6 2393.3v3.5" stroke="#333" stroke-width="1" fill="none"/>
<text x="372.70" y="2393.30" font-size="9.00" fill="#222">10</text>
<text x="383.60" y="2385.80" font-size="9.00" fill="#222">0</text>
<text x="405.20" y="2423.30" font-size="9.00" fill="#222">10</text>
<text x="415.20" y="2415.80" font-size="9.00" fill="#222">0</text>
<text x="372.70" y="2359.82" font-size="9.00" fill="#222">10</text>
<text x="383.60" y="2352.32" font-size="9.00" fill="#222">1</text>
<text x="438.12" y="2423.30" font-size="9.00" fill="#222">10</text>
<text x="448.12" y="2415.80" font-size="9.00" fill="#222">1</text>
<text x="372.70" y="2319.13" font-size="9.00" fill="#222">10</text>
<text x="383.60" y="2311.63" font-size="9.00" fill="#222">2</text>
<text x="478.83" y="2423.30" font-size="9.00" fill="#222">10</text>
<text x="488.83" y="2415.80" font-size="9.00" fill="#222">2</text>
<text x="372.70" y="2278.45" font-size="9.00" fill="#222">10</text>
<text x="383.60" y="2270.95" font-size="9.00" fill="#222">3</text>
<text x="519.55" y="2423.30" font-size="9.00" fill="#222">10</text>
<text x="529.55" y="2415.80" font-size="9.00" fill="#222">3</text>
<text x="372.70" y="2237.77" font-size="9.00" fill="#222">10</text>
<text x="383.60" y="2230.27" font-size="9.00" fill="#222">4</text>
<text x="560.27" y="2423.30" font-size="9.00" fill="#222">10</text>
<text x="570.27" y="2415.80" font-size="9.00" fill="#222">4</text>
<text x="372.70" y="2197.08" font-size="9.00" fill="#222">10</text>
<text x="383.60" y="2189.58" font-size="9.00" fill="#222">5</text>
<text x="600.98" y="2423.30" font-size="9.00" fill="#222">10</text>
<text x="610.98" y="2415.80" font-size="9.00" fill="#222">5</text>
<text x="372.70" y="2167.20" font-size="9.00" fill="#222">10</text>
<text x="383.60" y="2159.70" font-size="9.00" fill="#222">6</text>
<text x="631.50" y="2423.30" font-size="9.00" fill="#222">10</text>
<text x="641.50" y="2415.80" font-size="9.00" fill="#222">6</text>
<text transform="translate(363.53,2329.38) rotate(-90)" font-size="11.55" fill="#222">Comp-BL2-A :: PI-PI-A</text>
<text transform="translate(441.04,2444.62)" font-size="11.30" fill="#222">Comp-BL1-A :: Annex-v-FITC-A</text>
<text x="404.60" y="2170.70" font-size="10.80" fill="#222">Q1</text>
<text x="404.60" y="2187.00" font-size="10.80" fill="#222">0.60</text>
<text x="623.20" y="2170.70" font-size="10.80" text-anchor="end" fill="#222">Q2</text>
<text x="623.20" y="2187.00" font-size="10.80" text-anchor="end" fill="#222">14.0</text>
<text x="404.60" y="2363.30" font-size="10.80" fill="#222">Q4</text>
<text x="404.60" y="2380.30" font-size="10.80" fill="#222">82.0</text>
<text x="623.20" y="2363.30" font-size="10.80" text-anchor="end" fill="#222">Q3</text>
<text x="623.20" y="2380.30" font-size="10.80" text-anchor="end" fill="#222">3.39</text>
<text transform="translate(821.81,2132.41)" font-size="33.57">MU</text>
<path d="M866 2222.0h1.2m20.8 2h1.2m-39.2 1h1.2m14.8 0h1.2m39.8 0h1.2m-37.2 1h1.2m43.8 0h1.2m-43.2 1h1.2m-30.2 1h1.2m-0.2 0h1.2m11.8 0h1.2m10.8 0h1.2m8.8 0h1.2m-26.2 1h1.2m32.8 0h1.2m-29.2 1h1.2m15.8 0h1.2m1.8 0h1.2m-43.2 1h1.2m9.8 0h1.2m2.8 0h1.2m12.8 0h1.2m7.8 0h1.2m3.8 0h1.2m-18.2 1h1.2m-32.2 1h1.2m-0.2 0h1.2m18.8 0h1.2m0.8 0h1.2m5.8 0h1.2m-0.2 0h1.2m3.8 0h1.2m2.8 0h1.2m3.8 0h1.2m2.8 0h1.2m0.8 0h1.2m-37.2 1h1.2m3.8 0h1.2m8.8 0h1.2m5.8 0h1.2m1.8 0h1.2m4.8 0h1.2m-0.2 0h1.2m1.8 0h1.2m8.8 0h1.2m-60.2 1h1.2m12.8 0h1.2m7.8 0h1.2m1.8 0h1.2m-0.2 0h1.2m0.8 0h1.2m4.8 0h1.2m3.8 0h1.2m6.8 0h1.2m4.8 0h1.2m-0.2 0h1.2m14.8 0h1.2m-45.2 1h1.2m-0.2 0h1.2m-0.2 0h1.2m5.8 0h1.2m4.8 0h1.2m0.8 0h1.2m0.8 0h1.2m2.8 0h1.2m2.8 0h1.2m0.8 0h1.2m-0.2 0h1.2m0.8 0h1.2m9.8 0h1.2m0.8 0h1.2m-61.2 1h1.2m-0.2 0h1.2m5.8 0h1.2m-0.2 0h1.2m-0.2 0h1.2m12.8 0h1.2m4.8 0h1.2m-0.2 0h1.2m1.8 0h1.2m2.8 0h1.2m0.8 0h1.2m-0.2 0h1.2m1.8 0h1.2m5.8 0h1.2m-0.2 0h1.2m1.8 0h1.2m0.8 0h1.2m-56.2 1h1.2m2.8 0h1.2m6.8 0h1.2m8.8 0h1.2m-0.2 0h1.2m1.8 0h1.2m0.8 0h1.2m0.8 0h1.2m14.8 0h1.2m0.8 0h1.2m-58.2 1h1.2m3.8 0h1.2m2.8 0h1.2m2.8 0h1.2m-0.2 0h1.2m0.8 0h1.2m1.8 0h1.2m1.8 0h1.2m3.8 0h1.2m-0.2 0h1.2m3.8 0h1.2m-0.2 0h1.2m-0.2 0h1.2m1.8 0h1.2m-0.2 0h1.2m1.8 0h1.2m7.8 0h1.2m2.8 0h1.2m11.8 0h1.2m21.8 0h1.2m-108.2 1h1.2m1.8 0h1.2m7.8 0h1.2m3.8 0h1.2m1.8 0h1.2m3.8 0h1.2m4.8 0h1.2m1.8 0h1.2m0.8 0h1.2m-0.2 0h1.2m3.8 0h1.2m1.8 0h1.2m-0.2 0h1.2m7.8 0h1.2m-0.2 0h1.2m0.8 0h1.2m-0.2 0h1.2m0.8 0h1.2m0.8 0h1.2m-0.2 0h1.2m-0.2 0h1.2m1.8 0h1.2m0.8 0h1.2m-0.2 0h1.2m-0.2 0h1.2m1.8 0h1.2m2.8 0h1.2m2.8 0h1.2m6.8 0h1.2m-70.2 1h1.2m1.8 0h1.2m1.8 0h1.2m1.8 0h1.2m-0.2 0h1.2m0.8 0h1.2m-0.2 0h1.2m1.8 0h1.2m0.8 0h1.2m4.8 0h1.2m12.8 0h1.2m0.8 0h1.2m-0.2 0h1.2m1.8 0h1.2m1.8 0h1.2m0.8 0h1.2m-0.2 0h1.2m-0.2 0h1.2m1.8 0h1.2m-0.2 0h1.2m-71.2 1h1.2m4.8 0h1.2m3.8 0h1.2m-0.2 0h1.2m1.8 0h1.2m-0.2 0h1.2m0.8 0h1.2m-0.2 0h1.2m0.8 0h1.2m-0.2 0h1.2m-0.2 0h1.2m-0.2 0h1.2m-0.2 0h1.2m2.8 0h1.2m-0.2 0h1.2m1.8 0h1.2m-0.2 0h1.2m0.8 0h1.2m-0.2 0h1.2m0.8 0h1.2m6.8 0h1.2m2.8 0h1.2m-0.2 0h1.2m-0.2 0h1.2m-0.2 0h1.2m0.8 0h1.2m-0.2 0h1.2m-0.2 0h1.2m-0.2 0h1.2m0.8 0h1.2m3.8 0h1.2m6.8 0h1.2m2.8 0h1.2m-83.2 1h1.2m16.8 0h1.2m-0.2 0h1.2m0.8 0h1.2m2.8 0h1.2m0.8 0h1.2m-0.2 0h1.2m0.8 0h1.2m0.8 0h1.2m0.8 0h1.2m4.8 0h1.2m-0.2 0h1.2m9.8 0h1.2m-0.2 0h1.2m1.8 0h1.2m0.8 0h1.2m5.8 0h1.2m-0.2 0h1.2m-0.2 0h1.2m1.8 0h1.2m16.8 0h1.2m3.8 0h1.2m-97.2 1h1.2m16.8 0h1.2m5.8 0h1.2m2.8 0h1.2m0.8 0h1.2m0.8 0h1.2m-0.2 0h1.2m-0.2 0h1.2m0.8 0h1.2m19.8 0h1.2m2.8 0h1.2m1.8 0h1.2m0.8 0h1.2m-0.2 0h1.2m3.8 0h1.2m-0.2 0h1.2m-0.2 0h1.2m-0.2 0h1.2m-0.2 0h1.2m4.8 0h1.2m-0.2 0h1.2m7.8 0h1.2m-77.2 1h1.2m-0.2 0h1.2m2.8 0h1.2m1.8 0h1.2m-0.2 0h1.2m0.8 0h1.2m2.8 0h1.2m-0.2 0h1.2m4.8 0h1.2m26.8 0h1.2m-0.2 0h1.2m-0.2 0h1.2m6.8 0h1.2m1.8 0h1.2m3.8 0h1.2m3.8 0h1.2m22.8 0h1.2m-109.2 1h1.2m7.8 0h1.2m0.8 0h1.2m1.8 0h1.2m-0.2 0h1.2m-0.2 0h1.2m-0.2 0h1.2m-0.2 0h1.2m3.8 0h1.2m0.8 0h1.2m-0.2 0h1.2m30.8 0h1.2m4.8 0h1.2m4.8 0h1.2m-0.2 0h1.2m-0.2 0h1.2m-0.2 0h1.2m1.8 0h1.2m1.8 0h1.2m6.8 0h1.2m21.8 0h1.2m-115.2 1h1.2m1.8 0h1.2m4.8 0h1.2m2.8 0h1.2m2.8 0h1.2m2.8 0h1.2m-0.2 0h1.2m0.8 0h1.2m-0.2 0h1.2m2.8 0h1.2m2.8 0h1.2m-0.2 0h1.2m29.8 0h1.2m0.8 0h1.2m0.8 0h1.2m3.8 0h1.2m5.8 0h1.2m-68.2 1h1.2m-0.2 0h1.2m6.8 0h1.2m3.8 0h1.2m-0.2 0h1.2m-0.2 0h1.2m38.8 0h1.2m0.8 0h1.2m0.8 0h1.2m1.8 0h1.2m1.8 0h1.2m10.8 0h1.2m-93.2 1h1.2m16.8 0h1.2m1.8 0h1.2m-0.2 0h1.2m-0.2 0h1.2m0.8 0h1.2m1.8 0h1.2m40.8 0h1.2m0.8 0h1.2m-0.2 0h1.2m2.8 0h1.2m1.8 0h1.2m-0.2 0h1.2m1.8 0h1.2m6.8 0h1.2m-79.2 1h1.2m0.8 0h1.2m3.8 0h1.2m-0.2 0h1.2m-0.2 0h1.2m-0.2 0h1.2m0.8 0h1.2m37.8 0h1.2m0.8 0h1.2m0.8 0h1.2m-0.2 0h1.2m-0.2 0h1.2m-0.2 0h1.2m0.8 0h1.2m-0.2 0h1.2m0.8 0h1.2m-0.2 0h1.2m-0.2 0h1.2m0.8 0h1.2m6.8 0h1.2m-84.2 1h1.2m3.8 0h1.2m0.8 0h1.2m1.8 0h1.2m2.8 0h1.2m-0.2 0h1.2m0.8 0h1.2m0.8 0h1.2m-0.2 0h1.2m40.8 0h1.2m-0.2 0h1.2m-0.2 0h1.2m0.8 0h1.2m-0.2 0h1.2m-0.2 0h1.2m1.8 0h1.2m-0.2 0h1.2m2.8 0h1.2m-77.2 1h1.2m-0.2 0h1.2m-0.2 0h1.2m-0.2 0h1.2m2.8 0h1.2m1.8 0h1.2m0.8 0h1.2m0.8 0h1.2m0.8 0h1.2m0.8 0h1.2m39.8 0h1.2m2.8 0h1.2m27.8 0h1.2m-109.2 1h1.2m11.8 0h1.2m1.8 0h1.2m5.8 0h1.2m-0.2 0h1.2m0.8 0h1.2m2.8 0h1.2m-0.2 0h1.2m3.8 0h1.2m40.8 0h1.2m-0.2 0h1.2m7.8 0h1.2m3.8 0h1.2m-83.2 1h1.2m2.8 0h1.2m2.8 0h1.2m1.8 0h1.2m0.8 0h1.2m5.8 0h1.2m-0.2 0h1.2m-0.2 0h1.2m43.8 0h1.2m-0.2 0h1.2m4.8 0h1.2m-0.2 0h1.2m2.8 0h1.2m1.8 0h1.2m3.8 0h1.2m-0.2 0h1.2m-82.2 1h1.2m-0.2 0h1.2m-0.2 0h1.2m4.8 0h1.2m-0.2 0h1.2m-0.2 0h1.2m0.8 0h1.2m-0.2 0h1.2m0.8 0h1.2m-0.2 0h1.2m41.8 0h1.2m0.8 0h1.2m-0.2 0h1.2m1.8 0h1.2m-0.2 0h1.2m0.8 0h1.2m3.8 0h1.2m-84.2 1h1.2m3.8 0h1.2m-0.2 0h1.2m11.8 0h1.2m-0.2 0h1.2m0.8 0h1.2m43.8 0h1.2m2.8 0h1.2m2.8 0h1.2m2.8 0h1.2m3.8 0h1.2m-82.2 1h1.2m-0.2 0h1.2m8.8 0h1.2m0.8 0h1.2m-0.2 0h1.2m3.8 0h1.2m3.8 0h1.2m1.8 0h1.2m33.8 0h1.2m-0.2 0h1.2m-0.2 0h1.2m2.8 0h1.2m1.8 0h1.2m-0.2 0h1.2m0.8 0h1.2m2.8 0h1.2m-0.2 0h1.2m-0.2 0h1.2m1.8 0h1.2m-0.2 0h1.2m-87.2 1h1.2m4.8 0h1.2m5.8 0h1.2m-0.2 0h1.2m-0.2 0h1.2m-0.2 0h1.2m3.8 0h1.2m3.8 0h1.2m39.8 0h1.2m3.8 0h1.2m-0.2 0h1.2m4.8 0h1.2m1.8 0h1.2m4.8 0h1.2m-79.2 1h1.2m0.8 0h1.2m-0.2 0h1.2m-0.2 0h1.2m-0.2 0h1.2m-0.2 0h1.2m1.8 0h1.2m3.8 0h1.2m0.8 0h1.2m1.8 0h1.2m-0.2 0h1.2m32.8 0h1.2m3.8 0h1.2m-0.2 0h1.2m0.8 0h1.2m1.8 0h1.2m-0.2 0h1.2m-64.2 1h1.2m1.8 0h1.2m3.8 0h1.2m-0.2 0h1.2m-0.2 0h1.2m-0.2 0h1.2m-0.2 0h1.2m2.8 0h1.2m-0.2 0h1.2m27.8 0h1.2m1.8 0h1.2m0.8 0h1.2m-0.2 0h1.2m1.8 0h1.2m1.8 0h1.2m-0.2 0h1.2m3.8 0h1.2m3.8 0h1.2m-85.2 1h1.2m5.8 0h1.2m2.8 0h1.2m12.8 0h1.2m-0.2 0h1.2m-0.2 0h1.2m-0.2 0h1.2m2.8 0h1.2m23.8 0h1.2m2.8 0h1.2m0.8 0h1.2m-0.2 0h1.2m-0.2 0h1.2m1.8 0h1.2m0.8 0h1.2m1.8 0h1.2m0.8 0h1.2m1.8 0h1.2m0.8 0h1.2m-0.2 0h1.2m-81.2 1h1.2m9.8 0h1.2m3.8 0h1.2m-0.2 0h1.2m1.8 0h1.2m-0.2 0h1.2m-0.2 0h1.2m1.8 0h1.2m0.8 0h1.2m2.8 0h1.2m19.8 0h1.2m-0.2 0h1.2m2.8 0h1.2m1.8 0h1.2m1.8 0h1.2m0.8 0h1.2m-0.2 0h1.2m0.8 0h1.2m-0.2 0h1.2m-0.2 0h1.2m-0.2 0h1.2m0.8 0h1.2m1.8 0h1.2m2.8 0h1.2m2.8 0h1.2m-0.2 0h1.2m13.8 0h1.2m-101.2 1h1.2m5.8 0h1.2m0.8 0h1.2m1.8 0h1.2m2.8 0h1.2m-0.2 0h1.2m-0.2 0h1.2m3.8 0h1.2m-0.2 0h1.2m0.8 0h1.2m-0.2 0h1.2m-0.2 0h1.2m0.8 0h1.2m18.8 0h1.2m4.8 0h1.2m-0.2 0h1.2m0.8 0h1.2m1.8 0h1.2m-0.2 0h1.2m-0.2 0h1.2m-0.2 0h1.2m3.8 0h1.2m7.8 0h1.2m-61.2 1h1.2m2.8 0h1.2m-0.2 0h1.2m-0.2 0h1.2m-0.2 0h1.2m2.8 0h1.2m-0.2 0h1.2m-0.2 0h1.2m-0.2 0h1.2m14.8 0h1.2m1.8 0h1.2m-0.2 0h1.2m1.8 0h1.2m1.8 0h1.2m1.8 0h1.2m0.8 0h1.2m1.8 0h1.2m1.8 0h1.2m2.8 0h1.2m-0.2 0h1.2m8.8 0h1.2m-70.2 1h1.2m-0.2 0h1.2m-0.2 0h1.2m2.8 0h1.2m-0.2 0h1.2m0.8 0h1.2m0.8 0h1.2m1.8 0h1.2m-0.2 0h1.2m-0.2 0h1.2m0.8 0h1.2m-0.2 0h1.2m0.8 0h1.2m-0.2 0h1.2m0.8 0h1.2m1.8 0h1.2m5.8 0h1.2m5.8 0h1.2m0.8 0h1.2m-0.2 0h1.2m-0.2 0h1.2m0.8 0h1.2m1.8 0h1.2m3.8 0h1.2m-68.2 1h1.2m-0.2 0h1.2m4.8 0h1.2m3.8 0h1.2m2.8 0h1.2m-0.2 0h1.2m0.8 0h1.2m-0.2 0h1.2m0.8 0h1.2m1.8 0h1.2m1.8 0h1.2m3.8 0h1.2m2.8 0h1.2m-0.2 0h1.2m2.8 0h1.2m2.8 0h1.2m1.8 0h1.2m-0.2 0h1.2m1.8 0h1.2m0.8 0h1.2m-0.2 0h1.2m1.8 0h1.2m3.8 0h1.2m1.8 0h1.2m-0.2 0h1.2m-0.2 0h1.2m-58.2 1h1.2m2.8 0h1.2m0.8 0h1.2m1.8 0h1.2m-0.2 0h1.2m-0.2 0h1.2m-0.2 0h1.2m0.8 0h1.2m-0.2 0h1.2m-0.2 0h1.2m0.8 0h1.2m0.8 0h1.2m0.8 0h1.2m1.8 0h1.2m-0.2 0h1.2m1.8 0h1.2m-0.2 0h1.2m-0.2 0h1.2m-0.2 0h1.2m0.8 0h1.2m0.8 0h1.2m-0.2 0h1.2m0.8 0h1.2m0.8 0h1.2m3.8 0h1.2m-0.2 0h1.2m4.8 0h1.2m18.8 0h1.2m-85.2 1h1.2m6.8 0h1.2m0.8 0h1.2m-0.2 0h1.2m4.8 0h1.2m3.8 0h1.2m0.8 0h1.2m3.8 0h1.2m1.8 0h1.2m-0.2 0h1.2m1.8 0h1.2m0.8 0h1.2m1.8 0h1.2m-0.2 0h1.2m-0.2 0h1.2m-0.2 0h1.2m-0.2 0h1.2m3.8 0h1.2m-0.2 0h1.2m1.8 0h1.2m3.8 0h1.2m0.8 0h1.2m0.8 0h1.2m0.8 0h1.2m2.8 0h1.2m-100.2 1h1.2m2.8 0h1.2m38.8 0h1.2m1.8 0h1.2m-0.2 0h1.2m1.8 0h1.2m0.8 0h1.2m0.8 0h1.2m1.8 0h1.2m2.8 0h1.2m0.8 0h1.2m0.8 0h1.2m-0.2 0h1.2m0.8 0h1.2m0.8 0h1.2m-0.2 0h1.2m0.8 0h1.2m-0.2 0h1.2m-0.2 0h1.2m0.8 0h1.2m0.8 0h1.2m-0.2 0h1.2m0.8 0h1.2m0.8 0h1.2m16.8 0h1.2m1.8 0h1.2m-102.2 1h1.2m33.8 0h1.2m4.8 0h1.2m-0.2 0h1.2m0.8 0h1.2m5.8 0h1.2m6.8 0h1.2m2.8 0h1.2m0.8 0h1.2m0.8 0h1.2m-0.2 0h1.2m-0.2 0h1.2m-0.2 0h1.2m0.8 0h1.2m-0.2 0h1.2m1.8 0h1.2m-0.2 0h1.2m-0.2 0h1.2m2.8 0h1.2m-0.2 0h1.2m-70.2 1h1.2m13.8 0h1.2m15.8 0h1.2m-0.2 0h1.2m-0.2 0h1.2m-0.2 0h1.2m-0.2 0h1.2m-0.2 0h1.2m2.8 0h1.2m2.8 0h1.2m1.8 0h1.2m3.8 0h1.2m7.8 0h1.2m0.8 0h1.2m1.8 0h1.2m-74.2 1h1.2m27.8 0h1.2m-0.2 0h1.2m0.8 0h1.2m2.8 0h1.2m0.8 0h1.2m1.8 0h1.2m3.8 0h1.2m-0.2 0h1.2m1.8 0h1.2m0.8 0h1.2m-0.2 0h1.2m6.8 0h1.2m-0.2 0h1.2m-0.2 0h1.2m0.8 0h1.2m11.8 0h1.2m5.8 0h1.2m-75.2 1h1.2m10.8 0h1.2m0.8 0h1.2m7.8 0h1.2m-0.2 0h1.2m-0.2 0h1.2m-0.2 0h1.2m4.8 0h1.2m0.8 0h1.2m1.8 0h1.2m-0.2 0h1.2m1.8 0h1.2m2.8 0h1.2m1.8 0h1.2m0.8 0h1.2m4.8 0h1.2m0.8 0h1.2m-0.2 0h1.2m1.8 0h1.2m5.8 0h1.2m-0.2 0h1.2m-93.2 1h1.2m9.8 0h1.2m15.8 0h1.2m11.8 0h1.2m-0.2 0h1.2m0.8 0h1.2m0.8 0h1.2m2.8 0h1.2m1.8 0h1.2m16.8 0h1.2m-0.2 0h1.2m3.8 0h1.2m-0.2 0h1.2m10.8 0h1.2m-74.2 1h1.2m11.8 0h1.2m1.8 0h1.2m6.8 0h1.2m1.8 0h1.2m1.8 0h1.2m3.8 0h1.2m2.8 0h1.2m0.8 0h1.2m1.8 0h1.2m-0.2 0h1.2m-0.2 0h1.2m-0.2 0h1.2m6.8 0h1.2m2.8 0h1.2m7.8 0h1.2m3.8 0h1.2m0.8 0h1.2m1.8 0h1.2m7.8 0h1.2m-84.2 1h1.2m0.8 0h1.2m10.8 0h1.2m-0.2 0h1.2m4.8 0h1.2m1.8 0h1.2m0.8 0h1.2m5.8 0h1.2m2.8 0h1.2m3.8 0h1.2m1.8 0h1.2m1.8 0h1.2m3.8 0h1.2m0.8 0h1.2m15.8 0h1.2m18.8 0h1.2m-91.2 1h1.2m6.8 0h1.2m8.8 0h1.2m0.8 0h1.2m-0.2 0h1.2m0.8 0h1.2m3.8 0h1.2m0.8 0h1.2m0.8 0h1.2m-0.2 0h1.2m3.8 0h1.2m1.8 0h1.2m3.8 0h1.2m-0.2 0h1.2m2.8 0h1.2m24.8 0h1.2m-69.2 1h1.2m0.8 0h1.2m-0.2 0h1.2m0.8 0h1.2m0.8 0h1.2m2.8 0h1.2m2.8 0h1.2m4.8 0h1.2m0.8 0h1.2m6.8 0h1.2m0.8 0h1.2m1.8 0h1.2m-0.2 0h1.2m1.8 0h1.2m5.8 0h1.2m6.8 0h1.2m-145.2 1h1.2m44.8 0h1.2m17.8 0h1.2m17.8 0h1.2m1.8 0h1.2m3.8 0h1.2m1.8 0h1.2m1.8 0h1.2m2.8 0h1.2m0.8 0h1.2m1.8 0h1.2m0.8 0h1.2m0.8 0h1.2m-0.2 0h1.2m1.8 0h1.2m1.8 0h1.2m-0.2 0h1.2m0.8 0h1.2m1.8 0h1.2m1.8 0h1.2m4.8 0h1.2m-89.2 1h1.2m9.8 0h1.2m7.8 0h1.2m8.8 0h1.2m4.8 0h1.2m0.8 0h1.2m6.8 0h1.2m7.8 0h1.2m2.8 0h1.2m-0.2 0h1.2m1.8 0h1.2m1.8 0h1.2m3.8 0h1.2m-0.2 0h1.2m-0.2 0h1.2m2.8 0h1.2m4.8 0h1.2m0.8 0h1.2m4.8 0h1.2m-0.2 0h1.2m-90.2 1h1.2m8.8 0h1.2m4.8 0h1.2m10.8 0h1.2m-0.2 0h1.2m-0.2 0h1.2m1.8 0h1.2m2.8 0h1.2m4.8 0h1.2m2.8 0h1.2m-0.2 0h1.2m2.8 0h1.2m-0.2 0h1.2m5.8 0h1.2m3.8 0h1.2m0.8 0h1.2m1.8 0h1.2m-0.2 0h1.2m3.8 0h1.2m7.8 0h1.2m10.8 0h1.2m1.8 0h1.2m2.8 0h1.2m-82.2 1h1.2m1.8 0h1.2m6.8 0h1.2m-0.2 0h1.2m1.8 0h1.2m2.8 0h1.2m-0.2 0h1.2m1.8 0h1.2m0.8 0h1.2m1.8 0h1.2m2.8 0h1.2m3.8 0h1.2m1.8 0h1.2m14.8 0h1.2m3.8 0h1.2m0.8 0h1.2m-0.2 0h1.2m0.8 0h1.2m0.8 0h1.2m-126.2 1h1.2m42.8 0h1.2m6.8 0h1.2m0.8 0h1.2m8.8 0h1.2m0.8 0h1.2m6.8 0h1.2m7.8 0h1.2m5.8 0h1.2m-0.2 0h1.2m4.8 0h1.2m-0.2 0h1.2m-0.2 0h1.2m8.8 0h1.2m-0.2 0h1.2m2.8 0h1.2m1.8 0h1.2m1.8 0h1.2m-0.2 0h1.2m14.8 0h1.2m-150.2 1h1.2m25.8 0h1.2m22.8 0h1.2m11.8 0h1.2m-0.2 0h1.2m-0.2 0h1.2m5.8 0h1.2m3.8 0h1.2m1.8 0h1.2m1.8 0h1.2m-0.2 0h1.2m1.8 0h1.2m5.8 0h1.2m1.8 0h1.2m1.8 0h1.2m4.8 0h1.2m0.8 0h1.2m0.8 0h1.2m0.8 0h1.2m-0.2 0h1.2m-0.2 0h1.2m0.8 0h1.2m1.8 0h1.2m-0.2 0h1.2m2.8 0h1.2m1.8 0h1.2m-0.2 0h1.2m-0.2 0h1.2m11.8 0h1.2m-146.2 1h1.2m58.8 0h1.2m0.8 0h1.2m4.8 0h1.2m0.8 0h1.2m3.8 0h1.2m5.8 0h1.2m-0.2 0h1.2m3.8 0h1.2m-0.2 0h1.2m2.8 0h1.2m-0.2 0h1.2m0.8 0h1.2m1.8 0h1.2m1.8 0h1.2m2.8 0h1.2m0.8 0h1.2m1.8 0h1.2m2.8 0h1.2m1.8 0h1.2m1.8 0h1.2m5.8 0h1.2m5.8 0h1.2m3.8 0h1.2m-0.2 0h1.2m-118.2 1h1.2m36.8 0h1.2m-0.2 0h1.2m0.8 0h1.2m8.8 0h1.2m2.8 0h1.2m3.8 0h1.2m0.8 0h1.2m-0.2 0h1.2m5.8 0h1.2m1.8 0h1.2m-0.2 0h1.2m1.8 0h1.2m-0.2 0h1.2m6.8 0h1.2m0.8 0h1.2m5.8 0h1.2m-0.2 0h1.2m-0.2 0h1.2m-0.2 0h1.2m1.8 0h1.2m-0.2 0h1.2m9.8 0h1.2m-140.2 1h1.2m27.8 0h1.2m15.8 0h1.2m8.8 0h1.2m7.8 0h1.2m-0.2 0h1.2m0.8 0h1.2m1.8 0h1.2m1.8 0h1.2m0.8 0h1.2m4.8 0h1.2m2.8 0h1.2m0.8 0h1.2m2.8 0h1.2m2.8 0h1.2m0.8 0h1.2m3.8 0h1.2m1.8 0h1.2m-0.2 0h1.2m3.8 0h1.2m0.8 0h1.2m-0.2 0h1.2m4.8 0h1.2m1.8 0h1.2m11.8 0h1.2m7.8 0h1.2m-0.2 0h1.2m-0.2 0h1.2m11.8 0h1.2m-120.2 1h1.2m8.8 0h1.2m1.8 0h1.2m1.8 0h1.2m2.8 0h1.2m2.8 0h1.2m0.8 0h1.2m1.8 0h1.2m0.8 0h1.2m3.8 0h1.2m2.8 0h1.2m-0.2 0h1.2m-0.2 0h1.2m-0.2 0h1.2m2.8 0h1.2m1.8 0h1.2m-0.2 0h1.2m3.8 0h1.2m2.8 0h1.2m4.8 0h1.2m-0.2 0h1.2m-0.2 0h1.2m-0.2 0h1.2m0.8 0h1.2m0.8 0h1.2m0.8 0h1.2m-0.2 0h1.2m-0.2 0h1.2m0.8 0h1.2m1.8 0h1.2m0.8 0h1.2m-0.2 0h1.2m-0.2 0h1.2m5.8 0h1.2m0.8 0h1.2m5.8 0h1.2m0.8 0h1.2m-103.2 1h1.2m2.8 0h1.2m-0.2 0h1.2m1.8 0h1.2m5.8 0h1.2m1.8 0h1.2m0.8 0h1.2m-0.2 0h1.2m-0.2 0h1.2m-0.2 0h1.2m4.8 0h1.2m-0.2 0h1.2m-0.2 0h1.2m6.8 0h1.2m6.8 0h1.2m-0.2 0h1.2m0.8 0h1.2m0.8 0h1.2m0.8 0h1.2m-0.2 0h1.2m0.8 0h1.2m0.8 0h1.2m1.8 0h1.2m0.8 0h1.2m-0.2 0h1.2m0.8 0h1.2m4.8 0h1.2m3.8 0h1.2m5.8 0h1.2m4.8 0h1.2m7.8 0h1.2m-112.2 1h1.2m5.8 0h1.2m5.8 0h1.2m1.8 0h1.2m1.8 0h1.2m0.8 0h1.2m0.8 0h1.2m-0.2 0h1.2m5.8 0h1.2m2.8 0h1.2m-0.2 0h1.2m0.8 0h1.2m1.8 0h1.2m0.8 0h1.2m1.8 0h1.2m3.8 0h1.2m-0.2 0h1.2m-0.2 0h1.2m2.8 0h1.2m-0.2 0h1.2m2.8 0h1.2m2.8 0h1.2m-0.2 0h1.2m0.8 0h1.2m-0.2 0h1.2m0.8 0h1.2m-0.2 0h1.2m0.8 0h1.2m1.8 0h1.2m1.8 0h1.2m0.8 0h1.2m-0.2 0h1.2m0.8 0h1.2m0.8 0h1.2m0.8 0h1.2m4.8 0h1.2m1.8 0h1.2m3.8 0h1.2m0.8 0h1.2m-151.2 1h1.2m12.8 0h1.2m12.8 0h1.2m0.8 0h1.2m12.8 0h1.2m6.8 0h1.2m1.8 0h1.2m5.8 0h1.2m-0.2 0h1.2m0.8 0h1.2m1.8 0h1.2m-0.2 0h1.2m-0.2 0h1.2m1.8 0h1.2m-0.2 0h1.2m-0.2 0h1.2m2.8 0h1.2m-0.2 0h1.2m0.8 0h1.2m-0.2 0h1.2m0.8 0h1.2m0.8 0h1.2m0.8 0h1.2m-0.2 0h1.2m-0.2 0h1.2m-0.2 0h1.2m0.8 0h1.2m3.8 0h1.2m-0.2 0h1.2m1.8 0h1.2m-0.2 0h1.2m1.8 0h1.2m1.8 0h1.2m-0.2 0h1.2m2.8 0h1.2m-0.2 0h1.2m1.8 0h1.2m4.8 0h1.2m0.8 0h1.2m0.8 0h1.2m0.8 0h1.2m-0.2 0h1.2m-0.2 0h1.2m-0.2 0h1.2m-0.2 0h1.2m0.8 0h1.2m-0.2 0h1.2m2.8 0h1.2m15.8 0h1.2m-144.2 1h1.2m7.8 0h1.2m18.8 0h1.2m-0.2 0h1.2m3.8 0h1.2m6.8 0h1.2m-0.2 0h1.2m4.8 0h1.2m3.8 0h1.2m0.8 0h1.2m-0.2 0h1.2m1.8 0h1.2m0.8 0h1.2m0.8 0h1.2m1.8 0h1.2m-0.2 0h1.2m2.8 0h1.2m-0.2 0h1.2m0.8 0h1.2m-0.2 0h1.2m-0.2 0h1.2m-0.2 0h1.2m0.8 0h1.2m-0.2 0h1.2m1.8 0h1.2m-0.2 0h1.2m-0.2 0h1.2m-0.2 0h1.2m0.8 0h1.2m1.8 0h1.2m-0.2 0h1.2m0.8 0h1.2m0.8 0h1.2m0.8 0h1.2m2.8 0h1.2m-0.2 0h1.2m-0.2 0h1.2m-0.2 0h1.2m0.8 0h1.2m0.8 0h1.2m1.8 0h1.2m-0.2 0h1.2m-0.2 0h1.2m1.8 0h1.2m-0.2 0h1.2m1.8 0h1.2m0.8 0h1.2m4.8 0h1.2m20.8 0h1.2m-163.2 1h1.2m20.8 0h1.2m19.8 0h1.2m0.8 0h1.2m1.8 0h1.2m2.8 0h1.2m0.8 0h1.2m5.8 0h1.2m0.8 0h1.2m0.8 0h1.2m-0.2 0h1.2m0.8 0h1.2m-0.2 0h1.2m-0.2 0h1.2m0.8 0h1.2m-0.2 0h1.2m1.8 0h1.2m1.8 0h1.2m0.8 0h1.2m2.8 0h1.2m1.8 0h1.2m1.8 0h1.2m0.8 0h1.2m-0.2 0h1.2m-0.2 0h1.2m-0.2 0h1.2m0.8 0h1.2m0.8 0h1.2m-0.2 0h1.2m-0.2 0h1.2m0.8 0h1.2m-0.2 0h1.2m2.8 0h1.2m6.8 0h1.2m3.8 0h1.2m1.8 0h1.2m0.8 0h1.2m4.8 0h1.2m3.8 0h1.2m-0.2 0h1.2m7.8 0h1.2m-134.2 1h1.2m5.8 0h1.2m9.8 0h1.2m3.8 0h1.2m4.8 0h1.2m2.8 0h1.2m5.8 0h1.2m-0.2 0h1.2m0.8 0h1.2m-0.2 0h1.2m-0.2 0h1.2m0.8 0h1.2m4.8 0h1.2m4.8 0h1.2m6.8 0h1.2m2.8 0h1.2m2.8 0h1.2m1.8 0h1.2m-0.2 0h1.2m-0.2 0h1.2m1.8 0h1.2m-0.2 0h1.2m1.8 0h1.2m0.8 0h1.2m1.8 0h1.2m-0.2 0h1.2m4.8 0h1.2m-0.2 0h1.2m3.8 0h1.2m3.8 0h1.2m1.8 0h1.2m3.8 0h1.2m0.8 0h1.2m4.8 0h1.2m6.8 0h1.2m1.8 0h1.2m-172.2 1h1.2m37.8 0h1.2m5.8 0h1.2m-0.2 0h1.2m4.8 0h1.2m2.8 0h1.2m0.8 0h1.2m1.8 0h1.2m0.8 0h1.2m0.8 0h1.2m-0.2 0h1.2m1.8 0h1.2m-0.2 0h1.2m-0.2 0h1.2m0.8 0h1.2m2.8 0h1.2m-0.2 0h1.2m-0.2 0h1.2m-0.2 0h1.2m3.8 0h1.2m15.8 0h1.2m-0.2 0h1.2m0.8 0h1.2m1.8 0h1.2m0.8 0h1.2m0.8 0h1.2m1.8 0h1.2m1.8 0h1.2m2.8 0h1.2m0.8 0h1.2m2.8 0h1.2m-0.2 0h1.2m3.8 0h1.2m1.8 0h1.2m-0.2 0h1.2m0.8 0h1.2m-0.2 0h1.2m-0.2 0h1.2m1.8 0h1.2m4.8 0h1.2m-0.2 0h1.2m-0.2 0h1.2m-0.2 0h1.2m2.8 0h1.2m-141.2 1h1.2m16.8 0h1.2m12.8 0h1.2m0.8 0h1.2m0.8 0h1.2m0.8 0h1.2m2.8 0h1.2m2.8 0h1.2m3.8 0h1.2m0.8 0h1.2m-0.2 0h1.2m0.8 0h1.2m-0.2 0h1.2m1.8 0h1.2m6.8 0h1.2m16.8 0h1.2m2.8 0h1.2m10.8 0h1.2m-0.2 0h1.2m4.8 0h1.2m-0.2 0h1.2m-0.2 0h1.2m0.8 0h1.2m-0.2 0h1.2m1.8 0h1.2m-0.2 0h1.2m5.8 0h1.2m1.8 0h1.2m-0.2 0h1.2m-0.2 0h1.2m-0.2 0h1.2m11.8 0h1.2m1.8 0h1.2m-0.2 0h1.2m4.8 0h1.2m-155.2 1h1.2m42.8 0h1.2m1.8 0h1.2m1.8 0h1.2m-0.2 0h1.2m0.8 0h1.2m-0.2 0h1.2m0.8 0h1.2m0.8 0h1.2m37.8 0h1.2m-0.2 0h1.2m-0.2 0h1.2m-0.2 0h1.2m-0.2 0h1.2m3.8 0h1.2m0.8 0h1.2m2.8 0h1.2m-0.2 0h1.2m-0.2 0h1.2m0.8 0h1.2m2.8 0h1.2m-0.2 0h1.2m-0.2 0h1.2m3.8 0h1.2m-0.2 0h1.2m11.8 0h1.2m5.8 0h1.2m15.8 0h1.2m-178.2 1h1.2m17.8 0h1.2m7.8 0h1.2m11.8 0h1.2m0.8 0h1.2m0.8 0h1.2m-0.2 0h1.2m0.8 0h1.2m-0.2 0h1.2m5.8 0h1.2m-0.2 0h1.2m-0.2 0h1.2m-0.2 0h1.2m-0.2 0h1.2m44.8 0h1.2m1.8 0h1.2m0.8 0h1.2m3.8 0h1.2m-0.2 0h1.2m7.8 0h1.2m2.8 0h1.2m-0.2 0h1.2m3.8 0h1.2m1.8 0h1.2m11.8 0h1.2m2.8 0h1.2m0.8 0h1.2m1.8 0h1.2m18.8 0h1.2m-177.2 1h1.2m12.8 0h1.2m2.8 0h1.2m3.8 0h1.2m8.8 0h1.2m6.8 0h1.2m2.8 0h1.2m1.8 0h1.2m0.8 0h1.2m1.8 0h1.2m51.8 0h1.2m2.8 0h1.2m0.8 0h1.2m0.8 0h1.2m1.8 0h1.2m-0.2 0h1.2m-0.2 0h1.2m-0.2 0h1.2m6.8 0h1.2m-0.2 0h1.2m0.8 0h1.2m1.8 0h1.2m-0.2 0h1.2m1.8 0h1.2m-0.2 0h1.2m27.8 0h1.2m10.8 0h1.2m-186.2 1h1.2m7.8 0h1.2m17.8 0h1.2m18.8 0h1.2m0.8 0h1.2m0.8 0h1.2m-0.2 0h1.2m1.8 0h1.2m0.8 0h1.2m2.8 0h1.2m49.8 0h1.2m0.8 0h1.2m-0.2 0h1.2m-0.2 0h1.2m0.8 0h1.2m1.8 0h1.2m0.8 0h1.2m0.8 0h1.2m0.8 0h1.2m0.8 0h1.2m-0.2 0h1.2m-0.2 0h1.2m-0.2 0h1.2m1.8 0h1.2m-122.2 1h1.2m7.8 0h1.2m6.8 0h1.2m1.8 0h1.2m0.8 0h1.2m5.8 0h1.2m1.8 0h1.2m1.8 0h1.2m3.8 0h1.2m0.8 0h1.2m54.8 0h1.2m-0.2 0h1.2m1.8 0h1.2m-0.2 0h1.2m-0.2 0h1.2m-0.2 0h1.2m-0.2 0h1.2m-0.2 0h1.2m6.8 0h1.2m20.8 0h1.2m5.8 0h1.2m-148.2 1h1.2m7.8 0h1.2m2.8 0h1.2m6.8 0h1.2m-0.2 0h1.2m5.8 0h1.2m-0.2 0h1.2m0.8 0h1.2m2.8 0h1.2m3.8 0h1.2m-0.2 0h1.2m-0.2 0h1.2m-0.2 0h1.2m-0.2 0h1.2m49.8 0h1.2m-0.2 0h1.2m0.8 0h1.2m1.8 0h1.2m-0.2 0h1.2m2.8 0h1.2m0.8 0h1.2m-0.2 0h1.2m-0.2 0h1.2m2.8 0h1.2m1.8 0h1.2m-0.2 0h1.2m5.8 0h1.2m1.8 0h1.2m0.8 0h1.2m-0.2 0h1.2m-145.2 1h1.2m13.8 0h1.2m13.8 0h1.2m-0.2 0h1.2m1.8 0h1.2m1.8 0h1.2m0.8 0h1.2m6.8 0h1.2m-0.2 0h1.2m2.8 0h1.2m3.8 0h1.2m50.8 0h1.2m4.8 0h1.2m-0.2 0h1.2m-0.2 0h1.2m0.8 0h1.2m-0.2 0h1.2m6.8 0h1.2m-0.2 0h1.2m-0.2 0h1.2m-0.2 0h1.2m1.8 0h1.2m10.8 0h1.2m12.8 0h1.2m2.8 0h1.2m-160.2 1h1.2m10.8 0h1.2m0.8 0h1.2m2.8 0h1.2m2.8 0h1.2m0.8 0h1.2m2.8 0h1.2m9.8 0h1.2m-0.2 0h1.2m-0.2 0h1.2m1.8 0h1.2m-0.2 0h1.2m-0.2 0h1.2m0.8 0h1.2m57.8 0h1.2m-0.2 0h1.2m5.8 0h1.2m-0.2 0h1.2m0.8 0h1.2m-0.2 0h1.2m1.8 0h1.2m0.8 0h1.2m1.8 0h1.2m0.8 0h1.2m3.8 0h1.2m2.8 0h1.2m1.8 0h1.2m-0.2 0h1.2m10.8 0h1.2m-155.2 1h1.2m10.8 0h1.2m5.8 0h1.2m-0.2 0h1.2m15.8 0h1.2m-0.2 0h1.2m-0.2 0h1.2m3.8 0h1.2m2.8 0h1.2m0.8 0h1.2m60.8 0h1.2m1.8 0h1.2m0.8 0h1.2m1.8 0h1.2m1.8 0h1.2m6.8 0h1.2m-0.2 0h1.2m-0.2 0h1.2m0.8 0h1.2m1.8 0h1.2m3.8 0h1.2m-0.2 0h1.2m2.8 0h1.2m-154.2 1h1.2m3.8 0h1.2m5.8 0h1.2m3.8 0h1.2m0.8 0h1.2m0.8 0h1.2m8.8 0h1.2m1.8 0h1.2m2.8 0h1.2m1.8 0h1.2m-0.2 0h1.2m1.8 0h1.2m-0.2 0h1.2m-0.2 0h1.2m-0.2 0h1.2m2.8 0h1.2m58.8 0h1.2m-0.2 0h1.2m-0.2 0h1.2m0.8 0h1.2m0.8 0h1.2m-0.2 0h1.2m-0.2 0h1.2m5.8 0h1.2m0.8 0h1.2m11.8 0h1.2m0.8 0h1.2m-0.2 0h1.2m-131.2 1h1.2m0.8 0h1.2m2.8 0h1.2m0.8 0h1.2m3.8 0h1.2m1.8 0h1.2m-0.2 0h1.2m5.8 0h1.2m3.8 0h1.2m2.8 0h1.2m0.8 0h1.2m0.8 0h1.2m-0.2 0h1.2m57.8 0h1.2m0.8 0h1.2m0.8 0h1.2m1.8 0h1.2m-0.2 0h1.2m5.8 0h1.2m1.8 0h1.2m0.8 0h1.2m2.8 0h1.2m1.8 0h1.2m4.8 0h1.2m-146.2 1h1.2m7.8 0h1.2m1.8 0h1.2m3.8 0h1.2m5.8 0h1.2m1.8 0h1.2m0.8 0h1.2m2.8 0h1.2m-0.2 0h1.2m-0.2 0h1.2m-0.2 0h1.2m2.8 0h1.2m0.8 0h1.2m4.8 0h1.2m61.8 0h1.2m1.8 0h1.2m1.8 0h1.2m0.8 0h1.2m-0.2 0h1.2m0.8 0h1.2m4.8 0h1.2m-0.2 0h1.2m5.8 0h1.2m0.8 0h1.2m3.8 0h1.2m2.8 0h1.2m9.8 0h1.2m-144.2 1h1.2m4.8 0h1.2m1.8 0h1.2m2.8 0h1.2m-0.2 0h1.2m-0.2 0h1.2m0.8 0h1.2m-0.2 0h1.2m1.8 0h1.2m2.8 0h1.2m1.8 0h1.2m2.8 0h1.2m0.8 0h1.2m-0.2 0h1.2m-0.2 0h1.2m62.8 0h1.2m-0.2 0h1.2m-0.2 0h1.2m-0.2 0h1.2m1.8 0h1.2m0.8 0h1.2m1.8 0h1.2m0.8 0h1.2m1.8 0h1.2m-0.2 0h1.2m1.8 0h1.2m-143.2 1h1.2m10.8 0h1.2m2.8 0h1.2m1.8 0h1.2m1.8 0h1.2m2.8 0h1.2m0.8 0h1.2m3.8 0h1.2m1.8 0h1.2m-0.2 0h1.2m3.8 0h1.2m-0.2 0h1.2m-0.2 0h1.2m-0.2 0h1.2m-0.2 0h1.2m1.8 0h1.2m5.8 0h1.2m1.8 0h1.2m59.8 0h1.2m-0.2 0h1.2m1.8 0h1.2m0.8 0h1.2m-0.2 0h1.2m-0.2 0h1.2m0.8 0h1.2m1.8 0h1.2m-0.2 0h1.2m6.8 0h1.2m1.8 0h1.2m-130.2 1h1.2m1.8 0h1.2m1.8 0h1.2m11.8 0h1.2m-0.2 0h1.2m0.8 0h1.2m1.8 0h1.2m1.8 0h1.2m1.8 0h1.2m-0.2 0h1.2m-0.2 0h1.2m5.8 0h1.2m0.8 0h1.2m59.8 0h1.2m0.8 0h1.2m-0.2 0h1.2m4.8 0h1.2m0.8 0h1.2m-0.2 0h1.2m0.8 0h1.2m1.8 0h1.2m0.8 0h1.2m5.8 0h1.2m0.8 0h1.2m-136.2 1h1.2m5.8 0h1.2m3.8 0h1.2m7.8 0h1.2m0.8 0h1.2m2.8 0h1.2m2.8 0h1.2m-0.2 0h1.2m-0.2 0h1.2m2.8 0h1.2m0.8 0h1.2m-0.2 0h1.2m0.8 0h1.2m-0.2 0h1.2m-0.2 0h1.2m60.8 0h1.2m-0.2 0h1.2m0.8 0h1.2m1.8 0h1.2m-0.2 0h1.2m1.8 0h1.2m-0.2 0h1.2m1.8 0h1.2m2.8 0h1.2m15.8 0h1.2m-138.2 1h1.2m1.8 0h1.2m5.8 0h1.2m2.8 0h1.2m-0.2 0h1.2m4.8 0h1.2m1.8 0h1.2m-0.2 0h1.2m-0.2 0h1.2m2.8 0h1.2m-0.2 0h1.2m3.8 0h1.2m0.8 0h1.2m1.8 0h1.2m57.8 0h1.2m3.8 0h1.2m1.8 0h1.2m1.8 0h1.2m1.8 0h1.2m3.8 0h1.2m3.8 0h1.2m-0.2 0h1.2m1.8 0h1.2m-133.2 1h1.2m8.8 0h1.2m2.8 0h1.2m0.8 0h1.2m1.8 0h1.2m4.8 0h1.2m0.8 0h1.2m1.8 0h1.2m0.8 0h1.2m0.8 0h1.2m0.8 0h1.2m6.8 0h1.2m61.8 0h1.2m1.8 0h1.2m0.8 0h1.2m-0.2 0h1.2m1.8 0h1.2m6.8 0h1.2m2.8 0h1.2m10.8 0h1.2m1.8 0h1.2m-140.2 1h1.2m4.8 0h1.2m0.8 0h1.2m13.8 0h1.2m-0.2 0h1.2m0.8 0h1.2m0.8 0h1.2m0.8 0h1.2m1.8 0h1.2m3.8 0h1.2m59.8 0h1.2m0.8 0h1.2m0.8 0h1.2m-0.2 0h1.2m-0.2 0h1.2m1.8 0h1.2m-0.2 0h1.2m11.8 0h1.2m24.8 0h1.2m-165.2 1h1.2m5.8 0h1.2m3.8 0h1.2m2.8 0h1.2m1.8 0h1.2m3.8 0h1.2m0.8 0h1.2m3.8 0h1.2m1.8 0h1.2m0.8 0h1.2m-0.2 0h1.2m0.8 0h1.2m5.8 0h1.2m-0.2 0h1.2m0.8 0h1.2m-0.2 0h1.2m2.8 0h1.2m57.8 0h1.2m-0.2 0h1.2m1.8 0h1.2m0.8 0h1.2m-0.2 0h1.2m-0.2 0h1.2m-0.2 0h1.2m1.8 0h1.2m5.8 0h1.2m11.8 0h1.2m1.8 0h1.2m0.8 0h1.2m23.8 0h1.2m-169.2 1h1.2m7.8 0h1.2m1.8 0h1.2m1.8 0h1.2m12.8 0h1.2m-0.2 0h1.2m-0.2 0h1.2m3.8 0h1.2m-0.2 0h1.2m0.8 0h1.2m0.8 0h1.2m-0.2 0h1.2m-0.2 0h1.2m0.8 0h1.2m66.8 0h1.2m1.8 0h1.2m-0.2 0h1.2m4.8 0h1.2m-0.2 0h1.2m1.8 0h1.2m-0.2 0h1.2m-129.2 1h1.2m3.8 0h1.2m2.8 0h1.2m1.8 0h1.2m1.8 0h1.2m0.8 0h1.2m2.8 0h1.2m0.8 0h1.2m6.8 0h1.2m1.8 0h1.2m0.8 0h1.2m-0.2 0h1.2m0.8 0h1.2m2.8 0h1.2m65.8 0h1.2m-0.2 0h1.2m1.8 0h1.2m3.8 0h1.2m-0.2 0h1.2m1.8 0h1.2m7.8 0h1.2m-0.2 0h1.2m-129.2 1h1.2m2.8 0h1.2m1.8 0h1.2m3.8 0h1.2m15.8 0h1.2m1.8 0h1.2m3.8 0h1.2m-0.2 0h1.2m-0.2 0h1.2m63.8 0h1.2m1.8 0h1.2m0.8 0h1.2m1.8 0h1.2m-0.2 0h1.2m7.8 0h1.2m-0.2 0h1.2m3.8 0h1.2m-141.2 1h1.2m10.8 0h1.2m2.8 0h1.2m1.8 0h1.2m1.8 0h1.2m0.8 0h1.2m2.8 0h1.2m1.8 0h1.2m0.8 0h1.2m-0.2 0h1.2m1.8 0h1.2m2.8 0h1.2m0.8 0h1.2m0.8 0h1.2m-0.2 0h1.2m0.8 0h1.2m0.8 0h1.2m62.8 0h1.2m-0.2 0h1.2m-0.2 0h1.2m2.8 0h1.2m1.8 0h1.2m-0.2 0h1.2m0.8 0h1.2m0.8 0h1.2m2.8 0h1.2m2.8 0h1.2m0.8 0h1.2m-123.2 1h1.2m1.8 0h1.2m1.8 0h1.2m2.8 0h1.2m2.8 0h1.2m0.8 0h1.2m-0.2 0h1.2m-0.2 0h1.2m0.8 0h1.2m1.8 0h1.2m-0.2 0h1.2m0.8 0h1.2m0.8 0h1.2m2.8 0h1.2m0.8 0h1.2m61.8 0h1.2m0.8 0h1.2m-0.2 0h1.2m3.8 0h1.2m4.8 0h1.2m2.8 0h1.2m14.8 0h1.2m-141.2 1h1.2m10.8 0h1.2m1.8 0h1.2m6.8 0h1.2m3.8 0h1.2m4.8 0h1.2m0.8 0h1.2m0.8 0h1.2m2.8 0h1.2m0.8 0h1.2m0.8 0h1.2m55.8 0h1.2m-0.2 0h1.2m-0.2 0h1.2m0.8 0h1.2m1.8 0h1.2m13.8 0h1.2m6.8 0h1.2m13.8 0h1.2m-149.2 1h1.2m17.8 0h1.2m4.8 0h1.2m-0.2 0h1.2m-0.2 0h1.2m-0.2 0h1.2m0.8 0h1.2m-0.2 0h1.2m2.8 0h1.2m3.8 0h1.2m-0.2 0h1.2m-0.2 0h1.2m59.8 0h1.2m0.8 0h1.2m-0.2 0h1.2m-0.2 0h1.2m-0.2 0h1.2m-0.2 0h1.2m2.8 0h1.2m3.8 0h1.2m12.8 0h1.2m10.8 0h1.2m-0.2 0h1.2m-153.2 1h1.2m5.8 0h1.2m3.8 0h1.2m5.8 0h1.2m1.8 0h1.2m0.8 0h1.2m14.8 0h1.2m-0.2 0h1.2m-0.2 0h1.2m-0.2 0h1.2m-0.2 0h1.2m1.8 0h1.2m0.8 0h1.2m57.8 0h1.2m1.8 0h1.2m0.8 0h1.2m1.8 0h1.2m-0.2 0h1.2m5.8 0h1.2m-0.2 0h1.2m0.8 0h1.2m26.8 0h1.2m7.8 0h1.2m-153.2 1h1.2m5.8 0h1.2m1.8 0h1.2m4.8 0h1.2m0.8 0h1.2m-0.2 0h1.2m5.8 0h1.2m1.8 0h1.2m-0.2 0h1.2m1.8 0h1.2m2.8 0h1.2m0.8 0h1.2m1.8 0h1.2m50.8 0h1.2m0.8 0h1.2m-0.2 0h1.2m0.8 0h1.2m3.8 0h1.2m-0.2 0h1.2m1.8 0h1.2m-0.2 0h1.2m6.8 0h1.2m19.8 0h1.2m-144.2 1h1.2m7.8 0h1.2m1.8 0h1.2m5.8 0h1.2m0.8 0h1.2m0.8 0h1.2m-0.2 0h1.2m2.8 0h1.2m2.8 0h1.2m0.8 0h1.2m-0.2 0h1.2m-0.2 0h1.2m-0.2 0h1.2m0.8 0h1.2m-0.2 0h1.2m-0.2 0h1.2m1.8 0h1.2m-0.2 0h1.2m-0.2 0h1.2m52.8 0h1.2m0.8 0h1.2m0.8 0h1.2m-0.2 0h1.2m-0.2 0h1.2m3.8 0h1.2m-93.2 1h1.2m2.8 0h1.2m3.8 0h1.2m0.8 0h1.2m5.8 0h1.2m0.8 0h1.2m0.8 0h1.2m3.8 0h1.2m0.8 0h1.2m47.8 0h1.2m-0.2 0h1.2m0.8 0h1.2m0.8 0h1.2m2.8 0h1.2m-0.2 0h1.2m3.8 0h1.2m1.8 0h1.2m5.8 0h1.2m0.8 0h1.2m4.8 0h1.2m0.8 0h1.2m-140.2 1h1.2m14.8 0h1.2m8.8 0h1.2m0.8 0h1.2m7.8 0h1.2m-0.2 0h1.2m5.8 0h1.2m0.8 0h1.2m1.8 0h1.2m1.8 0h1.2m47.8 0h1.2m1.8 0h1.2m2.8 0h1.2m2.8 0h1.2m-0.2 0h1.2m-0.2 0h1.2m0.8 0h1.2m1.8 0h1.2m-0.2 0h1.2m3.8 0h1.2m-101.2 1h1.2m4.8 0h1.2m1.8 0h1.2m-0.2 0h1.2m1.8 0h1.2m1.8 0h1.2m56.8 0h1.2m0.8 0h1.2m0.8 0h1.2m-0.2 0h1.2m-0.2 0h1.2m-0.2 0h1.2m2.8 0h1.2m1.8 0h1.2m-0.2 0h1.2m11.8 0h1.2m31.8 0h1.2m-138.2 1h1.2m2.8 0h1.2m2.8 0h1.2m0.8 0h1.2m2.8 0h1.2m0.8 0h1.2m-0.2 0h1.2m-0.2 0h1.2m3.8 0h1.2m0.8 0h1.2m1.8 0h1.2m0.8 0h1.2m-0.2 0h1.2m43.8 0h1.2m0.8 0h1.2m2.8 0h1.2m-0.2 0h1.2m-0.2 0h1.2m1.8 0h1.2m-0.2 0h1.2m0.8 0h1.2m-0.2 0h1.2m1.8 0h1.2m0.8 0h1.2m-99.2 1h1.2m10.8 0h1.2m4.8 0h1.2m-0.2 0h1.2m2.8 0h1.2m3.8 0h1.2m1.8 0h1.2m1.8 0h1.2m40.8 0h1.2m0.8 0h1.2m0.8 0h1.2m1.8 0h1.2m-0.2 0h1.2m0.8 0h1.2m6.8 0h1.2m3.8 0h1.2m2.8 0h1.2m6.8 0h1.2m-118.2 1h1.2m1.8 0h1.2m5.8 0h1.2m3.8 0h1.2m-0.2 0h1.2m2.8 0h1.2m0.8 0h1.2m4.8 0h1.2m3.8 0h1.2m1.8 0h1.2m2.8 0h1.2m-0.2 0h1.2m37.8 0h1.2m7.8 0h1.2m-0.2 0h1.2m2.8 0h1.2m4.8 0h1.2m31.8 0h1.2m-126.2 1h1.2m7.8 0h1.2m1.8 0h1.2m5.8 0h1.2m-0.2 0h1.2m2.8 0h1.2m-0.2 0h1.2m-0.2 0h1.2m-0.2 0h1.2m0.8 0h1.2m44.8 0h1.2m0.8 0h1.2m-0.2 0h1.2m0.8 0h1.2m-0.2 0h1.2m-0.2 0h1.2m0.8 0h1.2m4.8 0h1.2m3.8 0h1.2m21.8 0h1.2m-136.2 1h1.2m13.8 0h1.2m16.8 0h1.2m1.8 0h1.2m3.8 0h1.2m3.8 0h1.2m-0.2 0h1.2m1.8 0h1.2m36.8 0h1.2m2.8 0h1.2m2.8 0h1.2m3.8 0h1.2m8.8 0h1.2m20.8 0h1.2m22.8 0h1.2m-153.2 1h1.2m12.8 0h1.2m10.8 0h1.2m4.8 0h1.2m2.8 0h1.2m-0.2 0h1.2m-0.2 0h1.2m-0.2 0h1.2m-0.2 0h1.2m0.8 0h1.2m0.8 0h1.2m-0.2 0h1.2m0.8 0h1.2m30.8 0h1.2m3.8 0h1.2m1.8 0h1.2m1.8 0h1.2m0.8 0h1.2m-0.2 0h1.2m12.8 0h1.2m-0.2 0h1.2m4.8 0h1.2m-0.2 0h1.2m-91.2 1h1.2m0.8 0h1.2m17.8 0h1.2m31.8 0h1.2m4.8 0h1.2m0.8 0h1.2m-0.2 0h1.2m-0.2 0h1.2m-0.2 0h1.2m-0.2 0h1.2m-0.2 0h1.2m17.8 0h1.2m15.8 0h1.2m-99.2 1h1.2m1.8 0h1.2m3.8 0h1.2m3.8 0h1.2m-0.2 0h1.2m0.8 0h1.2m-0.2 0h1.2m37.8 0h1.2m-0.2 0h1.2m1.8 0h1.2m-0.2 0h1.2m-0.2 0h1.2m0.8 0h1.2m-0.2 0h1.2m1.8 0h1.2m5.8 0h1.2m14.8 0h1.2m29.8 0h1.2m-137.2 1h1.2m16.8 0h1.2m0.8 0h1.2m2.8 0h1.2m-0.2 0h1.2m7.8 0h1.2m26.8 0h1.2m3.8 0h1.2m-0.2 0h1.2m0.8 0h1.2m-0.2 0h1.2m2.8 0h1.2m3.8 0h1.2m1.8 0h1.2m0.8 0h1.2m-0.2 0h1.2m-0.2 0h1.2m-0.2 0h1.2m29.8 0h1.2m-136.2 1h1.2m8.8 0h1.2m18.8 0h1.2m3.8 0h1.2m0.8 0h1.2m1.8 0h1.2m-0.2 0h1.2m1.8 0h1.2m-0.2 0h1.2m0.8 0h1.2m28.8 0h1.2m0.8 0h1.2m1.8 0h1.2m1.8 0h1.2m1.8 0h1.2m-0.2 0h1.2m0.8 0h1.2m-0.2 0h1.2m0.8 0h1.2m2.8 0h1.2m0.8 0h1.2m6.8 0h1.2m1.8 0h1.2m-75.2 1h1.2m-0.2 0h1.2m-0.2 0h1.2m-0.2 0h1.2m-0.2 0h1.2m3.8 0h1.2m0.8 0h1.2m-0.2 0h1.2m-0.2 0h1.2m-0.2 0h1.2m13.8 0h1.2m9.8 0h1.2m2.8 0h1.2m0.8 0h1.2m-0.2 0h1.2m-0.2 0h1.2m5.8 0h1.2m4.8 0h1.2m-0.2 0h1.2m2.8 0h1.2m8.8 0h1.2m-85.2 1h1.2m4.8 0h1.2m-0.2 0h1.2m0.8 0h1.2m1.8 0h1.2m1.8 0h1.2m-0.2 0h1.2m-0.2 0h1.2m0.8 0h1.2m1.8 0h1.2m-0.2 0h1.2m0.8 0h1.2m17.8 0h1.2m5.8 0h1.2m0.8 0h1.2m1.8 0h1.2m-0.2 0h1.2m-0.2 0h1.2m7.8 0h1.2m0.8 0h1.2m16.8 0h1.2m29.8 0h1.2m7.8 0h1.2m-122.2 1h1.2m0.8 0h1.2m0.8 0h1.2m1.8 0h1.2m0.8 0h1.2m-0.2 0h1.2m3.8 0h1.2m0.8 0h1.2m-0.2 0h1.2m-0.2 0h1.2m6.8 0h1.2m3.8 0h1.2m-0.2 0h1.2m7.8 0h1.2m2.8 0h1.2m-0.2 0h1.2m0.8 0h1.2m5.8 0h1.2m1.8 0h1.2m4.8 0h1.2m0.8 0h1.2m0.8 0h1.2m11.8 0h1.2m31.8 0h1.2m-151.2 1h1.2m28.8 0h1.2m2.8 0h1.2m3.8 0h1.2m-0.2 0h1.2m5.8 0h1.2m1.8 0h1.2m-0.2 0h1.2m-0.2 0h1.2m0.8 0h1.2m0.8 0h1.2m1.8 0h1.2m3.8 0h1.2m2.8 0h1.2m3.8 0h1.2m1.8 0h1.2m-0.2 0h1.2m-0.2 0h1.2m3.8 0h1.2m-0.2 0h1.2m6.8 0h1.2m5.8 0h1.2m5.8 0h1.2m3.8 0h1.2m16.8 0h1.2m-102.2 1h1.2m0.8 0h1.2m0.8 0h1.2m4.8 0h1.2m3.8 0h1.2m-0.2 0h1.2m0.8 0h1.2m0.8 0h1.2m0.8 0h1.2m0.8 0h1.2m1.8 0h1.2m-0.2 0h1.2m-0.2 0h1.2m3.8 0h1.2m4.8 0h1.2m1.8 0h1.2m-0.2 0h1.2m0.8 0h1.2m-0.2 0h1.2m1.8 0h1.2m-0.2 0h1.2m-0.2 0h1.2m0.8 0h1.2m0.8 0h1.2m-0.2 0h1.2m0.8 0h1.2m-0.2 0h1.2m1.8 0h1.2m12.8 0h1.2m10.8 0h1.2m7.8 0h1.2m-94.2 1h1.2m1.8 0h1.2m3.8 0h1.2m0.8 0h1.2m0.8 0h1.2m1.8 0h1.2m3.8 0h1.2m1.8 0h1.2m1.8 0h1.2m2.8 0h1.2m0.8 0h1.2m4.8 0h1.2m1.8 0h1.2m0.8 0h1.2m-0.2 0h1.2m-0.2 0h1.2m0.8 0h1.2m0.8 0h1.2m-0.2 0h1.2m3.8 0h1.2m5.8 0h1.2m1.8 0h1.2m1.8 0h1.2m-77.2 1h1.2m10.8 0h1.2m2.8 0h1.2m-0.2 0h1.2m5.8 0h1.2m2.8 0h1.2m1.8 0h1.2m2.8 0h1.2m0.8 0h1.2m6.8 0h1.2m2.8 0h1.2m6.8 0h1.2m-46.2 1h1.2m2.8 0h1.2m0.8 0h1.2m1.8 0h1.2m0.8 0h1.2m-0.2 0h1.2m-0.2 0h1.2m-0.2 0h1.2m2.8 0h1.2m0.8 0h1.2m-0.2 0h1.2m3.8 0h1.2m3.8 0h1.2m-0.2 0h1.2m-0.2 0h1.2m-0.2 0h1.2m7.8 0h1.2m-0.2 0h1.2m-0.2 0h1.2m3.8 0h1.2m-0.2 0h1.2m3.8 0h1.2m0.8 0h1.2m0.8 0h1.2m-0.2 0h1.2m-0.2 0h1.2m1.8 0h1.2m-74.2 1h1.2m5.8 0h1.2m5.8 0h1.2m3.8 0h1.2m4.8 0h1.2m3.8 0h1.2m-0.2 0h1.2m-0.2 0h1.2m-0.2 0h1.2m-0.2 0h1.2m1.8 0h1.2m-0.2 0h1.2m6.8 0h1.2m1.8 0h1.2m-0.2 0h1.2m-0.2 0h1.2m0.8 0h1.2m5.8 0h1.2m-0.2 0h1.2m5.8 0h1.2m6.8 0h1.2m-64.2 1h1.2m0.8 0h1.2m-0.2 0h1.2m3.8 0h1.2m0.8 0h1.2m2.8 0h1.2m1.8 0h1.2m5.8 0h1.2m-0.2 0h1.2m0.8 0h1.2m-0.2 0h1.2m0.8 0h1.2m0.8 0h1.2m-0.2 0h1.2m0.8 0h1.2m-0.2 0h1.2m-0.2 0h1.2m-0.2 0h1.2m-0.2 0h1.2m-0.2 0h1.2m-0.2 0h1.2m-0.2 0h1.2m4.8 0h1.2m6.8 0h1.2m-59.2 1h1.2m1.8 0h1.2m-0.2 0h1.2m0.8 0h1.2m0.8 0h1.2m0.8 0h1.2m1.8 0h1.2m-0.2 0h1.2m0.8 0h1.2m0.8 0h1.2m0.8 0h1.2m-0.2 0h1.2m-0.2 0h1.2m-0.2 0h1.2m1.8 0h1.2m-0.2 0h1.2m-0.2 0h1.2m-0.2 0h1.2m-0.2 0h1.2m0.8 0h1.2m0.8 0h1.2m-0.2 0h1.2m1.8 0h1.2m5.8 0h1.2m1.8 0h1.2m8.8 0h1.2m12.8 0h1.2m-99.2 1h1.2m19.8 0h1.2m-0.2 0h1.2m1.8 0h1.2m2.8 0h1.2m-0.2 0h1.2m1.8 0h1.2m3.8 0h1.2m0.8 0h1.2m3.8 0h1.2m2.8 0h1.2m0.8 0h1.2m0.8 0h1.2m1.8 0h1.2m1.8 0h1.2m2.8 0h1.2m-0.2 0h1.2m-0.2 0h1.2m-0.2 0h1.2m-0.2 0h1.2m-0.2 0h1.2m-0.2 0h1.2m3.8 0h1.2m0.8 0h1.2m-0.2 0h1.2m1.8 0h1.2m-0.2 0h1.2m7.8 0h1.2m-73.2 1h1.2m8.8 0h1.2m7.8 0h1.2m4.8 0h1.2m3.8 0h1.2m0.8 0h1.2m-0.2 0h1.2m1.8 0h1.2m-0.2 0h1.2m0.8 0h1.2m0.8 0h1.2m-0.2 0h1.2m0.8 0h1.2m-0.2 0h1.2m3.8 0h1.2m0.8 0h1.2m-0.2 0h1.2m-0.2 0h1.2m1.8 0h1.2m8.8 0h1.2m8.8 0h1.2m10.8 0h1.2m1.8 0h1.2m-80.2 1h1.2m-0.2 0h1.2m1.8 0h1.2m3.8 0h1.2m-0.2 0h1.2m0.8 0h1.2m-0.2 0h1.2m-0.2 0h1.2m-0.2 0h1.2m0.8 0h1.2m0.8 0h1.2m0.8 0h1.2m0.8 0h1.2m-0.2 0h1.2m2.8 0h1.2m0.8 0h1.2m0.8 0h1.2m0.8 0h1.2m1.8 0h1.2m0.8 0h1.2m0.8 0h1.2m4.8 0h1.2m2.8 0h1.2m1.8 0h1.2m0.8 0h1.2m-0.2 0h1.2m-0.2 0h1.2m34.8 0h1.2m-105.2 1h1.2m4.8 0h1.2m0.8 0h1.2m9.8 0h1.2m0.8 0h1.2m0.8 0h1.2m3.8 0h1.2m1.8 0h1.2m1.8 0h1.2m-0.2 0h1.2m-0.2 0h1.2m-0.2 0h1.2m0.8 0h1.2m-0.2 0h1.2m-0.2 0h1.2m-0.2 0h1.2m0.8 0h1.2m0.8 0h1.2m5.8 0h1.2m0.8 0h1.2m7.8 0h1.2m19.8 0h1.2m29.8 0h1.2m-107.2 1h1.2m5.8 0h1.2m-0.2 0h1.2m4.8 0h1.2m3.8 0h1.2m-0.2 0h1.2m-0.2 0h1.2m0.8 0h1.2m0.8 0h1.2m2.8 0h1.2m1.8 0h1.2m0.8 0h1.2m-0.2 0h1.2m-0.2 0h1.2m-0.2 0h1.2m7.8 0h1.2m3.8 0h1.2m1.8 0h1.2m5.8 0h1.2m26.8 0h1.2m-95.2 1h1.2m0.8 0h1.2m2.8 0h1.2m1.8 0h1.2m1.8 0h1.2m3.8 0h1.2m1.8 0h1.2m0.8 0h1.2m-0.2 0h1.2m1.8 0h1.2m4.8 0h1.2m5.8 0h1.2m2.8 0h1.2m1.8 0h1.2m3.8 0h1.2m0.8 0h1.2m-0.2 0h1.2m15.8 0h1.2m3.8 0h1.2m4.8 0h1.2m6.8 0h1.2m-109.2 1h1.2m11.8 0h1.2m7.8 0h1.2m0.8 0h1.2m1.8 0h1.2m5.8 0h1.2m1.8 0h1.2m0.8 0h1.2m1.8 0h1.2m2.8 0h1.2m7.8 0h1.2m1.8 0h1.2m-0.2 0h1.2m1.8 0h1.2m0.8 0h1.2m1.8 0h1.2m0.8 0h1.2m-54.2 1h1.2m2.8 0h1.2m-0.2 0h1.2m0.8 0h1.2m-0.2 0h1.2m3.8 0h1.2m-0.2 0h1.2m1.8 0h1.2m2.8 0h1.2m-0.2 0h1.2m-0.2 0h1.2m1.8 0h1.2m-0.2 0h1.2m1.8 0h1.2m-0.2 0h1.2m0.8 0h1.2m0.8 0h1.2m-0.2 0h1.2m0.8 0h1.2m-0.2 0h1.2m-0.2 0h1.2m9.8 0h1.2m1.8 0h1.2m3.8 0h1.2m5.8 0h1.2m8.8 0h1.2m20.8 0h1.2m-102.2 1h1.2m6.8 0h1.2m3.8 0h1.2m-0.2 0h1.2m-0.2 0h1.2m2.8 0h1.2m0.8 0h1.2m-0.2 0h1.2m1.8 0h1.2m1.8 0h1.2m-0.2 0h1.2m7.8 0h1.2m-0.2 0h1.2m-0.2 0h1.2m4.8 0h1.2m0.8 0h1.2m0.8 0h1.2m0.8 0h1.2m3.8 0h1.2m4.8 0h1.2m10.8 0h1.2m8.8 0h1.2m-93.2 1h1.2m1.8 0h1.2m6.8 0h1.2m9.8 0h1.2m1.8 0h1.2m3.8 0h1.2m-0.2 0h1.2m-0.2 0h1.2m0.8 0h1.2m-0.2 0h1.2m0.8 0h1.2m0.8 0h1.2m3.8 0h1.2m3.8 0h1.2m-0.2 0h1.2m0.8 0h1.2m8.8 0h1.2m-48.2 1h1.2m4.8 0h1.2m0.8 0h1.2m0.8 0h1.2m2.8 0h1.2m-0.2 0h1.2m1.8 0h1.2m1.8 0h1.2m-0.2 0h1.2m-0.2 0h1.2m0.8 0h1.2m-0.2 0h1.2m1.8 0h1.2m0.8 0h1.2m1.8 0h1.2m-0.2 0h1.2m0.8 0h1.2m3.8 0h1.2m5.8 0h1.2m-51.2 1h1.2m8.8 0h1.2m-0.2 0h1.2m1.8 0h1.2m3.8 0h1.2m0.8 0h1.2m-0.2 0h1.2m1.8 0h1.2m0.8 0h1.2m-0.2 0h1.2m-0.2 0h1.2m0.8 0h1.2m0.8 0h1.2m3.8 0h1.2m2.8 0h1.2m2.8 0h1.2m37.8 0h1.2m-102.2 1h1.2m18.8 0h1.2m3.8 0h1.2m-0.2 0h1.2m3.8 0h1.2m2.8 0h1.2m1.8 0h1.2m0.8 0h1.2m0.8 0h1.2m-0.2 0h1.2m-0.2 0h1.2m-0.2 0h1.2m0.8 0h1.2m1.8 0h1.2m-0.2 0h1.2m-0.2 0h1.2m-0.2 0h1.2m4.8 0h1.2m1.8 0h1.2m-0.2 0h1.2m4.8 0h1.2m4.8 0h1.2m22.8 0h1.2m-81.2 1h1.2m2.8 0h1.2m6.8 0h1.2m-0.2 0h1.2m1.8 0h1.2m-0.2 0h1.2m3.8 0h1.2m2.8 0h1.2m4.8 0h1.2m0.8 0h1.2m2.8 0h1.2m-0.2 0h1.2m-0.2 0h1.2m10.8 0h1.2m0.8 0h1.2m4.8 0h1.2m41.8 0h1.2m-104.2 1h1.2m-0.2 0h1.2m10.8 0h1.2m0.8 0h1.2m-0.2 0h1.2m4.8 0h1.2m2.8 0h1.2m2.8 0h1.2m-0.2 0h1.2m0.8 0h1.2m2.8 0h1.2m0.8 0h1.2m3.8 0h1.2m20.8 0h1.2m0.8 0h1.2m-76.2 1h1.2m0.8 0h1.2m6.8 0h1.2m0.8 0h1.2m6.8 0h1.2m3.8 0h1.2m4.8 0h1.2m5.8 0h1.2m2.8 0h1.2m8.8 0h1.2m28.8 0h1.2m53.8 0h1.2m-131.2 1h1.2m18.8 0h1.2m-0.2 0h1.2m-0.2 0h1.2m0.8 0h1.2m1.8 0h1.2m2.8 0h1.2m4.8 0h1.2m0.8 0h1.2m14.8 0h1.2m41.8 0h1.2m-100.2 1h1.2m12.8 0h1.2m4.8 0h1.2m8.8 0h1.2m1.8 0h1.2m2.8 0h1.2m2.8 0h1.2m2.8 0h1.2m-48.2 1h1.2m10.8 0h1.2m6.8 0h1.2m4.8 0h1.2m-0.2 0h1.2m1.8 0h1.2m3.8 0h1.2m1.8 0h1.2m3.8 0h1.2m1.8 0h1.2m1.8 0h1.2m14.8 0h1.2m-66.2 1h1.2m9.8 0h1.2m2.8 0h1.2m0.8 0h1.2m4.8 0h1.2m-0.2 0h1.2m1.8 0h1.2m3.8 0h1.2m8.8 0h1.2m12.8 0h1.2m-67.2 1h1.2m9.8 0h1.2m9.8 0h1.2m6.8 0h1.2m8.8 0h1.2m19.8 0h1.2m7.8 0h1.2m-54.2 1h1.2m19.8 0h1.2m-0.2 0h1.2m6.8 0h1.2m26.8 0h1.2m-65.2 1h1.2m6.8 0h1.2m2.8 0h1.2m4.8 0h1.2m-0.2 0h1.2m0.8 0h1.2m2.8 0h1.2m5.8 0h1.2m3.8 0h1.2m4.8 0h1.2m0.8 0h1.2m12.8 0h1.2m-75.2 1h1.2m23.8 0h1.2m2.8 0h1.2m1.8 0h1.2m3.8 0h1.2m1.8 0h1.2m1.8 0h1.2m-27.2 1h1.2m0.8 0h1.2m5.8 0h1.2m0.8 0h1.2m3.8 0h1.2m5.8 0h1.2m7.8 0h1.2m17.8 0h1.2m-64.2 1h1.2m16.8 0h1.2m4.8 0h1.2m3.8 0h1.2m1.8 0h1.2m6.8 0h1.2m5.8 0h1.2m-36.2 1h1.2m8.8 0h1.2m1.8 0h1.2m6.8 0h1.2m-0.2 0h1.2m4.8 0h1.2m10.8 0h1.2m44.8 0h1.2m-94.2 1h1.2m25.8 0h1.2m7.8 0h1.2m-0.2 0h1.2m1.8 0h1.2m5.8 0h1.2m12.8 0h1.2m4.8 0h1.2m-47.2 1h1.2m11.8 0h1.2m2.8 0h1.2m-19.2 1h1.2m-0.2 0h1.2m6.8 0h1.2m16.8 0h1.2m-0.2 0h1.2m15.8 0h1.2m-50.2 1h1.2m1.8 0h1.2m11.8 0h1.2m9.8 0h1.2m-0.2 0h1.2m-34.2 1h1.2m67.8 0h1.2m-72.2 1h1.2m-0.2 0h1.2m30.8 0h1.2m16.8 0h1.2m12.8 0h1.2m1.8 0h1.2m-72.2 1h1.2m14.8 0h1.2m1.8 0h1.2m5.8 0h1.2m11.8 0h1.2m-19.2 1h1.2m1.8 0h1.2m7.8 0h1.2m-25.2 1h1.2m20.8 0h1.2m9.8 1h1.2m-17.2 1h1.2m6.8 0h1.2m-37.2 1h1.2m19.8 0h1.2m-2.2 1h1.2m92.8 0h1.2m-96.2 1h1.2" stroke="#0000ff" stroke-width="1.25"/>
<path d="M875 2240.0h1.2m-0.2 0h1.2m-0.2 0h1.2m-0.2 0h1.2m-0.2 0h1.2m-6.2 1h1.2m-0.2 0h1.2m-0.2 0h1.2m3.8 0h1.2m-10.2 1h1.2m0.8 0h1.2m-0.2 0h1.2m5.8 0h1.2m-18.2 1h1.2m4.8 0h1.2m-0.2 0h1.2m-0.2 0h1.2m-0.2 0h1.2m3.8 0h1.2m1.8 0h1.2m-0.2 0h1.2m3.8 0h1.2m-26.2 1h1.2m-0.2 0h1.2m0.8 0h1.2m-0.2 0h1.2m0.8 0h1.2m-0.2 0h1.2m2.8 0h1.2m0.8 0h1.2m1.8 0h1.2m-0.2 0h1.2m7.8 0h1.2m0.8 0h1.2m-33.2 1h1.2m1.8 0h1.2m-0.2 0h1.2m0.8 0h1.2m0.8 0h1.2m-0.2 0h1.2m4.8 0h1.2m-0.2 0h1.2m6.8 0h1.2m0.8 0h1.2m0.8 0h1.2m-0.2 0h1.2m-0.2 0h1.2m-0.2 0h1.2m-0.2 0h1.2m-33.2 1h1.2m2.8 0h1.2m-0.2 0h1.2m0.8 0h1.2m3.8 0h1.2m-0.2 0h1.2m7.8 0h1.2m0.8 0h1.2m-0.2 0h1.2m-0.2 0h1.2m-0.2 0h1.2m-0.2 0h1.2m2.8 0h1.2m0.8 0h1.2m-37.2 1h1.2m6.8 0h1.2m16.8 0h1.2m1.8 0h1.2m1.8 0h1.2m-0.2 0h1.2m-33.2 1h1.2m-0.2 0h1.2m0.8 0h1.2m3.8 0h1.2m19.8 0h1.2m-0.2 0h1.2m-0.2 0h1.2m0.8 0h1.2m1.8 0h1.2m-42.2 1h1.2m1.8 0h1.2m0.8 0h1.2m0.8 0h1.2m20.8 0h1.2m4.8 0h1.2m-0.2 0h1.2m0.8 0h1.2m1.8 0h1.2m-43.2 1h1.2m1.8 0h1.2m3.8 0h1.2m0.8 0h1.2m21.8 0h1.2m1.8 0h1.2m3.8 0h1.2m0.8 0h1.2m-47.2 1h1.2m0.8 0h1.2m2.8 0h1.2m0.8 0h1.2m-0.2 0h1.2m-0.2 0h1.2m20.8 0h1.2m2.8 0h1.2m0.8 0h1.2m2.8 0h1.2m1.8 0h1.2m-41.2 1h1.2m28.8 0h1.2m4.8 0h1.2m-0.2 0h1.2m-41.2 1h1.2m3.8 0h1.2m-0.2 0h1.2m-0.2 0h1.2m23.8 0h1.2m0.8 0h1.2m0.8 0h1.2m0.8 0h1.2m0.8 0h1.2m0.8 0h1.2m-0.2 0h1.2m-43.2 1h1.2m-0.2 0h1.2m-0.2 0h1.2m-0.2 0h1.2m-0.2 0h1.2m-0.2 0h1.2m0.8 0h1.2m24.8 0h1.2m0.8 0h1.2m-0.2 0h1.2m-0.2 0h1.2m2.8 0h1.2m-42.2 1h1.2m-0.2 0h1.2m-0.2 0h1.2m0.8 0h1.2m0.8 0h1.2m0.8 0h1.2m21.8 0h1.2m-0.2 0h1.2m-0.2 0h1.2m0.8 0h1.2m2.8 0h1.2m0.8 0h1.2m-44.2 1h1.2m-0.2 0h1.2m-0.2 0h1.2m-0.2 0h1.2m3.8 0h1.2m16.8 0h1.2m0.8 0h1.2m1.8 0h1.2m0.8 0h1.2m5.8 0h1.2m-0.2 0h1.2m1.8 0h1.2m-44.2 1h1.2m0.8 0h1.2m-0.2 0h1.2m21.8 0h1.2m1.8 0h1.2m-30.2 1h1.2m4.8 0h1.2m21.8 0h1.2m-0.2 0h1.2m0.8 0h1.2m0.8 0h1.2m2.8 0h1.2m-39.2 1h1.2m0.8 0h1.2m-0.2 0h1.2m4.8 0h1.2m-0.2 0h1.2m14.8 0h1.2m1.8 0h1.2m-0.2 0h1.2m-0.2 0h1.2m-0.2 0h1.2m-0.2 0h1.2m1.8 0h1.2m-0.2 0h1.2m-0.2 0h1.2m-18.2 1h1.2m-0.2 0h1.2m0.8 0h1.2m2.8 0h1.2m5.8 0h1.2m-0.2 0h1.2m-31.2 1h1.2m-0.2 0h1.2m-0.2 0h1.2m1.8 0h1.2m-0.2 0h1.2m-0.2 0h1.2m-0.2 0h1.2m1.8 0h1.2m0.8 0h1.2m1.8 0h1.2m-0.2 0h1.2m2.8 0h1.2m-0.2 0h1.2m-0.2 0h1.2m-28.2 1h1.2m4.8 0h1.2m5.8 0h1.2m-0.2 0h1.2m1.8 0h1.2m-0.2 0h1.2m0.8 0h1.2m0.8 0h1.2m-0.2 0h1.2m2.8 0h1.2m1.8 0h1.2m1.8 0h1.2m-30.2 1h1.2m1.8 0h1.2m1.8 0h1.2m-0.2 0h1.2m1.8 0h1.2m-0.2 0h1.2m0.8 0h1.2m-0.2 0h1.2m-0.2 0h1.2m2.8 0h1.2m-0.2 0h1.2m-0.2 0h1.2m-20.2 1h1.2m0.8 0h1.2m2.8 0h1.2m-0.2 0h1.2m-0.2 0h1.2m-0.2 0h1.2m-0.2 0h1.2m1.8 0h1.2m6.8 0h1.2m-15.2 1h1.2m-0.2 0h1.2m3.8 0h1.2m-0.2 0h1.2m4.8 0h1.2m-12.2 1h1.2m-0.2 0h1.2m1.8 0h1.2m-0.2 0h1.2m-0.2 0h1.2m-54.2 26h1.2m1.8 0h1.2m-14.2 1h1.2m1.8 0h1.2m1.8 0h1.2m1.8 0h1.2m1.8 0h1.2m-0.2 0h1.2m-16.2 1h1.2m4.8 0h1.2m1.8 0h1.2m-0.2 0h1.2m-0.2 0h1.2m-0.2 0h1.2m1.8 0h1.2m-0.2 0h1.2m0.8 0h1.2m-20.2 1h1.2m-0.2 0h1.2m0.8 0h1.2m-0.2 0h1.2m6.8 0h1.2m-0.2 0h1.2m8.8 0h1.2m5.8 0h1.2m-41.2 1h1.2m1.8 0h1.2m-0.2 0h1.2m3.8 0h1.2m0.8 0h1.2m1.8 0h1.2m1.8 0h1.2m3.8 0h1.2m6.8 0h1.2m3.8 0h1.2m-35.2 1h1.2m1.8 0h1.2m0.8 0h1.2m-0.2 0h1.2m-0.2 0h1.2m1.8 0h1.2m2.8 0h1.2m6.8 0h1.2m1.8 0h1.2m1.8 0h1.2m-0.2 0h1.2m0.8 0h1.2m-0.2 0h1.2m0.8 0h1.2m0.8 0h1.2m-0.2 0h1.2m-45.2 1h1.2m-0.2 0h1.2m-0.2 0h1.2m1.8 0h1.2m0.8 0h1.2m-0.2 0h1.2m5.8 0h1.2m-0.2 0h1.2m-0.2 0h1.2m-0.2 0h1.2m13.8 0h1.2m0.8 0h1.2m0.8 0h1.2m0.8 0h1.2m-0.2 0h1.2m-0.2 0h1.2m0.8 0h1.2m5.8 0h1.2m-53.2 1h1.2m0.8 0h1.2m0.8 0h1.2m1.8 0h1.2m-0.2 0h1.2m9.8 0h1.2m2.8 0h1.2m17.8 0h1.2m-0.2 0h1.2m-0.2 0h1.2m1.8 0h1.2m2.8 0h1.2m-53.2 1h1.2m0.8 0h1.2m-0.2 0h1.2m4.8 0h1.2m0.8 0h1.2m3.8 0h1.2m21.8 0h1.2m0.8 0h1.2m-0.2 0h1.2m-0.2 0h1.2m1.8 0h1.2m1.8 0h1.2m-0.2 0h1.2m-0.2 0h1.2m-52.2 1h1.2m0.8 0h1.2m-0.2 0h1.2m35.8 0h1.2m2.8 0h1.2m3.8 0h1.2m-0.2 0h1.2m-0.2 0h1.2m-52.2 1h1.2m-0.2 0h1.2m1.8 0h1.2m37.8 0h1.2m0.8 0h1.2m-49.2 1h1.2m-0.2 0h1.2m-0.2 0h1.2m43.8 0h1.2m-0.2 0h1.2m0.8 0h1.2m2.8 0h1.2m-0.2 0h1.2m-58.2 1h1.2m0.8 0h1.2m-0.2 0h1.2m-0.2 0h1.2m42.8 0h1.2m3.8 0h1.2m0.8 0h1.2m-54.2 1h1.2m42.8 0h1.2m-0.2 0h1.2m5.8 0h1.2m-58.2 1h1.2m0.8 0h1.2m1.8 0h1.2m0.8 0h1.2m46.8 0h1.2m1.8 0h1.2m-58.2 1h1.2m0.8 0h1.2m0.8 0h1.2m-0.2 0h1.2m50.8 0h1.2m-60.2 1h1.2m-0.2 0h1.2m2.8 0h1.2m48.8 0h1.2m-56.2 1h1.2m56.8 0h1.2m-0.2 0h1.2m-59.2 1h1.2m54.8 0h1.2m0.8 0h1.2m-60.2 1h1.2m0.8 0h1.2m-5.2 1h1.2m-0.2 0h1.2m-0.2 0h1.2m-0.2 0h1.2m-0.2 0h1.2m53.8 0h1.2m-62.2 1h1.2m1.8 0h1.2m54.8 0h1.2m3.8 0h1.2m-65.2 1h1.2m1.8 0h1.2m52.8 0h1.2m-0.2 0h1.2m-0.2 0h1.2m0.8 0h1.2m-0.2 0h1.2m-0.2 0h1.2m-63.2 1h1.2m-0.2 0h1.2m0.8 0h1.2m0.8 0h1.2m48.8 0h1.2m0.8 0h1.2m-57.2 1h1.2m50.8 1h1.2m-0.2 0h1.2m-0.2 0h1.2m0.8 0h1.2m-62.2 1h1.2m0.8 1h1.2m50.8 0h1.2m2.8 0h1.2m0.8 0h1.2m-64.2 1h1.2m4.8 0h1.2m0.8 0h1.2m51.8 0h1.2m-58.2 1h1.2m51.8 0h1.2m0.8 0h1.2m-57.2 1h1.2m1.8 0h1.2m0.8 0h1.2m47.8 0h1.2m-0.2 0h1.2m-0.2 0h1.2m-59.2 1h1.2m0.8 0h1.2m-0.2 0h1.2m47.8 0h1.2m1.8 0h1.2m4.8 0h1.2m-60.2 1h1.2m-0.2 0h1.2m-0.2 0h1.2m-0.2 0h1.2m0.8 0h1.2m43.8 0h1.2m1.8 0h1.2m-0.2 0h1.2m-54.2 1h1.2m0.8 0h1.2m0.8 0h1.2m1.8 0h1.2m36.8 0h1.2m0.8 0h1.2m0.8 0h1.2m1.8 0h1.2m-49.2 1h1.2m37.8 0h1.2m4.8 0h1.2m-0.2 0h1.2m0.8 0h1.2m-42.2 1h1.2m33.8 0h1.2m-0.2 0h1.2m-0.2 0h1.2m-47.2 1h1.2m0.8 0h1.2m0.8 0h1.2m0.8 0h1.2m-7.2 1h1.2m0.8 0h1.2m0.8 0h1.2m34.8 0h1.2m0.8 0h1.2m0.8 0h1.2m-43.2 1h1.2m-0.2 0h1.2m38.8 0h1.2m-0.2 0h1.2m-43.2 1h1.2m-0.2 0h1.2m-0.2 0h1.2m33.8 0h1.2m0.8 0h1.2m-0.2 0h1.2m0.8 0h1.2m-41.2 1h1.2m30.8 0h1.2m-0.2 0h1.2m0.8 0h1.2m1.8 0h1.2m-0.2 0h1.2m-40.2 1h1.2m24.8 0h1.2m3.8 0h1.2m0.8 0h1.2m2.8 0h1.2m-0.2 0h1.2m1.8 0h1.2m-42.2 1h1.2m0.8 0h1.2m19.8 0h1.2m6.8 0h1.2m-0.2 0h1.2m-0.2 0h1.2m-35.2 1h1.2m2.8 0h1.2m-0.2 0h1.2m16.8 0h1.2m3.8 0h1.2m0.8 0h1.2m0.8 0h1.2m-34.2 1h1.2m0.8 0h1.2m9.8 0h1.2m-0.2 0h1.2m1.8 0h1.2m1.8 0h1.2m2.8 0h1.2m-0.2 0h1.2m-0.2 0h1.2m0.8 0h1.2m2.8 0h1.2m-0.2 0h1.2m3.8 0h1.2m-36.2 1h1.2m0.8 0h1.2m1.8 0h1.2m-0.2 0h1.2m4.8 0h1.2m-0.2 0h1.2m0.8 0h1.2m3.8 0h1.2m-0.2 0h1.2m-0.2 0h1.2m0.8 0h1.2m1.8 0h1.2m0.8 0h1.2m-0.2 0h1.2m0.8 0h1.2m-0.2 0h1.2m-34.2 1h1.2m-0.2 0h1.2m1.8 0h1.2m-0.2 0h1.2m-0.2 0h1.2m1.8 0h1.2m5.8 0h1.2m0.8 0h1.2m-0.2 0h1.2m-0.2 0h1.2m3.8 0h1.2m-0.2 0h1.2m-0.2 0h1.2m-0.2 0h1.2m1.8 0h1.2m0.8 0h1.2m-0.2 0h1.2m-35.2 1h1.2m1.8 0h1.2m-0.2 0h1.2m0.8 0h1.2m-0.2 0h1.2m-0.2 0h1.2m-0.2 0h1.2m-0.2 0h1.2m-0.2 0h1.2m-0.2 0h1.2m0.8 0h1.2m-0.2 0h1.2m1.8 0h1.2m-0.2 0h1.2m0.8 0h1.2m-0.2 0h1.2m1.8 0h1.2m-0.2 0h1.2m-0.2 0h1.2m3.8 0h1.2m-26.2 1h1.2m1.8 0h1.2m0.8 0h1.2m0.8 0h1.2m0.8 0h1.2m1.8 0h1.2m1.8 0h1.2m3.8 0h1.2m1.8 0h1.2m-0.2 0h1.2m-25.2 1h1.2m-0.2 0h1.2m1.8 0h1.2m4.8 0h1.2m-0.2 0h1.2m0.8 0h1.2m1.8 0h1.2m1.8 0h1.2m0.8 0h1.2m-0.2 0h1.2m-19.2 1h1.2m3.8 0h1.2m0.8 0h1.2m1.8 0h1.2m0.8 0h1.2m0.8 0h1.2m-0.2 0h1.2m-0.2 0h1.2m3.8 0h1.2m-23.2 1h1.2m1.8 0h1.2m0.8 0h1.2m0.8 0h1.2m0.8 0h1.2m6.8 0h1.2m-18.2 1h1.2m-0.2 0h1.2m-0.2 0h1.2m-0.2 0h1.2m2.8 0h1.2m9.8 0h1.2m-19.2 1h1.2m0.8 0h1.2m-0.2 0h1.2m-0.2 0h1.2m4.8 0h1.2m3.8 0h1.2m-16.2 1h1.2m-0.2 0h1.2m0.8 0h1.2m1.8 0h1.2m-0.2 0h1.2m-0.2 0h1.2m0.8 0h1.2m3.8 0h1.2m3.8 0h1.2m-20.2 1h1.2m0.8 0h1.2m10.8 0h1.2m-2.2 1h1.2m-9.2 1h1.2m5.8 2h1.2m1.8 0h1.2m-5.2 1h1.2m-1.2 1h1.2" stroke="#2060ff" stroke-width="1.25"/>
<path d="M878 2242.0h1.2m-3.2 1h1.2m0.8 0h1.2m-4.2 1h1.2m0.8 0h1.2m-0.2 0h1.2m-13.2 1h1.2m3.8 0h1.2m-0.2 0h1.2m2.8 0h1.2m-0.2 0h1.2m-0.2 0h1.2m0.8 0h1.2m-19.2 1h1.2m1.8 0h1.2m2.8 0h1.2m3.8 0h1.2m0.8 0h1.2m0.8 0h1.2m-0.2 0h1.2m-0.2 0h1.2m0.8 0h1.2m-20.2 1h1.2m-0.2 0h1.2m0.8 0h1.2m-0.2 0h1.2m-0.2 0h1.2m0.8 0h1.2m1.8 0h1.2m-0.2 0h1.2m-0.2 0h1.2m0.8 0h1.2m1.8 0h1.2m-0.2 0h1.2m-0.2 0h1.2m-21.2 1h1.2m0.8 0h1.2m1.8 0h1.2m0.8 0h1.2m-0.2 0h1.2m0.8 0h1.2m-0.2 0h1.2m-0.2 0h1.2m-0.2 0h1.2m1.8 0h1.2m0.8 0h1.2m-0.2 0h1.2m-0.2 0h1.2m0.8 0h1.2m-0.2 0h1.2m3.8 0h1.2m-29.2 1h1.2m-0.2 0h1.2m0.8 0h1.2m-0.2 0h1.2m0.8 0h1.2m-0.2 0h1.2m0.8 0h1.2m1.8 0h1.2m-0.2 0h1.2m2.8 0h1.2m-0.2 0h1.2m-0.2 0h1.2m3.8 0h1.2m-0.2 0h1.2m1.8 0h1.2m-28.2 1h1.2m-0.2 0h1.2m-0.2 0h1.2m-0.2 0h1.2m1.8 0h1.2m-0.2 0h1.2m1.8 0h1.2m-0.2 0h1.2m-0.2 0h1.2m2.8 0h1.2m1.8 0h1.2m0.8 0h1.2m3.8 0h1.2m-0.2 0h1.2m-0.2 0h1.2m-32.2 1h1.2m-0.2 0h1.2m2.8 0h1.2m-0.2 0h1.2m-0.2 0h1.2m7.8 0h1.2m0.8 0h1.2m-0.2 0h1.2m-0.2 0h1.2m0.8 0h1.2m0.8 0h1.2m0.8 0h1.2m-30.2 1h1.2m-0.2 0h1.2m0.8 0h1.2m-0.2 0h1.2m-0.2 0h1.2m1.8 0h1.2m4.8 0h1.2m2.8 0h1.2m-0.2 0h1.2m-0.2 0h1.2m-0.2 0h1.2m-0.2 0h1.2m-0.2 0h1.2m-0.2 0h1.2m0.8 0h1.2m3.8 0h1.2m-0.2 0h1.2m-31.2 1h1.2m-0.2 0h1.2m0.8 0h1.2m-0.2 0h1.2m-0.2 0h1.2m-0.2 0h1.2m-0.2 0h1.2m-0.2 0h1.2m1.8 0h1.2m-0.2 0h1.2m-0.2 0h1.2m1.8 0h1.2m1.8 0h1.2m0.8 0h1.2m-0.2 0h1.2m-0.2 0h1.2m2.8 0h1.2m0.8 0h1.2m0.8 0h1.2m-33.2 1h1.2m0.8 0h1.2m0.8 0h1.2m-0.2 0h1.2m-0.2 0h1.2m-0.2 0h1.2m0.8 0h1.2m0.8 0h1.2m1.8 0h1.2m3.8 0h1.2m-0.2 0h1.2m-0.2 0h1.2m0.8 0h1.2m0.8 0h1.2m-0.2 0h1.2m5.8 0h1.2m-33.2 1h1.2m1.8 0h1.2m-0.2 0h1.2m-0.2 0h1.2m0.8 0h1.2m0.8 0h1.2m4.8 0h1.2m0.8 0h1.2m-0.2 0h1.2m-0.2 0h1.2m-0.2 0h1.2m-0.2 0h1.2m-0.2 0h1.2m-0.2 0h1.2m2.8 0h1.2m0.8 0h1.2m-0.2 0h1.2m-0.2 0h1.2m-37.2 1h1.2m4.8 0h1.2m-0.2 0h1.2m-0.2 0h1.2m1.8 0h1.2m1.8 0h1.2m1.8 0h1.2m-0.2 0h1.2m0.8 0h1.2m1.8 0h1.2m5.8 0h1.2m-0.2 0h1.2m-0.2 0h1.2m-0.2 0h1.2m0.8 0h1.2m-33.2 1h1.2m0.8 0h1.2m-0.2 0h1.2m-0.2 0h1.2m-0.2 0h1.2m8.8 0h1.2m2.8 0h1.2m3.8 0h1.2m3.8 0h1.2m-28.2 1h1.2m0.8 0h1.2m-0.2 0h1.2m0.8 0h1.2m1.8 0h1.2m0.8 0h1.2m-0.2 0h1.2m-0.2 0h1.2m-0.2 0h1.2m-0.2 0h1.2m0.8 0h1.2m-0.2 0h1.2m-0.2 0h1.2m-21.2 1h1.2m3.8 0h1.2m-0.2 0h1.2m0.8 0h1.2m-0.2 0h1.2m-0.2 0h1.2m1.8 0h1.2m-0.2 0h1.2m-0.2 0h1.2m0.8 0h1.2m0.8 0h1.2m-19.2 1h1.2m-0.2 0h1.2m-0.2 0h1.2m-0.2 0h1.2m-0.2 0h1.2m-0.2 0h1.2m-0.2 0h1.2m-0.2 0h1.2m1.8 0h1.2m-8.2 1h1.2m3.8 0h1.2m-0.2 0h1.2m0.8 0h1.2m6.8 0h1.2m-15.2 1h1.2m4.8 0h1.2m-1.2 1h1.2m-54.2 32h1.2m-4.2 1h1.2m1.8 0h1.2m-0.2 0h1.2m-0.2 0h1.2m1.8 0h1.2m1.8 0h1.2m-15.2 1h1.2m-0.2 0h1.2m2.8 0h1.2m-0.2 0h1.2m-0.2 0h1.2m-23.2 1h1.2m8.8 0h1.2m5.8 0h1.2m0.8 0h1.2m0.8 0h1.2m0.8 0h1.2m3.8 0h1.2m-0.2 0h1.2m4.8 0h1.2m-38.2 1h1.2m0.8 0h1.2m-0.2 0h1.2m1.8 0h1.2m-0.2 0h1.2m0.8 0h1.2m0.8 0h1.2m-0.2 0h1.2m0.8 0h1.2m2.8 0h1.2m1.8 0h1.2m0.8 0h1.2m2.8 0h1.2m0.8 0h1.2m-0.2 0h1.2m0.8 0h1.2m-0.2 0h1.2m0.8 0h1.2m1.8 0h1.2m-38.2 1h1.2m-0.2 0h1.2m-0.2 0h1.2m-0.2 0h1.2m3.8 0h1.2m3.8 0h1.2m-0.2 0h1.2m-0.2 0h1.2m-0.2 0h1.2m-0.2 0h1.2m-0.2 0h1.2m-0.2 0h1.2m-0.2 0h1.2m-0.2 0h1.2m6.8 0h1.2m4.8 0h1.2m3.8 0h1.2m-39.2 1h1.2m-0.2 0h1.2m1.8 0h1.2m1.8 0h1.2m1.8 0h1.2m-0.2 0h1.2m-0.2 0h1.2m-0.2 0h1.2m13.8 0h1.2m-0.2 0h1.2m-0.2 0h1.2m0.8 0h1.2m0.8 0h1.2m-0.2 0h1.2m-0.2 0h1.2m-41.2 1h1.2m0.8 0h1.2m-0.2 0h1.2m-0.2 0h1.2m-0.2 0h1.2m6.8 0h1.2m2.8 0h1.2m0.8 0h1.2m11.8 0h1.2m0.8 0h1.2m-0.2 0h1.2m-0.2 0h1.2m-0.2 0h1.2m-0.2 0h1.2m-0.2 0h1.2m0.8 0h1.2m-45.2 1h1.2m0.8 0h1.2m-0.2 0h1.2m-0.2 0h1.2m-0.2 0h1.2m5.8 0h1.2m-0.2 0h1.2m1.8 0h1.2m1.8 0h1.2m2.8 0h1.2m1.8 0h1.2m12.8 0h1.2m-0.2 0h1.2m-0.2 0h1.2m2.8 0h1.2m-46.2 1h1.2m-0.2 0h1.2m-0.2 0h1.2m0.8 0h1.2m10.8 0h1.2m0.8 0h1.2m0.8 0h1.2m-0.2 0h1.2m8.8 0h1.2m0.8 0h1.2m-0.2 0h1.2m-0.2 0h1.2m0.8 0h1.2m0.8 0h1.2m0.8 0h1.2m0.8 0h1.2m0.8 0h1.2m-0.2 0h1.2m-48.2 1h1.2m0.8 0h1.2m2.8 0h1.2m11.8 0h1.2m16.8 0h1.2m-0.2 0h1.2m-0.2 0h1.2m-0.2 0h1.2m1.8 0h1.2m-0.2 0h1.2m2.8 0h1.2m-54.2 1h1.2m-0.2 0h1.2m0.8 0h1.2m0.8 0h1.2m0.8 0h1.2m0.8 0h1.2m32.8 0h1.2m0.8 0h1.2m-0.2 0h1.2m0.8 0h1.2m-0.2 0h1.2m-0.2 0h1.2m-0.2 0h1.2m-48.2 1h1.2m34.8 0h1.2m1.8 0h1.2m2.8 0h1.2m0.8 0h1.2m0.8 0h1.2m-0.2 0h1.2m0.8 0h1.2m-57.2 1h1.2m0.8 0h1.2m0.8 0h1.2m-0.2 0h1.2m0.8 0h1.2m-0.2 0h1.2m0.8 0h1.2m37.8 0h1.2m0.8 0h1.2m-0.2 0h1.2m0.8 0h1.2m-0.2 0h1.2m-57.2 1h1.2m-0.2 0h1.2m0.8 0h1.2m-0.2 0h1.2m-0.2 0h1.2m-0.2 0h1.2m2.8 0h1.2m-0.2 0h1.2m0.8 0h1.2m30.8 0h1.2m3.8 0h1.2m-0.2 0h1.2m-0.2 0h1.2m0.8 0h1.2m-54.2 1h1.2m1.8 0h1.2m1.8 0h1.2m0.8 0h1.2m2.8 0h1.2m29.8 0h1.2m-0.2 0h1.2m0.8 0h1.2m-0.2 0h1.2m4.8 0h1.2m-0.2 0h1.2m-56.2 1h1.2m6.8 0h1.2m-0.2 0h1.2m-0.2 0h1.2m30.8 0h1.2m0.8 0h1.2m2.8 0h1.2m-0.2 0h1.2m-0.2 0h1.2m-0.2 0h1.2m-0.2 0h1.2m-0.2 0h1.2m-0.2 0h1.2m0.8 0h1.2m-0.2 0h1.2m-55.2 1h1.2m-0.2 0h1.2m34.8 0h1.2m1.8 0h1.2m0.8 0h1.2m-0.2 0h1.2m-0.2 0h1.2m-0.2 0h1.2m-0.2 0h1.2m2.8 0h1.2m-0.2 0h1.2m-0.2 0h1.2m0.8 0h1.2m-57.2 1h1.2m-0.2 0h1.2m6.8 0h1.2m31.8 0h1.2m-0.2 0h1.2m3.8 0h1.2m1.8 0h1.2m-0.2 0h1.2m-54.2 1h1.2m-0.2 0h1.2m-0.2 0h1.2m-0.2 0h1.2m0.8 0h1.2m1.8 0h1.2m32.8 0h1.2m1.8 0h1.2m0.8 0h1.2m-0.2 0h1.2m1.8 0h1.2m-50.2 1h1.2m-0.2 0h1.2m40.8 0h1.2m-0.2 0h1.2m0.8 0h1.2m-0.2 0h1.2m-0.2 0h1.2m-53.2 1h1.2m-0.2 0h1.2m-0.2 0h1.2m0.8 0h1.2m-0.2 0h1.2m39.8 0h1.2m3.8 0h1.2m-0.2 0h1.2m-56.2 1h1.2m-0.2 0h1.2m-0.2 0h1.2m-0.2 0h1.2m-0.2 0h1.2m2.8 0h1.2m0.8 0h1.2m1.8 0h1.2m30.8 0h1.2m0.8 0h1.2m0.8 0h1.2m-0.2 0h1.2m-0.2 0h1.2m0.8 0h1.2m-55.2 1h1.2m-0.2 0h1.2m-0.2 0h1.2m0.8 0h1.2m-0.2 0h1.2m-0.2 0h1.2m39.8 0h1.2m1.8 0h1.2m0.8 0h1.2m-0.2 0h1.2m0.8 0h1.2m-55.2 1h1.2m-0.2 0h1.2m-0.2 0h1.2m-0.2 0h1.2m2.8 0h1.2m-0.2 0h1.2m35.8 0h1.2m-0.2 0h1.2m-0.2 0h1.2m-0.2 0h1.2m-0.2 0h1.2m-0.2 0h1.2m0.8 0h1.2m-0.2 0h1.2m-56.2 1h1.2m-0.2 0h1.2m0.8 0h1.2m0.8 0h1.2m-0.2 0h1.2m-0.2 0h1.2m-0.2 0h1.2m2.8 0h1.2m33.8 0h1.2m-0.2 0h1.2m1.8 0h1.2m0.8 0h1.2m-0.2 0h1.2m-53.2 1h1.2m-0.2 0h1.2m-0.2 0h1.2m-0.2 0h1.2m0.8 0h1.2m-0.2 0h1.2m-0.2 0h1.2m2.8 0h1.2m30.8 0h1.2m-0.2 0h1.2m2.8 0h1.2m-0.2 0h1.2m-0.2 0h1.2m0.8 0h1.2m-54.2 1h1.2m0.8 0h1.2m0.8 0h1.2m-0.2 0h1.2m-0.2 0h1.2m0.8 0h1.2m35.8 0h1.2m0.8 0h1.2m-0.2 0h1.2m0.8 0h1.2m-49.2 1h1.2m0.8 0h1.2m0.8 0h1.2m3.8 0h1.2m-0.2 0h1.2m0.8 0h1.2m27.8 0h1.2m0.8 0h1.2m-0.2 0h1.2m-0.2 0h1.2m-43.2 1h1.2m-0.2 0h1.2m-0.2 0h1.2m-0.2 0h1.2m33.8 0h1.2m-0.2 0h1.2m1.8 0h1.2m-44.2 1h1.2m-0.2 0h1.2m0.8 0h1.2m-0.2 0h1.2m-0.2 0h1.2m0.8 0h1.2m0.8 0h1.2m24.8 0h1.2m0.8 0h1.2m-0.2 0h1.2m-0.2 0h1.2m0.8 0h1.2m0.8 0h1.2m0.8 0h1.2m-46.2 1h1.2m0.8 0h1.2m0.8 0h1.2m0.8 0h1.2m-0.2 0h1.2m-0.2 0h1.2m1.8 0h1.2m23.8 0h1.2m2.8 0h1.2m1.8 0h1.2m-46.2 1h1.2m-0.2 0h1.2m0.8 0h1.2m0.8 0h1.2m31.8 0h1.2m-0.2 0h1.2m-0.2 0h1.2m-0.2 0h1.2m-38.2 1h1.2m0.8 0h1.2m-0.2 0h1.2m-0.2 0h1.2m1.8 0h1.2m22.8 0h1.2m0.8 0h1.2m-0.2 0h1.2m1.8 0h1.2m-0.2 0h1.2m-41.2 1h1.2m0.8 0h1.2m-0.2 0h1.2m-0.2 0h1.2m-0.2 0h1.2m-0.2 0h1.2m-0.2 0h1.2m-0.2 0h1.2m-0.2 0h1.2m1.8 0h1.2m14.8 0h1.2m1.8 0h1.2m0.8 0h1.2m-0.2 0h1.2m0.8 0h1.2m0.8 0h1.2m-37.2 1h1.2m-0.2 0h1.2m1.8 0h1.2m1.8 0h1.2m-0.2 0h1.2m2.8 0h1.2m11.8 0h1.2m1.8 0h1.2m-0.2 0h1.2m-0.2 0h1.2m4.8 0h1.2m-37.2 1h1.2m0.8 0h1.2m-0.2 0h1.2m-0.2 0h1.2m1.8 0h1.2m0.8 0h1.2m1.8 0h1.2m7.8 0h1.2m4.8 0h1.2m-0.2 0h1.2m0.8 0h1.2m3.8 0h1.2m-36.2 1h1.2m-0.2 0h1.2m0.8 0h1.2m-0.2 0h1.2m-0.2 0h1.2m2.8 0h1.2m-0.2 0h1.2m-0.2 0h1.2m1.8 0h1.2m1.8 0h1.2m0.8 0h1.2m-0.2 0h1.2m-0.2 0h1.2m-0.2 0h1.2m0.8 0h1.2m1.8 0h1.2m-0.2 0h1.2m0.8 0h1.2m3.8 0h1.2m-36.2 1h1.2m-0.2 0h1.2m-0.2 0h1.2m-0.2 0h1.2m2.8 0h1.2m-0.2 0h1.2m-0.2 0h1.2m-0.2 0h1.2m-0.2 0h1.2m1.8 0h1.2m0.8 0h1.2m2.8 0h1.2m0.8 0h1.2m-0.2 0h1.2m2.8 0h1.2m-28.2 1h1.2m0.8 0h1.2m-0.2 0h1.2m0.8 0h1.2m-0.2 0h1.2m-0.2 0h1.2m-0.2 0h1.2m1.8 0h1.2m-0.2 0h1.2m0.8 0h1.2m-0.2 0h1.2m-0.2 0h1.2m0.8 0h1.2m3.8 0h1.2m0.8 0h1.2m1.8 0h1.2m-0.2 0h1.2m-30.2 1h1.2m-0.2 0h1.2m1.8 0h1.2m0.8 0h1.2m-0.2 0h1.2m-0.2 0h1.2m0.8 0h1.2m0.8 0h1.2m-0.2 0h1.2m1.8 0h1.2m1.8 0h1.2m-0.2 0h1.2m0.8 0h1.2m0.8 0h1.2m-23.2 1h1.2m-0.2 0h1.2m-0.2 0h1.2m-0.2 0h1.2m0.8 0h1.2m-0.2 0h1.2m-0.2 0h1.2m2.8 0h1.2m0.8 0h1.2m-0.2 0h1.2m0.8 0h1.2m-0.2 0h1.2m3.8 0h1.2m1.8 0h1.2m-24.2 1h1.2m1.8 0h1.2m0.8 0h1.2m3.8 0h1.2m1.8 0h1.2m-0.2 0h1.2m-0.2 0h1.2m-10.2 1h1.2m0.8 0h1.2m0.8 0h1.2m-0.2 0h1.2m-3.2 1h1.2m2.8 0h1.2m-7.2 1h1.2m0.8 0h1.2" stroke="#00e0ff" stroke-width="1.25"/>
<path d="M876 2247.0h1.2m-0.2 1h1.2m0.8 0h1.2m-10.2 1h1.2m0.8 0h1.2m2.8 0h1.2m-0.2 0h1.2m-0.2 0h1.2m-12.2 1h1.2m-0.2 0h1.2m1.8 0h1.2m3.8 0h1.2m-0.2 0h1.2m-0.2 0h1.2m-17.2 1h1.2m-0.2 0h1.2m-0.2 0h1.2m2.8 0h1.2m0.8 0h1.2m0.8 0h1.2m-0.2 0h1.2m-0.2 0h1.2m-0.2 0h1.2m0.8 0h1.2m-12.2 1h1.2m0.8 0h1.2m0.8 0h1.2m0.8 0h1.2m-0.2 0h1.2m-0.2 0h1.2m-7.2 1h1.2m-0.2 0h1.2m2.8 0h1.2m1.8 0h1.2m1.8 0h1.2m-14.2 1h1.2m0.8 0h1.2m0.8 0h1.2m-0.2 0h1.2m0.8 0h1.2m-0.2 0h1.2m-0.2 0h1.2m-0.2 0h1.2m-10.2 1h1.2m0.8 0h1.2m0.8 0h1.2m-0.2 0h1.2m-0.2 0h1.2m-11.2 1h1.2m1.8 0h1.2m-0.2 0h1.2m1.8 0h1.2m1.8 0h1.2m-11.2 1h1.2m0.8 0h1.2m-0.2 0h1.2m-0.2 0h1.2m-0.2 0h1.2m0.8 0h1.2m-0.2 0h1.2m-6.2 1h1.2m-49.2 39h1.2m-0.2 0h1.2m-3.2 1h1.2m0.8 0h1.2m-0.2 0h1.2m0.8 0h1.2m-6.2 1h1.2m-0.2 0h1.2m-0.2 0h1.2m0.8 0h1.2m-6.2 1h1.2m0.8 0h1.2m-0.2 0h1.2m-0.2 0h1.2m-0.2 0h1.2m-0.2 0h1.2m0.8 0h1.2m-27.2 1h1.2m1.8 0h1.2m2.8 0h1.2m5.8 0h1.2m-0.2 0h1.2m-0.2 0h1.2m0.8 0h1.2m-0.2 0h1.2m-0.2 0h1.2m0.8 0h1.2m-0.2 0h1.2m-0.2 0h1.2m-25.2 1h1.2m-0.2 0h1.2m-0.2 0h1.2m-0.2 0h1.2m-0.2 0h1.2m-0.2 0h1.2m-0.2 0h1.2m0.8 0h1.2m-0.2 0h1.2m-0.2 0h1.2m0.8 0h1.2m2.8 0h1.2m-0.2 0h1.2m-0.2 0h1.2m-0.2 0h1.2m-0.2 0h1.2m-0.2 0h1.2m0.8 0h1.2m-0.2 0h1.2m-0.2 0h1.2m0.8 0h1.2m-29.2 1h1.2m-0.2 0h1.2m3.8 0h1.2m-0.2 0h1.2m0.8 0h1.2m-0.2 0h1.2m2.8 0h1.2m0.8 0h1.2m-0.2 0h1.2m1.8 0h1.2m-0.2 0h1.2m-0.2 0h1.2m-0.2 0h1.2m-0.2 0h1.2m-0.2 0h1.2m0.8 0h1.2m-0.2 0h1.2m-0.2 0h1.2m0.8 0h1.2m-36.2 1h1.2m3.8 0h1.2m-0.2 0h1.2m-0.2 0h1.2m-0.2 0h1.2m-0.2 0h1.2m-0.2 0h1.2m-0.2 0h1.2m-0.2 0h1.2m0.8 0h1.2m0.8 0h1.2m1.8 0h1.2m-0.2 0h1.2m-0.2 0h1.2m-0.2 0h1.2m0.8 0h1.2m-0.2 0h1.2m-0.2 0h1.2m-28.2 1h1.2m-0.2 0h1.2m-0.2 0h1.2m0.8 0h1.2m1.8 0h1.2m0.8 0h1.2m-0.2 0h1.2m0.8 0h1.2m1.8 0h1.2m1.8 0h1.2m-0.2 0h1.2m-0.2 0h1.2m-0.2 0h1.2m0.8 0h1.2m-0.2 0h1.2m2.8 0h1.2m-0.2 0h1.2m-0.2 0h1.2m-0.2 0h1.2m-0.2 0h1.2m-0.2 0h1.2m-36.2 1h1.2m0.8 0h1.2m0.8 0h1.2m-0.2 0h1.2m-0.2 0h1.2m-0.2 0h1.2m-0.2 0h1.2m-0.2 0h1.2m-0.2 0h1.2m0.8 0h1.2m2.8 0h1.2m0.8 0h1.2m-0.2 0h1.2m1.8 0h1.2m0.8 0h1.2m1.8 0h1.2m-0.2 0h1.2m-0.2 0h1.2m0.8 0h1.2m-0.2 0h1.2m0.8 0h1.2m-0.2 0h1.2m-0.2 0h1.2m0.8 0h1.2m-38.2 1h1.2m-0.2 0h1.2m-0.2 0h1.2m0.8 0h1.2m-0.2 0h1.2m0.8 0h1.2m-0.2 0h1.2m0.8 0h1.2m-0.2 0h1.2m1.8 0h1.2m2.8 0h1.2m1.8 0h1.2m1.8 0h1.2m0.8 0h1.2m0.8 0h1.2m-0.2 0h1.2m-0.2 0h1.2m-0.2 0h1.2m-0.2 0h1.2m3.8 0h1.2m-0.2 0h1.2m-0.2 0h1.2m-38.2 1h1.2m1.8 0h1.2m-0.2 0h1.2m-0.2 0h1.2m3.8 0h1.2m2.8 0h1.2m-0.2 0h1.2m1.8 0h1.2m-0.2 0h1.2m-0.2 0h1.2m-0.2 0h1.2m-0.2 0h1.2m-0.2 0h1.2m0.8 0h1.2m1.8 0h1.2m0.8 0h1.2m0.8 0h1.2m0.8 0h1.2m-0.2 0h1.2m0.8 0h1.2m0.8 0h1.2m-45.2 1h1.2m3.8 0h1.2m0.8 0h1.2m1.8 0h1.2m0.8 0h1.2m6.8 0h1.2m0.8 0h1.2m0.8 0h1.2m1.8 0h1.2m1.8 0h1.2m-0.2 0h1.2m1.8 0h1.2m-0.2 0h1.2m-0.2 0h1.2m-0.2 0h1.2m0.8 0h1.2m0.8 0h1.2m-43.2 1h1.2m0.8 0h1.2m1.8 0h1.2m2.8 0h1.2m6.8 0h1.2m4.8 0h1.2m4.8 0h1.2m3.8 0h1.2m0.8 0h1.2m-0.2 0h1.2m1.8 0h1.2m1.8 0h1.2m-0.2 0h1.2m-0.2 0h1.2m-48.2 1h1.2m-0.2 0h1.2m4.8 0h1.2m-0.2 0h1.2m2.8 0h1.2m2.8 0h1.2m7.8 0h1.2m-0.2 0h1.2m2.8 0h1.2m0.8 0h1.2m0.8 0h1.2m-0.2 0h1.2m-0.2 0h1.2m-0.2 0h1.2m0.8 0h1.2m0.8 0h1.2m-41.2 1h1.2m-0.2 0h1.2m0.8 0h1.2m-0.2 0h1.2m-0.2 0h1.2m-0.2 0h1.2m-0.2 0h1.2m-0.2 0h1.2m0.8 0h1.2m5.8 0h1.2m4.8 0h1.2m6.8 0h1.2m1.8 0h1.2m0.8 0h1.2m-0.2 0h1.2m0.8 0h1.2m4.8 0h1.2m-0.2 0h1.2m-48.2 1h1.2m-0.2 0h1.2m-0.2 0h1.2m-0.2 0h1.2m-0.2 0h1.2m-0.2 0h1.2m1.8 0h1.2m-0.2 0h1.2m-0.2 0h1.2m-0.2 0h1.2m0.8 0h1.2m7.8 0h1.2m7.8 0h1.2m-0.2 0h1.2m-0.2 0h1.2m-0.2 0h1.2m0.8 0h1.2m-0.2 0h1.2m-0.2 0h1.2m1.8 0h1.2m-0.2 0h1.2m-40.2 1h1.2m0.8 0h1.2m1.8 0h1.2m-0.2 0h1.2m-0.2 0h1.2m-0.2 0h1.2m0.8 0h1.2m1.8 0h1.2m14.8 0h1.2m-0.2 0h1.2m-0.2 0h1.2m0.8 0h1.2m-0.2 0h1.2m0.8 0h1.2m-0.2 0h1.2m-41.2 1h1.2m-0.2 0h1.2m-0.2 0h1.2m-0.2 0h1.2m-0.2 0h1.2m-0.2 0h1.2m-0.2 0h1.2m1.8 0h1.2m-0.2 0h1.2m-0.2 0h1.2m0.8 0h1.2m0.8 0h1.2m0.8 0h1.2m8.8 0h1.2m1.8 0h1.2m0.8 0h1.2m0.8 0h1.2m0.8 0h1.2m-0.2 0h1.2m-0.2 0h1.2m0.8 0h1.2m1.8 0h1.2m-43.2 1h1.2m-0.2 0h1.2m0.8 0h1.2m-0.2 0h1.2m0.8 0h1.2m8.8 0h1.2m12.8 0h1.2m0.8 0h1.2m-0.2 0h1.2m-0.2 0h1.2m-0.2 0h1.2m0.8 0h1.2m-0.2 0h1.2m-44.2 1h1.2m0.8 0h1.2m2.8 0h1.2m1.8 0h1.2m-0.2 0h1.2m-0.2 0h1.2m1.8 0h1.2m16.8 0h1.2m1.8 0h1.2m0.8 0h1.2m-0.2 0h1.2m-0.2 0h1.2m0.8 0h1.2m0.8 0h1.2m-43.2 1h1.2m-0.2 0h1.2m-0.2 0h1.2m-0.2 0h1.2m0.8 0h1.2m1.8 0h1.2m-0.2 0h1.2m-0.2 0h1.2m2.8 0h1.2m0.8 0h1.2m16.8 0h1.2m0.8 0h1.2m-0.2 0h1.2m-0.2 0h1.2m2.8 0h1.2m-39.2 1h1.2m-0.2 0h1.2m-0.2 0h1.2m-0.2 0h1.2m-0.2 0h1.2m1.8 0h1.2m3.8 0h1.2m13.8 0h1.2m-0.2 0h1.2m-0.2 0h1.2m1.8 0h1.2m0.8 0h1.2m-38.2 1h1.2m-0.2 0h1.2m-0.2 0h1.2m0.8 0h1.2m-0.2 0h1.2m-0.2 0h1.2m0.8 0h1.2m3.8 0h1.2m15.8 0h1.2m0.8 0h1.2m-0.2 0h1.2m-0.2 0h1.2m-0.2 0h1.2m-0.2 0h1.2m-0.2 0h1.2m-41.2 1h1.2m2.8 0h1.2m0.8 0h1.2m0.8 0h1.2m-0.2 0h1.2m-0.2 0h1.2m-0.2 0h1.2m-0.2 0h1.2m0.8 0h1.2m13.8 0h1.2m3.8 0h1.2m1.8 0h1.2m-33.2 1h1.2m-0.2 0h1.2m0.8 0h1.2m-0.2 0h1.2m0.8 0h1.2m-0.2 0h1.2m6.8 0h1.2m8.8 0h1.2m1.8 0h1.2m0.8 0h1.2m-0.2 0h1.2m0.8 0h1.2m-0.2 0h1.2m0.8 0h1.2m-40.2 1h1.2m-0.2 0h1.2m-0.2 0h1.2m2.8 0h1.2m0.8 0h1.2m10.8 0h1.2m9.8 0h1.2m-0.2 0h1.2m-0.2 0h1.2m-0.2 0h1.2m-0.2 0h1.2m-32.2 1h1.2m-0.2 0h1.2m-0.2 0h1.2m-0.2 0h1.2m0.8 0h1.2m-0.2 0h1.2m-0.2 0h1.2m9.8 0h1.2m2.8 0h1.2m-0.2 0h1.2m-0.2 0h1.2m1.8 0h1.2m-0.2 0h1.2m-0.2 0h1.2m-0.2 0h1.2m-28.2 1h1.2m-0.2 0h1.2m-0.2 0h1.2m-0.2 0h1.2m-0.2 0h1.2m5.8 0h1.2m2.8 0h1.2m-0.2 0h1.2m1.8 0h1.2m-0.2 0h1.2m0.8 0h1.2m-0.2 0h1.2m-25.2 1h1.2m-0.2 0h1.2m0.8 0h1.2m0.8 0h1.2m-0.2 0h1.2m-0.2 0h1.2m-0.2 0h1.2m-0.2 0h1.2m0.8 0h1.2m1.8 0h1.2m0.8 0h1.2m0.8 0h1.2m1.8 0h1.2m0.8 0h1.2m-0.2 0h1.2m-0.2 0h1.2m-0.2 0h1.2m-28.2 1h1.2m-0.2 0h1.2m-0.2 0h1.2m-0.2 0h1.2m5.8 0h1.2m1.8 0h1.2m0.8 0h1.2m0.8 0h1.2m-0.2 0h1.2m0.8 0h1.2m0.8 0h1.2m-0.2 0h1.2m0.8 0h1.2m-0.2 0h1.2m-0.2 0h1.2m-28.2 1h1.2m0.8 0h1.2m0.8 0h1.2m-0.2 0h1.2m-0.2 0h1.2m0.8 0h1.2m3.8 0h1.2m0.8 0h1.2m0.8 0h1.2m-0.2 0h1.2m0.8 0h1.2m-0.2 0h1.2m-0.2 0h1.2m0.8 0h1.2m-22.2 1h1.2m0.8 0h1.2m-0.2 0h1.2m-0.2 0h1.2m5.8 0h1.2m-0.2 0h1.2m-0.2 0h1.2m0.8 0h1.2m1.8 0h1.2m-25.2 1h1.2m1.8 0h1.2m2.8 0h1.2m1.8 0h1.2m-0.2 0h1.2m1.8 0h1.2m-0.2 0h1.2m-0.2 0h1.2m-0.2 0h1.2m-0.2 0h1.2m-0.2 0h1.2m-0.2 0h1.2m-0.2 0h1.2m0.8 0h1.2m-0.2 0h1.2m-22.2 1h1.2m0.8 0h1.2m0.8 0h1.2m-0.2 0h1.2m0.8 0h1.2m0.8 0h1.2m-0.2 0h1.2m0.8 0h1.2m-0.2 0h1.2m-0.2 0h1.2m0.8 0h1.2m-0.2 0h1.2m0.8 0h1.2m-0.2 0h1.2m-25.2 1h1.2m4.8 0h1.2m3.8 0h1.2m0.8 0h1.2m-0.2 0h1.2m0.8 0h1.2m6.8 0h1.2m-23.2 1h1.2m-0.2 0h1.2m5.8 0h1.2m-0.2 0h1.2m0.8 0h1.2m1.8 0h1.2m-0.2 0h1.2m3.8 0h1.2m-8.2 1h1.2m-7.2 1h1.2m5.8 0h1.2" stroke="#00e000" stroke-width="1.25"/>
<path d="M819 2301.0h1.2m-0.2 1h1.2m0.8 2h1.2m-25.2 1h1.2m0.8 0h1.2m1.8 0h1.2m1.8 0h1.2m9.8 0h1.2m-0.2 0h1.2m-18.2 1h1.2m1.8 0h1.2m-0.2 0h1.2m0.8 0h1.2m4.8 0h1.2m0.8 0h1.2m-0.2 0h1.2m2.8 0h1.2m1.8 0h1.2m-27.2 1h1.2m1.8 0h1.2m2.8 0h1.2m0.8 0h1.2m-0.2 0h1.2m-0.2 0h1.2m0.8 0h1.2m1.8 0h1.2m1.8 0h1.2m-23.2 1h1.2m-0.2 0h1.2m3.8 0h1.2m-0.2 0h1.2m1.8 0h1.2m3.8 0h1.2m-0.2 0h1.2m7.8 0h1.2m1.8 0h1.2m-26.2 1h1.2m0.8 0h1.2m0.8 0h1.2m1.8 0h1.2m0.8 0h1.2m3.8 0h1.2m0.8 0h1.2m-0.2 0h1.2m0.8 0h1.2m-0.2 0h1.2m1.8 0h1.2m-28.2 1h1.2m0.8 0h1.2m0.8 0h1.2m-0.2 0h1.2m0.8 0h1.2m-0.2 0h1.2m0.8 0h1.2m2.8 0h1.2m-0.2 0h1.2m1.8 0h1.2m-0.2 0h1.2m-0.2 0h1.2m0.8 0h1.2m0.8 0h1.2m-0.2 0h1.2m0.8 0h1.2m-25.2 1h1.2m1.8 0h1.2m-0.2 0h1.2m0.8 0h1.2m-0.2 0h1.2m-0.2 0h1.2m-0.2 0h1.2m-0.2 0h1.2m-0.2 0h1.2m-0.2 0h1.2m-0.2 0h1.2m1.8 0h1.2m-0.2 0h1.2m-0.2 0h1.2m0.8 0h1.2m0.8 0h1.2m-24.2 1h1.2m0.8 0h1.2m0.8 0h1.2m4.8 0h1.2m-0.2 0h1.2m-0.2 0h1.2m-0.2 0h1.2m0.8 0h1.2m-0.2 0h1.2m2.8 0h1.2m-0.2 0h1.2m0.8 0h1.2m-0.2 0h1.2m-28.2 1h1.2m5.8 0h1.2m-0.2 0h1.2m0.8 0h1.2m1.8 0h1.2m1.8 0h1.2m0.8 0h1.2m2.8 0h1.2m-0.2 0h1.2m-25.2 1h1.2m4.8 0h1.2m0.8 0h1.2m-0.2 0h1.2m0.8 0h1.2m-0.2 0h1.2m0.8 0h1.2m2.8 0h1.2m0.8 0h1.2m-0.2 0h1.2m-0.2 0h1.2m0.8 0h1.2m-0.2 0h1.2m2.8 0h1.2m-29.2 1h1.2m3.8 0h1.2m0.8 0h1.2m2.8 0h1.2m-0.2 0h1.2m2.8 0h1.2m3.8 0h1.2m1.8 0h1.2m0.8 0h1.2m-25.2 1h1.2m0.8 0h1.2m-0.2 0h1.2m0.8 0h1.2m-0.2 0h1.2m1.8 0h1.2m-0.2 0h1.2m1.8 0h1.2m1.8 0h1.2m-0.2 0h1.2m-0.2 0h1.2m-0.2 0h1.2m2.8 0h1.2m-25.2 1h1.2m-0.2 0h1.2m0.8 0h1.2m-0.2 0h1.2m-0.2 0h1.2m-0.2 0h1.2m0.8 0h1.2m0.8 0h1.2m0.8 0h1.2m0.8 0h1.2m0.8 0h1.2m0.8 0h1.2m-0.2 0h1.2m0.8 0h1.2m-0.2 0h1.2m0.8 0h1.2m-29.2 1h1.2m6.8 0h1.2m4.8 0h1.2m4.8 0h1.2m-0.2 0h1.2m-0.2 0h1.2m4.8 0h1.2m-27.2 1h1.2m-0.2 0h1.2m0.8 0h1.2m-0.2 0h1.2m-0.2 0h1.2m-0.2 0h1.2m0.8 0h1.2m4.8 0h1.2m0.8 0h1.2m-0.2 0h1.2m-0.2 0h1.2m0.8 0h1.2m-0.2 0h1.2m2.8 0h1.2m-0.2 0h1.2m0.8 0h1.2m-30.2 1h1.2m1.8 0h1.2m-0.2 0h1.2m2.8 0h1.2m3.8 0h1.2m-0.2 0h1.2m-0.2 0h1.2m-0.2 0h1.2m-0.2 0h1.2m2.8 0h1.2m-0.2 0h1.2m-20.2 1h1.2m0.8 0h1.2m2.8 0h1.2m3.8 0h1.2m2.8 0h1.2m0.8 0h1.2m-0.2 0h1.2m-0.2 0h1.2m-0.2 0h1.2m-24.2 1h1.2m1.8 0h1.2m-0.2 0h1.2m0.8 0h1.2m3.8 0h1.2m1.8 0h1.2m1.8 0h1.2m0.8 0h1.2m1.8 0h1.2m0.8 0h1.2m-24.2 1h1.2m-0.2 0h1.2m-0.2 0h1.2m0.8 0h1.2m3.8 0h1.2m1.8 0h1.2m1.8 0h1.2m-0.2 0h1.2m-0.2 0h1.2m0.8 0h1.2m-0.2 0h1.2m-22.2 1h1.2m3.8 0h1.2m-0.2 0h1.2m0.8 0h1.2m1.8 0h1.2m-0.2 0h1.2m-0.2 0h1.2m6.8 0h1.2m-0.2 0h1.2m-18.2 1h1.2m1.8 0h1.2m-0.2 0h1.2m0.8 0h1.2m0.8 0h1.2m1.8 0h1.2m-0.2 0h1.2m1.8 0h1.2m1.8 0h1.2m-22.2 1h1.2m6.8 0h1.2m1.8 0h1.2m0.8 0h1.2m0.8 0h1.2m-0.2 0h1.2m-15.2 1h1.2m-0.2 0h1.2m-0.2 0h1.2m0.8 0h1.2m-0.2 0h1.2m0.8 0h1.2m0.8 0h1.2m3.8 0h1.2m-13.2 1h1.2m-0.2 0h1.2m0.8 0h1.2m2.8 0h1.2m1.8 0h1.2m-12.2 1h1.2m-0.2 0h1.2m-0.2 0h1.2m-0.2 0h1.2m-0.2 0h1.2m-0.2 0h1.2m2.8 0h1.2m-8.2 1h1.2" stroke="#60f000" stroke-width="1.25"/>
<path d="M803 2307.0h1.2m-2.2 1h1.2m1.8 0h1.2m-4.2 1h1.2m-0.2 0h1.2m0.8 0h1.2m0.8 0h1.2m-9.2 1h1.2m1.8 0h1.2m2.8 0h1.2m1.8 0h1.2m3.8 0h1.2m-15.2 2h1.2m0.8 0h1.2m0.8 0h1.2m6.8 0h1.2m-12.2 1h1.2m0.8 0h1.2m-0.2 0h1.2m0.8 0h1.2m1.8 0h1.2m0.8 0h1.2m-0.2 0h1.2m-0.2 0h1.2m-10.2 1h1.2m1.8 0h1.2m-0.2 0h1.2m0.8 0h1.2m2.8 0h1.2m-14.2 1h1.2m2.8 0h1.2m2.8 0h1.2m0.8 0h1.2m1.8 0h1.2m-20.2 1h1.2m1.8 0h1.2m1.8 0h1.2m2.8 0h1.2m1.8 0h1.2m-0.2 0h1.2m3.8 0h1.2m-0.2 0h1.2m-14.2 1h1.2m0.8 0h1.2m-6.2 1h1.2m0.8 0h1.2m2.8 0h1.2m-0.2 0h1.2m0.8 0h1.2m3.8 0h1.2m-0.2 0h1.2m-15.2 1h1.2m2.8 0h1.2m-8.2 1h1.2m0.8 0h1.2m1.8 0h1.2m4.8 0h1.2m-0.2 0h1.2m-0.2 0h1.2m-14.2 1h1.2m-0.2 0h1.2m0.8 0h1.2m-0.2 0h1.2m0.8 0h1.2m0.8 0h1.2m0.8 0h1.2m-13.2 1h1.2m0.8 0h1.2m-0.2 0h1.2m-0.2 0h1.2m2.8 0h1.2m0.8 0h1.2m-0.2 0h1.2m0.8 0h1.2m1.8 0h1.2m-18.2 1h1.2m0.8 0h1.2m-0.2 0h1.2m-0.2 0h1.2m-0.2 0h1.2m4.8 0h1.2m2.8 0h1.2m-13.2 1h1.2m0.8 0h1.2m-0.2 0h1.2m4.8 0h1.2m-0.2 0h1.2m-12.2 1h1.2m-0.2 0h1.2m-0.2 1h1.2m1.8 0h1.2m-4.2 2h1.2" stroke="#f0f000" stroke-width="1.25"/>
<path d="M806 2314.0h1.2m-1.2 1h1.2m-0.2 0h1.2m1.8 0h1.2m-5.2 1h1.2m-7.2 1h1.2m-1.2 1h1.2m0.8 0h1.2m0.8 0h1.2m-4.2 1h1.2m-0.2 0h1.2m-0.2 0h1.2m1.8 0h1.2m-6.2 1h1.2m-0.2 1h1.2m2.8 0h1.2" stroke="#ff8000" stroke-width="1.25"/>
<defs><linearGradient id="bl3" x1="0" x2="1"><stop offset="0" stop-color="#0000ff" stop-opacity="0.3"/><stop offset="0.25" stop-color="#00d000"/><stop offset="0.5" stop-color="#ffd000"/><stop offset="0.7" stop-color="#ff2000"/><stop offset="0.85" stop-color="#ffd000"/><stop offset="1" stop-color="#00c0ff"/></linearGradient></defs>
<rect x="721.5" y="2391.1" width="114.8" height="2" fill="url(#bl3)"/>
<rect x="709.30" y="2149.20" width="244.30" height="244.10" fill="none" stroke="#222" stroke-width="1.3"/>
<line x1="835.40" y1="2149.20" x2="835.40" y2="2393.30" stroke="#111" stroke-width="2.00"/>
<line x1="709.30" y1="2281.80" x2="953.60" y2="2281.80" stroke="#111" stroke-width="2.00"/>
<path d="M709.3 2393.3h-7M709.3 2393.3v7M709.3 2352.6h-7M750.0 2393.3v7M709.3 2311.9h-7M790.7 2393.3v7M709.3 2271.2h-7M831.5 2393.3v7M709.3 2230.6h-7M872.2 2393.3v7M709.3 2189.9h-7M912.9 2393.3v7M709.3 2149.2h-7M953.6 2393.3v7" stroke="#111" stroke-width="1.6" fill="none"/>
<path d="M709.3 2381.1h-3.5M721.6 2393.3v3.5M709.3 2373.9h-3.5M728.7 2393.3v3.5M709.3 2368.8h-3.5M733.8 2393.3v3.5M709.3 2364.9h-4.5M737.8 2393.3v4.5M709.3 2361.6h-3.5M741.0 2393.3v3.5M709.3 2358.9h-3.5M743.7 2393.3v3.5M709.3 2356.6h-3.5M746.1 2393.3v3.5M709.3 2354.5h-3.5M748.2 2393.3v3.5M709.3 2340.4h-3.5M762.3 2393.3v3.5M709.3 2333.2h-3.5M769.4 2393.3v3.5M709.3 2328.1h-3.5M774.5 2393.3v3.5M709.3 2324.2h-4.5M778.5 2393.3v4.5M709.3 2321.0h-3.5M781.7 2393.3v3.5M709.3 2318.2h-3.5M784.4 2393.3v3.5M709.3 2315.9h-3.5M786.8 2393.3v3.5M709.3 2313.8h-3.5M788.9 2393.3v3.5M709.3 2299.7h-3.5M803.0 2393.3v3.5M709.3 2292.5h-3.5M810.2 2393.3v3.5M709.3 2287.4h-3.5M815.2 2393.3v3.5M709.3 2283.5h-4.5M819.2 2393.3v4.5M709.3 2280.3h-3.5M822.4 2393.3v3.5M709.3 2277.6h-3.5M825.1 2393.3v3.5M709.3 2275.2h-3.5M827.5 2393.3v3.5M709.3 2273.1h-3.5M829.6 2393.3v3.5M709.3 2259.0h-3.5M843.7 2393.3v3.5M709.3 2251.8h-3.5M850.9 2393.3v3.5M709.3 2246.8h-3.5M856.0 2393.3v3.5M709.3 2242.8h-4.5M859.9 2393.3v4.5M709.3 2239.6h-3.5M863.1 2393.3v3.5M709.3 2236.9h-3.5M865.9 2393.3v3.5M709.3 2234.5h-3.5M868.2 2393.3v3.5M709.3 2232.4h-3.5M870.3 2393.3v3.5M709.3 2218.3h-3.5M884.4 2393.3v3.5M709.3 2211.2h-3.5M891.6 2393.3v3.5M709.3 2206.1h-3.5M896.7 2393.3v3.5M709.3 2202.1h-4.5M900.6 2393.3v4.5M709.3 2198.9h-3.5M903.9 2393.3v3.5M709.3 2196.2h-3.5M906.6 2393.3v3.5M709.3 2193.8h-3.5M908.9 2393.3v3.5M709.3 2191.7h-3.5M911.0 2393.3v3.5M709.3 2177.6h-3.5M925.1 2393.3v3.5M709.3 2170.5h-3.5M932.3 2393.3v3.5M709.3 2165.4h-3.5M937.4 2393.3v3.5M709.3 2161.4h-4.5M941.3 2393.3v4.5M709.3 2158.2h-3.5M944.6 2393.3v3.5M709.3 2155.5h-3.5M947.3 2393.3v3.5M709.3 2153.1h-3.5M949.7 2393.3v3.5M709.3 2151.1h-3.5M951.7 2393.3v3.5" stroke="#333" stroke-width="1" fill="none"/>
<text x="681.80" y="2393.30" font-size="9.00" fill="#222">10</text>
<text x="692.70" y="2385.80" font-size="9.00" fill="#222">0</text>
<text x="714.30" y="2423.30" font-size="9.00" fill="#222">10</text>
<text x="724.30" y="2415.80" font-size="9.00" fill="#222">0</text>
<text x="681.80" y="2359.82" font-size="9.00" fill="#222">10</text>
<text x="692.70" y="2352.32" font-size="9.00" fill="#222">1</text>
<text x="747.22" y="2423.30" font-size="9.00" fill="#222">10</text>
<text x="757.22" y="2415.80" font-size="9.00" fill="#222">1</text>
<text x="681.80" y="2319.13" font-size="9.00" fill="#222">10</text>
<text x="692.70" y="2311.63" font-size="9.00" fill="#222">2</text>
<text x="787.93" y="2423.30" font-size="9.00" fill="#222">10</text>
<text x="797.93" y="2415.80" font-size="9.00" fill="#222">2</text>
<text x="681.80" y="2278.45" font-size="9.00" fill="#222">10</text>
<text x="692.70" y="2270.95" font-size="9.00" fill="#222">3</text>
<text x="828.65" y="2423.30" font-size="9.00" fill="#222">10</text>
<text x="838.65" y="2415.80" font-size="9.00" fill="#222">3</text>
<text x="681.80" y="2237.77" font-size="9.00" fill="#222">10</text>
<text x="692.70" y="2230.27" font-size="9.00" fill="#222">4</text>
<text x="869.37" y="2423.30" font-size="9.00" fill="#222">10</text>
<text x="879.37" y="2415.80" font-size="9.00" fill="#222">4</text>
<text x="681.80" y="2197.08" font-size="9.00" fill="#222">10</text>
<text x="692.70" y="2189.58" font-size="9.00" fill="#222">5</text>
<text x="910.08" y="2423.30" font-size="9.00" fill="#222">10</text>
<text x="920.08" y="2415.80" font-size="9.00" fill="#222">5</text>
<text x="681.80" y="2167.20" font-size="9.00" fill="#222">10</text>
<text x="692.70" y="2159.70" font-size="9.00" fill="#222">6</text>
<text x="940.60" y="2423.30" font-size="9.00" fill="#222">10</text>
<text x="950.60" y="2415.80" font-size="9.00" fill="#222">6</text>
<text transform="translate(672.63,2329.38) rotate(-90)" font-size="11.55" fill="#222">Comp-BL2-A :: PI-PI-A</text>
<text transform="translate(750.14,2444.62)" font-size="11.30" fill="#222">Comp-BL1-A :: Annex-v-FITC-A</text>
<text x="713.70" y="2170.70" font-size="10.80" fill="#222">Q1</text>
<text x="713.70" y="2187.00" font-size="10.80" fill="#222">2.13</text>
<text x="932.30" y="2170.70" font-size="10.80" text-anchor="end" fill="#222">Q2</text>
<text x="932.30" y="2187.00" font-size="10.80" text-anchor="end" fill="#222">19.1</text>
<text x="713.70" y="2363.30" font-size="10.80" fill="#222">Q4</text>
<text x="713.70" y="2380.30" font-size="10.80" fill="#222">73.0</text>
<text x="932.30" y="2363.30" font-size="10.80" text-anchor="end" fill="#222">Q3</text>
<text x="932.30" y="2380.30" font-size="10.80" text-anchor="end" fill="#222">5.79</text>
<text transform="translate(1141.04,2130.46)" font-size="32.35">OE</text>
<path d="M1181 2228.0h1.2m5.8 0h1.2m35.8 2h1.2m-48.2 1h1.2m7.8 1h1.2m-0.2 0h1.2m7.8 0h1.2m2.8 0h1.2m-34.2 1h1.2m9.8 0h1.2m14.8 0h1.2m3.8 1h1.2m-18.2 1h1.2m1.8 0h1.2m4.8 0h1.2m2.8 0h1.2m2.8 0h1.2m9.8 0h1.2m-45.2 1h1.2m6.8 0h1.2m-0.2 0h1.2m-15.2 1h1.2m16.8 0h1.2m5.8 0h1.2m12.8 0h1.2m1.8 0h1.2m0.8 0h1.2m-35.2 1h1.2m9.8 0h1.2m3.8 0h1.2m0.8 0h1.2m-0.2 0h1.2m1.8 0h1.2m-17.2 1h1.2m4.8 0h1.2m2.8 0h1.2m7.8 0h1.2m-0.2 0h1.2m1.8 0h1.2m-33.2 1h1.2m8.8 0h1.2m-0.2 0h1.2m-0.2 0h1.2m4.8 0h1.2m3.8 0h1.2m3.8 0h1.2m4.8 0h1.2m19.8 0h1.2m-57.2 1h1.2m0.8 0h1.2m6.8 0h1.2m2.8 0h1.2m5.8 0h1.2m2.8 0h1.2m0.8 0h1.2m9.8 0h1.2m2.8 0h1.2m-53.2 1h1.2m19.8 0h1.2m1.8 0h1.2m-0.2 0h1.2m1.8 0h1.2m-0.2 0h1.2m5.8 0h1.2m0.8 0h1.2m-0.2 0h1.2m-0.2 0h1.2m0.8 0h1.2m0.8 0h1.2m1.8 0h1.2m0.8 0h1.2m0.8 0h1.2m0.8 0h1.2m-57.2 1h1.2m7.8 0h1.2m8.8 0h1.2m2.8 0h1.2m0.8 0h1.2m6.8 0h1.2m10.8 0h1.2m6.8 0h1.2m5.8 0h1.2m8.8 0h1.2m-58.2 1h1.2m0.8 0h1.2m4.8 0h1.2m-0.2 0h1.2m2.8 0h1.2m-0.2 0h1.2m0.8 0h1.2m-0.2 0h1.2m1.8 0h1.2m0.8 0h1.2m-0.2 0h1.2m0.8 0h1.2m-0.2 0h1.2m-0.2 0h1.2m-0.2 0h1.2m4.8 0h1.2m-57.2 1h1.2m28.8 0h1.2m0.8 0h1.2m1.8 0h1.2m1.8 0h1.2m3.8 0h1.2m-0.2 0h1.2m1.8 0h1.2m1.8 0h1.2m1.8 0h1.2m1.8 0h1.2m0.8 0h1.2m4.8 0h1.2m2.8 0h1.2m0.8 0h1.2m7.8 0h1.2m-62.2 1h1.2m3.8 0h1.2m-0.2 0h1.2m4.8 0h1.2m-0.2 0h1.2m-0.2 0h1.2m1.8 0h1.2m0.8 0h1.2m1.8 0h1.2m0.8 0h1.2m3.8 0h1.2m3.8 0h1.2m-0.2 0h1.2m2.8 0h1.2m0.8 0h1.2m1.8 0h1.2m-0.2 0h1.2m5.8 0h1.2m-48.2 1h1.2m8.8 0h1.2m0.8 0h1.2m-0.2 0h1.2m-0.2 0h1.2m1.8 0h1.2m1.8 0h1.2m0.8 0h1.2m-0.2 0h1.2m-0.2 0h1.2m-0.2 0h1.2m-0.2 0h1.2m0.8 0h1.2m-0.2 0h1.2m0.8 0h1.2m0.8 0h1.2m0.8 0h1.2m2.8 0h1.2m6.8 0h1.2m-50.2 1h1.2m1.8 0h1.2m-0.2 0h1.2m3.8 0h1.2m0.8 0h1.2m2.8 0h1.2m2.8 0h1.2m-0.2 0h1.2m-0.2 0h1.2m4.8 0h1.2m0.8 0h1.2m-0.2 0h1.2m1.8 0h1.2m0.8 0h1.2m0.8 0h1.2m-0.2 0h1.2m0.8 0h1.2m2.8 0h1.2m-64.2 1h1.2m11.8 0h1.2m1.8 0h1.2m1.8 0h1.2m0.8 0h1.2m-0.2 0h1.2m-0.2 0h1.2m0.8 0h1.2m2.8 0h1.2m-0.2 0h1.2m-0.2 0h1.2m-0.2 0h1.2m-0.2 0h1.2m1.8 0h1.2m-0.2 0h1.2m0.8 0h1.2m-0.2 0h1.2m0.8 0h1.2m-0.2 0h1.2m-0.2 0h1.2m-0.2 0h1.2m-0.2 0h1.2m0.8 0h1.2m4.8 0h1.2m-0.2 0h1.2m-0.2 0h1.2m2.8 0h1.2m11.8 0h1.2m-75.2 1h1.2m15.8 0h1.2m11.8 0h1.2m3.8 0h1.2m-0.2 0h1.2m-0.2 0h1.2m-0.2 0h1.2m5.8 0h1.2m-0.2 0h1.2m-0.2 0h1.2m-0.2 0h1.2m0.8 0h1.2m-0.2 0h1.2m-0.2 0h1.2m6.8 0h1.2m-0.2 0h1.2m0.8 0h1.2m-56.2 1h1.2m-0.2 0h1.2m17.8 0h1.2m1.8 0h1.2m0.8 0h1.2m1.8 0h1.2m-0.2 0h1.2m2.8 0h1.2m0.8 0h1.2m0.8 0h1.2m-0.2 0h1.2m0.8 0h1.2m-0.2 0h1.2m1.8 0h1.2m0.8 0h1.2m2.8 0h1.2m-0.2 0h1.2m-0.2 0h1.2m-0.2 0h1.2m-0.2 0h1.2m-0.2 0h1.2m1.8 0h1.2m5.8 0h1.2m1.8 0h1.2m-46.2 1h1.2m-0.2 0h1.2m0.8 0h1.2m0.8 0h1.2m-0.2 0h1.2m0.8 0h1.2m0.8 0h1.2m1.8 0h1.2m-0.2 0h1.2m0.8 0h1.2m0.8 0h1.2m-0.2 0h1.2m0.8 0h1.2m4.8 0h1.2m0.8 0h1.2m2.8 0h1.2m-0.2 0h1.2m-44.2 1h1.2m-0.2 0h1.2m4.8 0h1.2m-0.2 0h1.2m-0.2 0h1.2m-0.2 0h1.2m1.8 0h1.2m-0.2 0h1.2m-0.2 0h1.2m1.8 0h1.2m1.8 0h1.2m-0.2 0h1.2m-0.2 0h1.2m2.8 0h1.2m1.8 0h1.2m-0.2 0h1.2m-0.2 0h1.2m-0.2 0h1.2m2.8 0h1.2m-0.2 0h1.2m5.8 0h1.2m9.8 0h1.2m-57.2 1h1.2m1.8 0h1.2m0.8 0h1.2m0.8 0h1.2m-0.2 0h1.2m-0.2 0h1.2m-0.2 0h1.2m-0.2 0h1.2m-0.2 0h1.2m0.8 0h1.2m0.8 0h1.2m-0.2 0h1.2m0.8 0h1.2m-0.2 0h1.2m-0.2 0h1.2m-0.2 0h1.2m0.8 0h1.2m-0.2 0h1.2m-0.2 0h1.2m-0.2 0h1.2m0.8 0h1.2m0.8 0h1.2m3.8 0h1.2m0.8 0h1.2m6.8 0h1.2m-57.2 1h1.2m2.8 0h1.2m5.8 0h1.2m-0.2 0h1.2m0.8 0h1.2m1.8 0h1.2m1.8 0h1.2m-0.2 0h1.2m1.8 0h1.2m1.8 0h1.2m-0.2 0h1.2m-0.2 0h1.2m3.8 0h1.2m-0.2 0h1.2m2.8 0h1.2m4.8 0h1.2m10.8 0h1.2m-66.2 1h1.2m5.8 0h1.2m5.8 0h1.2m6.8 0h1.2m-0.2 0h1.2m4.8 0h1.2m-0.2 0h1.2m-0.2 0h1.2m0.8 0h1.2m-0.2 0h1.2m1.8 0h1.2m-0.2 0h1.2m0.8 0h1.2m-0.2 0h1.2m-0.2 0h1.2m-0.2 0h1.2m0.8 0h1.2m-0.2 0h1.2m1.8 0h1.2m-0.2 0h1.2m-0.2 0h1.2m2.8 0h1.2m1.8 0h1.2m0.8 0h1.2m-58.2 1h1.2m9.8 0h1.2m1.8 0h1.2m-0.2 0h1.2m0.8 0h1.2m-0.2 0h1.2m-0.2 0h1.2m-0.2 0h1.2m-0.2 0h1.2m0.8 0h1.2m-0.2 0h1.2m0.8 0h1.2m-0.2 0h1.2m-0.2 0h1.2m-0.2 0h1.2m-0.2 0h1.2m-0.2 0h1.2m-0.2 0h1.2m-0.2 0h1.2m-0.2 0h1.2m0.8 0h1.2m-0.2 0h1.2m-0.2 0h1.2m0.8 0h1.2m-0.2 0h1.2m0.8 0h1.2m0.8 0h1.2m-0.2 0h1.2m0.8 0h1.2m-0.2 0h1.2m5.8 0h1.2m3.8 0h1.2m-80.2 1h1.2m28.8 0h1.2m0.8 0h1.2m0.8 0h1.2m-0.2 0h1.2m-0.2 0h1.2m-0.2 0h1.2m-0.2 0h1.2m4.8 0h1.2m-0.2 0h1.2m-0.2 0h1.2m-0.2 0h1.2m0.8 0h1.2m-0.2 0h1.2m-0.2 0h1.2m-0.2 0h1.2m1.8 0h1.2m-0.2 0h1.2m-0.2 0h1.2m0.8 0h1.2m-0.2 0h1.2m-0.2 0h1.2m-0.2 0h1.2m1.8 0h1.2m2.8 0h1.2m-0.2 0h1.2m-53.2 1h1.2m-0.2 0h1.2m9.8 0h1.2m4.8 0h1.2m0.8 0h1.2m0.8 0h1.2m1.8 0h1.2m0.8 0h1.2m2.8 0h1.2m0.8 0h1.2m-0.2 0h1.2m-0.2 0h1.2m-0.2 0h1.2m0.8 0h1.2m-0.2 0h1.2m0.8 0h1.2m2.8 0h1.2m-0.2 0h1.2m0.8 0h1.2m-0.2 0h1.2m-0.2 0h1.2m4.8 0h1.2m3.8 0h1.2m3.8 0h1.2m-53.2 1h1.2m1.8 0h1.2m-0.2 0h1.2m5.8 0h1.2m1.8 0h1.2m-0.2 0h1.2m0.8 0h1.2m-0.2 0h1.2m0.8 0h1.2m-0.2 0h1.2m0.8 0h1.2m-0.2 0h1.2m2.8 0h1.2m4.8 0h1.2m1.8 0h1.2m-0.2 0h1.2m4.8 0h1.2m4.8 0h1.2m-54.2 1h1.2m-0.2 0h1.2m1.8 0h1.2m5.8 0h1.2m-0.2 0h1.2m-0.2 0h1.2m-0.2 0h1.2m-0.2 0h1.2m-0.2 0h1.2m-0.2 0h1.2m-0.2 0h1.2m-0.2 0h1.2m-0.2 0h1.2m0.8 0h1.2m3.8 0h1.2m2.8 0h1.2m2.8 0h1.2m-0.2 0h1.2m0.8 0h1.2m3.8 0h1.2m0.8 0h1.2m-0.2 0h1.2m0.8 0h1.2m-73.2 1h1.2m31.8 0h1.2m0.8 0h1.2m-0.2 0h1.2m-0.2 0h1.2m-0.2 0h1.2m-0.2 0h1.2m1.8 0h1.2m1.8 0h1.2m0.8 0h1.2m0.8 0h1.2m-0.2 0h1.2m0.8 0h1.2m0.8 0h1.2m0.8 0h1.2m0.8 0h1.2m-0.2 0h1.2m3.8 0h1.2m4.8 0h1.2m-55.2 1h1.2m-0.2 0h1.2m2.8 0h1.2m4.8 0h1.2m0.8 0h1.2m0.8 0h1.2m3.8 0h1.2m-0.2 0h1.2m2.8 0h1.2m-0.2 0h1.2m-0.2 0h1.2m2.8 0h1.2m0.8 0h1.2m0.8 0h1.2m2.8 0h1.2m-0.2 0h1.2m-0.2 0h1.2m-0.2 0h1.2m2.8 0h1.2m17.8 0h1.2m-0.2 0h1.2m-71.2 1h1.2m9.8 0h1.2m1.8 0h1.2m6.8 0h1.2m0.8 0h1.2m2.8 0h1.2m0.8 0h1.2m-0.2 0h1.2m2.8 0h1.2m0.8 0h1.2m-0.2 0h1.2m5.8 0h1.2m4.8 0h1.2m-0.2 0h1.2m-88.2 1h1.2m41.8 0h1.2m1.8 0h1.2m1.8 0h1.2m0.8 0h1.2m2.8 0h1.2m4.8 0h1.2m3.8 0h1.2m0.8 0h1.2m0.8 0h1.2m-0.2 0h1.2m-0.2 0h1.2m0.8 0h1.2m0.8 0h1.2m-0.2 0h1.2m-0.2 0h1.2m0.8 0h1.2m-0.2 0h1.2m5.8 0h1.2m4.8 0h1.2m20.8 0h1.2m-113.2 1h1.2m19.8 0h1.2m6.8 0h1.2m12.8 0h1.2m1.8 0h1.2m2.8 0h1.2m1.8 0h1.2m0.8 0h1.2m-0.2 0h1.2m0.8 0h1.2m1.8 0h1.2m0.8 0h1.2m2.8 0h1.2m4.8 0h1.2m-0.2 0h1.2m-0.2 0h1.2m0.8 0h1.2m-0.2 0h1.2m0.8 0h1.2m1.8 0h1.2m0.8 0h1.2m0.8 0h1.2m9.8 0h1.2m-62.2 1h1.2m0.8 0h1.2m-0.2 0h1.2m5.8 0h1.2m2.8 0h1.2m0.8 0h1.2m0.8 0h1.2m1.8 0h1.2m-0.2 0h1.2m-0.2 0h1.2m-0.2 0h1.2m-0.2 0h1.2m2.8 0h1.2m1.8 0h1.2m2.8 0h1.2m0.8 0h1.2m0.8 0h1.2m-0.2 0h1.2m16.8 0h1.2m-122.2 1h1.2m17.8 0h1.2m40.8 0h1.2m4.8 0h1.2m-0.2 0h1.2m10.8 0h1.2m6.8 0h1.2m-0.2 0h1.2m0.8 0h1.2m4.8 0h1.2m2.8 0h1.2m4.8 0h1.2m-0.2 0h1.2m2.8 0h1.2m3.8 0h1.2m-95.2 1h1.2m6.8 0h1.2m15.8 0h1.2m10.8 0h1.2m6.8 0h1.2m0.8 0h1.2m6.8 0h1.2m0.8 0h1.2m-0.2 0h1.2m1.8 0h1.2m1.8 0h1.2m-0.2 0h1.2m-0.2 0h1.2m1.8 0h1.2m1.8 0h1.2m-0.2 0h1.2m-0.2 0h1.2m2.8 0h1.2m-73.2 1h1.2m-0.2 0h1.2m4.8 0h1.2m23.8 0h1.2m2.8 0h1.2m3.8 0h1.2m6.8 0h1.2m0.8 0h1.2m2.8 0h1.2m3.8 0h1.2m-0.2 0h1.2m-0.2 0h1.2m4.8 0h1.2m3.8 0h1.2m7.8 0h1.2m-0.2 0h1.2m3.8 0h1.2m16.8 0h1.2m-116.2 1h1.2m44.8 0h1.2m1.8 0h1.2m0.8 0h1.2m0.8 0h1.2m0.8 0h1.2m3.8 0h1.2m6.8 0h1.2m6.8 0h1.2m-0.2 0h1.2m0.8 0h1.2m0.8 0h1.2m1.8 0h1.2m0.8 0h1.2m11.8 0h1.2m-62.2 1h1.2m8.8 0h1.2m0.8 0h1.2m8.8 0h1.2m0.8 0h1.2m0.8 0h1.2m4.8 0h1.2m1.8 0h1.2m1.8 0h1.2m2.8 0h1.2m5.8 0h1.2m3.8 0h1.2m-0.2 0h1.2m-87.2 1h1.2m10.8 0h1.2m22.8 0h1.2m4.8 0h1.2m2.8 0h1.2m3.8 0h1.2m2.8 0h1.2m4.8 0h1.2m-0.2 0h1.2m-0.2 0h1.2m4.8 0h1.2m1.8 0h1.2m2.8 0h1.2m-121.2 1h1.2m24.8 0h1.2m20.8 0h1.2m1.8 0h1.2m3.8 0h1.2m23.8 0h1.2m7.8 0h1.2m5.8 0h1.2m3.8 0h1.2m2.8 0h1.2m-0.2 0h1.2m6.8 0h1.2m5.8 0h1.2m22.8 0h1.2m-156.2 1h1.2m11.8 0h1.2m43.8 0h1.2m8.8 0h1.2m0.8 0h1.2m5.8 0h1.2m7.8 0h1.2m-0.2 0h1.2m14.8 0h1.2m-0.2 0h1.2m2.8 0h1.2m4.8 0h1.2m-0.2 0h1.2m7.8 0h1.2m2.8 0h1.2m2.8 0h1.2m-0.2 0h1.2m17.8 0h1.2m-129.2 1h1.2m5.8 0h1.2m0.8 0h1.2m-0.2 0h1.2m0.8 0h1.2m3.8 0h1.2m8.8 0h1.2m1.8 0h1.2m7.8 0h1.2m2.8 0h1.2m11.8 0h1.2m16.8 0h1.2m0.8 0h1.2m-0.2 0h1.2m4.8 0h1.2m-0.2 0h1.2m1.8 0h1.2m7.8 0h1.2m-0.2 0h1.2m-0.2 0h1.2m3.8 0h1.2m0.8 0h1.2m8.8 0h1.2m-139.2 1h1.2m25.8 0h1.2m16.8 0h1.2m6.8 0h1.2m2.8 0h1.2m4.8 0h1.2m8.8 0h1.2m21.8 0h1.2m1.8 0h1.2m1.8 0h1.2m4.8 0h1.2m2.8 0h1.2m0.8 0h1.2m-0.2 0h1.2m1.8 0h1.2m-0.2 0h1.2m0.8 0h1.2m12.8 0h1.2m11.8 0h1.2m-131.2 1h1.2m5.8 0h1.2m18.8 0h1.2m0.8 0h1.2m5.8 0h1.2m-0.2 0h1.2m3.8 0h1.2m27.8 0h1.2m7.8 0h1.2m1.8 0h1.2m-0.2 0h1.2m0.8 0h1.2m-0.2 0h1.2m0.8 0h1.2m3.8 0h1.2m-0.2 0h1.2m3.8 0h1.2m7.8 0h1.2m4.8 0h1.2m8.8 0h1.2m-171.2 1h1.2m32.8 0h1.2m19.8 0h1.2m2.8 0h1.2m3.8 0h1.2m0.8 0h1.2m-0.2 0h1.2m7.8 0h1.2m2.8 0h1.2m6.8 0h1.2m16.8 0h1.2m12.8 0h1.2m9.8 0h1.2m-0.2 0h1.2m1.8 0h1.2m0.8 0h1.2m6.8 0h1.2m2.8 0h1.2m-0.2 0h1.2m1.8 0h1.2m0.8 0h1.2m0.8 0h1.2m7.8 0h1.2m11.8 0h1.2m-144.2 1h1.2m3.8 0h1.2m14.8 0h1.2m-0.2 0h1.2m1.8 0h1.2m3.8 0h1.2m7.8 0h1.2m6.8 0h1.2m14.8 0h1.2m6.8 0h1.2m1.8 0h1.2m-0.2 0h1.2m11.8 0h1.2m-0.2 0h1.2m2.8 0h1.2m3.8 0h1.2m6.8 0h1.2m2.8 0h1.2m-0.2 0h1.2m6.8 0h1.2m5.8 0h1.2m11.8 0h1.2m-150.2 1h1.2m29.8 0h1.2m-0.2 0h1.2m5.8 0h1.2m4.8 0h1.2m1.8 0h1.2m0.8 0h1.2m5.8 0h1.2m0.8 0h1.2m15.8 0h1.2m5.8 0h1.2m6.8 0h1.2m4.8 0h1.2m0.8 0h1.2m0.8 0h1.2m0.8 0h1.2m0.8 0h1.2m-0.2 0h1.2m2.8 0h1.2m1.8 0h1.2m3.8 0h1.2m9.8 0h1.2m2.8 0h1.2m16.8 0h1.2m-186.2 1h1.2m50.8 0h1.2m1.8 0h1.2m8.8 0h1.2m6.8 0h1.2m4.8 0h1.2m1.8 0h1.2m-0.2 0h1.2m0.8 0h1.2m4.8 0h1.2m2.8 0h1.2m-0.2 0h1.2m16.8 0h1.2m1.8 0h1.2m-0.2 0h1.2m3.8 0h1.2m10.8 0h1.2m-0.2 0h1.2m4.8 0h1.2m3.8 0h1.2m3.8 0h1.2m-0.2 0h1.2m-0.2 0h1.2m-0.2 0h1.2m3.8 0h1.2m11.8 0h1.2m-149.2 1h1.2m4.8 0h1.2m6.8 0h1.2m5.8 0h1.2m6.8 0h1.2m3.8 0h1.2m-0.2 0h1.2m-0.2 0h1.2m-0.2 0h1.2m0.8 0h1.2m4.8 0h1.2m-0.2 0h1.2m-0.2 0h1.2m-0.2 0h1.2m-0.2 0h1.2m-0.2 0h1.2m6.8 0h1.2m-0.2 0h1.2m1.8 0h1.2m4.8 0h1.2m2.8 0h1.2m0.8 0h1.2m17.8 0h1.2m3.8 0h1.2m3.8 0h1.2m0.8 0h1.2m0.8 0h1.2m0.8 0h1.2m2.8 0h1.2m-0.2 0h1.2m1.8 0h1.2m3.8 0h1.2m15.8 0h1.2m18.8 0h1.2m-177.2 1h1.2m35.8 0h1.2m0.8 0h1.2m9.8 0h1.2m1.8 0h1.2m0.8 0h1.2m1.8 0h1.2m6.8 0h1.2m0.8 0h1.2m0.8 0h1.2m1.8 0h1.2m1.8 0h1.2m0.8 0h1.2m-0.2 0h1.2m-0.2 0h1.2m0.8 0h1.2m-0.2 0h1.2m8.8 0h1.2m1.8 0h1.2m-0.2 0h1.2m10.8 0h1.2m7.8 0h1.2m0.8 0h1.2m-0.2 0h1.2m-0.2 0h1.2m5.8 0h1.2m0.8 0h1.2m6.8 0h1.2m-0.2 0h1.2m0.8 0h1.2m22.8 0h1.2m-162.2 1h1.2m24.8 0h1.2m2.8 0h1.2m16.8 0h1.2m0.8 0h1.2m2.8 0h1.2m3.8 0h1.2m5.8 0h1.2m2.8 0h1.2m1.8 0h1.2m0.8 0h1.2m-0.2 0h1.2m-0.2 0h1.2m0.8 0h1.2m3.8 0h1.2m3.8 0h1.2m3.8 0h1.2m3.8 0h1.2m4.8 0h1.2m0.8 0h1.2m-0.2 0h1.2m0.8 0h1.2m-0.2 0h1.2m5.8 0h1.2m0.8 0h1.2m0.8 0h1.2m3.8 0h1.2m-0.2 0h1.2m1.8 0h1.2m-0.2 0h1.2m-0.2 0h1.2m2.8 0h1.2m0.8 0h1.2m9.8 0h1.2m-164.2 1h1.2m15.8 0h1.2m6.8 0h1.2m2.8 0h1.2m16.8 0h1.2m1.8 0h1.2m5.8 0h1.2m1.8 0h1.2m4.8 0h1.2m0.8 0h1.2m1.8 0h1.2m-0.2 0h1.2m3.8 0h1.2m0.8 0h1.2m3.8 0h1.2m0.8 0h1.2m-0.2 0h1.2m-0.2 0h1.2m2.8 0h1.2m-0.2 0h1.2m2.8 0h1.2m6.8 0h1.2m5.8 0h1.2m10.8 0h1.2m3.8 0h1.2m-0.2 0h1.2m4.8 0h1.2m-0.2 0h1.2m9.8 0h1.2m-0.2 0h1.2m1.8 0h1.2m0.8 0h1.2m3.8 0h1.2m-147.2 1h1.2m5.8 0h1.2m10.8 0h1.2m3.8 0h1.2m1.8 0h1.2m1.8 0h1.2m2.8 0h1.2m3.8 0h1.2m6.8 0h1.2m0.8 0h1.2m0.8 0h1.2m1.8 0h1.2m0.8 0h1.2m0.8 0h1.2m2.8 0h1.2m1.8 0h1.2m0.8 0h1.2m-0.2 0h1.2m-0.2 0h1.2m-0.2 0h1.2m1.8 0h1.2m0.8 0h1.2m-0.2 0h1.2m-0.2 0h1.2m-0.2 0h1.2m0.8 0h1.2m-0.2 0h1.2m1.8 0h1.2m-0.2 0h1.2m4.8 0h1.2m0.8 0h1.2m1.8 0h1.2m-0.2 0h1.2m1.8 0h1.2m-0.2 0h1.2m9.8 0h1.2m2.8 0h1.2m7.8 0h1.2m0.8 0h1.2m1.8 0h1.2m7.8 0h1.2m5.8 0h1.2m4.8 0h1.2m11.8 0h1.2m-162.2 1h1.2m10.8 0h1.2m17.8 0h1.2m0.8 0h1.2m-0.2 0h1.2m3.8 0h1.2m0.8 0h1.2m0.8 0h1.2m2.8 0h1.2m0.8 0h1.2m-0.2 0h1.2m-0.2 0h1.2m-0.2 0h1.2m0.8 0h1.2m0.8 0h1.2m0.8 0h1.2m0.8 0h1.2m-0.2 0h1.2m0.8 0h1.2m-0.2 0h1.2m0.8 0h1.2m0.8 0h1.2m1.8 0h1.2m1.8 0h1.2m-0.2 0h1.2m0.8 0h1.2m3.8 0h1.2m0.8 0h1.2m0.8 0h1.2m1.8 0h1.2m6.8 0h1.2m-0.2 0h1.2m-0.2 0h1.2m3.8 0h1.2m0.8 0h1.2m-0.2 0h1.2m0.8 0h1.2m5.8 0h1.2m0.8 0h1.2m-0.2 0h1.2m10.8 0h1.2m9.8 0h1.2m9.8 0h1.2m-158.2 1h1.2m2.8 0h1.2m6.8 0h1.2m0.8 0h1.2m13.8 0h1.2m2.8 0h1.2m0.8 0h1.2m-0.2 0h1.2m-0.2 0h1.2m0.8 0h1.2m-0.2 0h1.2m1.8 0h1.2m2.8 0h1.2m2.8 0h1.2m-0.2 0h1.2m2.8 0h1.2m-0.2 0h1.2m-0.2 0h1.2m-0.2 0h1.2m1.8 0h1.2m2.8 0h1.2m2.8 0h1.2m-0.2 0h1.2m0.8 0h1.2m1.8 0h1.2m1.8 0h1.2m-0.2 0h1.2m-0.2 0h1.2m-0.2 0h1.2m-0.2 0h1.2m4.8 0h1.2m1.8 0h1.2m5.8 0h1.2m0.8 0h1.2m0.8 0h1.2m1.8 0h1.2m0.8 0h1.2m1.8 0h1.2m0.8 0h1.2m0.8 0h1.2m-0.2 0h1.2m7.8 0h1.2m1.8 0h1.2m1.8 0h1.2m2.8 0h1.2m-0.2 0h1.2m-0.2 0h1.2m2.8 0h1.2m-0.2 0h1.2m2.8 0h1.2m-0.2 0h1.2m-134.2 1h1.2m3.8 0h1.2m0.8 0h1.2m5.8 0h1.2m3.8 0h1.2m5.8 0h1.2m0.8 0h1.2m1.8 0h1.2m-0.2 0h1.2m-0.2 0h1.2m1.8 0h1.2m-0.2 0h1.2m0.8 0h1.2m-0.2 0h1.2m-0.2 0h1.2m2.8 0h1.2m1.8 0h1.2m-0.2 0h1.2m4.8 0h1.2m0.8 0h1.2m-0.2 0h1.2m-0.2 0h1.2m-0.2 0h1.2m-0.2 0h1.2m-0.2 0h1.2m-0.2 0h1.2m-0.2 0h1.2m-0.2 0h1.2m2.8 0h1.2m-0.2 0h1.2m5.8 0h1.2m-0.2 0h1.2m1.8 0h1.2m-0.2 0h1.2m5.8 0h1.2m5.8 0h1.2m2.8 0h1.2m0.8 0h1.2m3.8 0h1.2m1.8 0h1.2m-0.2 0h1.2m1.8 0h1.2m-0.2 0h1.2m1.8 0h1.2m-0.2 0h1.2m0.8 0h1.2m0.8 0h1.2m3.8 0h1.2m-0.2 0h1.2m1.8 0h1.2m-152.2 1h1.2m15.8 0h1.2m5.8 0h1.2m-0.2 0h1.2m1.8 0h1.2m1.8 0h1.2m0.8 0h1.2m2.8 0h1.2m-0.2 0h1.2m-0.2 0h1.2m-0.2 0h1.2m-0.2 0h1.2m0.8 0h1.2m8.8 0h1.2m-0.2 0h1.2m-0.2 0h1.2m0.8 0h1.2m-0.2 0h1.2m2.8 0h1.2m0.8 0h1.2m0.8 0h1.2m0.8 0h1.2m-0.2 0h1.2m0.8 0h1.2m-0.2 0h1.2m-0.2 0h1.2m1.8 0h1.2m-0.2 0h1.2m-0.2 0h1.2m-0.2 0h1.2m-0.2 0h1.2m1.8 0h1.2m-0.2 0h1.2m-0.2 0h1.2m-0.2 0h1.2m-0.2 0h1.2m3.8 0h1.2m-0.2 0h1.2m1.8 0h1.2m3.8 0h1.2m2.8 0h1.2m1.8 0h1.2m12.8 0h1.2m4.8 0h1.2m-0.2 0h1.2m0.8 0h1.2m2.8 0h1.2m2.8 0h1.2m0.8 0h1.2m-0.2 0h1.2m4.8 0h1.2m6.8 0h1.2m-152.2 1h1.2m2.8 0h1.2m6.8 0h1.2m0.8 0h1.2m0.8 0h1.2m1.8 0h1.2m5.8 0h1.2m5.8 0h1.2m-0.2 0h1.2m0.8 0h1.2m0.8 0h1.2m-0.2 0h1.2m-0.2 0h1.2m0.8 0h1.2m-0.2 0h1.2m2.8 0h1.2m-0.2 0h1.2m-0.2 0h1.2m0.8 0h1.2m-0.2 0h1.2m0.8 0h1.2m-0.2 0h1.2m-0.2 0h1.2m0.8 0h1.2m-0.2 0h1.2m-0.2 0h1.2m0.8 0h1.2m0.8 0h1.2m1.8 0h1.2m0.8 0h1.2m-0.2 0h1.2m-0.2 0h1.2m5.8 0h1.2m0.8 0h1.2m-0.2 0h1.2m-0.2 0h1.2m-0.2 0h1.2m-0.2 0h1.2m9.8 0h1.2m1.8 0h1.2m-0.2 0h1.2m0.8 0h1.2m-0.2 0h1.2m3.8 0h1.2m1.8 0h1.2m-0.2 0h1.2m3.8 0h1.2m-0.2 0h1.2m3.8 0h1.2m3.8 0h1.2m-0.2 0h1.2m1.8 0h1.2m0.8 0h1.2m2.8 0h1.2m7.8 0h1.2m0.8 0h1.2m-162.2 1h1.2m6.8 0h1.2m7.8 0h1.2m1.8 0h1.2m3.8 0h1.2m4.8 0h1.2m0.8 0h1.2m0.8 0h1.2m4.8 0h1.2m4.8 0h1.2m-0.2 0h1.2m0.8 0h1.2m1.8 0h1.2m1.8 0h1.2m0.8 0h1.2m-0.2 0h1.2m-0.2 0h1.2m-0.2 0h1.2m-0.2 0h1.2m3.8 0h1.2m5.8 0h1.2m-0.2 0h1.2m0.8 0h1.2m2.8 0h1.2m-0.2 0h1.2m0.8 0h1.2m1.8 0h1.2m0.8 0h1.2m1.8 0h1.2m-0.2 0h1.2m-0.2 0h1.2m-0.2 0h1.2m2.8 0h1.2m-0.2 0h1.2m4.8 0h1.2m3.8 0h1.2m7.8 0h1.2m-0.2 0h1.2m-0.2 0h1.2m2.8 0h1.2m8.8 0h1.2m0.8 0h1.2m0.8 0h1.2m-0.2 0h1.2m11.8 0h1.2m13.8 0h1.2m-170.2 1h1.2m15.8 0h1.2m1.8 0h1.2m1.8 0h1.2m2.8 0h1.2m0.8 0h1.2m3.8 0h1.2m6.8 0h1.2m-0.2 0h1.2m0.8 0h1.2m-0.2 0h1.2m-0.2 0h1.2m-0.2 0h1.2m1.8 0h1.2m1.8 0h1.2m-0.2 0h1.2m0.8 0h1.2m-0.2 0h1.2m-0.2 0h1.2m-0.2 0h1.2m12.8 0h1.2m-0.2 0h1.2m-0.2 0h1.2m6.8 0h1.2m-0.2 0h1.2m0.8 0h1.2m-0.2 0h1.2m-0.2 0h1.2m2.8 0h1.2m-0.2 0h1.2m1.8 0h1.2m2.8 0h1.2m9.8 0h1.2m4.8 0h1.2m-0.2 0h1.2m-0.2 0h1.2m0.8 0h1.2m4.8 0h1.2m-0.2 0h1.2m-0.2 0h1.2m-0.2 0h1.2m2.8 0h1.2m0.8 0h1.2m1.8 0h1.2m-0.2 0h1.2m-0.2 0h1.2m1.8 0h1.2m-0.2 0h1.2m-0.2 0h1.2m4.8 0h1.2m0.8 0h1.2m-156.2 1h1.2m15.8 0h1.2m1.8 0h1.2m1.8 0h1.2m2.8 0h1.2m6.8 0h1.2m-0.2 0h1.2m5.8 0h1.2m-0.2 0h1.2m0.8 0h1.2m-0.2 0h1.2m0.8 0h1.2m-0.2 0h1.2m-0.2 0h1.2m0.8 0h1.2m-0.2 0h1.2m-0.2 0h1.2m4.8 0h1.2m10.8 0h1.2m6.8 0h1.2m5.8 0h1.2m-0.2 0h1.2m0.8 0h1.2m1.8 0h1.2m-0.2 0h1.2m0.8 0h1.2m-0.2 0h1.2m6.8 0h1.2m-0.2 0h1.2m1.8 0h1.2m3.8 0h1.2m1.8 0h1.2m3.8 0h1.2m2.8 0h1.2m-0.2 0h1.2m2.8 0h1.2m-0.2 0h1.2m9.8 0h1.2m-0.2 0h1.2m10.8 0h1.2m5.8 0h1.2m-165.2 1h1.2m6.8 0h1.2m3.8 0h1.2m8.8 0h1.2m0.8 0h1.2m4.8 0h1.2m-0.2 0h1.2m0.8 0h1.2m0.8 0h1.2m-0.2 0h1.2m-0.2 0h1.2m1.8 0h1.2m-0.2 0h1.2m1.8 0h1.2m1.8 0h1.2m1.8 0h1.2m-0.2 0h1.2m1.8 0h1.2m-0.2 0h1.2m-0.2 0h1.2m28.8 0h1.2m2.8 0h1.2m-0.2 0h1.2m-0.2 0h1.2m-0.2 0h1.2m-0.2 0h1.2m0.8 0h1.2m-0.2 0h1.2m6.8 0h1.2m6.8 0h1.2m0.8 0h1.2m2.8 0h1.2m4.8 0h1.2m6.8 0h1.2m6.8 0h1.2m0.8 0h1.2m3.8 0h1.2m1.8 0h1.2m2.8 0h1.2m17.8 0h1.2m-176.2 1h1.2m6.8 0h1.2m3.8 0h1.2m2.8 0h1.2m1.8 0h1.2m1.8 0h1.2m0.8 0h1.2m4.8 0h1.2m3.8 0h1.2m0.8 0h1.2m2.8 0h1.2m-0.2 0h1.2m-0.2 0h1.2m-0.2 0h1.2m-0.2 0h1.2m-0.2 0h1.2m-0.2 0h1.2m-0.2 0h1.2m0.8 0h1.2m0.8 0h1.2m-0.2 0h1.2m35.8 0h1.2m-0.2 0h1.2m0.8 0h1.2m0.8 0h1.2m0.8 0h1.2m-0.2 0h1.2m3.8 0h1.2m1.8 0h1.2m-0.2 0h1.2m3.8 0h1.2m4.8 0h1.2m2.8 0h1.2m5.8 0h1.2m3.8 0h1.2m-0.2 0h1.2m0.8 0h1.2m3.8 0h1.2m1.8 0h1.2m-0.2 0h1.2m-140.2 1h1.2m7.8 0h1.2m1.8 0h1.2m1.8 0h1.2m0.8 0h1.2m2.8 0h1.2m0.8 0h1.2m1.8 0h1.2m1.8 0h1.2m-0.2 0h1.2m5.8 0h1.2m-0.2 0h1.2m0.8 0h1.2m1.8 0h1.2m0.8 0h1.2m36.8 0h1.2m-0.2 0h1.2m1.8 0h1.2m-0.2 0h1.2m2.8 0h1.2m0.8 0h1.2m0.8 0h1.2m-0.2 0h1.2m-0.2 0h1.2m2.8 0h1.2m6.8 0h1.2m3.8 0h1.2m12.8 0h1.2m-0.2 0h1.2m2.8 0h1.2m9.8 0h1.2m-154.2 1h1.2m6.8 0h1.2m7.8 0h1.2m6.8 0h1.2m2.8 0h1.2m7.8 0h1.2m-0.2 0h1.2m-0.2 0h1.2m1.8 0h1.2m-0.2 0h1.2m-0.2 0h1.2m0.8 0h1.2m1.8 0h1.2m1.8 0h1.2m37.8 0h1.2m0.8 0h1.2m-0.2 0h1.2m-0.2 0h1.2m-0.2 0h1.2m1.8 0h1.2m-0.2 0h1.2m-0.2 0h1.2m-0.2 0h1.2m0.8 0h1.2m5.8 0h1.2m2.8 0h1.2m17.8 0h1.2m-0.2 0h1.2m13.8 0h1.2m1.8 0h1.2m-155.2 1h1.2m6.8 0h1.2m3.8 0h1.2m8.8 0h1.2m0.8 0h1.2m2.8 0h1.2m0.8 0h1.2m1.8 0h1.2m0.8 0h1.2m-0.2 0h1.2m1.8 0h1.2m-0.2 0h1.2m-0.2 0h1.2m-0.2 0h1.2m-0.2 0h1.2m0.8 0h1.2m2.8 0h1.2m44.8 0h1.2m0.8 0h1.2m0.8 0h1.2m-0.2 0h1.2m-0.2 0h1.2m-0.2 0h1.2m4.8 0h1.2m0.8 0h1.2m2.8 0h1.2m5.8 0h1.2m3.8 0h1.2m1.8 0h1.2m4.8 0h1.2m-0.2 0h1.2m1.8 0h1.2m1.8 0h1.2m-0.2 0h1.2m3.8 0h1.2m-0.2 0h1.2m0.8 0h1.2m3.8 0h1.2m1.8 0h1.2m-161.2 1h1.2m6.8 0h1.2m7.8 0h1.2m1.8 0h1.2m1.8 0h1.2m2.8 0h1.2m0.8 0h1.2m3.8 0h1.2m-0.2 0h1.2m0.8 0h1.2m-0.2 0h1.2m-0.2 0h1.2m-0.2 0h1.2m-0.2 0h1.2m-0.2 0h1.2m-0.2 0h1.2m-0.2 0h1.2m6.8 0h1.2m38.8 0h1.2m2.8 0h1.2m0.8 0h1.2m-0.2 0h1.2m-0.2 0h1.2m2.8 0h1.2m1.8 0h1.2m0.8 0h1.2m-0.2 0h1.2m0.8 0h1.2m0.8 0h1.2m6.8 0h1.2m2.8 0h1.2m-0.2 0h1.2m-0.2 0h1.2m0.8 0h1.2m-0.2 0h1.2m0.8 0h1.2m3.8 0h1.2m0.8 0h1.2m1.8 0h1.2m-0.2 0h1.2m4.8 0h1.2m6.8 0h1.2m-0.2 0h1.2m10.8 0h1.2m-164.2 1h1.2m3.8 0h1.2m2.8 0h1.2m4.8 0h1.2m0.8 0h1.2m2.8 0h1.2m0.8 0h1.2m-0.2 0h1.2m-0.2 0h1.2m1.8 0h1.2m2.8 0h1.2m-0.2 0h1.2m2.8 0h1.2m3.8 0h1.2m-0.2 0h1.2m42.8 0h1.2m-0.2 0h1.2m-0.2 0h1.2m-0.2 0h1.2m-0.2 0h1.2m2.8 0h1.2m0.8 0h1.2m-0.2 0h1.2m-0.2 0h1.2m-0.2 0h1.2m-0.2 0h1.2m1.8 0h1.2m15.8 0h1.2m3.8 0h1.2m1.8 0h1.2m-0.2 0h1.2m3.8 0h1.2m3.8 0h1.2m6.8 0h1.2m10.8 0h1.2m2.8 0h1.2m-173.2 1h1.2m6.8 0h1.2m3.8 0h1.2m2.8 0h1.2m1.8 0h1.2m1.8 0h1.2m0.8 0h1.2m0.8 0h1.2m0.8 0h1.2m0.8 0h1.2m0.8 0h1.2m-0.2 0h1.2m0.8 0h1.2m-0.2 0h1.2m0.8 0h1.2m-0.2 0h1.2m-0.2 0h1.2m0.8 0h1.2m0.8 0h1.2m0.8 0h1.2m44.8 0h1.2m0.8 0h1.2m-0.2 0h1.2m-0.2 0h1.2m0.8 0h1.2m-0.2 0h1.2m-0.2 0h1.2m-0.2 0h1.2m1.8 0h1.2m-0.2 0h1.2m1.8 0h1.2m0.8 0h1.2m5.8 0h1.2m0.8 0h1.2m-0.2 0h1.2m1.8 0h1.2m-0.2 0h1.2m0.8 0h1.2m-0.2 0h1.2m-0.2 0h1.2m-0.2 0h1.2m-0.2 0h1.2m1.8 0h1.2m28.8 0h1.2m0.8 0h1.2m-167.2 1h1.2m6.8 0h1.2m3.8 0h1.2m2.8 0h1.2m1.8 0h1.2m1.8 0h1.2m0.8 0h1.2m0.8 0h1.2m0.8 0h1.2m0.8 0h1.2m-0.2 0h1.2m0.8 0h1.2m-0.2 0h1.2m-0.2 0h1.2m-0.2 0h1.2m0.8 0h1.2m1.8 0h1.2m50.8 0h1.2m1.8 0h1.2m-0.2 0h1.2m-0.2 0h1.2m0.8 0h1.2m-0.2 0h1.2m2.8 0h1.2m1.8 0h1.2m1.8 0h1.2m1.8 0h1.2m2.8 0h1.2m4.8 0h1.2m4.8 0h1.2m-0.2 0h1.2m8.8 0h1.2m3.8 0h1.2m11.8 0h1.2m-161.2 1h1.2m6.8 0h1.2m3.8 0h1.2m2.8 0h1.2m4.8 0h1.2m2.8 0h1.2m5.8 0h1.2m1.8 0h1.2m-0.2 0h1.2m0.8 0h1.2m54.8 0h1.2m0.8 0h1.2m-0.2 0h1.2m2.8 0h1.2m2.8 0h1.2m1.8 0h1.2m2.8 0h1.2m0.8 0h1.2m1.8 0h1.2m0.8 0h1.2m0.8 0h1.2m2.8 0h1.2m0.8 0h1.2m1.8 0h1.2m9.8 0h1.2m14.8 0h1.2m-160.2 1h1.2m6.8 0h1.2m3.8 0h1.2m2.8 0h1.2m1.8 0h1.2m3.8 0h1.2m0.8 0h1.2m0.8 0h1.2m0.8 0h1.2m-0.2 0h1.2m-0.2 0h1.2m0.8 0h1.2m0.8 0h1.2m-0.2 0h1.2m1.8 0h1.2m55.8 0h1.2m-0.2 0h1.2m2.8 0h1.2m1.8 0h1.2m0.8 0h1.2m7.8 0h1.2m2.8 0h1.2m-0.2 0h1.2m0.8 0h1.2m4.8 0h1.2m3.8 0h1.2m6.8 0h1.2m0.8 0h1.2m3.8 0h1.2m3.8 0h1.2m7.8 0h1.2m0.8 0h1.2m-167.2 1h1.2m11.8 0h1.2m2.8 0h1.2m1.8 0h1.2m1.8 0h1.2m0.8 0h1.2m0.8 0h1.2m0.8 0h1.2m0.8 0h1.2m1.8 0h1.2m-0.2 0h1.2m0.8 0h1.2m3.8 0h1.2m52.8 0h1.2m1.8 0h1.2m0.8 0h1.2m-0.2 0h1.2m-0.2 0h1.2m0.8 0h1.2m-0.2 0h1.2m-0.2 0h1.2m6.8 0h1.2m0.8 0h1.2m1.8 0h1.2m1.8 0h1.2m-0.2 0h1.2m-0.2 0h1.2m4.8 0h1.2m3.8 0h1.2m1.8 0h1.2m0.8 0h1.2m1.8 0h1.2m4.8 0h1.2m13.8 0h1.2m-166.2 1h1.2m6.8 0h1.2m3.8 0h1.2m2.8 0h1.2m4.8 0h1.2m0.8 0h1.2m0.8 0h1.2m6.8 0h1.2m-0.2 0h1.2m2.8 0h1.2m53.8 0h1.2m0.8 0h1.2m-0.2 0h1.2m-0.2 0h1.2m0.8 0h1.2m29.8 0h1.2m19.8 0h1.2m-154.2 1h1.2m11.8 0h1.2m2.8 0h1.2m1.8 0h1.2m1.8 0h1.2m0.8 0h1.2m0.8 0h1.2m0.8 0h1.2m0.8 0h1.2m-0.2 0h1.2m-0.2 0h1.2m-0.2 0h1.2m-0.2 0h1.2m-0.2 0h1.2m57.8 0h1.2m0.8 0h1.2m-0.2 0h1.2m3.8 0h1.2m-0.2 0h1.2m6.8 0h1.2m1.8 0h1.2m2.8 0h1.2m5.8 0h1.2m-0.2 0h1.2m2.8 0h1.2m4.8 0h1.2m2.8 0h1.2m8.8 0h1.2m18.8 0h1.2m-172.2 1h1.2m6.8 0h1.2m7.8 0h1.2m1.8 0h1.2m1.8 0h1.2m0.8 0h1.2m0.8 0h1.2m0.8 0h1.2m0.8 0h1.2m0.8 0h1.2m-0.2 0h1.2m0.8 0h1.2m1.8 0h1.2m54.8 0h1.2m0.8 0h1.2m0.8 0h1.2m-0.2 0h1.2m-0.2 0h1.2m1.8 0h1.2m-0.2 0h1.2m-0.2 0h1.2m1.8 0h1.2m14.8 0h1.2m-0.2 0h1.2m3.8 0h1.2m5.8 0h1.2m-139.2 1h1.2m6.8 0h1.2m3.8 0h1.2m2.8 0h1.2m1.8 0h1.2m1.8 0h1.2m0.8 0h1.2m0.8 0h1.2m0.8 0h1.2m6.8 0h1.2m55.8 0h1.2m-0.2 0h1.2m-0.2 0h1.2m0.8 0h1.2m2.8 0h1.2m0.8 0h1.2m1.8 0h1.2m4.8 0h1.2m7.8 0h1.2m-0.2 0h1.2m3.8 0h1.2m2.8 0h1.2m10.8 0h1.2m-145.2 1h1.2m6.8 0h1.2m3.8 0h1.2m2.8 0h1.2m1.8 0h1.2m1.8 0h1.2m0.8 0h1.2m2.8 0h1.2m0.8 0h1.2m1.8 0h1.2m57.8 0h1.2m0.8 0h1.2m0.8 0h1.2m2.8 0h1.2m1.8 0h1.2m4.8 0h1.2m6.8 0h1.2m0.8 0h1.2m2.8 0h1.2m0.8 0h1.2m0.8 0h1.2m1.8 0h1.2m4.8 0h1.2m-0.2 0h1.2m-0.2 0h1.2m17.8 0h1.2m1.8 0h1.2m-162.2 1h1.2m6.8 0h1.2m3.8 0h1.2m2.8 0h1.2m1.8 0h1.2m1.8 0h1.2m0.8 0h1.2m0.8 0h1.2m0.8 0h1.2m3.8 0h1.2m1.8 0h1.2m54.8 0h1.2m1.8 0h1.2m-0.2 0h1.2m0.8 0h1.2m-0.2 0h1.2m0.8 0h1.2m-0.2 0h1.2m2.8 0h1.2m4.8 0h1.2m3.8 0h1.2m5.8 0h1.2m-0.2 0h1.2m15.8 0h1.2m3.8 0h1.2m-149.2 1h1.2m6.8 0h1.2m3.8 0h1.2m2.8 0h1.2m1.8 0h1.2m3.8 0h1.2m0.8 0h1.2m0.8 0h1.2m0.8 0h1.2m62.8 0h1.2m5.8 0h1.2m1.8 0h1.2m-0.2 0h1.2m3.8 0h1.2m6.8 0h1.2m4.8 0h1.2m7.8 0h1.2m9.8 0h1.2m14.8 0h1.2m-162.2 1h1.2m6.8 0h1.2m7.8 0h1.2m1.8 0h1.2m3.8 0h1.2m0.8 0h1.2m0.8 0h1.2m7.8 0h1.2m52.8 0h1.2m0.8 0h1.2m-0.2 0h1.2m0.8 0h1.2m0.8 0h1.2m-0.2 0h1.2m-0.2 0h1.2m1.8 0h1.2m-0.2 0h1.2m0.8 0h1.2m-0.2 0h1.2m-0.2 0h1.2m1.8 0h1.2m2.8 0h1.2m8.8 0h1.2m8.8 0h1.2m6.8 0h1.2m14.8 0h1.2m-161.2 1h1.2m11.8 0h1.2m2.8 0h1.2m4.8 0h1.2m0.8 0h1.2m0.8 0h1.2m0.8 0h1.2m0.8 0h1.2m0.8 0h1.2m-0.2 0h1.2m56.8 0h1.2m1.8 0h1.2m3.8 0h1.2m3.8 0h1.2m6.8 0h1.2m3.8 0h1.2m9.8 0h1.2m8.8 0h1.2m20.8 0h1.2m-162.2 1h1.2m15.8 0h1.2m1.8 0h1.2m1.8 0h1.2m0.8 0h1.2m0.8 0h1.2m0.8 0h1.2m0.8 0h1.2m2.8 0h1.2m54.8 0h1.2m-0.2 0h1.2m-0.2 0h1.2m0.8 0h1.2m2.8 0h1.2m2.8 0h1.2m-0.2 0h1.2m7.8 0h1.2m26.8 0h1.2m21.8 0h1.2m-165.2 1h1.2m6.8 0h1.2m3.8 0h1.2m2.8 0h1.2m4.8 0h1.2m2.8 0h1.2m2.8 0h1.2m-0.2 0h1.2m0.8 0h1.2m-0.2 0h1.2m0.8 0h1.2m2.8 0h1.2m50.8 0h1.2m0.8 0h1.2m1.8 0h1.2m2.8 0h1.2m-0.2 0h1.2m-0.2 0h1.2m19.8 0h1.2m6.8 0h1.2m-134.2 1h1.2m6.8 0h1.2m7.8 0h1.2m1.8 0h1.2m7.8 0h1.2m1.8 0h1.2m-0.2 0h1.2m0.8 0h1.2m0.8 0h1.2m54.8 0h1.2m-0.2 0h1.2m0.8 0h1.2m-0.2 0h1.2m3.8 0h1.2m5.8 0h1.2m-102.2 1h1.2m13.8 0h1.2m2.8 0h1.2m0.8 0h1.2m0.8 0h1.2m-0.2 0h1.2m-0.2 0h1.2m-0.2 0h1.2m-0.2 0h1.2m-0.2 0h1.2m1.8 0h1.2m48.8 0h1.2m-0.2 0h1.2m0.8 0h1.2m-0.2 0h1.2m-0.2 0h1.2m0.8 0h1.2m2.8 0h1.2m2.8 0h1.2m2.8 0h1.2m11.8 0h1.2m-105.2 1h1.2m1.8 0h1.2m1.8 0h1.2m0.8 0h1.2m0.8 0h1.2m0.8 0h1.2m0.8 0h1.2m-0.2 0h1.2m-0.2 0h1.2m0.8 0h1.2m-0.2 0h1.2m-0.2 0h1.2m-0.2 0h1.2m47.8 0h1.2m1.8 0h1.2m-0.2 0h1.2m-0.2 0h1.2m1.8 0h1.2m3.8 0h1.2m7.8 0h1.2m5.8 0h1.2m-0.2 0h1.2m27.8 0h1.2m-147.2 1h1.2m6.8 0h1.2m7.8 0h1.2m1.8 0h1.2m1.8 0h1.2m2.8 0h1.2m0.8 0h1.2m0.8 0h1.2m0.8 0h1.2m-0.2 0h1.2m-0.2 0h1.2m-0.2 0h1.2m-0.2 0h1.2m4.8 0h1.2m39.8 0h1.2m4.8 0h1.2m2.8 0h1.2m0.8 0h1.2m-0.2 0h1.2m11.8 0h1.2m5.8 0h1.2m5.8 0h1.2m0.8 0h1.2m5.8 0h1.2m15.8 0h1.2m5.8 0h1.2m-158.2 1h1.2m15.8 0h1.2m4.8 0h1.2m0.8 0h1.2m0.8 0h1.2m0.8 0h1.2m3.8 0h1.2m3.8 0h1.2m0.8 0h1.2m43.8 0h1.2m-0.2 0h1.2m-0.2 0h1.2m0.8 0h1.2m0.8 0h1.2m-0.2 0h1.2m-0.2 0h1.2m15.8 0h1.2m6.8 0h1.2m2.8 0h1.2m10.8 0h1.2m2.8 0h1.2m1.8 0h1.2m-135.2 1h1.2m3.8 0h1.2m2.8 0h1.2m6.8 0h1.2m0.8 0h1.2m0.8 0h1.2m0.8 0h1.2m1.8 0h1.2m0.8 0h1.2m-0.2 0h1.2m-0.2 0h1.2m-0.2 0h1.2m-0.2 0h1.2m41.8 0h1.2m0.8 0h1.2m0.8 0h1.2m-0.2 0h1.2m0.8 0h1.2m-0.2 0h1.2m-0.2 0h1.2m-0.2 0h1.2m-0.2 0h1.2m0.8 0h1.2m9.8 0h1.2m-108.2 1h1.2m11.8 0h1.2m5.8 0h1.2m1.8 0h1.2m4.8 0h1.2m1.8 0h1.2m0.8 0h1.2m0.8 0h1.2m0.8 0h1.2m47.8 0h1.2m-0.2 0h1.2m0.8 0h1.2m3.8 0h1.2m-0.2 0h1.2m0.8 0h1.2m1.8 0h1.2m3.8 0h1.2m12.8 0h1.2m7.8 0h1.2m0.8 0h1.2m-124.2 1h1.2m3.8 0h1.2m2.8 0h1.2m1.8 0h1.2m3.8 0h1.2m0.8 0h1.2m0.8 0h1.2m0.8 0h1.2m1.8 0h1.2m-0.2 0h1.2m0.8 0h1.2m-0.2 0h1.2m0.8 0h1.2m0.8 0h1.2m0.8 0h1.2m37.8 0h1.2m-0.2 0h1.2m1.8 0h1.2m-0.2 0h1.2m-0.2 0h1.2m1.8 0h1.2m-0.2 0h1.2m1.8 0h1.2m0.8 0h1.2m2.8 0h1.2m18.8 0h1.2m12.8 0h1.2m0.8 0h1.2m-139.2 1h1.2m15.8 0h1.2m1.8 0h1.2m3.8 0h1.2m0.8 0h1.2m0.8 0h1.2m0.8 0h1.2m0.8 0h1.2m-0.2 0h1.2m1.8 0h1.2m0.8 0h1.2m-0.2 0h1.2m-0.2 0h1.2m0.8 0h1.2m39.8 0h1.2m0.8 0h1.2m2.8 0h1.2m1.8 0h1.2m1.8 0h1.2m3.8 0h1.2m41.8 0h1.2m8.8 0h1.2m-155.2 1h1.2m6.8 0h1.2m3.8 0h1.2m2.8 0h1.2m1.8 0h1.2m3.8 0h1.2m0.8 0h1.2m2.8 0h1.2m-0.2 0h1.2m-0.2 0h1.2m-0.2 0h1.2m1.8 0h1.2m0.8 0h1.2m0.8 0h1.2m0.8 0h1.2m-0.2 0h1.2m1.8 0h1.2m30.8 0h1.2m-0.2 0h1.2m0.8 0h1.2m-0.2 0h1.2m-0.2 0h1.2m-0.2 0h1.2m0.8 0h1.2m-0.2 0h1.2m-0.2 0h1.2m-0.2 0h1.2m-0.2 0h1.2m3.8 0h1.2m0.8 0h1.2m1.8 0h1.2m-89.2 1h1.2m5.8 0h1.2m1.8 0h1.2m6.8 0h1.2m0.8 0h1.2m-0.2 0h1.2m-0.2 0h1.2m0.8 0h1.2m-0.2 0h1.2m2.8 0h1.2m0.8 0h1.2m-0.2 0h1.2m0.8 0h1.2m33.8 0h1.2m0.8 0h1.2m-0.2 0h1.2m-0.2 0h1.2m-0.2 0h1.2m0.8 0h1.2m-0.2 0h1.2m-0.2 0h1.2m-0.2 0h1.2m8.8 0h1.2m5.8 0h1.2m15.8 0h1.2m-127.2 1h1.2m6.8 0h1.2m13.8 0h1.2m4.8 0h1.2m0.8 0h1.2m0.8 0h1.2m-0.2 0h1.2m0.8 0h1.2m0.8 0h1.2m-0.2 0h1.2m1.8 0h1.2m2.8 0h1.2m-0.2 0h1.2m30.8 0h1.2m0.8 0h1.2m2.8 0h1.2m-0.2 0h1.2m-0.2 0h1.2m0.8 0h1.2m1.8 0h1.2m2.8 0h1.2m-97.2 1h1.2m18.8 0h1.2m3.8 0h1.2m0.8 0h1.2m0.8 0h1.2m1.8 0h1.2m1.8 0h1.2m-0.2 0h1.2m0.8 0h1.2m1.8 0h1.2m-0.2 0h1.2m0.8 0h1.2m29.8 0h1.2m2.8 0h1.2m-0.2 0h1.2m0.8 0h1.2m0.8 0h1.2m-0.2 0h1.2m3.8 0h1.2m2.8 0h1.2m-0.2 0h1.2m3.8 0h1.2m0.8 0h1.2m2.8 0h1.2m-107.2 1h1.2m23.8 0h1.2m0.8 0h1.2m2.8 0h1.2m-0.2 0h1.2m0.8 0h1.2m-0.2 0h1.2m-0.2 0h1.2m-0.2 0h1.2m-0.2 0h1.2m-0.2 0h1.2m0.8 0h1.2m0.8 0h1.2m0.8 0h1.2m2.8 0h1.2m2.8 0h1.2m-0.2 0h1.2m20.8 0h1.2m-0.2 0h1.2m0.8 0h1.2m-0.2 0h1.2m-0.2 0h1.2m-0.2 0h1.2m-0.2 0h1.2m-0.2 0h1.2m-0.2 0h1.2m4.8 0h1.2m5.8 0h1.2m0.8 0h1.2m21.8 0h1.2m-116.2 1h1.2m7.8 0h1.2m1.8 0h1.2m5.8 0h1.2m0.8 0h1.2m2.8 0h1.2m0.8 0h1.2m3.8 0h1.2m2.8 0h1.2m0.8 0h1.2m3.8 0h1.2m2.8 0h1.2m19.8 0h1.2m1.8 0h1.2m0.8 0h1.2m0.8 0h1.2m1.8 0h1.2m2.8 0h1.2m0.8 0h1.2m28.8 0h1.2m-96.2 1h1.2m2.8 0h1.2m-0.2 0h1.2m2.8 0h1.2m-0.2 0h1.2m1.8 0h1.2m-0.2 0h1.2m-0.2 0h1.2m1.8 0h1.2m-0.2 0h1.2m-0.2 0h1.2m3.8 0h1.2m-0.2 0h1.2m1.8 0h1.2m0.8 0h1.2m1.8 0h1.2m6.8 0h1.2m7.8 0h1.2m-0.2 0h1.2m-0.2 0h1.2m1.8 0h1.2m2.8 0h1.2m-0.2 0h1.2m1.8 0h1.2m6.8 0h1.2m0.8 0h1.2m33.8 0h1.2m-112.2 1h1.2m6.8 0h1.2m0.8 0h1.2m4.8 0h1.2m-0.2 0h1.2m-0.2 0h1.2m-0.2 0h1.2m2.8 0h1.2m-0.2 0h1.2m-0.2 0h1.2m0.8 0h1.2m0.8 0h1.2m8.8 0h1.2m7.8 0h1.2m0.8 0h1.2m0.8 0h1.2m-0.2 0h1.2m-0.2 0h1.2m-0.2 0h1.2m-0.2 0h1.2m-0.2 0h1.2m-0.2 0h1.2m2.8 0h1.2m-0.2 0h1.2m46.8 0h1.2m-0.2 0h1.2m8.8 0h1.2m-131.2 1h1.2m6.8 0h1.2m2.8 0h1.2m4.8 0h1.2m4.8 0h1.2m-0.2 0h1.2m-0.2 0h1.2m1.8 0h1.2m-0.2 0h1.2m0.8 0h1.2m-0.2 0h1.2m-0.2 0h1.2m-0.2 0h1.2m-0.2 0h1.2m3.8 0h1.2m-0.2 0h1.2m1.8 0h1.2m0.8 0h1.2m5.8 0h1.2m3.8 0h1.2m-0.2 0h1.2m-0.2 0h1.2m-0.2 0h1.2m3.8 0h1.2m-0.2 0h1.2m0.8 0h1.2m1.8 0h1.2m0.8 0h1.2m0.8 0h1.2m1.8 0h1.2m33.8 0h1.2m-98.2 1h1.2m1.8 0h1.2m2.8 0h1.2m-0.2 0h1.2m2.8 0h1.2m-0.2 0h1.2m1.8 0h1.2m-0.2 0h1.2m0.8 0h1.2m-0.2 0h1.2m-0.2 0h1.2m1.8 0h1.2m-0.2 0h1.2m0.8 0h1.2m1.8 0h1.2m0.8 0h1.2m0.8 0h1.2m1.8 0h1.2m-0.2 0h1.2m1.8 0h1.2m-0.2 0h1.2m-0.2 0h1.2m-0.2 0h1.2m-0.2 0h1.2m1.8 0h1.2m-0.2 0h1.2m2.8 0h1.2m0.8 0h1.2m-0.2 0h1.2m0.8 0h1.2m6.8 0h1.2m-89.2 1h1.2m2.8 0h1.2m4.8 0h1.2m0.8 0h1.2m4.8 0h1.2m1.8 0h1.2m-0.2 0h1.2m0.8 0h1.2m-0.2 0h1.2m0.8 0h1.2m0.8 0h1.2m-0.2 0h1.2m-0.2 0h1.2m-0.2 0h1.2m0.8 0h1.2m1.8 0h1.2m0.8 0h1.2m0.8 0h1.2m-0.2 0h1.2m1.8 0h1.2m0.8 0h1.2m1.8 0h1.2m1.8 0h1.2m1.8 0h1.2m0.8 0h1.2m0.8 0h1.2m0.8 0h1.2m-0.2 0h1.2m-0.2 0h1.2m0.8 0h1.2m-0.2 0h1.2m-0.2 0h1.2m-0.2 0h1.2m7.8 0h1.2m60.8 0h1.2m-127.2 1h1.2m7.8 0h1.2m4.8 0h1.2m3.8 0h1.2m1.8 0h1.2m-0.2 0h1.2m0.8 0h1.2m-0.2 0h1.2m-0.2 0h1.2m-0.2 0h1.2m2.8 0h1.2m-0.2 0h1.2m-0.2 0h1.2m-0.2 0h1.2m6.8 0h1.2m-0.2 0h1.2m2.8 0h1.2m0.8 0h1.2m-0.2 0h1.2m-0.2 0h1.2m1.8 0h1.2m0.8 0h1.2m0.8 0h1.2m81.8 0h1.2m-151.2 1h1.2m3.8 0h1.2m2.8 0h1.2m1.8 0h1.2m6.8 0h1.2m-0.2 0h1.2m0.8 0h1.2m-0.2 0h1.2m1.8 0h1.2m-0.2 0h1.2m0.8 0h1.2m-0.2 0h1.2m1.8 0h1.2m-0.2 0h1.2m-0.2 0h1.2m4.8 0h1.2m-0.2 0h1.2m2.8 0h1.2m-0.2 0h1.2m3.8 0h1.2m-0.2 0h1.2m-0.2 0h1.2m-0.2 0h1.2m1.8 0h1.2m-0.2 0h1.2m-0.2 0h1.2m0.8 0h1.2m0.8 0h1.2m1.8 0h1.2m3.8 0h1.2m16.8 0h1.2m22.8 0h1.2m10.8 0h1.2m-140.2 1h1.2m15.8 0h1.2m0.8 0h1.2m3.8 0h1.2m6.8 0h1.2m3.8 0h1.2m2.8 0h1.2m1.8 0h1.2m1.8 0h1.2m-0.2 0h1.2m1.8 0h1.2m-0.2 0h1.2m-0.2 0h1.2m0.8 0h1.2m1.8 0h1.2m-0.2 0h1.2m-0.2 0h1.2m0.8 0h1.2m1.8 0h1.2m-0.2 0h1.2m3.8 0h1.2m0.8 0h1.2m0.8 0h1.2m0.8 0h1.2m3.8 0h1.2m0.8 0h1.2m-0.2 0h1.2m1.8 0h1.2m66.8 0h1.2m14.8 0h1.2m-173.2 1h1.2m15.8 0h1.2m5.8 0h1.2m1.8 0h1.2m0.8 0h1.2m1.8 0h1.2m-0.2 0h1.2m4.8 0h1.2m-0.2 0h1.2m3.8 0h1.2m-0.2 0h1.2m-0.2 0h1.2m0.8 0h1.2m-0.2 0h1.2m-0.2 0h1.2m0.8 0h1.2m0.8 0h1.2m-0.2 0h1.2m1.8 0h1.2m0.8 0h1.2m-0.2 0h1.2m0.8 0h1.2m-0.2 0h1.2m0.8 0h1.2m-0.2 0h1.2m-0.2 0h1.2m-0.2 0h1.2m-0.2 0h1.2m2.8 0h1.2m6.8 0h1.2m4.8 0h1.2m31.8 0h1.2m-108.2 1h1.2m0.8 0h1.2m0.8 0h1.2m0.8 0h1.2m3.8 0h1.2m1.8 0h1.2m0.8 0h1.2m0.8 0h1.2m-0.2 0h1.2m0.8 0h1.2m0.8 0h1.2m0.8 0h1.2m-0.2 0h1.2m-0.2 0h1.2m-0.2 0h1.2m2.8 0h1.2m-0.2 0h1.2m-0.2 0h1.2m5.8 0h1.2m-0.2 0h1.2m-0.2 0h1.2m1.8 0h1.2m-0.2 0h1.2m-0.2 0h1.2m-0.2 0h1.2m-0.2 0h1.2m0.8 0h1.2m-0.2 0h1.2m-0.2 0h1.2m-0.2 0h1.2m5.8 0h1.2m0.8 0h1.2m5.8 0h1.2m-82.2 1h1.2m5.8 0h1.2m17.8 0h1.2m2.8 0h1.2m3.8 0h1.2m1.8 0h1.2m-0.2 0h1.2m0.8 0h1.2m-0.2 0h1.2m-0.2 0h1.2m1.8 0h1.2m-0.2 0h1.2m1.8 0h1.2m0.8 0h1.2m-0.2 0h1.2m0.8 0h1.2m-0.2 0h1.2m-0.2 0h1.2m-0.2 0h1.2m-0.2 0h1.2m-0.2 0h1.2m-0.2 0h1.2m-0.2 0h1.2m12.8 0h1.2m-0.2 0h1.2m8.8 0h1.2m13.8 0h1.2m15.8 0h1.2m-120.2 1h1.2m31.8 0h1.2m-0.2 0h1.2m0.8 0h1.2m-0.2 0h1.2m-0.2 0h1.2m0.8 0h1.2m-0.2 0h1.2m-0.2 0h1.2m-0.2 0h1.2m2.8 0h1.2m0.8 0h1.2m0.8 0h1.2m-0.2 0h1.2m-0.2 0h1.2m0.8 0h1.2m1.8 0h1.2m0.8 0h1.2m-0.2 0h1.2m-0.2 0h1.2m-0.2 0h1.2m-0.2 0h1.2m-0.2 0h1.2m-0.2 0h1.2m0.8 0h1.2m9.8 0h1.2m13.8 0h1.2m-65.2 1h1.2m-0.2 0h1.2m1.8 0h1.2m1.8 0h1.2m-0.2 0h1.2m1.8 0h1.2m1.8 0h1.2m0.8 0h1.2m-0.2 0h1.2m-0.2 0h1.2m-0.2 0h1.2m-0.2 0h1.2m1.8 0h1.2m-0.2 0h1.2m-0.2 0h1.2m0.8 0h1.2m-0.2 0h1.2m6.8 0h1.2m1.8 0h1.2m1.8 0h1.2m3.8 0h1.2m1.8 0h1.2m46.8 0h1.2m15.8 0h1.2m-123.2 1h1.2m1.8 0h1.2m3.8 0h1.2m2.8 0h1.2m-0.2 0h1.2m3.8 0h1.2m1.8 0h1.2m0.8 0h1.2m-0.2 0h1.2m-0.2 0h1.2m0.8 0h1.2m-0.2 0h1.2m1.8 0h1.2m3.8 0h1.2m-0.2 0h1.2m-0.2 0h1.2m-0.2 0h1.2m1.8 0h1.2m-0.2 0h1.2m-0.2 0h1.2m1.8 0h1.2m1.8 0h1.2m-0.2 0h1.2m0.8 0h1.2m0.8 0h1.2m0.8 0h1.2m-0.2 0h1.2m4.8 0h1.2m0.8 0h1.2m2.8 0h1.2m14.8 0h1.2m-78.2 1h1.2m-0.2 0h1.2m0.8 0h1.2m2.8 0h1.2m2.8 0h1.2m-0.2 0h1.2m0.8 0h1.2m3.8 0h1.2m8.8 0h1.2m-0.2 0h1.2m-0.2 0h1.2m2.8 0h1.2m0.8 0h1.2m1.8 0h1.2m-0.2 0h1.2m11.8 0h1.2m25.8 0h1.2m-93.2 1h1.2m0.8 0h1.2m1.8 0h1.2m2.8 0h1.2m2.8 0h1.2m1.8 0h1.2m-0.2 0h1.2m1.8 0h1.2m-0.2 0h1.2m2.8 0h1.2m-0.2 0h1.2m1.8 0h1.2m-0.2 0h1.2m0.8 0h1.2m0.8 0h1.2m2.8 0h1.2m0.8 0h1.2m-0.2 0h1.2m1.8 0h1.2m3.8 0h1.2m2.8 0h1.2m0.8 0h1.2m12.8 0h1.2m-72.2 1h1.2m1.8 0h1.2m3.8 0h1.2m-0.2 0h1.2m3.8 0h1.2m1.8 0h1.2m-0.2 0h1.2m-0.2 0h1.2m0.8 0h1.2m2.8 0h1.2m-0.2 0h1.2m-0.2 0h1.2m0.8 0h1.2m-0.2 0h1.2m-0.2 0h1.2m-0.2 0h1.2m-0.2 0h1.2m-0.2 0h1.2m-0.2 0h1.2m-0.2 0h1.2m-0.2 0h1.2m1.8 0h1.2m-0.2 0h1.2m-0.2 0h1.2m-0.2 0h1.2m1.8 0h1.2m0.8 0h1.2m-0.2 0h1.2m-0.2 0h1.2m-0.2 0h1.2m3.8 0h1.2m0.8 0h1.2m3.8 0h1.2m13.8 0h1.2m41.8 0h1.2m-121.2 1h1.2m1.8 0h1.2m0.8 0h1.2m2.8 0h1.2m0.8 0h1.2m3.8 0h1.2m2.8 0h1.2m-0.2 0h1.2m-0.2 0h1.2m-0.2 0h1.2m0.8 0h1.2m-0.2 0h1.2m-0.2 0h1.2m0.8 0h1.2m1.8 0h1.2m2.8 0h1.2m-0.2 0h1.2m3.8 0h1.2m-0.2 0h1.2m0.8 0h1.2m-0.2 0h1.2m0.8 0h1.2m0.8 0h1.2m-0.2 0h1.2m1.8 0h1.2m-0.2 0h1.2m-0.2 0h1.2m2.8 0h1.2m1.8 0h1.2m2.8 0h1.2m12.8 0h1.2m20.8 0h1.2m-106.2 1h1.2m5.8 0h1.2m0.8 0h1.2m0.8 0h1.2m-0.2 0h1.2m-0.2 0h1.2m0.8 0h1.2m1.8 0h1.2m3.8 0h1.2m-0.2 0h1.2m0.8 0h1.2m3.8 0h1.2m-0.2 0h1.2m-0.2 0h1.2m0.8 0h1.2m1.8 0h1.2m0.8 0h1.2m1.8 0h1.2m4.8 0h1.2m1.8 0h1.2m1.8 0h1.2m1.8 0h1.2m1.8 0h1.2m2.8 0h1.2m6.8 0h1.2m39.8 0h1.2m-133.2 1h1.2m19.8 0h1.2m6.8 0h1.2m-0.2 0h1.2m3.8 0h1.2m-0.2 0h1.2m-0.2 0h1.2m2.8 0h1.2m0.8 0h1.2m0.8 0h1.2m-0.2 0h1.2m0.8 0h1.2m-0.2 0h1.2m-0.2 0h1.2m-0.2 0h1.2m-0.2 0h1.2m1.8 0h1.2m-0.2 0h1.2m-0.2 0h1.2m-0.2 0h1.2m-0.2 0h1.2m2.8 0h1.2m0.8 0h1.2m5.8 0h1.2m-0.2 0h1.2m3.8 0h1.2m9.8 0h1.2m0.8 0h1.2m17.8 0h1.2m-91.2 1h1.2m3.8 0h1.2m6.8 0h1.2m2.8 0h1.2m1.8 0h1.2m0.8 0h1.2m2.8 0h1.2m-0.2 0h1.2m-0.2 0h1.2m-0.2 0h1.2m0.8 0h1.2m-0.2 0h1.2m0.8 0h1.2m-0.2 0h1.2m0.8 0h1.2m2.8 0h1.2m-0.2 0h1.2m-0.2 0h1.2m-0.2 0h1.2m-0.2 0h1.2m-0.2 0h1.2m0.8 0h1.2m2.8 0h1.2m5.8 0h1.2m6.8 0h1.2m2.8 0h1.2m21.8 0h1.2m8.8 0h1.2m-113.2 1h1.2m8.8 0h1.2m0.8 0h1.2m1.8 0h1.2m5.8 0h1.2m0.8 0h1.2m0.8 0h1.2m3.8 0h1.2m-0.2 0h1.2m3.8 0h1.2m2.8 0h1.2m-0.2 0h1.2m4.8 0h1.2m-0.2 0h1.2m-0.2 0h1.2m7.8 0h1.2m0.8 0h1.2m1.8 0h1.2m21.8 0h1.2m25.8 0h1.2m-127.2 1h1.2m10.8 0h1.2m9.8 0h1.2m7.8 0h1.2m4.8 0h1.2m0.8 0h1.2m2.8 0h1.2m0.8 0h1.2m3.8 0h1.2m0.8 0h1.2m-0.2 0h1.2m-0.2 0h1.2m-0.2 0h1.2m0.8 0h1.2m2.8 0h1.2m0.8 0h1.2m3.8 0h1.2m-0.2 0h1.2m-64.2 1h1.2m1.8 0h1.2m4.8 0h1.2m19.8 0h1.2m5.8 0h1.2m0.8 0h1.2m-0.2 0h1.2m0.8 0h1.2m-0.2 0h1.2m5.8 0h1.2m8.8 0h1.2m5.8 0h1.2m-0.2 0h1.2m2.8 0h1.2m0.8 0h1.2m4.8 0h1.2m-72.2 1h1.2m1.8 0h1.2m17.8 0h1.2m0.8 0h1.2m-0.2 0h1.2m2.8 0h1.2m0.8 0h1.2m12.8 0h1.2m2.8 0h1.2m0.8 0h1.2m1.8 0h1.2m12.8 0h1.2m61.8 0h1.2m-134.2 1h1.2m14.8 0h1.2m-0.2 0h1.2m4.8 0h1.2m-0.2 0h1.2m-0.2 0h1.2m-0.2 0h1.2m1.8 0h1.2m0.8 0h1.2m-0.2 0h1.2m1.8 0h1.2m0.8 0h1.2m-0.2 0h1.2m1.8 0h1.2m0.8 0h1.2m-0.2 0h1.2m0.8 0h1.2m-0.2 0h1.2m3.8 0h1.2m0.8 0h1.2m-46.2 1h1.2m13.8 0h1.2m-0.2 0h1.2m-0.2 0h1.2m2.8 0h1.2m10.8 0h1.2m1.8 0h1.2m-0.2 0h1.2m3.8 0h1.2m10.8 0h1.2m26.8 0h1.2m-77.2 1h1.2m3.8 0h1.2m-0.2 0h1.2m1.8 0h1.2m8.8 0h1.2m-0.2 0h1.2m0.8 0h1.2m0.8 0h1.2m-0.2 0h1.2m-0.2 0h1.2m5.8 0h1.2m8.8 0h1.2m1.8 0h1.2m4.8 0h1.2m4.8 0h1.2m64.8 0h1.2m-127.2 1h1.2m3.8 0h1.2m7.8 0h1.2m1.8 0h1.2m6.8 0h1.2m2.8 0h1.2m10.8 0h1.2m3.8 0h1.2m2.8 0h1.2m70.8 0h1.2m-150.2 1h1.2m8.8 0h1.2m13.8 0h1.2m-0.2 0h1.2m1.8 0h1.2m6.8 0h1.2m0.8 0h1.2m-0.2 0h1.2m1.8 0h1.2m0.8 0h1.2m1.8 0h1.2m2.8 0h1.2m0.8 0h1.2m-0.2 0h1.2m1.8 0h1.2m0.8 0h1.2m2.8 0h1.2m0.8 0h1.2m4.8 0h1.2m0.8 0h1.2m9.8 0h1.2m2.8 0h1.2m-64.2 1h1.2m7.8 0h1.2m1.8 0h1.2m5.8 0h1.2m-0.2 0h1.2m1.8 0h1.2m-0.2 0h1.2m7.8 0h1.2m28.8 0h1.2m-62.2 1h1.2m7.8 0h1.2m5.8 0h1.2m-0.2 0h1.2m-0.2 0h1.2m1.8 0h1.2m1.8 0h1.2m1.8 0h1.2m0.8 0h1.2m-0.2 0h1.2m-0.2 0h1.2m0.8 0h1.2m4.8 0h1.2m0.8 0h1.2m4.8 0h1.2m14.8 0h1.2m-66.2 1h1.2m21.8 0h1.2m1.8 0h1.2m0.8 0h1.2m0.8 0h1.2m0.8 0h1.2m1.8 0h1.2m3.8 0h1.2m3.8 0h1.2m-53.2 1h1.2m3.8 0h1.2m9.8 0h1.2m18.8 0h1.2m3.8 0h1.2m-25.2 1h1.2m8.8 0h1.2m1.8 0h1.2m2.8 0h1.2m0.8 0h1.2m-0.2 0h1.2m1.8 0h1.2m2.8 0h1.2m7.8 0h1.2m6.8 0h1.2m0.8 0h1.2m3.8 0h1.2m32.8 0h1.2m13.8 0h1.2m-118.2 1h1.2m0.8 0h1.2m9.8 0h1.2m0.8 0h1.2m1.8 0h1.2m0.8 0h1.2m0.8 0h1.2m1.8 0h1.2m1.8 0h1.2m1.8 0h1.2m3.8 0h1.2m0.8 0h1.2m0.8 0h1.2m-0.2 0h1.2m1.8 0h1.2m3.8 0h1.2m-55.2 1h1.2m16.8 0h1.2m2.8 0h1.2m0.8 0h1.2m5.8 0h1.2m12.8 0h1.2m5.8 0h1.2m2.8 0h1.2m-49.2 1h1.2m3.8 0h1.2m10.8 0h1.2m5.8 0h1.2m-0.2 0h1.2m3.8 0h1.2m2.8 0h1.2m4.8 0h1.2m0.8 0h1.2m10.8 0h1.2m64.8 0h1.2m-115.2 1h1.2m11.8 0h1.2m6.8 0h1.2m1.8 0h1.2m1.8 0h1.2m7.8 0h1.2m-0.2 0h1.2m3.8 0h1.2m-37.2 1h1.2m0.8 0h1.2m0.8 0h1.2m-0.2 0h1.2m3.8 0h1.2m2.8 0h1.2m4.8 0h1.2m8.8 0h1.2m-0.2 0h1.2m0.8 0h1.2m-48.2 1h1.2m5.8 0h1.2m3.8 0h1.2m-0.2 0h1.2m5.8 0h1.2m2.8 0h1.2m1.8 0h1.2m4.8 0h1.2m9.8 0h1.2m7.8 0h1.2m-51.2 1h1.2m19.8 0h1.2m4.8 0h1.2m5.8 0h1.2m11.8 0h1.2m21.8 0h1.2m-49.2 1h1.2m-7.2 1h1.2m-22.2 1h1.2m9.8 0h1.2m0.8 0h1.2m4.8 0h1.2m6.8 0h1.2m2.8 0h1.2m10.8 0h1.2m0.8 0h1.2m3.8 0h1.2m74.8 0h1.2m-141.2 1h1.2m28.8 0h1.2m3.8 0h1.2m10.8 0h1.2m3.8 0h1.2m26.8 0h1.2m11.8 0h1.2m-41.2 1h1.2m1.8 0h1.2m-16.2 1h1.2m7.8 0h1.2m6.8 0h1.2m-0.2 0h1.2m-28.2 1h1.2m26.8 0h1.2m6.8 0h1.2m-0.2 0h1.2m10.8 0h1.2m-44.2 1h1.2m17.8 0h1.2m29.8 0h1.2m-53.2 1h1.2m-4.2 1h1.2m0.8 0h1.2m7.8 0h1.2m12.8 0h1.2m-35.2 1h1.2m20.8 0h1.2m-0.2 0h1.2m7.8 0h1.2m-1.2 1h1.2m-4.2 1h1.2m13.8 1h1.2m17.8 0h1.2m45.8 0h1.2m-57.2 1h1.2" stroke="#0000ff" stroke-width="1.25"/>
<path d="M1103 2293.0h1.2m0.8 0h1.2m18.8 0h1.2m-28.2 1h1.2m-0.2 0h1.2m0.8 0h1.2m-0.2 0h1.2m0.8 0h1.2m0.8 0h1.2m-0.2 0h1.2m-0.2 0h1.2m-0.2 0h1.2m-0.2 0h1.2m3.8 0h1.2m1.8 0h1.2m0.8 0h1.2m-28.2 1h1.2m4.8 0h1.2m-0.2 0h1.2m0.8 0h1.2m-0.2 0h1.2m0.8 0h1.2m-0.2 0h1.2m-0.2 0h1.2m0.8 0h1.2m0.8 0h1.2m2.8 0h1.2m-0.2 0h1.2m-0.2 0h1.2m0.8 0h1.2m-0.2 0h1.2m-0.2 0h1.2m1.8 0h1.2m-30.2 1h1.2m-0.2 0h1.2m-0.2 0h1.2m-0.2 0h1.2m3.8 0h1.2m1.8 0h1.2m0.8 0h1.2m0.8 0h1.2m1.8 0h1.2m-0.2 0h1.2m-0.2 0h1.2m1.8 0h1.2m3.8 0h1.2m1.8 0h1.2m-0.2 0h1.2m-41.2 1h1.2m0.8 0h1.2m2.8 0h1.2m1.8 0h1.2m0.8 0h1.2m6.8 0h1.2m2.8 0h1.2m9.8 0h1.2m-0.2 0h1.2m0.8 0h1.2m-0.2 0h1.2m0.8 0h1.2m-42.2 1h1.2m1.8 0h1.2m0.8 0h1.2m1.8 0h1.2m11.8 0h1.2m12.8 0h1.2m2.8 0h1.2m-41.2 1h1.2m1.8 0h1.2m2.8 0h1.2m-0.2 0h1.2m-0.2 0h1.2m24.8 0h1.2m0.8 0h1.2m-0.2 0h1.2m0.8 0h1.2m-0.2 0h1.2m-0.2 0h1.2m-44.2 1h1.2m-0.2 0h1.2m-0.2 0h1.2m0.8 0h1.2m-0.2 0h1.2m-0.2 0h1.2m1.8 0h1.2m26.8 0h1.2m2.8 0h1.2m-0.2 0h1.2m-0.2 0h1.2m-0.2 0h1.2m-0.2 0h1.2m-0.2 0h1.2m-49.2 1h1.2m1.8 0h1.2m0.8 0h1.2m36.8 0h1.2m-0.2 0h1.2m-0.2 0h1.2m-0.2 0h1.2m0.8 0h1.2m-51.2 1h1.2m1.8 0h1.2m-0.2 0h1.2m0.8 0h1.2m1.8 0h1.2m0.8 0h1.2m29.8 0h1.2m1.8 0h1.2m2.8 0h1.2m-0.2 0h1.2m-0.2 0h1.2m-53.2 1h1.2m2.8 0h1.2m0.8 0h1.2m-0.2 0h1.2m0.8 0h1.2m-0.2 0h1.2m-0.2 0h1.2m31.8 0h1.2m2.8 0h1.2m2.8 0h1.2m-52.2 1h1.2m0.8 0h1.2m-0.2 0h1.2m-0.2 0h1.2m36.8 0h1.2m4.8 0h1.2m-0.2 0h1.2m-0.2 0h1.2m0.8 0h1.2m-0.2 0h1.2m-56.2 1h1.2m1.8 0h1.2m-0.2 0h1.2m1.8 0h1.2m1.8 0h1.2m35.8 0h1.2m0.8 0h1.2m0.8 0h1.2m0.8 0h1.2m-0.2 0h1.2m-57.2 1h1.2m-0.2 0h1.2m0.8 0h1.2m-0.2 0h1.2m-0.2 0h1.2m6.8 0h1.2m33.8 0h1.2m3.8 0h1.2m-0.2 0h1.2m-0.2 0h1.2m-59.2 1h1.2m0.8 0h1.2m1.8 0h1.2m1.8 0h1.2m-0.2 0h1.2m0.8 0h1.2m41.8 0h1.2m0.8 0h1.2m0.8 0h1.2m-61.2 1h1.2m1.8 0h1.2m0.8 0h1.2m0.8 0h1.2m0.8 0h1.2m0.8 0h1.2m44.8 0h1.2m0.8 0h1.2m-0.2 0h1.2m-58.2 1h1.2m2.8 0h1.2m0.8 0h1.2m-0.2 0h1.2m1.8 0h1.2m-0.2 0h1.2m43.8 0h1.2m-0.2 0h1.2m-55.2 1h1.2m-0.2 0h1.2m1.8 0h1.2m-0.2 0h1.2m-0.2 0h1.2m0.8 0h1.2m44.8 0h1.2m-64.2 1h1.2m-0.2 0h1.2m-0.2 0h1.2m1.8 0h1.2m0.8 0h1.2m-0.2 0h1.2m0.8 0h1.2m-0.2 0h1.2m-0.2 0h1.2m1.8 0h1.2m1.8 0h1.2m39.8 0h1.2m-0.2 0h1.2m-0.2 0h1.2m-0.2 0h1.2m-62.2 1h1.2m1.8 0h1.2m1.8 0h1.2m1.8 0h1.2m0.8 0h1.2m-0.2 0h1.2m46.8 0h1.2m0.8 0h1.2m-64.2 1h1.2m-0.2 0h1.2m-0.2 0h1.2m0.8 0h1.2m-0.2 0h1.2m0.8 0h1.2m1.8 0h1.2m-0.2 0h1.2m-0.2 0h1.2m0.8 0h1.2m-0.2 0h1.2m43.8 0h1.2m-0.2 0h1.2m-61.2 1h1.2m1.8 0h1.2m0.8 0h1.2m0.8 0h1.2m-0.2 0h1.2m0.8 0h1.2m0.8 0h1.2m42.8 0h1.2m1.8 0h1.2m-0.2 0h1.2m-61.2 1h1.2m0.8 0h1.2m1.8 0h1.2m0.8 0h1.2m0.8 0h1.2m-0.2 0h1.2m46.8 0h1.2m-0.2 0h1.2m0.8 0h1.2m-62.2 1h1.2m1.8 0h1.2m2.8 0h1.2m0.8 0h1.2m-0.2 0h1.2m-0.2 0h1.2m-0.2 0h1.2m-0.2 0h1.2m40.8 0h1.2m-0.2 0h1.2m-0.2 0h1.2m-0.2 0h1.2m-0.2 0h1.2m-60.2 1h1.2m0.8 0h1.2m1.8 0h1.2m-0.2 0h1.2m1.8 0h1.2m44.8 0h1.2m0.8 0h1.2m-0.2 0h1.2m-51.2 1h1.2m3.8 0h1.2m39.8 0h1.2m-0.2 0h1.2m0.8 0h1.2m0.8 0h1.2m-54.2 1h1.2m0.8 0h1.2m-0.2 0h1.2m-0.2 0h1.2m1.8 0h1.2m40.8 0h1.2m-0.2 0h1.2m-0.2 0h1.2m0.8 0h1.2m-52.2 1h1.2m0.8 0h1.2m-0.2 0h1.2m42.8 0h1.2m-0.2 0h1.2m-49.2 1h1.2m0.8 0h1.2m1.8 0h1.2m31.8 0h1.2m3.8 0h1.2m0.8 0h1.2m-45.2 1h1.2m-0.2 0h1.2m3.8 0h1.2m33.8 0h1.2m1.8 0h1.2m1.8 0h1.2m-49.2 1h1.2m0.8 0h1.2m0.8 0h1.2m-0.2 0h1.2m-0.2 0h1.2m1.8 0h1.2m29.8 0h1.2m-0.2 0h1.2m0.8 0h1.2m-0.2 0h1.2m-42.2 1h1.2m-0.2 0h1.2m-0.2 0h1.2m-0.2 0h1.2m-0.2 0h1.2m27.8 0h1.2m-0.2 0h1.2m3.8 0h1.2m-41.2 1h1.2m1.8 0h1.2m1.8 0h1.2m24.8 0h1.2m-0.2 0h1.2m1.8 0h1.2m-0.2 0h1.2m1.8 0h1.2m-0.2 0h1.2m-0.2 0h1.2m-44.2 1h1.2m0.8 0h1.2m0.8 0h1.2m2.8 0h1.2m1.8 0h1.2m23.8 0h1.2m0.8 0h1.2m1.8 0h1.2m-39.2 1h1.2m-0.2 0h1.2m-0.2 0h1.2m-0.2 0h1.2m-0.2 0h1.2m14.8 0h1.2m1.8 0h1.2m4.8 0h1.2m-0.2 0h1.2m1.8 0h1.2m-0.2 0h1.2m0.8 0h1.2m-0.2 0h1.2m0.8 0h1.2m-42.2 1h1.2m1.8 0h1.2m-0.2 0h1.2m1.8 0h1.2m-0.2 0h1.2m-0.2 0h1.2m12.8 0h1.2m3.8 0h1.2m2.8 0h1.2m2.8 0h1.2m-36.2 1h1.2m1.8 0h1.2m1.8 0h1.2m-0.2 0h1.2m16.8 0h1.2m0.8 0h1.2m0.8 0h1.2m-0.2 0h1.2m3.8 0h1.2m-0.2 0h1.2m0.8 0h1.2m0.8 0h1.2m-40.2 1h1.2m5.8 0h1.2m-0.2 0h1.2m3.8 0h1.2m2.8 0h1.2m0.8 0h1.2m1.8 0h1.2m0.8 0h1.2m-0.2 0h1.2m2.8 0h1.2m-0.2 0h1.2m0.8 0h1.2m0.8 0h1.2m0.8 0h1.2m-35.2 1h1.2m-0.2 0h1.2m-0.2 0h1.2m-0.2 0h1.2m-0.2 0h1.2m-0.2 0h1.2m0.8 0h1.2m0.8 0h1.2m1.8 0h1.2m2.8 0h1.2m-0.2 0h1.2m2.8 0h1.2m-0.2 0h1.2m0.8 0h1.2m-0.2 0h1.2m3.8 0h1.2m-0.2 0h1.2m-30.2 1h1.2m1.8 0h1.2m-0.2 0h1.2m2.8 0h1.2m-0.2 0h1.2m-0.2 0h1.2m6.8 0h1.2m-0.2 0h1.2m0.8 0h1.2m-0.2 0h1.2m-0.2 0h1.2m-0.2 0h1.2m-0.2 0h1.2m0.8 0h1.2m1.8 0h1.2m-32.2 1h1.2m-0.2 0h1.2m-0.2 0h1.2m-0.2 0h1.2m2.8 0h1.2m0.8 0h1.2m-0.2 0h1.2m1.8 0h1.2m-0.2 0h1.2m0.8 0h1.2m0.8 0h1.2m-0.2 0h1.2m0.8 0h1.2m-0.2 0h1.2m-0.2 0h1.2m-0.2 0h1.2m-0.2 0h1.2m-0.2 0h1.2m-0.2 0h1.2m2.8 0h1.2m-30.2 1h1.2m4.8 0h1.2m0.8 0h1.2m0.8 0h1.2m1.8 0h1.2m2.8 0h1.2m-0.2 0h1.2m-0.2 0h1.2m0.8 0h1.2m-0.2 0h1.2m-0.2 0h1.2m-0.2 0h1.2m1.8 0h1.2m-19.2 1h1.2m0.8 0h1.2m-0.2 0h1.2m0.8 0h1.2m1.8 0h1.2m-0.2 0h1.2m1.8 0h1.2m-11.2 1h1.2m3.8 0h1.2m2.8 0h1.2m-0.2 0h1.2m0.8 0h1.2m-0.2 0h1.2m-10.2 1h1.2m0.8 0h1.2m0.8 0h1.2m0.8 0h1.2m-0.2 0h1.2m1.8 0h1.2m-13.2 1h1.2m1.8 0h1.2m0.8 0h1.2m1.8 0h1.2m0.8 0h1.2m-8.2 1h1.2m0.8 0h1.2m-0.2 0h1.2m-0.2 0h1.2m-5.2 1h1.2m-0.2 0h1.2m1.8 1h1.2m-4.2 1h1.2" stroke="#2060ff" stroke-width="1.25"/>
<path d="M1104 2295.0h1.2m-6.2 1h1.2m1.8 0h1.2m0.8 0h1.2m-0.2 0h1.2m0.8 0h1.2m2.8 0h1.2m-0.2 0h1.2m2.8 0h1.2m-0.2 0h1.2m0.8 0h1.2m-26.2 1h1.2m-0.2 0h1.2m2.8 0h1.2m0.8 0h1.2m-0.2 0h1.2m-0.2 0h1.2m-0.2 0h1.2m2.8 0h1.2m-0.2 0h1.2m1.8 0h1.2m-0.2 0h1.2m0.8 0h1.2m0.8 0h1.2m-0.2 0h1.2m-0.2 0h1.2m-0.2 0h1.2m-25.2 1h1.2m-0.2 0h1.2m-0.2 0h1.2m-0.2 0h1.2m-0.2 0h1.2m-0.2 0h1.2m-0.2 0h1.2m-0.2 0h1.2m0.8 0h1.2m1.8 0h1.2m-0.2 0h1.2m0.8 0h1.2m-0.2 0h1.2m-0.2 0h1.2m-0.2 0h1.2m-0.2 0h1.2m-0.2 0h1.2m0.8 0h1.2m-0.2 0h1.2m-0.2 0h1.2m0.8 0h1.2m-28.2 1h1.2m1.8 0h1.2m-0.2 0h1.2m-0.2 0h1.2m3.8 0h1.2m-0.2 0h1.2m0.8 0h1.2m0.8 0h1.2m-0.2 0h1.2m2.8 0h1.2m0.8 0h1.2m-0.2 0h1.2m-0.2 0h1.2m-28.2 1h1.2m0.8 0h1.2m0.8 0h1.2m-0.2 0h1.2m-0.2 0h1.2m1.8 0h1.2m-0.2 0h1.2m0.8 0h1.2m0.8 0h1.2m-0.2 0h1.2m3.8 0h1.2m1.8 0h1.2m2.8 0h1.2m1.8 0h1.2m-0.2 0h1.2m-34.2 1h1.2m0.8 0h1.2m0.8 0h1.2m-0.2 0h1.2m0.8 0h1.2m-0.2 0h1.2m-0.2 0h1.2m-0.2 0h1.2m0.8 0h1.2m0.8 0h1.2m-0.2 0h1.2m9.8 0h1.2m0.8 0h1.2m0.8 0h1.2m-0.2 0h1.2m0.8 0h1.2m-0.2 0h1.2m-33.2 1h1.2m-0.2 0h1.2m0.8 0h1.2m-0.2 0h1.2m21.8 0h1.2m-0.2 0h1.2m-0.2 0h1.2m0.8 0h1.2m-0.2 0h1.2m0.8 0h1.2m-0.2 0h1.2m-36.2 1h1.2m1.8 0h1.2m-0.2 0h1.2m2.8 0h1.2m2.8 0h1.2m11.8 0h1.2m2.8 0h1.2m2.8 0h1.2m-41.2 1h1.2m-0.2 0h1.2m1.8 0h1.2m-0.2 0h1.2m-0.2 0h1.2m0.8 0h1.2m2.8 0h1.2m-0.2 0h1.2m0.8 0h1.2m-0.2 0h1.2m15.8 0h1.2m0.8 0h1.2m2.8 0h1.2m-0.2 0h1.2m-0.2 0h1.2m-43.2 1h1.2m0.8 0h1.2m-0.2 0h1.2m0.8 0h1.2m-0.2 0h1.2m-0.2 0h1.2m-0.2 0h1.2m-0.2 0h1.2m-0.2 0h1.2m1.8 0h1.2m-0.2 0h1.2m2.8 0h1.2m12.8 0h1.2m-0.2 0h1.2m1.8 0h1.2m-0.2 0h1.2m-0.2 0h1.2m0.8 0h1.2m0.8 0h1.2m-45.2 1h1.2m-0.2 0h1.2m-0.2 0h1.2m-0.2 0h1.2m0.8 0h1.2m-0.2 0h1.2m0.8 0h1.2m-0.2 0h1.2m-0.2 0h1.2m1.8 0h1.2m22.8 0h1.2m0.8 0h1.2m0.8 0h1.2m0.8 0h1.2m-0.2 0h1.2m-0.2 0h1.2m-43.2 1h1.2m-0.2 0h1.2m0.8 0h1.2m-0.2 0h1.2m2.8 0h1.2m22.8 0h1.2m-0.2 0h1.2m1.8 0h1.2m-0.2 0h1.2m-0.2 0h1.2m3.8 0h1.2m-48.2 1h1.2m1.8 0h1.2m-0.2 0h1.2m-0.2 0h1.2m-0.2 0h1.2m-0.2 0h1.2m-0.2 0h1.2m-0.2 0h1.2m0.8 0h1.2m-0.2 0h1.2m24.8 0h1.2m-0.2 0h1.2m-0.2 0h1.2m0.8 0h1.2m-0.2 0h1.2m0.8 0h1.2m-0.2 0h1.2m0.8 0h1.2m-53.2 1h1.2m0.8 0h1.2m1.8 0h1.2m2.8 0h1.2m0.8 0h1.2m-0.2 0h1.2m-0.2 0h1.2m-0.2 0h1.2m-0.2 0h1.2m-0.2 0h1.2m1.8 0h1.2m18.8 0h1.2m1.8 0h1.2m-0.2 0h1.2m-0.2 0h1.2m1.8 0h1.2m0.8 0h1.2m0.8 0h1.2m-0.2 0h1.2m-46.2 1h1.2m1.8 0h1.2m0.8 0h1.2m1.8 0h1.2m26.8 0h1.2m1.8 0h1.2m1.8 0h1.2m0.8 0h1.2m-52.2 1h1.2m3.8 0h1.2m0.8 0h1.2m-0.2 0h1.2m0.8 0h1.2m1.8 0h1.2m-0.2 0h1.2m-0.2 0h1.2m23.8 0h1.2m0.8 0h1.2m0.8 0h1.2m-0.2 0h1.2m0.8 0h1.2m-0.2 0h1.2m-0.2 0h1.2m-53.2 1h1.2m0.8 0h1.2m1.8 0h1.2m4.8 0h1.2m-0.2 0h1.2m3.8 0h1.2m24.8 0h1.2m1.8 0h1.2m-0.2 0h1.2m1.8 0h1.2m-0.2 0h1.2m-0.2 0h1.2m-0.2 0h1.2m-51.2 1h1.2m2.8 0h1.2m1.8 0h1.2m-0.2 0h1.2m0.8 0h1.2m1.8 0h1.2m0.8 0h1.2m24.8 0h1.2m1.8 0h1.2m-0.2 0h1.2m-0.2 0h1.2m-0.2 0h1.2m-0.2 0h1.2m-0.2 0h1.2m-0.2 0h1.2m-57.2 1h1.2m2.8 0h1.2m3.8 0h1.2m2.8 0h1.2m-0.2 0h1.2m0.8 0h1.2m0.8 0h1.2m0.8 0h1.2m25.8 0h1.2m0.8 0h1.2m-0.2 0h1.2m-0.2 0h1.2m-0.2 0h1.2m-0.2 0h1.2m0.8 0h1.2m-50.2 1h1.2m2.8 0h1.2m-0.2 0h1.2m0.8 0h1.2m-0.2 0h1.2m-0.2 0h1.2m-0.2 0h1.2m-0.2 0h1.2m1.8 0h1.2m18.8 0h1.2m2.8 0h1.2m2.8 0h1.2m0.8 0h1.2m0.8 0h1.2m1.8 0h1.2m-44.2 1h1.2m-0.2 0h1.2m-0.2 0h1.2m-0.2 0h1.2m0.8 0h1.2m-0.2 0h1.2m7.8 0h1.2m0.8 0h1.2m6.8 0h1.2m5.8 0h1.2m-0.2 0h1.2m0.8 0h1.2m1.8 0h1.2m0.8 0h1.2m-45.2 1h1.2m0.8 0h1.2m-0.2 0h1.2m-0.2 0h1.2m-0.2 0h1.2m1.8 0h1.2m-0.2 0h1.2m-0.2 0h1.2m-0.2 0h1.2m-0.2 0h1.2m-0.2 0h1.2m15.8 0h1.2m-0.2 0h1.2m2.8 0h1.2m-0.2 0h1.2m-0.2 0h1.2m0.8 0h1.2m2.8 0h1.2m-0.2 0h1.2m0.8 0h1.2m-47.2 1h1.2m0.8 0h1.2m0.8 0h1.2m-0.2 0h1.2m-0.2 0h1.2m4.8 0h1.2m-0.2 0h1.2m6.8 0h1.2m2.8 0h1.2m1.8 0h1.2m0.8 0h1.2m0.8 0h1.2m0.8 0h1.2m2.8 0h1.2m-0.2 0h1.2m-0.2 0h1.2m-0.2 0h1.2m-0.2 0h1.2m-0.2 0h1.2m1.8 0h1.2m-46.2 1h1.2m1.8 0h1.2m-0.2 0h1.2m-0.2 0h1.2m0.8 0h1.2m0.8 0h1.2m1.8 0h1.2m1.8 0h1.2m3.8 0h1.2m2.8 0h1.2m0.8 0h1.2m-0.2 0h1.2m-0.2 0h1.2m0.8 0h1.2m-0.2 0h1.2m-0.2 0h1.2m2.8 0h1.2m1.8 0h1.2m-0.2 0h1.2m-0.2 0h1.2m-0.2 0h1.2m-0.2 0h1.2m-43.2 1h1.2m-0.2 0h1.2m-0.2 0h1.2m-0.2 0h1.2m-0.2 0h1.2m1.8 0h1.2m0.8 0h1.2m4.8 0h1.2m-0.2 0h1.2m6.8 0h1.2m2.8 0h1.2m0.8 0h1.2m2.8 0h1.2m0.8 0h1.2m-0.2 0h1.2m0.8 0h1.2m-0.2 0h1.2m-0.2 0h1.2m-42.2 1h1.2m0.8 0h1.2m-0.2 0h1.2m-0.2 0h1.2m-0.2 0h1.2m2.8 0h1.2m-0.2 0h1.2m-0.2 0h1.2m1.8 0h1.2m-0.2 0h1.2m0.8 0h1.2m1.8 0h1.2m0.8 0h1.2m4.8 0h1.2m0.8 0h1.2m-0.2 0h1.2m-0.2 0h1.2m1.8 0h1.2m-0.2 0h1.2m-0.2 0h1.2m-0.2 0h1.2m0.8 0h1.2m-41.2 1h1.2m2.8 0h1.2m-0.2 0h1.2m1.8 0h1.2m-0.2 0h1.2m-0.2 0h1.2m1.8 0h1.2m0.8 0h1.2m0.8 0h1.2m3.8 0h1.2m1.8 0h1.2m4.8 0h1.2m0.8 0h1.2m-0.2 0h1.2m-0.2 0h1.2m-0.2 0h1.2m-34.2 1h1.2m-0.2 0h1.2m1.8 0h1.2m-0.2 0h1.2m-0.2 0h1.2m0.8 0h1.2m-0.2 0h1.2m-0.2 0h1.2m-0.2 0h1.2m2.8 0h1.2m-0.2 0h1.2m-0.2 0h1.2m-0.2 0h1.2m0.8 0h1.2m0.8 0h1.2m-0.2 0h1.2m0.8 0h1.2m-0.2 0h1.2m0.8 0h1.2m-0.2 0h1.2m-0.2 0h1.2m-0.2 0h1.2m2.8 0h1.2m-35.2 1h1.2m-0.2 0h1.2m-0.2 0h1.2m0.8 0h1.2m0.8 0h1.2m0.8 0h1.2m0.8 0h1.2m5.8 0h1.2m-0.2 0h1.2m0.8 0h1.2m-0.2 0h1.2m-0.2 0h1.2m-0.2 0h1.2m-0.2 0h1.2m-0.2 0h1.2m-0.2 0h1.2m-0.2 0h1.2m1.8 0h1.2m-0.2 0h1.2m-0.2 0h1.2m-32.2 1h1.2m-0.2 0h1.2m-0.2 0h1.2m-0.2 0h1.2m5.8 0h1.2m6.8 0h1.2m-0.2 0h1.2m0.8 0h1.2m-0.2 0h1.2m-0.2 0h1.2m2.8 0h1.2m2.8 0h1.2m-35.2 1h1.2m0.8 0h1.2m0.8 0h1.2m-0.2 0h1.2m0.8 0h1.2m-0.2 0h1.2m0.8 0h1.2m1.8 0h1.2m2.8 0h1.2m-0.2 0h1.2m-0.2 0h1.2m1.8 0h1.2m-0.2 0h1.2m-0.2 0h1.2m-0.2 0h1.2m0.8 0h1.2m-0.2 0h1.2m-0.2 0h1.2m-25.2 1h1.2m0.8 0h1.2m-0.2 0h1.2m0.8 0h1.2m-0.2 0h1.2m1.8 0h1.2m3.8 0h1.2m1.8 0h1.2m-0.2 0h1.2m0.8 0h1.2m-0.2 0h1.2m1.8 0h1.2m-0.2 0h1.2m-22.2 1h1.2m-0.2 0h1.2m-0.2 0h1.2m-0.2 0h1.2m1.8 0h1.2m0.8 0h1.2m1.8 0h1.2m0.8 0h1.2m-0.2 0h1.2m0.8 0h1.2m0.8 0h1.2m2.8 0h1.2m-27.2 1h1.2m0.8 0h1.2m-0.2 0h1.2m-0.2 0h1.2m0.8 0h1.2m-0.2 0h1.2m-0.2 0h1.2m1.8 0h1.2m-0.2 0h1.2m0.8 0h1.2m-0.2 0h1.2m-0.2 0h1.2m0.8 0h1.2m0.8 0h1.2m1.8 0h1.2m-0.2 0h1.2m-21.2 1h1.2m-0.2 0h1.2m0.8 0h1.2m-0.2 0h1.2m-0.2 0h1.2m0.8 0h1.2m1.8 0h1.2m3.8 0h1.2m-0.2 0h1.2m-0.2 0h1.2m1.8 0h1.2m-24.2 1h1.2m0.8 0h1.2m0.8 0h1.2m-0.2 0h1.2m0.8 0h1.2m0.8 0h1.2m1.8 0h1.2m-0.2 0h1.2m-0.2 0h1.2m1.8 0h1.2m1.8 0h1.2m-0.2 0h1.2m-14.2 1h1.2m-0.2 0h1.2m-0.2 0h1.2m-0.2 0h1.2m-0.2 0h1.2m2.8 0h1.2m-1.2 3h1.2m-0.2 0h1.2" stroke="#00e0ff" stroke-width="1.25"/>
<path d="M1097 2299.0h1.2m2.8 0h1.2m1.8 0h1.2m3.8 0h1.2m1.8 0h1.2m-0.2 0h1.2m-0.2 0h1.2m0.8 0h1.2m-18.2 1h1.2m-0.2 0h1.2m1.8 0h1.2m0.8 0h1.2m1.8 0h1.2m-0.2 0h1.2m-0.2 0h1.2m-0.2 0h1.2m0.8 0h1.2m-0.2 0h1.2m1.8 0h1.2m1.8 0h1.2m-25.2 1h1.2m3.8 0h1.2m5.8 0h1.2m-0.2 0h1.2m-0.2 0h1.2m-0.2 0h1.2m-0.2 0h1.2m-0.2 0h1.2m-0.2 0h1.2m-0.2 0h1.2m0.8 0h1.2m0.8 0h1.2m-26.2 1h1.2m1.8 0h1.2m-0.2 0h1.2m-0.2 0h1.2m-0.2 0h1.2m-0.2 0h1.2m-0.2 0h1.2m-0.2 0h1.2m1.8 0h1.2m-0.2 0h1.2m-0.2 0h1.2m-0.2 0h1.2m0.8 0h1.2m-0.2 0h1.2m-0.2 0h1.2m-0.2 0h1.2m-0.2 0h1.2m-0.2 0h1.2m-0.2 0h1.2m-0.2 0h1.2m-25.2 1h1.2m1.8 0h1.2m-0.2 0h1.2m-0.2 0h1.2m0.8 0h1.2m-0.2 0h1.2m-0.2 0h1.2m0.8 0h1.2m-0.2 0h1.2m-0.2 0h1.2m-0.2 0h1.2m-0.2 0h1.2m-0.2 0h1.2m-0.2 0h1.2m-0.2 0h1.2m0.8 0h1.2m-0.2 0h1.2m-0.2 0h1.2m1.8 0h1.2m-28.2 1h1.2m0.8 0h1.2m-0.2 0h1.2m2.8 0h1.2m3.8 0h1.2m-0.2 0h1.2m0.8 0h1.2m-0.2 0h1.2m3.8 0h1.2m-0.2 0h1.2m-0.2 0h1.2m0.8 0h1.2m2.8 0h1.2m0.8 0h1.2m-29.2 1h1.2m-0.2 0h1.2m1.8 0h1.2m-0.2 0h1.2m1.8 0h1.2m0.8 0h1.2m-0.2 0h1.2m0.8 0h1.2m-0.2 0h1.2m-0.2 0h1.2m1.8 0h1.2m-0.2 0h1.2m-0.2 0h1.2m1.8 0h1.2m-26.2 1h1.2m-0.2 0h1.2m0.8 0h1.2m-0.2 0h1.2m-0.2 0h1.2m0.8 0h1.2m-0.2 0h1.2m2.8 0h1.2m-0.2 0h1.2m1.8 0h1.2m-0.2 0h1.2m2.8 0h1.2m1.8 0h1.2m-0.2 0h1.2m0.8 0h1.2m0.8 0h1.2m-36.2 1h1.2m2.8 0h1.2m1.8 0h1.2m0.8 0h1.2m-0.2 0h1.2m-0.2 0h1.2m-0.2 0h1.2m-0.2 0h1.2m0.8 0h1.2m-0.2 0h1.2m-0.2 0h1.2m-0.2 0h1.2m-0.2 0h1.2m2.8 0h1.2m-0.2 0h1.2m-0.2 0h1.2m-0.2 0h1.2m-0.2 0h1.2m0.8 0h1.2m-26.2 1h1.2m1.8 0h1.2m-0.2 0h1.2m-0.2 0h1.2m0.8 0h1.2m0.8 0h1.2m-0.2 0h1.2m1.8 0h1.2m-0.2 0h1.2m-0.2 0h1.2m-0.2 0h1.2m0.8 0h1.2m-0.2 0h1.2m-0.2 0h1.2m0.8 0h1.2m0.8 0h1.2m-0.2 0h1.2m-0.2 0h1.2m-0.2 0h1.2m2.8 0h1.2m1.8 0h1.2m-39.2 1h1.2m5.8 0h1.2m1.8 0h1.2m1.8 0h1.2m-0.2 0h1.2m-0.2 0h1.2m-0.2 0h1.2m-0.2 0h1.2m-0.2 0h1.2m-0.2 0h1.2m0.8 0h1.2m-0.2 0h1.2m0.8 0h1.2m0.8 0h1.2m-0.2 0h1.2m2.8 0h1.2m2.8 0h1.2m1.8 0h1.2m-40.2 1h1.2m0.8 0h1.2m1.8 0h1.2m0.8 0h1.2m-0.2 0h1.2m-0.2 0h1.2m-0.2 0h1.2m-0.2 0h1.2m0.8 0h1.2m-0.2 0h1.2m0.8 0h1.2m0.8 0h1.2m0.8 0h1.2m1.8 0h1.2m0.8 0h1.2m-0.2 0h1.2m-0.2 0h1.2m0.8 0h1.2m-0.2 0h1.2m-0.2 0h1.2m-0.2 0h1.2m-0.2 0h1.2m0.8 0h1.2m-0.2 0h1.2m1.8 0h1.2m-38.2 1h1.2m-0.2 0h1.2m2.8 0h1.2m-0.2 0h1.2m-0.2 0h1.2m0.8 0h1.2m3.8 0h1.2m-0.2 0h1.2m-0.2 0h1.2m-0.2 0h1.2m-0.2 0h1.2m1.8 0h1.2m-0.2 0h1.2m-0.2 0h1.2m0.8 0h1.2m-0.2 0h1.2m-0.2 0h1.2m-0.2 0h1.2m0.8 0h1.2m0.8 0h1.2m-33.2 1h1.2m-0.2 0h1.2m-0.2 0h1.2m1.8 0h1.2m-0.2 0h1.2m-0.2 0h1.2m-0.2 0h1.2m0.8 0h1.2m-0.2 0h1.2m-0.2 0h1.2m-0.2 0h1.2m2.8 0h1.2m1.8 0h1.2m-0.2 0h1.2m-0.2 0h1.2m-0.2 0h1.2m-0.2 0h1.2m0.8 0h1.2m0.8 0h1.2m0.8 0h1.2m-0.2 0h1.2m1.8 0h1.2m-0.2 0h1.2m-38.2 1h1.2m0.8 0h1.2m-0.2 0h1.2m0.8 0h1.2m0.8 0h1.2m-0.2 0h1.2m-0.2 0h1.2m-0.2 0h1.2m-0.2 0h1.2m-0.2 0h1.2m-0.2 0h1.2m5.8 0h1.2m-0.2 0h1.2m-0.2 0h1.2m-0.2 0h1.2m0.8 0h1.2m-0.2 0h1.2m-0.2 0h1.2m-0.2 0h1.2m-0.2 0h1.2m-0.2 0h1.2m-0.2 0h1.2m0.8 0h1.2m-0.2 0h1.2m-35.2 1h1.2m2.8 0h1.2m0.8 0h1.2m-0.2 0h1.2m-0.2 0h1.2m-0.2 0h1.2m0.8 0h1.2m0.8 0h1.2m-0.2 0h1.2m1.8 0h1.2m0.8 0h1.2m-0.2 0h1.2m-0.2 0h1.2m-0.2 0h1.2m-0.2 0h1.2m-0.2 0h1.2m-0.2 0h1.2m-0.2 0h1.2m-0.2 0h1.2m-0.2 0h1.2m0.8 0h1.2m-0.2 0h1.2m-29.2 1h1.2m1.8 0h1.2m-0.2 0h1.2m0.8 0h1.2m0.8 0h1.2m-0.2 0h1.2m-0.2 0h1.2m0.8 0h1.2m-0.2 0h1.2m-0.2 0h1.2m1.8 0h1.2m-0.2 0h1.2m0.8 0h1.2m-0.2 0h1.2m0.8 0h1.2m-0.2 0h1.2m1.8 0h1.2m-0.2 0h1.2m-0.2 0h1.2m0.8 0h1.2m-34.2 1h1.2m1.8 0h1.2m-0.2 0h1.2m-0.2 0h1.2m-0.2 0h1.2m-0.2 0h1.2m-0.2 0h1.2m-0.2 0h1.2m-0.2 0h1.2m0.8 0h1.2m0.8 0h1.2m-0.2 0h1.2m-0.2 0h1.2m-0.2 0h1.2m-0.2 0h1.2m0.8 0h1.2m1.8 0h1.2m-0.2 0h1.2m-0.2 0h1.2m-0.2 0h1.2m2.8 0h1.2m3.8 0h1.2m-30.2 1h1.2m-0.2 0h1.2m-0.2 0h1.2m-0.2 0h1.2m-0.2 0h1.2m-0.2 0h1.2m-0.2 0h1.2m0.8 0h1.2m-0.2 0h1.2m0.8 0h1.2m-0.2 0h1.2m-0.2 0h1.2m-0.2 0h1.2m-0.2 0h1.2m1.8 0h1.2m-0.2 0h1.2m-0.2 0h1.2m2.8 0h1.2m0.8 0h1.2m-0.2 0h1.2m-0.2 0h1.2m-36.2 1h1.2m-0.2 0h1.2m-0.2 0h1.2m-0.2 0h1.2m2.8 0h1.2m-0.2 0h1.2m-0.2 0h1.2m-0.2 0h1.2m-0.2 0h1.2m-0.2 0h1.2m-0.2 0h1.2m0.8 0h1.2m0.8 0h1.2m0.8 0h1.2m-0.2 0h1.2m0.8 0h1.2m0.8 0h1.2m0.8 0h1.2m0.8 0h1.2m-0.2 0h1.2m-0.2 0h1.2m-31.2 1h1.2m0.8 0h1.2m0.8 0h1.2m1.8 0h1.2m1.8 0h1.2m-0.2 0h1.2m-0.2 0h1.2m-0.2 0h1.2m0.8 0h1.2m-0.2 0h1.2m-0.2 0h1.2m0.8 0h1.2m2.8 0h1.2m2.8 0h1.2m-0.2 0h1.2m2.8 0h1.2m-32.2 1h1.2m0.8 0h1.2m0.8 0h1.2m0.8 0h1.2m-0.2 0h1.2m-0.2 0h1.2m1.8 0h1.2m-0.2 0h1.2m-0.2 0h1.2m0.8 0h1.2m-0.2 0h1.2m-0.2 0h1.2m0.8 0h1.2m0.8 0h1.2m0.8 0h1.2m1.8 0h1.2m1.8 0h1.2m-30.2 1h1.2m-0.2 0h1.2m-0.2 0h1.2m2.8 0h1.2m-0.2 0h1.2m1.8 0h1.2m0.8 0h1.2m-0.2 0h1.2m0.8 0h1.2m0.8 0h1.2m-0.2 0h1.2m-0.2 0h1.2m0.8 0h1.2m0.8 0h1.2m-24.2 1h1.2m-0.2 0h1.2m2.8 0h1.2m-0.2 0h1.2m0.8 0h1.2m0.8 0h1.2m0.8 0h1.2m-0.2 0h1.2m-0.2 0h1.2m-0.2 0h1.2m0.8 0h1.2m1.8 0h1.2m-0.2 0h1.2m-0.2 0h1.2m-0.2 0h1.2m-0.2 0h1.2m0.8 0h1.2m-27.2 1h1.2m8.8 0h1.2m-0.2 0h1.2m3.8 0h1.2m3.8 0h1.2m-21.2 1h1.2m0.8 0h1.2m0.8 0h1.2m0.8 0h1.2m0.8 0h1.2m-0.2 0h1.2m-0.2 0h1.2m-0.2 0h1.2m-0.2 0h1.2m-0.2 0h1.2m1.8 0h1.2m-12.2 1h1.2m-0.2 0h1.2m-0.2 0h1.2m0.8 0h1.2m-0.2 0h1.2m-0.2 0h1.2m-0.2 0h1.2m-0.2 0h1.2m0.8 0h1.2m1.8 0h1.2m-15.2 1h1.2m0.8 0h1.2m-0.2 0h1.2m0.8 0h1.2m-0.2 0h1.2m-0.2 0h1.2m-5.2 1h1.2m-0.2 0h1.2m0.8 0h1.2m0.8 0h1.2m-5.2 1h1.2m-0.2 1h1.2" stroke="#00e000" stroke-width="1.25"/>
<path d="M1113 2303.0h1.2m-5.2 1h1.2m-0.2 0h1.2m-0.2 0h1.2m-0.2 0h1.2m-9.2 1h1.2m5.8 0h1.2m-0.2 0h1.2m-11.2 1h1.2m-0.2 0h1.2m-0.2 0h1.2m5.8 0h1.2m-0.2 0h1.2m-0.2 0h1.2m-6.2 1h1.2m-0.2 0h1.2m4.8 0h1.2m-14.2 1h1.2m-0.2 0h1.2m3.8 0h1.2m2.8 0h1.2m0.8 0h1.2m-17.2 1h1.2m-0.2 0h1.2m9.8 0h1.2m0.8 0h1.2m1.8 0h1.2m-18.2 1h1.2m1.8 0h1.2m2.8 0h1.2m0.8 0h1.2m-0.2 0h1.2m0.8 0h1.2m2.8 0h1.2m-19.2 1h1.2m0.8 0h1.2m0.8 0h1.2m-0.2 0h1.2m5.8 0h1.2m2.8 0h1.2m-16.2 1h1.2m3.8 0h1.2m-0.2 0h1.2m-0.2 0h1.2m0.8 0h1.2m-0.2 0h1.2m4.8 0h1.2m-14.2 1h1.2m-0.2 0h1.2m-0.2 0h1.2m-0.2 0h1.2m-0.2 0h1.2m-0.2 0h1.2m-8.2 1h1.2m1.8 0h1.2m-0.2 0h1.2m0.8 0h1.2m-11.2 1h1.2m0.8 0h1.2m2.8 0h1.2m2.8 0h1.2m-0.2 0h1.2m-0.2 1h1.2m-7.2 1h1.2m0.8 1h1.2" stroke="#60f000" stroke-width="1.25"/>
<path d="M1099 2311.0h1.2" stroke="#f0f000" stroke-width="1.25"/>
<defs><linearGradient id="bl4" x1="0" x2="1"><stop offset="0" stop-color="#0000ff" stop-opacity="0.3"/><stop offset="0.25" stop-color="#00d000"/><stop offset="0.5" stop-color="#ffd000"/><stop offset="0.7" stop-color="#ff2000"/><stop offset="0.85" stop-color="#ffd000"/><stop offset="1" stop-color="#00c0ff"/></linearGradient></defs>
<rect x="1038.4" y="2389.1" width="115.0" height="2" fill="url(#bl4)"/>
<rect x="1026.20" y="2147.00" width="244.60" height="244.30" fill="none" stroke="#222" stroke-width="1.3"/>
<line x1="1152.30" y1="2147.00" x2="1152.30" y2="2391.30" stroke="#111" stroke-width="2.00"/>
<line x1="1026.20" y1="2279.30" x2="1270.80" y2="2279.30" stroke="#111" stroke-width="2.00"/>
<path d="M1026.2 2391.3h-7M1026.2 2391.3v7M1026.2 2350.6h-7M1067.0 2391.3v7M1026.2 2309.9h-7M1107.7 2391.3v7M1026.2 2269.2h-7M1148.5 2391.3v7M1026.2 2228.4h-7M1189.3 2391.3v7M1026.2 2187.7h-7M1230.0 2391.3v7M1026.2 2147.0h-7M1270.8 2391.3v7" stroke="#111" stroke-width="1.6" fill="none"/>
<path d="M1026.2 2379.0h-3.5M1038.5 2391.3v3.5M1026.2 2371.9h-3.5M1045.7 2391.3v3.5M1026.2 2366.8h-3.5M1050.7 2391.3v3.5M1026.2 2362.8h-4.5M1054.7 2391.3v4.5M1026.2 2359.6h-3.5M1057.9 2391.3v3.5M1026.2 2356.9h-3.5M1060.7 2391.3v3.5M1026.2 2354.5h-3.5M1063.0 2391.3v3.5M1026.2 2352.4h-3.5M1065.1 2391.3v3.5M1026.2 2338.3h-3.5M1079.2 2391.3v3.5M1026.2 2331.2h-3.5M1086.4 2391.3v3.5M1026.2 2326.1h-3.5M1091.5 2391.3v3.5M1026.2 2322.1h-4.5M1095.5 2391.3v4.5M1026.2 2318.9h-3.5M1098.7 2391.3v3.5M1026.2 2316.2h-3.5M1101.4 2391.3v3.5M1026.2 2313.8h-3.5M1103.8 2391.3v3.5M1026.2 2311.7h-3.5M1105.9 2391.3v3.5M1026.2 2297.6h-3.5M1120.0 2391.3v3.5M1026.2 2290.4h-3.5M1127.2 2391.3v3.5M1026.2 2285.4h-3.5M1132.3 2391.3v3.5M1026.2 2281.4h-4.5M1136.2 2391.3v4.5M1026.2 2278.2h-3.5M1139.5 2391.3v3.5M1026.2 2275.5h-3.5M1142.2 2391.3v3.5M1026.2 2273.1h-3.5M1144.5 2391.3v3.5M1026.2 2271.0h-3.5M1146.6 2391.3v3.5M1026.2 2256.9h-3.5M1160.8 2391.3v3.5M1026.2 2249.7h-3.5M1168.0 2391.3v3.5M1026.2 2244.6h-3.5M1173.0 2391.3v3.5M1026.2 2240.7h-4.5M1177.0 2391.3v4.5M1026.2 2237.5h-3.5M1180.2 2391.3v3.5M1026.2 2234.7h-3.5M1183.0 2391.3v3.5M1026.2 2232.4h-3.5M1185.3 2391.3v3.5M1026.2 2230.3h-3.5M1187.4 2391.3v3.5M1026.2 2216.2h-3.5M1201.5 2391.3v3.5M1026.2 2209.0h-3.5M1208.7 2391.3v3.5M1026.2 2203.9h-3.5M1213.8 2391.3v3.5M1026.2 2200.0h-4.5M1217.8 2391.3v4.5M1026.2 2196.7h-3.5M1221.0 2391.3v3.5M1026.2 2194.0h-3.5M1223.7 2391.3v3.5M1026.2 2191.7h-3.5M1226.1 2391.3v3.5M1026.2 2189.6h-3.5M1228.2 2391.3v3.5M1026.2 2175.5h-3.5M1242.3 2391.3v3.5M1026.2 2168.3h-3.5M1249.5 2391.3v3.5M1026.2 2163.2h-3.5M1254.6 2391.3v3.5M1026.2 2159.3h-4.5M1258.5 2391.3v4.5M1026.2 2156.0h-3.5M1261.8 2391.3v3.5M1026.2 2153.3h-3.5M1264.5 2391.3v3.5M1026.2 2150.9h-3.5M1266.8 2391.3v3.5M1026.2 2148.9h-3.5M1268.9 2391.3v3.5" stroke="#333" stroke-width="1" fill="none"/>
<text x="998.70" y="2391.30" font-size="9.00" fill="#222">10</text>
<text x="1009.60" y="2383.80" font-size="9.00" fill="#222">0</text>
<text x="1031.20" y="2421.30" font-size="9.00" fill="#222">10</text>
<text x="1041.20" y="2413.80" font-size="9.00" fill="#222">0</text>
<text x="998.70" y="2357.78" font-size="9.00" fill="#222">10</text>
<text x="1009.60" y="2350.28" font-size="9.00" fill="#222">1</text>
<text x="1064.17" y="2421.30" font-size="9.00" fill="#222">10</text>
<text x="1074.17" y="2413.80" font-size="9.00" fill="#222">1</text>
<text x="998.70" y="2317.07" font-size="9.00" fill="#222">10</text>
<text x="1009.60" y="2309.57" font-size="9.00" fill="#222">2</text>
<text x="1104.93" y="2421.30" font-size="9.00" fill="#222">10</text>
<text x="1114.93" y="2413.80" font-size="9.00" fill="#222">2</text>
<text x="998.70" y="2276.35" font-size="9.00" fill="#222">10</text>
<text x="1009.60" y="2268.85" font-size="9.00" fill="#222">3</text>
<text x="1145.70" y="2421.30" font-size="9.00" fill="#222">10</text>
<text x="1155.70" y="2413.80" font-size="9.00" fill="#222">3</text>
<text x="998.70" y="2235.63" font-size="9.00" fill="#222">10</text>
<text x="1009.60" y="2228.13" font-size="9.00" fill="#222">4</text>
<text x="1186.47" y="2421.30" font-size="9.00" fill="#222">10</text>
<text x="1196.47" y="2413.80" font-size="9.00" fill="#222">4</text>
<text x="998.70" y="2194.92" font-size="9.00" fill="#222">10</text>
<text x="1009.60" y="2187.42" font-size="9.00" fill="#222">5</text>
<text x="1227.23" y="2421.30" font-size="9.00" fill="#222">10</text>
<text x="1237.23" y="2413.80" font-size="9.00" fill="#222">5</text>
<text x="998.70" y="2165.00" font-size="9.00" fill="#222">10</text>
<text x="1009.60" y="2157.50" font-size="9.00" fill="#222">6</text>
<text x="1257.80" y="2421.30" font-size="9.00" fill="#222">10</text>
<text x="1267.80" y="2413.80" font-size="9.00" fill="#222">6</text>
<text transform="translate(989.53,2327.18) rotate(-90)" font-size="11.55" fill="#222">Comp-BL2-A :: PI-PI-A</text>
<text transform="translate(1067.04,2442.62)" font-size="11.30" fill="#222">Comp-BL1-A :: Annex-v-FITC-A</text>
<text x="1030.60" y="2168.50" font-size="10.80" fill="#222">Q1</text>
<text x="1030.60" y="2184.80" font-size="10.80" fill="#222">0.35</text>
<text x="1249.50" y="2168.50" font-size="10.80" text-anchor="end" fill="#222">Q2</text>
<text x="1249.50" y="2184.80" font-size="10.80" text-anchor="end" fill="#222">5.33</text>
<text x="1030.60" y="2361.30" font-size="10.80" fill="#222">Q4</text>
<text x="1030.60" y="2378.30" font-size="10.80" fill="#222">91.8</text>
<text x="1249.50" y="2361.30" font-size="10.80" text-anchor="end" fill="#222">Q3</text>
<text x="1249.50" y="2378.30" font-size="10.80" text-anchor="end" fill="#222">2.47</text>
<line x1="1400.00" y1="2151.50" x2="1400.00" y2="2395.80" stroke="#000" stroke-width="3.40"/>
<line x1="1398.30" y1="2394.10" x2="1638.60" y2="2394.10" stroke="#000" stroke-width="3.40"/>
<line x1="1392.50" y1="2394.10" x2="1400.00" y2="2394.10" stroke="#000" stroke-width="3.40"/>
<line x1="1392.50" y1="2333.88" x2="1400.00" y2="2333.88" stroke="#000" stroke-width="3.40"/>
<line x1="1392.50" y1="2273.65" x2="1400.00" y2="2273.65" stroke="#000" stroke-width="3.40"/>
<line x1="1392.50" y1="2213.42" x2="1400.00" y2="2213.42" stroke="#000" stroke-width="3.40"/>
<line x1="1392.50" y1="2153.20" x2="1400.00" y2="2153.20" stroke="#000" stroke-width="3.40"/>
<line x1="1428.80" y1="2394.10" x2="1428.80" y2="2401.60" stroke="#000" stroke-width="3.40"/>
<line x1="1487.40" y1="2394.10" x2="1487.40" y2="2401.60" stroke="#000" stroke-width="3.40"/>
<line x1="1546.80" y1="2394.10" x2="1546.80" y2="2401.60" stroke="#000" stroke-width="3.40"/>
<line x1="1606.00" y1="2394.10" x2="1606.00" y2="2401.60" stroke="#000" stroke-width="3.40"/>
<text transform="translate(1375.29,2405.31) scale(0.950,1)" font-size="18.00" font-weight="bold">0</text>
<text transform="translate(1365.80,2345.09) scale(0.950,1)" font-size="18.00" font-weight="bold">10</text>
<text transform="translate(1365.80,2284.86) scale(0.950,1)" font-size="18.00" font-weight="bold">20</text>
<text transform="translate(1365.80,2224.63) scale(0.950,1)" font-size="18.00" font-weight="bold">30</text>
<text transform="translate(1365.80,2164.41) scale(0.950,1)" font-size="18.00" font-weight="bold">40</text>
<text transform="translate(1469.72,2162.55)" font-size="39.71">LLC</text>
<text transform="translate(1350.61,2400.00) rotate(-90)" font-size="33.04">Apoptotic cells (%)</text>
<text transform="translate(1403.14,2438.66)" font-size="32.48">WT</text>
<text transform="translate(1463.06,2438.84)" font-size="33.00">KO</text>
<text transform="translate(1521.25,2438.72)" font-size="33.14">MU</text>
<text transform="translate(1582.82,2438.76)" font-size="32.79">OE</text>
<circle cx="1417.30" cy="2361.80" r="5.25" fill="#000000"/><circle cx="1428.80" cy="2369.40" r="5.25" fill="#000000"/><circle cx="1439.00" cy="2366.90" r="5.25" fill="#000000"/><circle cx="1422.40" cy="2365.60" r="5.25" fill="#000000"/><circle cx="1433.90" cy="2367.60" r="5.25" fill="#000000"/><line x1="1409.65" y1="2365.60" x2="1447.95" y2="2365.60" stroke="#000" stroke-width="2.60"/>
<line x1="1487.40" y1="2218.50" x2="1487.40" y2="2247.50" stroke="#ff0000" stroke-width="3.40"/><line x1="1477.85" y1="2218.50" x2="1496.95" y2="2218.50" stroke="#ff0000" stroke-width="3.40"/><line x1="1487.40" y1="2247.50" x2="1487.40" y2="2276.90" stroke="#ff0000" stroke-width="3.40"/><line x1="1477.85" y1="2276.90" x2="1496.95" y2="2276.90" stroke="#ff0000" stroke-width="3.40"/><rect x="1482.15" y="2213.75" width="10.50" height="10.50" fill="#ff0000"/><rect x="1482.15" y="2235.95" width="10.50" height="10.50" fill="#ff0000"/><rect x="1482.15" y="2274.95" width="10.50" height="10.50" fill="#ff0000"/><line x1="1467.90" y1="2247.50" x2="1506.90" y2="2247.50" stroke="#000" stroke-width="2.60"/>
<line x1="1546.80" y1="2310.80" x2="1546.80" y2="2326.80" stroke="#00c000" stroke-width="3.40"/><line x1="1537.85" y1="2310.80" x2="1555.75" y2="2310.80" stroke="#00c000" stroke-width="3.40"/><line x1="1546.80" y1="2326.80" x2="1546.80" y2="2343.90" stroke="#00c000" stroke-width="3.40"/><line x1="1537.85" y1="2343.90" x2="1555.75" y2="2343.90" stroke="#00c000" stroke-width="3.40"/><path d="M1546.80 2302.79L1552.55 2313.14L1541.05 2313.14Z" fill="#00c000"/><path d="M1556.30 2323.69L1562.05 2334.04L1550.55 2334.04Z" fill="#00c000"/><path d="M1539.70 2338.99L1545.45 2349.34L1533.95 2349.34Z" fill="#00c000"/><line x1="1527.65" y1="2326.80" x2="1565.95" y2="2326.80" stroke="#000" stroke-width="2.60"/>
<line x1="1606.00" y1="2346.50" x2="1606.00" y2="2354.60" stroke="#0000c8" stroke-width="3.40"/><line x1="1596.50" y1="2346.50" x2="1615.50" y2="2346.50" stroke="#0000c8" stroke-width="3.40"/><line x1="1606.00" y1="2354.60" x2="1606.00" y2="2361.80" stroke="#0000c8" stroke-width="3.40"/><line x1="1596.50" y1="2361.80" x2="1615.50" y2="2361.80" stroke="#0000c8" stroke-width="3.40"/><path d="M1597.10 2354.71L1602.85 2344.36L1591.35 2344.36Z" fill="#0000c8"/><path d="M1617.50 2355.21L1623.25 2344.86L1611.75 2344.86Z" fill="#0000c8"/><path d="M1606.00 2369.21L1611.75 2358.86L1600.25 2358.86Z" fill="#0000c8"/><line x1="1586.85" y1="2354.60" x2="1625.15" y2="2354.60" stroke="#000" stroke-width="2.60"/>
<line x1="1432.60" y1="2204.20" x2="1496.80" y2="2204.20" stroke="#000" stroke-width="3.50"/>
<text transform="translate(1456.81,2207.80)" font-size="19.71">**</text>
<line x1="1507.80" y1="2201.60" x2="1589.40" y2="2201.60" stroke="#000" stroke-width="3.50"/>
<text transform="translate(1542.39,2204.93)" font-size="18.50">*</text>
<line x1="1553.20" y1="2297.50" x2="1634.80" y2="2297.50" stroke="#000" stroke-width="3.50"/>
<text transform="translate(1553.22,2290.66)" font-size="27.38">p=0.06</text>
</svg></body></html>
